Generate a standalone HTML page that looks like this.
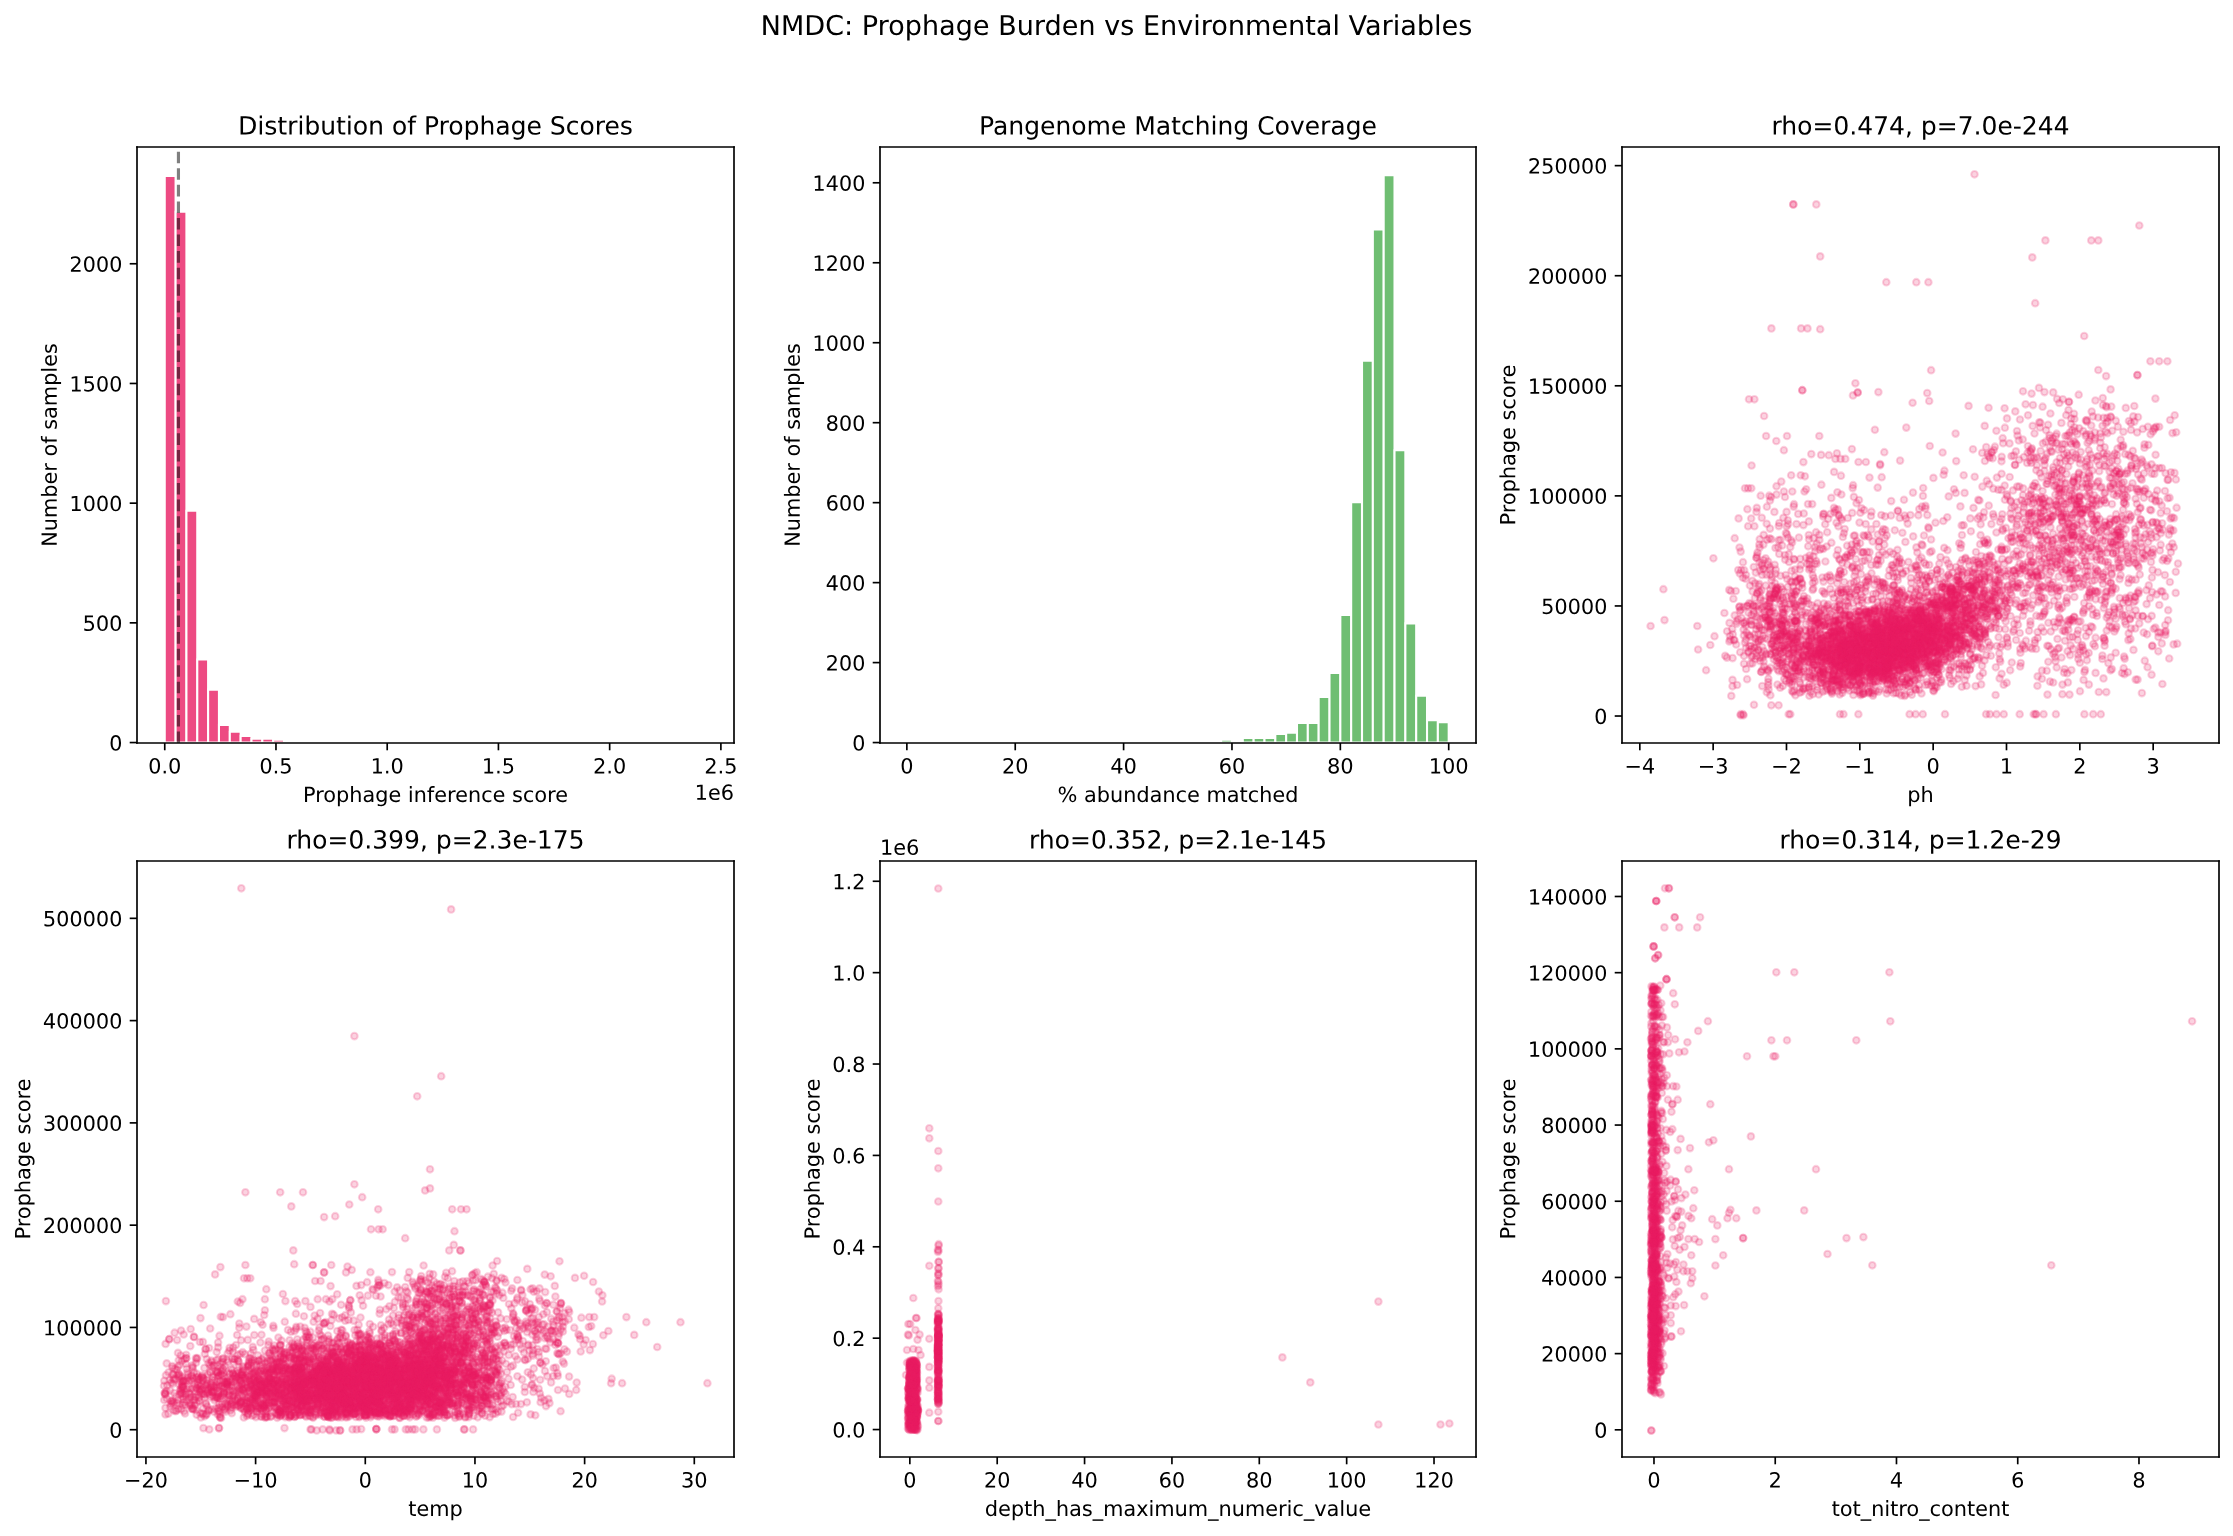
<!DOCTYPE html>
<html><head><meta charset="utf-8"><style>html,body{margin:0;padding:0;background:#fff;overflow:hidden}svg{display:block}</style></head><body>
<svg width="2233" height="1536" viewBox="0 0 1071.84 737.28" version="1.1">
<defs>
<marker id="mk" markerUnits="userSpaceOnUse" markerWidth="12" markerHeight="12" refX="6" refY="6" overflow="visible"><circle cx="6" cy="6" r="3.2939" style="fill:#e91e63;fill-opacity:0.2;stroke:#e91e63;stroke-opacity:0.2;stroke-width:2.0833"/></marker>
<style type="text/css">*{stroke-linejoin: round; stroke-linecap: butt} .sc{fill:none;stroke:none;marker-start:url(#mk);marker-mid:url(#mk);marker-end:url(#mk)}</style>
</defs>
<g id="figure_1">
<g id="patch_1">
<path d="M 0 737.28 L 1071.84 737.28 L 1071.84 0 L 0 0 z
" style="fill: #ffffff"/>
</g>
<g id="axes_1">
<g id="patch_2">
<path d="M 65.76 356.64 L 352.32 356.64 L 352.32 70.56 L 65.76 70.56 z
" style="fill: #ffffff"/>
</g>
<g id="patch_3">
<path d="M 79.076571 356.4288 L 84.281001 356.4288 L 84.281001 84.432096 L 79.076571 84.432096 z
" clip-path="url(#p96f0b81eba)" style="fill: #e91e63; opacity: 0.8; stroke: #ffffff; stroke-linejoin: miter"/>
</g>
<g id="patch_4">
<path d="M 84.281001 356.4288 L 89.48543 356.4288 L 89.48543 101.668896 L 84.281001 101.668896 z
" clip-path="url(#p96f0b81eba)" style="fill: #e91e63; opacity: 0.8; stroke: #ffffff; stroke-linejoin: miter"/>
</g>
<g id="patch_5">
<path d="M 89.48543 356.4288 L 94.689859 356.4288 L 94.689859 245.193984 L 89.48543 245.193984 z
" clip-path="url(#p96f0b81eba)" style="fill: #e91e63; opacity: 0.8; stroke: #ffffff; stroke-linejoin: miter"/>
</g>
<g id="patch_6">
<path d="M 94.689859 356.4288 L 99.894289 356.4288 L 99.894289 316.554336 L 94.689859 316.554336 z
" clip-path="url(#p96f0b81eba)" style="fill: #e91e63; opacity: 0.8; stroke: #ffffff; stroke-linejoin: miter"/>
</g>
<g id="patch_7">
<path d="M 99.894289 356.4288 L 105.098718 356.4288 L 105.098718 331.033248 L 99.894289 331.033248 z
" clip-path="url(#p96f0b81eba)" style="fill: #e91e63; opacity: 0.8; stroke: #ffffff; stroke-linejoin: miter"/>
</g>
<g id="patch_8">
<path d="M 105.098718 356.4288 L 110.303148 356.4288 L 110.303148 347.925312 L 105.098718 347.925312 z
" clip-path="url(#p96f0b81eba)" style="fill: #e91e63; opacity: 0.8; stroke: #ffffff; stroke-linejoin: miter"/>
</g>
<g id="patch_9">
<path d="M 110.303148 356.4288 L 115.507577 356.4288 L 115.507577 351.25776 L 110.303148 351.25776 z
" clip-path="url(#p96f0b81eba)" style="fill: #e91e63; opacity: 0.8; stroke: #ffffff; stroke-linejoin: miter"/>
</g>
<g id="patch_10">
<path d="M 115.507577 356.4288 L 120.712006 356.4288 L 120.712006 353.211264 L 115.507577 353.211264 z
" clip-path="url(#p96f0b81eba)" style="fill: #e91e63; opacity: 0.8; stroke: #ffffff; stroke-linejoin: miter"/>
</g>
<g id="patch_11">
<path d="M 120.712006 356.4288 L 125.916436 356.4288 L 125.916436 354.590208 L 120.712006 354.590208 z
" clip-path="url(#p96f0b81eba)" style="fill: #e91e63; opacity: 0.8; stroke: #ffffff; stroke-linejoin: miter"/>
</g>
<g id="patch_12">
<path d="M 125.916436 356.4288 L 131.120865 356.4288 L 131.120865 354.590208 L 125.916436 354.590208 z
" clip-path="url(#p96f0b81eba)" style="fill: #e91e63; opacity: 0.8; stroke: #ffffff; stroke-linejoin: miter"/>
</g>
<g id="patch_13">
<path d="M 131.120865 356.4288 L 136.325294 356.4288 L 136.325294 355.049856 L 131.120865 355.049856 z
" clip-path="url(#p96f0b81eba)" style="fill: #e91e63; opacity: 0.8; stroke: #ffffff; stroke-linejoin: miter"/>
</g>
<g id="patch_14">
<path d="M 136.325294 356.4288 L 141.529724 356.4288 L 141.529724 356.313888 L 136.325294 356.313888 z
" clip-path="url(#p96f0b81eba)" style="fill: #e91e63; opacity: 0.8; stroke: #ffffff; stroke-linejoin: miter"/>
</g>
<g id="patch_15">
<path d="M 141.529724 356.4288 L 146.734153 356.4288 L 146.734153 356.313888 L 141.529724 356.313888 z
" clip-path="url(#p96f0b81eba)" style="fill: #e91e63; opacity: 0.8; stroke: #ffffff; stroke-linejoin: miter"/>
</g>
<g id="patch_16">
<path d="M 146.734153 356.4288 L 151.938582 356.4288 L 151.938582 356.313888 L 146.734153 356.313888 z
" clip-path="url(#p96f0b81eba)" style="fill: #e91e63; opacity: 0.8; stroke: #ffffff; stroke-linejoin: miter"/>
</g>
<g id="patch_17">
<path d="M 151.938582 356.4288 L 157.143012 356.4288 L 157.143012 356.313888 L 151.938582 356.313888 z
" clip-path="url(#p96f0b81eba)" style="fill: #e91e63; opacity: 0.8; stroke: #ffffff; stroke-linejoin: miter"/>
</g>
<g id="patch_18">
<path d="M 157.143012 356.4288 L 162.347441 356.4288 L 162.347441 356.4288 L 157.143012 356.4288 z
" clip-path="url(#p96f0b81eba)" style="fill: #e91e63; opacity: 0.8; stroke: #ffffff; stroke-linejoin: miter"/>
</g>
<g id="patch_19">
<path d="M 162.347441 356.4288 L 167.55187 356.4288 L 167.55187 356.313888 L 162.347441 356.313888 z
" clip-path="url(#p96f0b81eba)" style="fill: #e91e63; opacity: 0.8; stroke: #ffffff; stroke-linejoin: miter"/>
</g>
<g id="patch_20">
<path d="M 167.55187 356.4288 L 172.7563 356.4288 L 172.7563 356.4288 L 167.55187 356.4288 z
" clip-path="url(#p96f0b81eba)" style="fill: #e91e63; opacity: 0.8; stroke: #ffffff; stroke-linejoin: miter"/>
</g>
<g id="patch_21">
<path d="M 172.7563 356.4288 L 177.960729 356.4288 L 177.960729 356.313888 L 172.7563 356.313888 z
" clip-path="url(#p96f0b81eba)" style="fill: #e91e63; opacity: 0.8; stroke: #ffffff; stroke-linejoin: miter"/>
</g>
<g id="patch_22">
<path d="M 177.960729 356.4288 L 183.165158 356.4288 L 183.165158 356.4288 L 177.960729 356.4288 z
" clip-path="url(#p96f0b81eba)" style="fill: #e91e63; opacity: 0.8; stroke: #ffffff; stroke-linejoin: miter"/>
</g>
<g id="patch_23">
<path d="M 183.165158 356.4288 L 188.369588 356.4288 L 188.369588 356.4288 L 183.165158 356.4288 z
" clip-path="url(#p96f0b81eba)" style="fill: #e91e63; opacity: 0.8; stroke: #ffffff; stroke-linejoin: miter"/>
</g>
<g id="patch_24">
<path d="M 188.369588 356.4288 L 193.574017 356.4288 L 193.574017 356.4288 L 188.369588 356.4288 z
" clip-path="url(#p96f0b81eba)" style="fill: #e91e63; opacity: 0.8; stroke: #ffffff; stroke-linejoin: miter"/>
</g>
<g id="patch_25">
<path d="M 193.574017 356.4288 L 198.778446 356.4288 L 198.778446 356.4288 L 193.574017 356.4288 z
" clip-path="url(#p96f0b81eba)" style="fill: #e91e63; opacity: 0.8; stroke: #ffffff; stroke-linejoin: miter"/>
</g>
<g id="patch_26">
<path d="M 198.778446 356.4288 L 203.982876 356.4288 L 203.982876 356.4288 L 198.778446 356.4288 z
" clip-path="url(#p96f0b81eba)" style="fill: #e91e63; opacity: 0.8; stroke: #ffffff; stroke-linejoin: miter"/>
</g>
<g id="patch_27">
<path d="M 203.982876 356.4288 L 209.187305 356.4288 L 209.187305 356.4288 L 203.982876 356.4288 z
" clip-path="url(#p96f0b81eba)" style="fill: #e91e63; opacity: 0.8; stroke: #ffffff; stroke-linejoin: miter"/>
</g>
<g id="patch_28">
<path d="M 209.187305 356.4288 L 214.391734 356.4288 L 214.391734 356.4288 L 209.187305 356.4288 z
" clip-path="url(#p96f0b81eba)" style="fill: #e91e63; opacity: 0.8; stroke: #ffffff; stroke-linejoin: miter"/>
</g>
<g id="patch_29">
<path d="M 214.391734 356.4288 L 219.596164 356.4288 L 219.596164 356.4288 L 214.391734 356.4288 z
" clip-path="url(#p96f0b81eba)" style="fill: #e91e63; opacity: 0.8; stroke: #ffffff; stroke-linejoin: miter"/>
</g>
<g id="patch_30">
<path d="M 219.596164 356.4288 L 224.800593 356.4288 L 224.800593 356.4288 L 219.596164 356.4288 z
" clip-path="url(#p96f0b81eba)" style="fill: #e91e63; opacity: 0.8; stroke: #ffffff; stroke-linejoin: miter"/>
</g>
<g id="patch_31">
<path d="M 224.800593 356.4288 L 230.005023 356.4288 L 230.005023 356.4288 L 224.800593 356.4288 z
" clip-path="url(#p96f0b81eba)" style="fill: #e91e63; opacity: 0.8; stroke: #ffffff; stroke-linejoin: miter"/>
</g>
<g id="patch_32">
<path d="M 230.005023 356.4288 L 235.209452 356.4288 L 235.209452 356.4288 L 230.005023 356.4288 z
" clip-path="url(#p96f0b81eba)" style="fill: #e91e63; opacity: 0.8; stroke: #ffffff; stroke-linejoin: miter"/>
</g>
<g id="patch_33">
<path d="M 235.209452 356.4288 L 240.413881 356.4288 L 240.413881 356.4288 L 235.209452 356.4288 z
" clip-path="url(#p96f0b81eba)" style="fill: #e91e63; opacity: 0.8; stroke: #ffffff; stroke-linejoin: miter"/>
</g>
<g id="patch_34">
<path d="M 240.413881 356.4288 L 245.618311 356.4288 L 245.618311 356.4288 L 240.413881 356.4288 z
" clip-path="url(#p96f0b81eba)" style="fill: #e91e63; opacity: 0.8; stroke: #ffffff; stroke-linejoin: miter"/>
</g>
<g id="patch_35">
<path d="M 245.618311 356.4288 L 250.82274 356.4288 L 250.82274 356.4288 L 245.618311 356.4288 z
" clip-path="url(#p96f0b81eba)" style="fill: #e91e63; opacity: 0.8; stroke: #ffffff; stroke-linejoin: miter"/>
</g>
<g id="patch_36">
<path d="M 250.82274 356.4288 L 256.027169 356.4288 L 256.027169 356.4288 L 250.82274 356.4288 z
" clip-path="url(#p96f0b81eba)" style="fill: #e91e63; opacity: 0.8; stroke: #ffffff; stroke-linejoin: miter"/>
</g>
<g id="patch_37">
<path d="M 256.027169 356.4288 L 261.231599 356.4288 L 261.231599 356.4288 L 256.027169 356.4288 z
" clip-path="url(#p96f0b81eba)" style="fill: #e91e63; opacity: 0.8; stroke: #ffffff; stroke-linejoin: miter"/>
</g>
<g id="patch_38">
<path d="M 261.231599 356.4288 L 266.436028 356.4288 L 266.436028 356.4288 L 261.231599 356.4288 z
" clip-path="url(#p96f0b81eba)" style="fill: #e91e63; opacity: 0.8; stroke: #ffffff; stroke-linejoin: miter"/>
</g>
<g id="patch_39">
<path d="M 266.436028 356.4288 L 271.640457 356.4288 L 271.640457 356.4288 L 266.436028 356.4288 z
" clip-path="url(#p96f0b81eba)" style="fill: #e91e63; opacity: 0.8; stroke: #ffffff; stroke-linejoin: miter"/>
</g>
<g id="patch_40">
<path d="M 271.640457 356.4288 L 276.844887 356.4288 L 276.844887 356.4288 L 271.640457 356.4288 z
" clip-path="url(#p96f0b81eba)" style="fill: #e91e63; opacity: 0.8; stroke: #ffffff; stroke-linejoin: miter"/>
</g>
<g id="patch_41">
<path d="M 276.844887 356.4288 L 282.049316 356.4288 L 282.049316 356.4288 L 276.844887 356.4288 z
" clip-path="url(#p96f0b81eba)" style="fill: #e91e63; opacity: 0.8; stroke: #ffffff; stroke-linejoin: miter"/>
</g>
<g id="patch_42">
<path d="M 282.049316 356.4288 L 287.253745 356.4288 L 287.253745 356.4288 L 282.049316 356.4288 z
" clip-path="url(#p96f0b81eba)" style="fill: #e91e63; opacity: 0.8; stroke: #ffffff; stroke-linejoin: miter"/>
</g>
<g id="patch_43">
<path d="M 287.253745 356.4288 L 292.458175 356.4288 L 292.458175 356.4288 L 287.253745 356.4288 z
" clip-path="url(#p96f0b81eba)" style="fill: #e91e63; opacity: 0.8; stroke: #ffffff; stroke-linejoin: miter"/>
</g>
<g id="patch_44">
<path d="M 292.458175 356.4288 L 297.662604 356.4288 L 297.662604 356.4288 L 292.458175 356.4288 z
" clip-path="url(#p96f0b81eba)" style="fill: #e91e63; opacity: 0.8; stroke: #ffffff; stroke-linejoin: miter"/>
</g>
<g id="patch_45">
<path d="M 297.662604 356.4288 L 302.867033 356.4288 L 302.867033 356.4288 L 297.662604 356.4288 z
" clip-path="url(#p96f0b81eba)" style="fill: #e91e63; opacity: 0.8; stroke: #ffffff; stroke-linejoin: miter"/>
</g>
<g id="patch_46">
<path d="M 302.867033 356.4288 L 308.071463 356.4288 L 308.071463 356.4288 L 302.867033 356.4288 z
" clip-path="url(#p96f0b81eba)" style="fill: #e91e63; opacity: 0.8; stroke: #ffffff; stroke-linejoin: miter"/>
</g>
<g id="patch_47">
<path d="M 308.071463 356.4288 L 313.275892 356.4288 L 313.275892 356.4288 L 308.071463 356.4288 z
" clip-path="url(#p96f0b81eba)" style="fill: #e91e63; opacity: 0.8; stroke: #ffffff; stroke-linejoin: miter"/>
</g>
<g id="patch_48">
<path d="M 313.275892 356.4288 L 318.480321 356.4288 L 318.480321 356.4288 L 313.275892 356.4288 z
" clip-path="url(#p96f0b81eba)" style="fill: #e91e63; opacity: 0.8; stroke: #ffffff; stroke-linejoin: miter"/>
</g>
<g id="patch_49">
<path d="M 318.480321 356.4288 L 323.684751 356.4288 L 323.684751 356.4288 L 318.480321 356.4288 z
" clip-path="url(#p96f0b81eba)" style="fill: #e91e63; opacity: 0.8; stroke: #ffffff; stroke-linejoin: miter"/>
</g>
<g id="patch_50">
<path d="M 323.684751 356.4288 L 328.88918 356.4288 L 328.88918 356.4288 L 323.684751 356.4288 z
" clip-path="url(#p96f0b81eba)" style="fill: #e91e63; opacity: 0.8; stroke: #ffffff; stroke-linejoin: miter"/>
</g>
<g id="patch_51">
<path d="M 328.88918 356.4288 L 334.09361 356.4288 L 334.09361 356.4288 L 328.88918 356.4288 z
" clip-path="url(#p96f0b81eba)" style="fill: #e91e63; opacity: 0.8; stroke: #ffffff; stroke-linejoin: miter"/>
</g>
<g id="patch_52">
<path d="M 334.09361 356.4288 L 339.298039 356.4288 L 339.298039 356.313888 L 334.09361 356.313888 z
" clip-path="url(#p96f0b81eba)" style="fill: #e91e63; opacity: 0.8; stroke: #ffffff; stroke-linejoin: miter"/>
</g>
<g id="matplotlib.axis_1">
<g id="xtick_1">
<g id="line2d_1">
<defs>
<path id="m8da89e27fe" d="M 0 0 L 0 3.5 " style="stroke: #000000; stroke-width: 0.8"/>
</defs>
<g>
<use href="#m8da89e27fe" x="79.076571" y="356.64" style="stroke: #000000; stroke-width: 0.8"/>
</g>
</g>
<g id="text_1">
<!-- 0.0 -->
<g transform="translate(71.125009 371.238437) scale(0.1 -0.1)">
<defs>
<path id="DejaVuSans-30" d="M 2034 4250 Q 1547 4250 1301 3770 Q 1056 3291 1056 2328 Q 1056 1369 1301 889 Q 1547 409 2034 409 Q 2525 409 2770 889 Q 3016 1369 3016 2328 Q 3016 3291 2770 3770 Q 2525 4250 2034 4250 z
M 2034 4750 Q 2819 4750 3233 4129 Q 3647 3509 3647 2328 Q 3647 1150 3233 529 Q 2819 -91 2034 -91 Q 1250 -91 836 529 Q 422 1150 422 2328 Q 422 3509 836 4129 Q 1250 4750 2034 4750 z
" transform="scale(0.015625)"/>
<path id="DejaVuSans-2e" d="M 684 794 L 1344 794 L 1344 0 L 684 0 L 684 794 z
" transform="scale(0.015625)"/>
</defs>
<use href="#DejaVuSans-30"/>
<use href="#DejaVuSans-2e" transform="translate(63.623047 0)"/>
<use href="#DejaVuSans-30" transform="translate(95.410156 0)"/>
</g>
</g>
</g>
<g id="xtick_2">
<g id="line2d_2">
<g>
<use href="#m8da89e27fe" x="132.466286" y="356.64" style="stroke: #000000; stroke-width: 0.8"/>
</g>
</g>
<g id="text_2">
<!-- 0.5 -->
<g transform="translate(124.514723 371.238437) scale(0.1 -0.1)">
<defs>
<path id="DejaVuSans-35" d="M 691 4666 L 3169 4666 L 3169 4134 L 1269 4134 L 1269 2991 Q 1406 3038 1543 3061 Q 1681 3084 1819 3084 Q 2600 3084 3056 2656 Q 3513 2228 3513 1497 Q 3513 744 3044 326 Q 2575 -91 1722 -91 Q 1428 -91 1123 -41 Q 819 9 494 109 L 494 744 Q 775 591 1075 516 Q 1375 441 1709 441 Q 2250 441 2565 725 Q 2881 1009 2881 1497 Q 2881 1984 2565 2268 Q 2250 2553 1709 2553 Q 1456 2553 1204 2497 Q 953 2441 691 2322 L 691 4666 z
" transform="scale(0.015625)"/>
</defs>
<use href="#DejaVuSans-30"/>
<use href="#DejaVuSans-2e" transform="translate(63.623047 0)"/>
<use href="#DejaVuSans-35" transform="translate(95.410156 0)"/>
</g>
</g>
</g>
<g id="xtick_3">
<g id="line2d_3">
<g>
<use href="#m8da89e27fe" x="185.856" y="356.64" style="stroke: #000000; stroke-width: 0.8"/>
</g>
</g>
<g id="text_3">
<!-- 1.0 -->
<g transform="translate(177.904437 371.238437) scale(0.1 -0.1)">
<defs>
<path id="DejaVuSans-31" d="M 794 531 L 1825 531 L 1825 4091 L 703 3866 L 703 4441 L 1819 4666 L 2450 4666 L 2450 531 L 3481 531 L 3481 0 L 794 0 L 794 531 z
" transform="scale(0.015625)"/>
</defs>
<use href="#DejaVuSans-31"/>
<use href="#DejaVuSans-2e" transform="translate(63.623047 0)"/>
<use href="#DejaVuSans-30" transform="translate(95.410156 0)"/>
</g>
</g>
</g>
<g id="xtick_4">
<g id="line2d_4">
<g>
<use href="#m8da89e27fe" x="239.245714" y="356.64" style="stroke: #000000; stroke-width: 0.8"/>
</g>
</g>
<g id="text_4">
<!-- 1.5 -->
<g transform="translate(231.294152 371.238437) scale(0.1 -0.1)">
<use href="#DejaVuSans-31"/>
<use href="#DejaVuSans-2e" transform="translate(63.623047 0)"/>
<use href="#DejaVuSans-35" transform="translate(95.410156 0)"/>
</g>
</g>
</g>
<g id="xtick_5">
<g id="line2d_5">
<g>
<use href="#m8da89e27fe" x="292.635429" y="356.64" style="stroke: #000000; stroke-width: 0.8"/>
</g>
</g>
<g id="text_5">
<!-- 2.0 -->
<g transform="translate(284.683866 371.238437) scale(0.1 -0.1)">
<defs>
<path id="DejaVuSans-32" d="M 1228 531 L 3431 531 L 3431 0 L 469 0 L 469 531 Q 828 903 1448 1529 Q 2069 2156 2228 2338 Q 2531 2678 2651 2914 Q 2772 3150 2772 3378 Q 2772 3750 2511 3984 Q 2250 4219 1831 4219 Q 1534 4219 1204 4116 Q 875 4013 500 3803 L 500 4441 Q 881 4594 1212 4672 Q 1544 4750 1819 4750 Q 2544 4750 2975 4387 Q 3406 4025 3406 3419 Q 3406 3131 3298 2873 Q 3191 2616 2906 2266 Q 2828 2175 2409 1742 Q 1991 1309 1228 531 z
" transform="scale(0.015625)"/>
</defs>
<use href="#DejaVuSans-32"/>
<use href="#DejaVuSans-2e" transform="translate(63.623047 0)"/>
<use href="#DejaVuSans-30" transform="translate(95.410156 0)"/>
</g>
</g>
</g>
<g id="xtick_6">
<g id="line2d_6">
<g>
<use href="#m8da89e27fe" x="346.025143" y="356.64" style="stroke: #000000; stroke-width: 0.8"/>
</g>
</g>
<g id="text_6">
<!-- 2.5 -->
<g transform="translate(338.07358 371.238437) scale(0.1 -0.1)">
<use href="#DejaVuSans-32"/>
<use href="#DejaVuSans-2e" transform="translate(63.623047 0)"/>
<use href="#DejaVuSans-35" transform="translate(95.410156 0)"/>
</g>
</g>
</g>
<g id="text_7">
<!-- Prophage inference score -->
<g transform="translate(145.432969 384.916562) scale(0.1 -0.1)">
<defs>
<path id="DejaVuSans-50" d="M 1259 4147 L 1259 2394 L 2053 2394 Q 2494 2394 2734 2622 Q 2975 2850 2975 3272 Q 2975 3691 2734 3919 Q 2494 4147 2053 4147 L 1259 4147 z
M 628 4666 L 2053 4666 Q 2838 4666 3239 4311 Q 3641 3956 3641 3272 Q 3641 2581 3239 2228 Q 2838 1875 2053 1875 L 1259 1875 L 1259 0 L 628 0 L 628 4666 z
" transform="scale(0.015625)"/>
<path id="DejaVuSans-72" d="M 2631 2963 Q 2534 3019 2420 3045 Q 2306 3072 2169 3072 Q 1681 3072 1420 2755 Q 1159 2438 1159 1844 L 1159 0 L 581 0 L 581 3500 L 1159 3500 L 1159 2956 Q 1341 3275 1631 3429 Q 1922 3584 2338 3584 Q 2397 3584 2469 3576 Q 2541 3569 2628 3553 L 2631 2963 z
" transform="scale(0.015625)"/>
<path id="DejaVuSans-6f" d="M 1959 3097 Q 1497 3097 1228 2736 Q 959 2375 959 1747 Q 959 1119 1226 758 Q 1494 397 1959 397 Q 2419 397 2687 759 Q 2956 1122 2956 1747 Q 2956 2369 2687 2733 Q 2419 3097 1959 3097 z
M 1959 3584 Q 2709 3584 3137 3096 Q 3566 2609 3566 1747 Q 3566 888 3137 398 Q 2709 -91 1959 -91 Q 1206 -91 779 398 Q 353 888 353 1747 Q 353 2609 779 3096 Q 1206 3584 1959 3584 z
" transform="scale(0.015625)"/>
<path id="DejaVuSans-70" d="M 1159 525 L 1159 -1331 L 581 -1331 L 581 3500 L 1159 3500 L 1159 2969 Q 1341 3281 1617 3432 Q 1894 3584 2278 3584 Q 2916 3584 3314 3078 Q 3713 2572 3713 1747 Q 3713 922 3314 415 Q 2916 -91 2278 -91 Q 1894 -91 1617 61 Q 1341 213 1159 525 z
M 3116 1747 Q 3116 2381 2855 2742 Q 2594 3103 2138 3103 Q 1681 3103 1420 2742 Q 1159 2381 1159 1747 Q 1159 1113 1420 752 Q 1681 391 2138 391 Q 2594 391 2855 752 Q 3116 1113 3116 1747 z
" transform="scale(0.015625)"/>
<path id="DejaVuSans-68" d="M 3513 2113 L 3513 0 L 2938 0 L 2938 2094 Q 2938 2591 2744 2837 Q 2550 3084 2163 3084 Q 1697 3084 1428 2787 Q 1159 2491 1159 1978 L 1159 0 L 581 0 L 581 4863 L 1159 4863 L 1159 2956 Q 1366 3272 1645 3428 Q 1925 3584 2291 3584 Q 2894 3584 3203 3211 Q 3513 2838 3513 2113 z
" transform="scale(0.015625)"/>
<path id="DejaVuSans-61" d="M 2194 1759 Q 1497 1759 1228 1600 Q 959 1441 959 1056 Q 959 750 1161 570 Q 1363 391 1709 391 Q 2188 391 2477 730 Q 2766 1069 2766 1631 L 2766 1759 L 2194 1759 z
M 3341 1997 L 3341 0 L 2766 0 L 2766 531 Q 2569 213 2275 61 Q 1981 -91 1556 -91 Q 1019 -91 701 211 Q 384 513 384 1019 Q 384 1609 779 1909 Q 1175 2209 1959 2209 L 2766 2209 L 2766 2266 Q 2766 2663 2505 2880 Q 2244 3097 1772 3097 Q 1472 3097 1187 3025 Q 903 2953 641 2809 L 641 3341 Q 956 3463 1253 3523 Q 1550 3584 1831 3584 Q 2591 3584 2966 3190 Q 3341 2797 3341 1997 z
" transform="scale(0.015625)"/>
<path id="DejaVuSans-67" d="M 2906 1791 Q 2906 2416 2648 2759 Q 2391 3103 1925 3103 Q 1463 3103 1205 2759 Q 947 2416 947 1791 Q 947 1169 1205 825 Q 1463 481 1925 481 Q 2391 481 2648 825 Q 2906 1169 2906 1791 z
M 3481 434 Q 3481 -459 3084 -895 Q 2688 -1331 1869 -1331 Q 1566 -1331 1297 -1286 Q 1028 -1241 775 -1147 L 775 -588 Q 1028 -725 1275 -790 Q 1522 -856 1778 -856 Q 2344 -856 2625 -561 Q 2906 -266 2906 331 L 2906 616 Q 2728 306 2450 153 Q 2172 0 1784 0 Q 1141 0 747 490 Q 353 981 353 1791 Q 353 2603 747 3093 Q 1141 3584 1784 3584 Q 2172 3584 2450 3431 Q 2728 3278 2906 2969 L 2906 3500 L 3481 3500 L 3481 434 z
" transform="scale(0.015625)"/>
<path id="DejaVuSans-65" d="M 3597 1894 L 3597 1613 L 953 1613 Q 991 1019 1311 708 Q 1631 397 2203 397 Q 2534 397 2845 478 Q 3156 559 3463 722 L 3463 178 Q 3153 47 2828 -22 Q 2503 -91 2169 -91 Q 1331 -91 842 396 Q 353 884 353 1716 Q 353 2575 817 3079 Q 1281 3584 2069 3584 Q 2775 3584 3186 3129 Q 3597 2675 3597 1894 z
M 3022 2063 Q 3016 2534 2758 2815 Q 2500 3097 2075 3097 Q 1594 3097 1305 2825 Q 1016 2553 972 2059 L 3022 2063 z
" transform="scale(0.015625)"/>
<path id="DejaVuSans-20" transform="scale(0.015625)"/>
<path id="DejaVuSans-69" d="M 603 3500 L 1178 3500 L 1178 0 L 603 0 L 603 3500 z
M 603 4863 L 1178 4863 L 1178 4134 L 603 4134 L 603 4863 z
" transform="scale(0.015625)"/>
<path id="DejaVuSans-6e" d="M 3513 2113 L 3513 0 L 2938 0 L 2938 2094 Q 2938 2591 2744 2837 Q 2550 3084 2163 3084 Q 1697 3084 1428 2787 Q 1159 2491 1159 1978 L 1159 0 L 581 0 L 581 3500 L 1159 3500 L 1159 2956 Q 1366 3272 1645 3428 Q 1925 3584 2291 3584 Q 2894 3584 3203 3211 Q 3513 2838 3513 2113 z
" transform="scale(0.015625)"/>
<path id="DejaVuSans-66" d="M 2375 4863 L 2375 4384 L 1825 4384 Q 1516 4384 1395 4259 Q 1275 4134 1275 3809 L 1275 3500 L 2222 3500 L 2222 3053 L 1275 3053 L 1275 0 L 697 0 L 697 3053 L 147 3053 L 147 3500 L 697 3500 L 697 3744 Q 697 4328 969 4595 Q 1241 4863 1831 4863 L 2375 4863 z
" transform="scale(0.015625)"/>
<path id="DejaVuSans-63" d="M 3122 3366 L 3122 2828 Q 2878 2963 2633 3030 Q 2388 3097 2138 3097 Q 1578 3097 1268 2742 Q 959 2388 959 1747 Q 959 1106 1268 751 Q 1578 397 2138 397 Q 2388 397 2633 464 Q 2878 531 3122 666 L 3122 134 Q 2881 22 2623 -34 Q 2366 -91 2075 -91 Q 1284 -91 818 406 Q 353 903 353 1747 Q 353 2603 823 3093 Q 1294 3584 2113 3584 Q 2378 3584 2631 3529 Q 2884 3475 3122 3366 z
" transform="scale(0.015625)"/>
<path id="DejaVuSans-73" d="M 2834 3397 L 2834 2853 Q 2591 2978 2328 3040 Q 2066 3103 1784 3103 Q 1356 3103 1142 2972 Q 928 2841 928 2578 Q 928 2378 1081 2264 Q 1234 2150 1697 2047 L 1894 2003 Q 2506 1872 2764 1633 Q 3022 1394 3022 966 Q 3022 478 2636 193 Q 2250 -91 1575 -91 Q 1294 -91 989 -36 Q 684 19 347 128 L 347 722 Q 666 556 975 473 Q 1284 391 1588 391 Q 1994 391 2212 530 Q 2431 669 2431 922 Q 2431 1156 2273 1281 Q 2116 1406 1581 1522 L 1381 1569 Q 847 1681 609 1914 Q 372 2147 372 2553 Q 372 3047 722 3315 Q 1072 3584 1716 3584 Q 2034 3584 2315 3537 Q 2597 3491 2834 3397 z
" transform="scale(0.015625)"/>
</defs>
<use href="#DejaVuSans-50"/>
<use href="#DejaVuSans-72" transform="translate(58.552734 0)"/>
<use href="#DejaVuSans-6f" transform="translate(97.416016 0)"/>
<use href="#DejaVuSans-70" transform="translate(158.597656 0)"/>
<use href="#DejaVuSans-68" transform="translate(222.074219 0)"/>
<use href="#DejaVuSans-61" transform="translate(285.453125 0)"/>
<use href="#DejaVuSans-67" transform="translate(346.732422 0)"/>
<use href="#DejaVuSans-65" transform="translate(410.208984 0)"/>
<use href="#DejaVuSans-20" transform="translate(471.732422 0)"/>
<use href="#DejaVuSans-69" transform="translate(503.519531 0)"/>
<use href="#DejaVuSans-6e" transform="translate(531.302734 0)"/>
<use href="#DejaVuSans-66" transform="translate(594.681641 0)"/>
<use href="#DejaVuSans-65" transform="translate(629.886719 0)"/>
<use href="#DejaVuSans-72" transform="translate(691.410156 0)"/>
<use href="#DejaVuSans-65" transform="translate(730.273438 0)"/>
<use href="#DejaVuSans-6e" transform="translate(791.796875 0)"/>
<use href="#DejaVuSans-63" transform="translate(855.175781 0)"/>
<use href="#DejaVuSans-65" transform="translate(910.15625 0)"/>
<use href="#DejaVuSans-20" transform="translate(971.679688 0)"/>
<use href="#DejaVuSans-73" transform="translate(1003.466797 0)"/>
<use href="#DejaVuSans-63" transform="translate(1055.566406 0)"/>
<use href="#DejaVuSans-6f" transform="translate(1110.546875 0)"/>
<use href="#DejaVuSans-72" transform="translate(1171.728516 0)"/>
<use href="#DejaVuSans-65" transform="translate(1210.591797 0)"/>
</g>
</g>
<g id="text_8">
<!-- 1e6 -->
<g transform="translate(333.441875 383.916562) scale(0.1 -0.1)">
<defs>
<path id="DejaVuSans-36" d="M 2113 2584 Q 1688 2584 1439 2293 Q 1191 2003 1191 1497 Q 1191 994 1439 701 Q 1688 409 2113 409 Q 2538 409 2786 701 Q 3034 994 3034 1497 Q 3034 2003 2786 2293 Q 2538 2584 2113 2584 z
M 3366 4563 L 3366 3988 Q 3128 4100 2886 4159 Q 2644 4219 2406 4219 Q 1781 4219 1451 3797 Q 1122 3375 1075 2522 Q 1259 2794 1537 2939 Q 1816 3084 2150 3084 Q 2853 3084 3261 2657 Q 3669 2231 3669 1497 Q 3669 778 3244 343 Q 2819 -91 2113 -91 Q 1303 -91 875 529 Q 447 1150 447 2328 Q 447 3434 972 4092 Q 1497 4750 2381 4750 Q 2619 4750 2861 4703 Q 3103 4656 3366 4563 z
" transform="scale(0.015625)"/>
</defs>
<use href="#DejaVuSans-31"/>
<use href="#DejaVuSans-65" transform="translate(63.623047 0)"/>
<use href="#DejaVuSans-36" transform="translate(125.146484 0)"/>
</g>
</g>
</g>
<g id="matplotlib.axis_2">
<g id="ytick_1">
<g id="line2d_7">
<defs>
<path id="mcd1c41be28" d="M 0 0 L -3.5 0 " style="stroke: #000000; stroke-width: 0.8"/>
</defs>
<g>
<use href="#mcd1c41be28" x="65.76" y="356.4288" style="stroke: #000000; stroke-width: 0.8"/>
</g>
</g>
<g id="text_9">
<!-- 0 -->
<g transform="translate(52.3975 360.228019) scale(0.1 -0.1)">
<use href="#DejaVuSans-30"/>
</g>
</g>
</g>
<g id="ytick_2">
<g id="line2d_8">
<g>
<use href="#mcd1c41be28" x="65.76" y="298.9728" style="stroke: #000000; stroke-width: 0.8"/>
</g>
</g>
<g id="text_10">
<!-- 500 -->
<g transform="translate(39.6725 302.772019) scale(0.1 -0.1)">
<use href="#DejaVuSans-35"/>
<use href="#DejaVuSans-30" transform="translate(63.623047 0)"/>
<use href="#DejaVuSans-30" transform="translate(127.246094 0)"/>
</g>
</g>
</g>
<g id="ytick_3">
<g id="line2d_9">
<g>
<use href="#mcd1c41be28" x="65.76" y="241.5168" style="stroke: #000000; stroke-width: 0.8"/>
</g>
</g>
<g id="text_11">
<!-- 1000 -->
<g transform="translate(33.31 245.316019) scale(0.1 -0.1)">
<use href="#DejaVuSans-31"/>
<use href="#DejaVuSans-30" transform="translate(63.623047 0)"/>
<use href="#DejaVuSans-30" transform="translate(127.246094 0)"/>
<use href="#DejaVuSans-30" transform="translate(190.869141 0)"/>
</g>
</g>
</g>
<g id="ytick_4">
<g id="line2d_10">
<g>
<use href="#mcd1c41be28" x="65.76" y="184.0608" style="stroke: #000000; stroke-width: 0.8"/>
</g>
</g>
<g id="text_12">
<!-- 1500 -->
<g transform="translate(33.31 187.860019) scale(0.1 -0.1)">
<use href="#DejaVuSans-31"/>
<use href="#DejaVuSans-35" transform="translate(63.623047 0)"/>
<use href="#DejaVuSans-30" transform="translate(127.246094 0)"/>
<use href="#DejaVuSans-30" transform="translate(190.869141 0)"/>
</g>
</g>
</g>
<g id="ytick_5">
<g id="line2d_11">
<g>
<use href="#mcd1c41be28" x="65.76" y="126.6048" style="stroke: #000000; stroke-width: 0.8"/>
</g>
</g>
<g id="text_13">
<!-- 2000 -->
<g transform="translate(33.31 130.404019) scale(0.1 -0.1)">
<use href="#DejaVuSans-32"/>
<use href="#DejaVuSans-30" transform="translate(63.623047 0)"/>
<use href="#DejaVuSans-30" transform="translate(127.246094 0)"/>
<use href="#DejaVuSans-30" transform="translate(190.869141 0)"/>
</g>
</g>
</g>
<g id="text_14">
<!-- Number of samples -->
<g transform="translate(27.230312 262.467187) rotate(-90) scale(0.1 -0.1)">
<defs>
<path id="DejaVuSans-4e" d="M 628 4666 L 1478 4666 L 3547 763 L 3547 4666 L 4159 4666 L 4159 0 L 3309 0 L 1241 3903 L 1241 0 L 628 0 L 628 4666 z
" transform="scale(0.015625)"/>
<path id="DejaVuSans-75" d="M 544 1381 L 544 3500 L 1119 3500 L 1119 1403 Q 1119 906 1312 657 Q 1506 409 1894 409 Q 2359 409 2629 706 Q 2900 1003 2900 1516 L 2900 3500 L 3475 3500 L 3475 0 L 2900 0 L 2900 538 Q 2691 219 2414 64 Q 2138 -91 1772 -91 Q 1169 -91 856 284 Q 544 659 544 1381 z
M 1991 3584 L 1991 3584 z
" transform="scale(0.015625)"/>
<path id="DejaVuSans-6d" d="M 3328 2828 Q 3544 3216 3844 3400 Q 4144 3584 4550 3584 Q 5097 3584 5394 3201 Q 5691 2819 5691 2113 L 5691 0 L 5113 0 L 5113 2094 Q 5113 2597 4934 2840 Q 4756 3084 4391 3084 Q 3944 3084 3684 2787 Q 3425 2491 3425 1978 L 3425 0 L 2847 0 L 2847 2094 Q 2847 2600 2669 2842 Q 2491 3084 2119 3084 Q 1678 3084 1418 2786 Q 1159 2488 1159 1978 L 1159 0 L 581 0 L 581 3500 L 1159 3500 L 1159 2956 Q 1356 3278 1631 3431 Q 1906 3584 2284 3584 Q 2666 3584 2933 3390 Q 3200 3197 3328 2828 z
" transform="scale(0.015625)"/>
<path id="DejaVuSans-62" d="M 3116 1747 Q 3116 2381 2855 2742 Q 2594 3103 2138 3103 Q 1681 3103 1420 2742 Q 1159 2381 1159 1747 Q 1159 1113 1420 752 Q 1681 391 2138 391 Q 2594 391 2855 752 Q 3116 1113 3116 1747 z
M 1159 2969 Q 1341 3281 1617 3432 Q 1894 3584 2278 3584 Q 2916 3584 3314 3078 Q 3713 2572 3713 1747 Q 3713 922 3314 415 Q 2916 -91 2278 -91 Q 1894 -91 1617 61 Q 1341 213 1159 525 L 1159 0 L 581 0 L 581 4863 L 1159 4863 L 1159 2969 z
" transform="scale(0.015625)"/>
<path id="DejaVuSans-6c" d="M 603 4863 L 1178 4863 L 1178 0 L 603 0 L 603 4863 z
" transform="scale(0.015625)"/>
</defs>
<use href="#DejaVuSans-4e"/>
<use href="#DejaVuSans-75" transform="translate(74.804688 0)"/>
<use href="#DejaVuSans-6d" transform="translate(138.183594 0)"/>
<use href="#DejaVuSans-62" transform="translate(235.595703 0)"/>
<use href="#DejaVuSans-65" transform="translate(299.072266 0)"/>
<use href="#DejaVuSans-72" transform="translate(360.595703 0)"/>
<use href="#DejaVuSans-20" transform="translate(401.708984 0)"/>
<use href="#DejaVuSans-6f" transform="translate(433.496094 0)"/>
<use href="#DejaVuSans-66" transform="translate(494.677734 0)"/>
<use href="#DejaVuSans-20" transform="translate(529.882812 0)"/>
<use href="#DejaVuSans-73" transform="translate(561.669922 0)"/>
<use href="#DejaVuSans-61" transform="translate(613.769531 0)"/>
<use href="#DejaVuSans-6d" transform="translate(675.048828 0)"/>
<use href="#DejaVuSans-70" transform="translate(772.460938 0)"/>
<use href="#DejaVuSans-6c" transform="translate(835.9375 0)"/>
<use href="#DejaVuSans-65" transform="translate(863.720703 0)"/>
<use href="#DejaVuSans-73" transform="translate(925.244141 0)"/>
</g>
</g>
</g>
<g id="line2d_12">
<path d="M 85.653116 356.64 L 85.653116 70.56 " clip-path="url(#p96f0b81eba)" style="fill: none; stroke-dasharray: 5.55,2.4; stroke-dashoffset: 0; stroke: #000000; stroke-opacity: 0.5; stroke-width: 1.5"/>
</g>
<g id="patch_53">
<path d="M 65.76 356.64 L 65.76 70.56 " style="fill: none; stroke: #000000; stroke-width: 0.8; stroke-linejoin: miter; stroke-linecap: square"/>
</g>
<g id="patch_54">
<path d="M 352.32 356.64 L 352.32 70.56 " style="fill: none; stroke: #000000; stroke-width: 0.8; stroke-linejoin: miter; stroke-linecap: square"/>
</g>
<g id="patch_55">
<path d="M 65.76 356.64 L 352.32 356.64 " style="fill: none; stroke: #000000; stroke-width: 0.8; stroke-linejoin: miter; stroke-linecap: square"/>
</g>
<g id="patch_56">
<path d="M 65.76 70.56 L 352.32 70.56 " style="fill: none; stroke: #000000; stroke-width: 0.8; stroke-linejoin: miter; stroke-linecap: square"/>
</g>
<g id="text_15">
<!-- Distribution of Prophage Scores -->
<g transform="translate(114.3 64.56) scale(0.12 -0.12)">
<defs>
<path id="DejaVuSans-44" d="M 1259 4147 L 1259 519 L 2022 519 Q 2988 519 3436 956 Q 3884 1394 3884 2338 Q 3884 3275 3436 3711 Q 2988 4147 2022 4147 L 1259 4147 z
M 628 4666 L 1925 4666 Q 3281 4666 3915 4102 Q 4550 3538 4550 2338 Q 4550 1131 3912 565 Q 3275 0 1925 0 L 628 0 L 628 4666 z
" transform="scale(0.015625)"/>
<path id="DejaVuSans-74" d="M 1172 4494 L 1172 3500 L 2356 3500 L 2356 3053 L 1172 3053 L 1172 1153 Q 1172 725 1289 603 Q 1406 481 1766 481 L 2356 481 L 2356 0 L 1766 0 Q 1100 0 847 248 Q 594 497 594 1153 L 594 3053 L 172 3053 L 172 3500 L 594 3500 L 594 4494 L 1172 4494 z
" transform="scale(0.015625)"/>
<path id="DejaVuSans-53" d="M 3425 4513 L 3425 3897 Q 3066 4069 2747 4153 Q 2428 4238 2131 4238 Q 1616 4238 1336 4038 Q 1056 3838 1056 3469 Q 1056 3159 1242 3001 Q 1428 2844 1947 2747 L 2328 2669 Q 3034 2534 3370 2195 Q 3706 1856 3706 1288 Q 3706 609 3251 259 Q 2797 -91 1919 -91 Q 1588 -91 1214 -16 Q 841 59 441 206 L 441 856 Q 825 641 1194 531 Q 1563 422 1919 422 Q 2459 422 2753 634 Q 3047 847 3047 1241 Q 3047 1584 2836 1778 Q 2625 1972 2144 2069 L 1759 2144 Q 1053 2284 737 2584 Q 422 2884 422 3419 Q 422 4038 858 4394 Q 1294 4750 2059 4750 Q 2388 4750 2728 4690 Q 3069 4631 3425 4513 z
" transform="scale(0.015625)"/>
</defs>
<use href="#DejaVuSans-44"/>
<use href="#DejaVuSans-69" transform="translate(77.001953 0)"/>
<use href="#DejaVuSans-73" transform="translate(104.785156 0)"/>
<use href="#DejaVuSans-74" transform="translate(156.884766 0)"/>
<use href="#DejaVuSans-72" transform="translate(196.09375 0)"/>
<use href="#DejaVuSans-69" transform="translate(237.207031 0)"/>
<use href="#DejaVuSans-62" transform="translate(264.990234 0)"/>
<use href="#DejaVuSans-75" transform="translate(328.466797 0)"/>
<use href="#DejaVuSans-74" transform="translate(391.845703 0)"/>
<use href="#DejaVuSans-69" transform="translate(431.054688 0)"/>
<use href="#DejaVuSans-6f" transform="translate(458.837891 0)"/>
<use href="#DejaVuSans-6e" transform="translate(520.019531 0)"/>
<use href="#DejaVuSans-20" transform="translate(583.398438 0)"/>
<use href="#DejaVuSans-6f" transform="translate(615.185547 0)"/>
<use href="#DejaVuSans-66" transform="translate(676.367188 0)"/>
<use href="#DejaVuSans-20" transform="translate(711.572266 0)"/>
<use href="#DejaVuSans-50" transform="translate(743.359375 0)"/>
<use href="#DejaVuSans-72" transform="translate(801.912109 0)"/>
<use href="#DejaVuSans-6f" transform="translate(840.775391 0)"/>
<use href="#DejaVuSans-70" transform="translate(901.957031 0)"/>
<use href="#DejaVuSans-68" transform="translate(965.433594 0)"/>
<use href="#DejaVuSans-61" transform="translate(1028.8125 0)"/>
<use href="#DejaVuSans-67" transform="translate(1090.091797 0)"/>
<use href="#DejaVuSans-65" transform="translate(1153.568359 0)"/>
<use href="#DejaVuSans-20" transform="translate(1215.091797 0)"/>
<use href="#DejaVuSans-53" transform="translate(1246.878906 0)"/>
<use href="#DejaVuSans-63" transform="translate(1310.355469 0)"/>
<use href="#DejaVuSans-6f" transform="translate(1365.335938 0)"/>
<use href="#DejaVuSans-72" transform="translate(1426.517578 0)"/>
<use href="#DejaVuSans-65" transform="translate(1465.380859 0)"/>
<use href="#DejaVuSans-73" transform="translate(1526.904297 0)"/>
</g>
</g>
</g>
<g id="axes_2">
<g id="patch_57">
<path d="M 422.4 356.64 L 708.48 356.64 L 708.48 70.56 L 422.4 70.56 z
" style="fill: #ffffff"/>
</g>
<g id="patch_58">
<path d="M 435.293714 356.432 L 440.495406 356.432 L 440.495406 356.240074 L 435.293714 356.240074 z
" clip-path="url(#p428608d2c8)" style="fill: #4caf50; opacity: 0.8; stroke: #ffffff; stroke-linejoin: miter"/>
</g>
<g id="patch_59">
<path d="M 440.495406 356.432 L 445.697097 356.432 L 445.697097 356.432 L 440.495406 356.432 z
" clip-path="url(#p428608d2c8)" style="fill: #4caf50; opacity: 0.8; stroke: #ffffff; stroke-linejoin: miter"/>
</g>
<g id="patch_60">
<path d="M 445.697097 356.432 L 450.898789 356.432 L 450.898789 356.432 L 445.697097 356.432 z
" clip-path="url(#p428608d2c8)" style="fill: #4caf50; opacity: 0.8; stroke: #ffffff; stroke-linejoin: miter"/>
</g>
<g id="patch_61">
<path d="M 450.898789 356.432 L 456.10048 356.432 L 456.10048 356.432 L 450.898789 356.432 z
" clip-path="url(#p428608d2c8)" style="fill: #4caf50; opacity: 0.8; stroke: #ffffff; stroke-linejoin: miter"/>
</g>
<g id="patch_62">
<path d="M 456.10048 356.432 L 461.302171 356.432 L 461.302171 356.432 L 456.10048 356.432 z
" clip-path="url(#p428608d2c8)" style="fill: #4caf50; opacity: 0.8; stroke: #ffffff; stroke-linejoin: miter"/>
</g>
<g id="patch_63">
<path d="M 461.302171 356.432 L 466.503863 356.432 L 466.503863 356.432 L 461.302171 356.432 z
" clip-path="url(#p428608d2c8)" style="fill: #4caf50; opacity: 0.8; stroke: #ffffff; stroke-linejoin: miter"/>
</g>
<g id="patch_64">
<path d="M 466.503863 356.432 L 471.705554 356.432 L 471.705554 356.432 L 466.503863 356.432 z
" clip-path="url(#p428608d2c8)" style="fill: #4caf50; opacity: 0.8; stroke: #ffffff; stroke-linejoin: miter"/>
</g>
<g id="patch_65">
<path d="M 471.705554 356.432 L 476.907246 356.432 L 476.907246 356.240074 L 471.705554 356.240074 z
" clip-path="url(#p428608d2c8)" style="fill: #4caf50; opacity: 0.8; stroke: #ffffff; stroke-linejoin: miter"/>
</g>
<g id="patch_66">
<path d="M 476.907246 356.432 L 482.108937 356.432 L 482.108937 356.432 L 476.907246 356.432 z
" clip-path="url(#p428608d2c8)" style="fill: #4caf50; opacity: 0.8; stroke: #ffffff; stroke-linejoin: miter"/>
</g>
<g id="patch_67">
<path d="M 482.108937 356.432 L 487.310629 356.432 L 487.310629 356.432 L 482.108937 356.432 z
" clip-path="url(#p428608d2c8)" style="fill: #4caf50; opacity: 0.8; stroke: #ffffff; stroke-linejoin: miter"/>
</g>
<g id="patch_68">
<path d="M 487.310629 356.432 L 492.51232 356.432 L 492.51232 356.432 L 487.310629 356.432 z
" clip-path="url(#p428608d2c8)" style="fill: #4caf50; opacity: 0.8; stroke: #ffffff; stroke-linejoin: miter"/>
</g>
<g id="patch_69">
<path d="M 492.51232 356.432 L 497.714011 356.432 L 497.714011 356.432 L 492.51232 356.432 z
" clip-path="url(#p428608d2c8)" style="fill: #4caf50; opacity: 0.8; stroke: #ffffff; stroke-linejoin: miter"/>
</g>
<g id="patch_70">
<path d="M 497.714011 356.432 L 502.915703 356.432 L 502.915703 356.432 L 497.714011 356.432 z
" clip-path="url(#p428608d2c8)" style="fill: #4caf50; opacity: 0.8; stroke: #ffffff; stroke-linejoin: miter"/>
</g>
<g id="patch_71">
<path d="M 502.915703 356.432 L 508.117394 356.432 L 508.117394 356.432 L 502.915703 356.432 z
" clip-path="url(#p428608d2c8)" style="fill: #4caf50; opacity: 0.8; stroke: #ffffff; stroke-linejoin: miter"/>
</g>
<g id="patch_72">
<path d="M 508.117394 356.432 L 513.319086 356.432 L 513.319086 356.432 L 508.117394 356.432 z
" clip-path="url(#p428608d2c8)" style="fill: #4caf50; opacity: 0.8; stroke: #ffffff; stroke-linejoin: miter"/>
</g>
<g id="patch_73">
<path d="M 513.319086 356.432 L 518.520777 356.432 L 518.520777 356.432 L 513.319086 356.432 z
" clip-path="url(#p428608d2c8)" style="fill: #4caf50; opacity: 0.8; stroke: #ffffff; stroke-linejoin: miter"/>
</g>
<g id="patch_74">
<path d="M 518.520777 356.432 L 523.722469 356.432 L 523.722469 356.432 L 518.520777 356.432 z
" clip-path="url(#p428608d2c8)" style="fill: #4caf50; opacity: 0.8; stroke: #ffffff; stroke-linejoin: miter"/>
</g>
<g id="patch_75">
<path d="M 523.722469 356.432 L 528.92416 356.432 L 528.92416 356.432 L 523.722469 356.432 z
" clip-path="url(#p428608d2c8)" style="fill: #4caf50; opacity: 0.8; stroke: #ffffff; stroke-linejoin: miter"/>
</g>
<g id="patch_76">
<path d="M 528.92416 356.432 L 534.125851 356.432 L 534.125851 356.432 L 528.92416 356.432 z
" clip-path="url(#p428608d2c8)" style="fill: #4caf50; opacity: 0.8; stroke: #ffffff; stroke-linejoin: miter"/>
</g>
<g id="patch_77">
<path d="M 534.125851 356.432 L 539.327543 356.432 L 539.327543 356.432 L 534.125851 356.432 z
" clip-path="url(#p428608d2c8)" style="fill: #4caf50; opacity: 0.8; stroke: #ffffff; stroke-linejoin: miter"/>
</g>
<g id="patch_78">
<path d="M 539.327543 356.432 L 544.529234 356.432 L 544.529234 356.432 L 539.327543 356.432 z
" clip-path="url(#p428608d2c8)" style="fill: #4caf50; opacity: 0.8; stroke: #ffffff; stroke-linejoin: miter"/>
</g>
<g id="patch_79">
<path d="M 544.529234 356.432 L 549.730926 356.432 L 549.730926 356.432 L 544.529234 356.432 z
" clip-path="url(#p428608d2c8)" style="fill: #4caf50; opacity: 0.8; stroke: #ffffff; stroke-linejoin: miter"/>
</g>
<g id="patch_80">
<path d="M 549.730926 356.432 L 554.932617 356.432 L 554.932617 356.432 L 549.730926 356.432 z
" clip-path="url(#p428608d2c8)" style="fill: #4caf50; opacity: 0.8; stroke: #ffffff; stroke-linejoin: miter"/>
</g>
<g id="patch_81">
<path d="M 554.932617 356.432 L 560.134309 356.432 L 560.134309 356.432 L 554.932617 356.432 z
" clip-path="url(#p428608d2c8)" style="fill: #4caf50; opacity: 0.8; stroke: #ffffff; stroke-linejoin: miter"/>
</g>
<g id="patch_82">
<path d="M 560.134309 356.432 L 565.336 356.432 L 565.336 356.432 L 560.134309 356.432 z
" clip-path="url(#p428608d2c8)" style="fill: #4caf50; opacity: 0.8; stroke: #ffffff; stroke-linejoin: miter"/>
</g>
<g id="patch_83">
<path d="M 565.336 356.432 L 570.537691 356.432 L 570.537691 356.432 L 565.336 356.432 z
" clip-path="url(#p428608d2c8)" style="fill: #4caf50; opacity: 0.8; stroke: #ffffff; stroke-linejoin: miter"/>
</g>
<g id="patch_84">
<path d="M 570.537691 356.432 L 575.739383 356.432 L 575.739383 356.240074 L 570.537691 356.240074 z
" clip-path="url(#p428608d2c8)" style="fill: #4caf50; opacity: 0.8; stroke: #ffffff; stroke-linejoin: miter"/>
</g>
<g id="patch_85">
<path d="M 575.739383 356.432 L 580.941074 356.432 L 580.941074 356.432 L 575.739383 356.432 z
" clip-path="url(#p428608d2c8)" style="fill: #4caf50; opacity: 0.8; stroke: #ffffff; stroke-linejoin: miter"/>
</g>
<g id="patch_86">
<path d="M 580.941074 356.432 L 586.142766 356.432 L 586.142766 356.432 L 580.941074 356.432 z
" clip-path="url(#p428608d2c8)" style="fill: #4caf50; opacity: 0.8; stroke: #ffffff; stroke-linejoin: miter"/>
</g>
<g id="patch_87">
<path d="M 586.142766 356.432 L 591.344457 356.432 L 591.344457 355.08852 L 586.142766 355.08852 z
" clip-path="url(#p428608d2c8)" style="fill: #4caf50; opacity: 0.8; stroke: #ffffff; stroke-linejoin: miter"/>
</g>
<g id="patch_88">
<path d="M 591.344457 356.432 L 596.546149 356.432 L 596.546149 356.432 L 591.344457 356.432 z
" clip-path="url(#p428608d2c8)" style="fill: #4caf50; opacity: 0.8; stroke: #ffffff; stroke-linejoin: miter"/>
</g>
<g id="patch_89">
<path d="M 596.546149 356.432 L 601.74784 356.432 L 601.74784 354.224854 L 596.546149 354.224854 z
" clip-path="url(#p428608d2c8)" style="fill: #4caf50; opacity: 0.8; stroke: #ffffff; stroke-linejoin: miter"/>
</g>
<g id="patch_90">
<path d="M 601.74784 356.432 L 606.949531 356.432 L 606.949531 354.224854 L 601.74784 354.224854 z
" clip-path="url(#p428608d2c8)" style="fill: #4caf50; opacity: 0.8; stroke: #ffffff; stroke-linejoin: miter"/>
</g>
<g id="patch_91">
<path d="M 606.949531 356.432 L 612.151223 356.432 L 612.151223 354.224854 L 606.949531 354.224854 z
" clip-path="url(#p428608d2c8)" style="fill: #4caf50; opacity: 0.8; stroke: #ffffff; stroke-linejoin: miter"/>
</g>
<g id="patch_92">
<path d="M 612.151223 356.432 L 617.352914 356.432 L 617.352914 352.305597 L 612.151223 352.305597 z
" clip-path="url(#p428608d2c8)" style="fill: #4caf50; opacity: 0.8; stroke: #ffffff; stroke-linejoin: miter"/>
</g>
<g id="patch_93">
<path d="M 617.352914 356.432 L 622.554606 356.432 L 622.554606 351.72982 L 617.352914 351.72982 z
" clip-path="url(#p428608d2c8)" style="fill: #4caf50; opacity: 0.8; stroke: #ffffff; stroke-linejoin: miter"/>
</g>
<g id="patch_94">
<path d="M 622.554606 356.432 L 627.756297 356.432 L 627.756297 347.02764 L 622.554606 347.02764 z
" clip-path="url(#p428608d2c8)" style="fill: #4caf50; opacity: 0.8; stroke: #ffffff; stroke-linejoin: miter"/>
</g>
<g id="patch_95">
<path d="M 627.756297 356.432 L 632.957989 356.432 L 632.957989 347.02764 L 627.756297 347.02764 z
" clip-path="url(#p428608d2c8)" style="fill: #4caf50; opacity: 0.8; stroke: #ffffff; stroke-linejoin: miter"/>
</g>
<g id="patch_96">
<path d="M 632.957989 356.432 L 638.15968 356.432 L 638.15968 334.552469 L 632.957989 334.552469 z
" clip-path="url(#p428608d2c8)" style="fill: #4caf50; opacity: 0.8; stroke: #ffffff; stroke-linejoin: miter"/>
</g>
<g id="patch_97">
<path d="M 638.15968 356.432 L 643.361371 356.432 L 643.361371 323.036926 L 638.15968 323.036926 z
" clip-path="url(#p428608d2c8)" style="fill: #4caf50; opacity: 0.8; stroke: #ffffff; stroke-linejoin: miter"/>
</g>
<g id="patch_98">
<path d="M 643.361371 356.432 L 648.563063 356.432 L 648.563063 295.207697 L 643.361371 295.207697 z
" clip-path="url(#p428608d2c8)" style="fill: #4caf50; opacity: 0.8; stroke: #ffffff; stroke-linejoin: miter"/>
</g>
<g id="patch_99">
<path d="M 648.563063 356.432 L 653.764754 356.432 L 653.764754 241.084646 L 648.563063 241.084646 z
" clip-path="url(#p428608d2c8)" style="fill: #4caf50; opacity: 0.8; stroke: #ffffff; stroke-linejoin: miter"/>
</g>
<g id="patch_100">
<path d="M 653.764754 356.432 L 658.966446 356.432 L 658.966446 173.142943 L 653.764754 173.142943 z
" clip-path="url(#p428608d2c8)" style="fill: #4caf50; opacity: 0.8; stroke: #ffffff; stroke-linejoin: miter"/>
</g>
<g id="patch_101">
<path d="M 658.966446 356.432 L 664.168137 356.432 L 664.168137 110.191309 L 658.966446 110.191309 z
" clip-path="url(#p428608d2c8)" style="fill: #4caf50; opacity: 0.8; stroke: #ffffff; stroke-linejoin: miter"/>
</g>
<g id="patch_102">
<path d="M 664.168137 356.432 L 669.369829 356.432 L 669.369829 84.089411 L 664.168137 84.089411 z
" clip-path="url(#p428608d2c8)" style="fill: #4caf50; opacity: 0.8; stroke: #ffffff; stroke-linejoin: miter"/>
</g>
<g id="patch_103">
<path d="M 669.369829 356.432 L 674.57152 356.432 L 674.57152 216.134303 L 669.369829 216.134303 z
" clip-path="url(#p428608d2c8)" style="fill: #4caf50; opacity: 0.8; stroke: #ffffff; stroke-linejoin: miter"/>
</g>
<g id="patch_104">
<path d="M 674.57152 356.432 L 679.773211 356.432 L 679.773211 299.238137 L 674.57152 299.238137 z
" clip-path="url(#p428608d2c8)" style="fill: #4caf50; opacity: 0.8; stroke: #ffffff; stroke-linejoin: miter"/>
</g>
<g id="patch_105">
<path d="M 679.773211 356.432 L 684.974903 356.432 L 684.974903 333.976691 L 679.773211 333.976691 z
" clip-path="url(#p428608d2c8)" style="fill: #4caf50; opacity: 0.8; stroke: #ffffff; stroke-linejoin: miter"/>
</g>
<g id="patch_106">
<path d="M 684.974903 356.432 L 690.176594 356.432 L 690.176594 345.68416 L 684.974903 345.68416 z
" clip-path="url(#p428608d2c8)" style="fill: #4caf50; opacity: 0.8; stroke: #ffffff; stroke-linejoin: miter"/>
</g>
<g id="patch_107">
<path d="M 690.176594 356.432 L 695.378286 356.432 L 695.378286 346.643789 L 690.176594 346.643789 z
" clip-path="url(#p428608d2c8)" style="fill: #4caf50; opacity: 0.8; stroke: #ffffff; stroke-linejoin: miter"/>
</g>
<g id="matplotlib.axis_3">
<g id="xtick_7">
<g id="line2d_13">
<g>
<use href="#m8da89e27fe" x="435.293714" y="356.64" style="stroke: #000000; stroke-width: 0.8"/>
</g>
</g>
<g id="text_16">
<!-- 0 -->
<g transform="translate(432.112464 371.238437) scale(0.1 -0.1)">
<use href="#DejaVuSans-30"/>
</g>
</g>
</g>
<g id="xtick_8">
<g id="line2d_14">
<g>
<use href="#m8da89e27fe" x="487.310629" y="356.64" style="stroke: #000000; stroke-width: 0.8"/>
</g>
</g>
<g id="text_17">
<!-- 20 -->
<g transform="translate(480.948129 371.238437) scale(0.1 -0.1)">
<use href="#DejaVuSans-32"/>
<use href="#DejaVuSans-30" transform="translate(63.623047 0)"/>
</g>
</g>
</g>
<g id="xtick_9">
<g id="line2d_15">
<g>
<use href="#m8da89e27fe" x="539.327543" y="356.64" style="stroke: #000000; stroke-width: 0.8"/>
</g>
</g>
<g id="text_18">
<!-- 40 -->
<g transform="translate(532.965043 371.238437) scale(0.1 -0.1)">
<defs>
<path id="DejaVuSans-34" d="M 2419 4116 L 825 1625 L 2419 1625 L 2419 4116 z
M 2253 4666 L 3047 4666 L 3047 1625 L 3713 1625 L 3713 1100 L 3047 1100 L 3047 0 L 2419 0 L 2419 1100 L 313 1100 L 313 1709 L 2253 4666 z
" transform="scale(0.015625)"/>
</defs>
<use href="#DejaVuSans-34"/>
<use href="#DejaVuSans-30" transform="translate(63.623047 0)"/>
</g>
</g>
</g>
<g id="xtick_10">
<g id="line2d_16">
<g>
<use href="#m8da89e27fe" x="591.344457" y="356.64" style="stroke: #000000; stroke-width: 0.8"/>
</g>
</g>
<g id="text_19">
<!-- 60 -->
<g transform="translate(584.981957 371.238437) scale(0.1 -0.1)">
<use href="#DejaVuSans-36"/>
<use href="#DejaVuSans-30" transform="translate(63.623047 0)"/>
</g>
</g>
</g>
<g id="xtick_11">
<g id="line2d_17">
<g>
<use href="#m8da89e27fe" x="643.361371" y="356.64" style="stroke: #000000; stroke-width: 0.8"/>
</g>
</g>
<g id="text_20">
<!-- 80 -->
<g transform="translate(636.998871 371.238437) scale(0.1 -0.1)">
<defs>
<path id="DejaVuSans-38" d="M 2034 2216 Q 1584 2216 1326 1975 Q 1069 1734 1069 1313 Q 1069 891 1326 650 Q 1584 409 2034 409 Q 2484 409 2743 651 Q 3003 894 3003 1313 Q 3003 1734 2745 1975 Q 2488 2216 2034 2216 z
M 1403 2484 Q 997 2584 770 2862 Q 544 3141 544 3541 Q 544 4100 942 4425 Q 1341 4750 2034 4750 Q 2731 4750 3128 4425 Q 3525 4100 3525 3541 Q 3525 3141 3298 2862 Q 3072 2584 2669 2484 Q 3125 2378 3379 2068 Q 3634 1759 3634 1313 Q 3634 634 3220 271 Q 2806 -91 2034 -91 Q 1263 -91 848 271 Q 434 634 434 1313 Q 434 1759 690 2068 Q 947 2378 1403 2484 z
M 1172 3481 Q 1172 3119 1398 2916 Q 1625 2713 2034 2713 Q 2441 2713 2670 2916 Q 2900 3119 2900 3481 Q 2900 3844 2670 4047 Q 2441 4250 2034 4250 Q 1625 4250 1398 4047 Q 1172 3844 1172 3481 z
" transform="scale(0.015625)"/>
</defs>
<use href="#DejaVuSans-38"/>
<use href="#DejaVuSans-30" transform="translate(63.623047 0)"/>
</g>
</g>
</g>
<g id="xtick_12">
<g id="line2d_18">
<g>
<use href="#m8da89e27fe" x="695.378286" y="356.64" style="stroke: #000000; stroke-width: 0.8"/>
</g>
</g>
<g id="text_21">
<!-- 100 -->
<g transform="translate(685.834536 371.238437) scale(0.1 -0.1)">
<use href="#DejaVuSans-31"/>
<use href="#DejaVuSans-30" transform="translate(63.623047 0)"/>
<use href="#DejaVuSans-30" transform="translate(127.246094 0)"/>
</g>
</g>
</g>
<g id="text_22">
<!-- % abundance matched -->
<g transform="translate(507.639219 384.916562) scale(0.1 -0.1)">
<defs>
<path id="DejaVuSans-25" d="M 4653 2053 Q 4381 2053 4226 1822 Q 4072 1591 4072 1178 Q 4072 772 4226 539 Q 4381 306 4653 306 Q 4919 306 5073 539 Q 5228 772 5228 1178 Q 5228 1588 5073 1820 Q 4919 2053 4653 2053 z
M 4653 2450 Q 5147 2450 5437 2106 Q 5728 1763 5728 1178 Q 5728 594 5436 251 Q 5144 -91 4653 -91 Q 4153 -91 3862 251 Q 3572 594 3572 1178 Q 3572 1766 3864 2108 Q 4156 2450 4653 2450 z
M 1428 4353 Q 1159 4353 1004 4120 Q 850 3888 850 3481 Q 850 3069 1003 2837 Q 1156 2606 1428 2606 Q 1700 2606 1854 2837 Q 2009 3069 2009 3481 Q 2009 3884 1853 4118 Q 1697 4353 1428 4353 z
M 4250 4750 L 4750 4750 L 1831 -91 L 1331 -91 L 4250 4750 z
M 1428 4750 Q 1922 4750 2215 4408 Q 2509 4066 2509 3481 Q 2509 2891 2217 2550 Q 1925 2209 1428 2209 Q 931 2209 642 2551 Q 353 2894 353 3481 Q 353 4063 643 4406 Q 934 4750 1428 4750 z
" transform="scale(0.015625)"/>
<path id="DejaVuSans-64" d="M 2906 2969 L 2906 4863 L 3481 4863 L 3481 0 L 2906 0 L 2906 525 Q 2725 213 2448 61 Q 2172 -91 1784 -91 Q 1150 -91 751 415 Q 353 922 353 1747 Q 353 2572 751 3078 Q 1150 3584 1784 3584 Q 2172 3584 2448 3432 Q 2725 3281 2906 2969 z
M 947 1747 Q 947 1113 1208 752 Q 1469 391 1925 391 Q 2381 391 2643 752 Q 2906 1113 2906 1747 Q 2906 2381 2643 2742 Q 2381 3103 1925 3103 Q 1469 3103 1208 2742 Q 947 2381 947 1747 z
" transform="scale(0.015625)"/>
</defs>
<use href="#DejaVuSans-25"/>
<use href="#DejaVuSans-20" transform="translate(95.019531 0)"/>
<use href="#DejaVuSans-61" transform="translate(126.806641 0)"/>
<use href="#DejaVuSans-62" transform="translate(188.085938 0)"/>
<use href="#DejaVuSans-75" transform="translate(251.5625 0)"/>
<use href="#DejaVuSans-6e" transform="translate(314.941406 0)"/>
<use href="#DejaVuSans-64" transform="translate(378.320312 0)"/>
<use href="#DejaVuSans-61" transform="translate(441.796875 0)"/>
<use href="#DejaVuSans-6e" transform="translate(503.076172 0)"/>
<use href="#DejaVuSans-63" transform="translate(566.455078 0)"/>
<use href="#DejaVuSans-65" transform="translate(621.435547 0)"/>
<use href="#DejaVuSans-20" transform="translate(682.958984 0)"/>
<use href="#DejaVuSans-6d" transform="translate(714.746094 0)"/>
<use href="#DejaVuSans-61" transform="translate(812.158203 0)"/>
<use href="#DejaVuSans-74" transform="translate(873.4375 0)"/>
<use href="#DejaVuSans-63" transform="translate(912.646484 0)"/>
<use href="#DejaVuSans-68" transform="translate(967.626953 0)"/>
<use href="#DejaVuSans-65" transform="translate(1031.005859 0)"/>
<use href="#DejaVuSans-64" transform="translate(1092.529297 0)"/>
</g>
</g>
</g>
<g id="matplotlib.axis_4">
<g id="ytick_6">
<g id="line2d_19">
<g>
<use href="#mcd1c41be28" x="422.4" y="356.432" style="stroke: #000000; stroke-width: 0.8"/>
</g>
</g>
<g id="text_23">
<!-- 0 -->
<g transform="translate(409.0375 360.231219) scale(0.1 -0.1)">
<use href="#DejaVuSans-30"/>
</g>
</g>
</g>
<g id="ytick_7">
<g id="line2d_20">
<g>
<use href="#mcd1c41be28" x="422.4" y="318.046857" style="stroke: #000000; stroke-width: 0.8"/>
</g>
</g>
<g id="text_24">
<!-- 200 -->
<g transform="translate(396.3125 321.846076) scale(0.1 -0.1)">
<use href="#DejaVuSans-32"/>
<use href="#DejaVuSans-30" transform="translate(63.623047 0)"/>
<use href="#DejaVuSans-30" transform="translate(127.246094 0)"/>
</g>
</g>
</g>
<g id="ytick_8">
<g id="line2d_21">
<g>
<use href="#mcd1c41be28" x="422.4" y="279.661714" style="stroke: #000000; stroke-width: 0.8"/>
</g>
</g>
<g id="text_25">
<!-- 400 -->
<g transform="translate(396.3125 283.460933) scale(0.1 -0.1)">
<use href="#DejaVuSans-34"/>
<use href="#DejaVuSans-30" transform="translate(63.623047 0)"/>
<use href="#DejaVuSans-30" transform="translate(127.246094 0)"/>
</g>
</g>
</g>
<g id="ytick_9">
<g id="line2d_22">
<g>
<use href="#mcd1c41be28" x="422.4" y="241.276571" style="stroke: #000000; stroke-width: 0.8"/>
</g>
</g>
<g id="text_26">
<!-- 600 -->
<g transform="translate(396.3125 245.07579) scale(0.1 -0.1)">
<use href="#DejaVuSans-36"/>
<use href="#DejaVuSans-30" transform="translate(63.623047 0)"/>
<use href="#DejaVuSans-30" transform="translate(127.246094 0)"/>
</g>
</g>
</g>
<g id="ytick_10">
<g id="line2d_23">
<g>
<use href="#mcd1c41be28" x="422.4" y="202.891429" style="stroke: #000000; stroke-width: 0.8"/>
</g>
</g>
<g id="text_27">
<!-- 800 -->
<g transform="translate(396.3125 206.690647) scale(0.1 -0.1)">
<use href="#DejaVuSans-38"/>
<use href="#DejaVuSans-30" transform="translate(63.623047 0)"/>
<use href="#DejaVuSans-30" transform="translate(127.246094 0)"/>
</g>
</g>
</g>
<g id="ytick_11">
<g id="line2d_24">
<g>
<use href="#mcd1c41be28" x="422.4" y="164.506286" style="stroke: #000000; stroke-width: 0.8"/>
</g>
</g>
<g id="text_28">
<!-- 1000 -->
<g transform="translate(389.95 168.305504) scale(0.1 -0.1)">
<use href="#DejaVuSans-31"/>
<use href="#DejaVuSans-30" transform="translate(63.623047 0)"/>
<use href="#DejaVuSans-30" transform="translate(127.246094 0)"/>
<use href="#DejaVuSans-30" transform="translate(190.869141 0)"/>
</g>
</g>
</g>
<g id="ytick_12">
<g id="line2d_25">
<g>
<use href="#mcd1c41be28" x="422.4" y="126.121143" style="stroke: #000000; stroke-width: 0.8"/>
</g>
</g>
<g id="text_29">
<!-- 1200 -->
<g transform="translate(389.95 129.920362) scale(0.1 -0.1)">
<use href="#DejaVuSans-31"/>
<use href="#DejaVuSans-32" transform="translate(63.623047 0)"/>
<use href="#DejaVuSans-30" transform="translate(127.246094 0)"/>
<use href="#DejaVuSans-30" transform="translate(190.869141 0)"/>
</g>
</g>
</g>
<g id="ytick_13">
<g id="line2d_26">
<g>
<use href="#mcd1c41be28" x="422.4" y="87.736" style="stroke: #000000; stroke-width: 0.8"/>
</g>
</g>
<g id="text_30">
<!-- 1400 -->
<g transform="translate(389.95 91.535219) scale(0.1 -0.1)">
<use href="#DejaVuSans-31"/>
<use href="#DejaVuSans-34" transform="translate(63.623047 0)"/>
<use href="#DejaVuSans-30" transform="translate(127.246094 0)"/>
<use href="#DejaVuSans-30" transform="translate(190.869141 0)"/>
</g>
</g>
</g>
<g id="text_31">
<!-- Number of samples -->
<g transform="translate(383.870313 262.467187) rotate(-90) scale(0.1 -0.1)">
<use href="#DejaVuSans-4e"/>
<use href="#DejaVuSans-75" transform="translate(74.804688 0)"/>
<use href="#DejaVuSans-6d" transform="translate(138.183594 0)"/>
<use href="#DejaVuSans-62" transform="translate(235.595703 0)"/>
<use href="#DejaVuSans-65" transform="translate(299.072266 0)"/>
<use href="#DejaVuSans-72" transform="translate(360.595703 0)"/>
<use href="#DejaVuSans-20" transform="translate(401.708984 0)"/>
<use href="#DejaVuSans-6f" transform="translate(433.496094 0)"/>
<use href="#DejaVuSans-66" transform="translate(494.677734 0)"/>
<use href="#DejaVuSans-20" transform="translate(529.882812 0)"/>
<use href="#DejaVuSans-73" transform="translate(561.669922 0)"/>
<use href="#DejaVuSans-61" transform="translate(613.769531 0)"/>
<use href="#DejaVuSans-6d" transform="translate(675.048828 0)"/>
<use href="#DejaVuSans-70" transform="translate(772.460938 0)"/>
<use href="#DejaVuSans-6c" transform="translate(835.9375 0)"/>
<use href="#DejaVuSans-65" transform="translate(863.720703 0)"/>
<use href="#DejaVuSans-73" transform="translate(925.244141 0)"/>
</g>
</g>
</g>
<g id="patch_108">
<path d="M 422.4 356.64 L 422.4 70.56 " style="fill: none; stroke: #000000; stroke-width: 0.8; stroke-linejoin: miter; stroke-linecap: square"/>
</g>
<g id="patch_109">
<path d="M 708.48 356.64 L 708.48 70.56 " style="fill: none; stroke: #000000; stroke-width: 0.8; stroke-linejoin: miter; stroke-linecap: square"/>
</g>
<g id="patch_110">
<path d="M 422.4 356.64 L 708.48 356.64 " style="fill: none; stroke: #000000; stroke-width: 0.8; stroke-linejoin: miter; stroke-linecap: square"/>
</g>
<g id="patch_111">
<path d="M 422.4 70.56 L 708.48 70.56 " style="fill: none; stroke: #000000; stroke-width: 0.8; stroke-linejoin: miter; stroke-linecap: square"/>
</g>
<g id="text_32">
<!-- Pangenome Matching Coverage -->
<g transform="translate(469.95375 64.56) scale(0.12 -0.12)">
<defs>
<path id="DejaVuSans-4d" d="M 628 4666 L 1569 4666 L 2759 1491 L 3956 4666 L 4897 4666 L 4897 0 L 4281 0 L 4281 4097 L 3078 897 L 2444 897 L 1241 4097 L 1241 0 L 628 0 L 628 4666 z
" transform="scale(0.015625)"/>
<path id="DejaVuSans-43" d="M 4122 4306 L 4122 3641 Q 3803 3938 3442 4084 Q 3081 4231 2675 4231 Q 1875 4231 1450 3742 Q 1025 3253 1025 2328 Q 1025 1406 1450 917 Q 1875 428 2675 428 Q 3081 428 3442 575 Q 3803 722 4122 1019 L 4122 359 Q 3791 134 3420 21 Q 3050 -91 2638 -91 Q 1578 -91 968 557 Q 359 1206 359 2328 Q 359 3453 968 4101 Q 1578 4750 2638 4750 Q 3056 4750 3426 4639 Q 3797 4528 4122 4306 z
" transform="scale(0.015625)"/>
<path id="DejaVuSans-76" d="M 191 3500 L 800 3500 L 1894 563 L 2988 3500 L 3597 3500 L 2284 0 L 1503 0 L 191 3500 z
" transform="scale(0.015625)"/>
</defs>
<use href="#DejaVuSans-50"/>
<use href="#DejaVuSans-61" transform="translate(55.802734 0)"/>
<use href="#DejaVuSans-6e" transform="translate(117.082031 0)"/>
<use href="#DejaVuSans-67" transform="translate(180.460938 0)"/>
<use href="#DejaVuSans-65" transform="translate(243.9375 0)"/>
<use href="#DejaVuSans-6e" transform="translate(305.460938 0)"/>
<use href="#DejaVuSans-6f" transform="translate(368.839844 0)"/>
<use href="#DejaVuSans-6d" transform="translate(430.021484 0)"/>
<use href="#DejaVuSans-65" transform="translate(527.433594 0)"/>
<use href="#DejaVuSans-20" transform="translate(588.957031 0)"/>
<use href="#DejaVuSans-4d" transform="translate(620.744141 0)"/>
<use href="#DejaVuSans-61" transform="translate(707.023438 0)"/>
<use href="#DejaVuSans-74" transform="translate(768.302734 0)"/>
<use href="#DejaVuSans-63" transform="translate(807.511719 0)"/>
<use href="#DejaVuSans-68" transform="translate(862.492188 0)"/>
<use href="#DejaVuSans-69" transform="translate(925.871094 0)"/>
<use href="#DejaVuSans-6e" transform="translate(953.654297 0)"/>
<use href="#DejaVuSans-67" transform="translate(1017.033203 0)"/>
<use href="#DejaVuSans-20" transform="translate(1080.509766 0)"/>
<use href="#DejaVuSans-43" transform="translate(1112.296875 0)"/>
<use href="#DejaVuSans-6f" transform="translate(1182.121094 0)"/>
<use href="#DejaVuSans-76" transform="translate(1243.302734 0)"/>
<use href="#DejaVuSans-65" transform="translate(1302.482422 0)"/>
<use href="#DejaVuSans-72" transform="translate(1364.005859 0)"/>
<use href="#DejaVuSans-61" transform="translate(1405.119141 0)"/>
<use href="#DejaVuSans-67" transform="translate(1466.398438 0)"/>
<use href="#DejaVuSans-65" transform="translate(1529.875 0)"/>
</g>
</g>
</g>
<g id="axes_3">
<g id="patch_112">
<path d="M 778.56 356.64 L 1065.12 356.64 L 1065.12 70.56 L 778.56 70.56 z
" style="fill: #ffffff"/>
</g>
<g id="scat02"><clipPath id="cl02"><rect x="1622.00" y="147.00" width="597.00" height="596.00"/></clipPath><g transform="scale(0.48)"><path clip-path="url(#cl02)" class="sc" d="M1889.1 655.9 1877.5 634.5 1869.9 633.8 1891.5 675.9 1868.3 641.4 1909.6 653.4 1893.4 630.9 1887.8 663.9 1832.5 650.9 1809.1 638.6 1811.6 658.9 1835.8 664.7 1895.6 645.2 1783.3 657.9 1887 652.6 1824.7 651.8 1847.9 641.3 1933.6 626.3 1887.6 667.6 1864.5 652.1 1893.6 650.4 1837.5 660.5 1946.1 609.6 1925.1 646 1862.1 694.1 1921 620.8 1892.1 660.8 1881.1 664.8 1886.2 663.6 1949.4 626.1 1897.5 639.4 1894.3 625.7 1864.7 650.4 1926.7 665.9 1833.4 644.1 1916.2 606.1 1869.5 651.5 1941.8 654.3 1875.3 645.2 1878.5 681.8 1871 647.2 1903.8 645 1880.7 629.5 1888.5 641.4 1938 654.3 1888 663.3 1874.7 673.2 1888.8 661.5 1834.8 666.3 1818.1 622.4 1876.2 634.5 1895.9 693 1854.1 643.8 1897.6 658.2 1881.6 647.2 1918.5 655.1 1845.6 656 1890.5 629 1899.9 631.2 1929.8 646.6 1892.8 637.7 1884 611.6 1841.5 665.5 1799.6 682.3 1815.7 677.7 1853.5 671.5 1894.5 618.8 1941.5 669.2 1886.2 645.1 1882.3 632 1935.1 631.2 1886.9 634.8 1862.7 629.5 1941.8 637.7 1929.6 643.2 1859.8 648.7 1865.5 654.3 1873.2 646.9 1831.1 644.3 1958.5 624.6 1844.7 664.4 1948.1 611.1 1880.2 639.1 1815 677.4 1888 651.6 1857.4 664.5 1866.3 651.2 1842.5 634.2 1945.1 630.2 1901.3 647.2 1870.5 643.2 1915.5 639.4 1882.6 651.6 1938.4 654.7 1905.1 636.1 1831 678.8 1929.6 640.1 1911.8 661.4 1923.9 662 1869.9 683.2 1836.6 676.1 1909.7 663.6 1967.9 665.4 1840.9 625.2 1923.3 624 1888.5 666.6 1820 620.6 1899.9 649 1878.7 652.6 1852.9 626.6 1882 632.1 1820 672 1886.4 658.4 1847.4 644.3 1847 639.9 1897.2 633.2 1904 654.1 1974.1 607.7 1926.3 641.7 1888.4 621.6 1869.7 668 1885.5 652.2 1876.8 674.8 1888.1 606.9 1859.9 616.4 1752.4 663.5 1945 641.1 1839.8 640.1 1936.5 644.8 1891 648.6 1890.6 665.6 1912.2 650.2 1845.2 667.7 1860.3 676.5 1835.6 656.6 1888.7 624 1961.3 666.1 1869.5 668.6 1904.9 595.8 1899.5 647 1892.5 628.2 1877.7 648.5 1938.9 647.8 1888.8 680.1 1865.7 646.4 1812.7 694.2 1929.5 660.9 1917.1 647.3 1898.1 643.5 1880.4 652.6 1952.5 649.8 1886.5 639 1862.3 686.2 1910.3 647.6 1874.5 630.7 1886.2 667.7 1872.5 648.4 1879.7 653.8 1822.1 657.1 1853.1 673.7 1856.6 667 1953 632.6 1863.7 658.2 1888.9 630.5 1908.4 686.3 1878.2 647.9 1845.1 664 1836.6 637.4 1942.7 622.8 1934.4 672 1899.9 659 1971 631.8 1864.1 627.7 1890.8 678.8 1929.3 624.4 1853.1 646.4 1901.3 643.8 1898 654.3 1876.5 651.4 1897.7 646.8 1910.1 683.1 1913.9 646.7 1818.2 670 1807.2 636.6 1924.9 657.6 1882.7 617.5 1873.4 639.4 1915.7 689.7 1898.1 633.1 1839.8 657.5 1881.6 628.6 1893.9 626.5 1935.7 662.7 1934.6 632.7 1910.6 643.6 1872.7 646.2 1834.4 631.1 1922.4 640.4 1898.1 668.1 1816.2 647.3 1896.4 656.4 1873.2 673 1897.8 624.6 1849.9 672.7 1908.5 609.2 1945.6 651.9 1945.4 632.6 1876.6 630 1995.6 627.9 1955.7 625.6 1895.9 615.9 1872.9 672.2 1836.4 680.3 1903.2 627 1867.9 644.7 1886.9 639.8 1854.3 650.1 1845.9 632.2 1887 667.7 1824.8 661.3 1861.7 635.6 1924.8 633.5 1951.9 623.6 1905.2 642.7 1857.3 667.1 1882.5 663 1887 629 1884.7 651.8 1929.3 625.1 1887.3 616.4 1916.4 623.9 1813.1 662.1 1935.4 611.9 1843.3 643.4 1841.6 665.8 1855.1 641.7 1913.5 630.9 1907.2 627.7 1838.1 622.8 1967.2 630 1899.2 647.6 1895.7 649.8 1969.1 615.5 1823.6 641.5 1832.9 674.5 1923.5 625.1 1830.6 653.2 1947.4 584.3 1911.1 625 1932.7 621.1 1877 622.5 1848 684.4 1923.5 636.1 1852.5 619.1 1872.5 652.3 1885.5 648.8 1841.9 656.9 1887.4 675.7 1967.4 633.6 1856.8 654.4 1863.5 639.9 1886.5 629.9 1914.5 643.5 1899.5 644.6 1858.5 636.7 1879 640.9 1898.8 648.2 1831.8 661.3 1832.6 647.7 1876.6 611.3 1892.8 652.3 1882.4 642.8 1873.3 633.5 1877.7 641.1 1892.9 625.6 1898.9 651.1 1883.1 642.4 1912.2 613.2 1908.3 651.4 1900.9 655.5 1861.5 649.7 1915.8 653.8 1897.7 618.7 1911.6 669.1 1931.4 647.2 1823.6 680 1882.8 601.3 1904.8 617.9 1834.5 647 1942.4 633.4 1900.4 682.4 1955.9 636.3 1878.9 627 1859.8 663.5 1905.6 649.3 1930.8 627.5 1886.6 664.8 1913.5 666.8 1905.7 641 1904.2 627.6 1820.1 673.5 1886.7 656.5 1817.7 655.3 1863.8 637.4 1794.3 660 1926.7 650.9 1863.8 654.1 1920.8 590.1 1883.8 661.6 1917.6 678.4 1936.7 647.8 1901.7 663.3 1866.3 653.2 1927.1 681.8 1882.3 650.2 1897.3 675 1887.7 679.1 1848.4 653.4 1880.7 666.9 1932.9 612.6 1850.6 663.4 1861.3 624.9 1932.6 652.1 1909.7 637 1932.2 637.7 1935.1 624 1853.1 660.3 1859.5 668.4 1899.9 629.9 1892.1 642.6 1927.5 630.8 1870.6 677.1 1983 672.9 1891.7 653.8 1953.4 636.3 1848 659.5 1908 630.4 1819.9 633.8 1916.9 630.2 1883.1 655.2 1915 638.9 1909.9 628.8 1873.8 632.5 1936.5 641.1 1857.9 648.5 1879.7 665.4 1822 641.3 1929.1 640.8 1918.9 685.2 1879.2 644.5 1939.9 650.8 1917.2 635.1 1969.8 669.5 1912.8 659.3 1803.9 677.4 1880.8 660 1917.7 638.3 1818 669.7 1857.9 649 1863.6 647.7 1792 690.9 1899.6 670 1972.2 635.9 1813.3 645.7 1838.3 649 1892.3 610 1903.4 617.8 1901.5 645.7 1875.8 650.9 1866.3 641.9 1818.3 661.8 1966.5 675.4 1944.5 654.2 1860.6 683.4 1886.6 649.1 1876.8 653.9 1870.7 651.6 1843.4 650.6 1984.8 631.9 1879 662.2 1918.7 622.9 1880.3 669.6 1900.3 650.4 1954.3 625.2 1892.5 639.2 1951.6 600.6 1860.9 644.5 1916.9 657 1947.6 608.8 1920.5 638.7 1861 665.5 1850.4 615.9 1873.5 623.3 1861.7 662.1 1902.1 678.9 1880.6 621.3 1857.2 637.5 1837.9 667.5 1861.9 615.8 1918.3 642.7 1904 649.5 1915.5 646.1 1940.9 649.3 1905.5 655.2 1827.8 657.5 1878.1 656 1831.9 692.1 1893.4 625.4 1817.2 657 1885.2 636.5 1892.9 636.7 1912.2 631.7 1887.4 669.5 1997 611.3 1869.5 636.9 1921.9 621.7 1868.7 653 1847.9 638.4 1869 612.2 1828.3 652.5 1895.2 645.3 1814.5 653.9 1922.5 655.1 1885.7 633.1 1915.5 634 1839.9 642.8 1949.8 643.7 1937.7 632.1 1928.4 631.3 1921.2 634.5 1885.4 657 1939.8 631.5 1815.9 657.3 1889.6 652 1944.3 646.6 1923.1 622.4 1925.5 684.9 1921.5 649.3 1895.5 684 1850.1 654.6 1908.3 661.3 1870.6 659.3 1877.3 654.4 1883.5 628.5 1888.1 667.4 1848.4 652.4 1916.9 624.1 1896.7 627.8 1936.7 687.2 1973.9 630.8 1920.1 646.9 1893.3 679.7 1833.6 680.5 1886.9 678.1 1896.9 635.4 1900.6 662.4 1890.5 659.3 1867.1 611.9 1926.8 657.1 1895.2 650.3 1932.5 633.4 1859.3 651.5 1938.9 614 1939.1 628.7 1842.8 682.9 1884.9 625.1 1873.9 671 1939.1 632.8 1906.1 661.1 1861.9 661.7 1887.7 639.7 1868.3 654.9 1890.3 638.7 1871.1 675 1898 665.8 1939.5 652.8 1984.4 617.1 1923 637.8 1966.9 669.8 1806.9 645.3 1916.9 660.7 1919.9 643.2 1908.1 659.5 1885.7 670.8 1794.1 679.1 1845.6 676.5 1879.4 634.2 1904.7 629.3 1850.7 625.9 1887.9 660 1932 639.7 1933 642.7 1885.1 662 1933.5 635.5 1878.8 648.6 1892.5 631.7 1932.2 634.6 1908.4 630.4 1904.1 655.1 1871.3 692.8 1904.6 682.2 1929.3 629.9 1872.9 661.4 1891.6 650.5 1877 616.5 1879.5 608 1904.6 633 1859 650.9 1900.5 619.8 1815.6 641.9 1803.2 646 1955.8 617.5 1916.4 618.2 1901.6 641.5 1886.5 661.6 1962.8 640.9 1894.2 629.9 1913.5 640.9 1923.9 643 1962.1 598.2 1876.5 669.5 1874.3 637 1877.8 624.8 1937.1 619.8 1852.3 648.5 1931.2 626.5 1860 672.5 1925.3 636.3 1842.1 627.7 1859.6 611.3 1920.5 632.1 1909.2 683.2 1938.3 618.7 1925.5 666.4 1857.7 636.7 1884.4 619.3 1950.8 591.9 1842.5 652.8 1879.5 654.9 1900.4 643.8 1936.7 599.6 1889 635.9 1894.6 653.4 1850.7 644.1 1922.3 651 1860.4 695.1 1986 604.3 1921.9 648.6 1880.3 640.9 1880.1 640.7 1920.3 636.7 1870.5 629.6 1886.9 632.8 1881.4 671.8 1904.4 657.2 1904 648.5 1883.7 644.9 1920.9 623.1 1945.3 640.8 1857.6 645.9 1860.6 658.1 1858.9 677.7 1856.2 611 1858.3 615.9 1887.3 671.1 1916.2 618.9 1857 690.6 1902.4 647.7 1933.4 690.5 1943.5 643.2 1903.9 659.5 1863.3 633.7 1891.2 631 1886.4 652.3 1987.3 616.1 1883.9 647.7 1907.4 667.4 1868.4 637.4 1820.1 643.8 1911.5 647 1846.4 650.1 1890.3 659.7 1864.1 649.4 1812.6 640.7 1956.9 595.1 1874.8 656.8 1873.3 636.9 1886.4 650.4 1885.6 613.7 1882.8 634.3 1866 658.5 1915.9 662.9 1868.2 671.8 1938.3 663.7 1947.4 636.9 1881.7 667.5 1831.6 664.2 1866.7 646.6 1815.9 645.3 1888.1 667.6 1930.6 641.1 1881 635.1 1905.9 642.2 1914.4 680 1887.6 620.8 1852.8 627.6 1838.7 684.5 1898.5 618.4 1916.5 670 1873.9 639.3 1874.8 658.1 1915.9 668.6 1939.9 664.4 1946.2 653 1824.7 658.7 1902.2 640.2 1927.3 636.2 1850.1 685.2 1917 649.4 1927.9 664.1 1903.3 599.1 1860.6 646 1847.7 661.1 1939.1 631.7 1870 629.1 1899 656.6 1859.4 670.7 1868.5 635.4 1896.5 663.8 1862.4 661.2 1859.2 682.4 1886.8 647.9 1919.3 662.3 1942.2 647.2 1863.8 643.8 1910.4 657.7 1947.7 648 1933.5 672 1895.9 619.6 1839.5 630.4 1955.8 621.6 1940.7 652.5 1961 657.1 1884.7 646.8 1892.6 652.8 1866.7 653.3 1956.6 604.7 1899.9 630.3 1896.9 665.1 1886.6 665.6 1822.2 683.5 1863.7 666.7 1896.7 597.8 1857.2 659.9 1954.3 644.2 1899.8 620.3 1949.1 675 1890.2 645.5 1821 679.3 2002.5 644.2 1942.1 651.4 1847.6 683.5 1837.1 654.9 1900.7 665.3 1906.5 654.6 1857 630.2 1891.6 635.6 1834.1 634.7 1868.4 617.2 1832.4 627.7 1896.7 656.7 1973.3 605.8 1860.5 672.9 1879.9 645.2 1960.8 630.8 1840.4 632.6 1903.1 653.5 1831.4 640.7 1911.5 657.4 1862 667 1913 610.7 1875.9 660.5 1864.9 612.1 1877.1 666.9 1955.4 595.3 1998.8 608.6 1929.2 667.2 1930.3 645.7 1840.2 670.9 1859 605.6 2007.8 643.1 1965.4 618.7 1950.6 670.5 1954.3 638.2 1838.5 655.4 1796.5 632.7 1892.9 629.8 1882.1 649.1 1970.1 661.3 1887.1 674.1 1856.3 649.1 1927.2 618.9 1877.3 626.1 1893.9 681.3 1857.4 660 1851.3 634 1837.1 687.7 1988.2 642.1 1858.9 669.1 1875 668.2 1901.2 653.4 1914.5 634.1 1872 619.1 1870.4 625.3 1882.9 632.2 1893.3 658.2 1829.4 644.4 1849.4 671.6 1960.7 654.2 1874.3 681.4 1825.4 690.6 1861.4 600.1 2000.3 661.6 1845.7 660.9 1880 653.6 1826.7 647.5 1908.7 650.9 1939.4 642.8 1987.7 618.7 1899.9 610.4 1836.4 685.3 1849.4 667.4 1886.4 629.9 1874.4 642.4 1868.5 668.4 1916.4 633.8 1850.9 662.2 1884.8 671 2000.5 647.1 1887.5 646.9 1853 638.5 1846.9 649.6 1871.1 667.8 1872.2 649 1837.8 691.3 1910.3 681.5 1922.5 673.4 1878.6 665.9 2002.6 606 1938.4 674.8 1906.7 662 1942.7 627.4 1906.5 629.5 1860 642.7 1882.9 654 1908.4 618.1 1974.1 658.4 1920.2 637.3 1885.2 661.7 1906.7 613 1809.5 684 1904.9 645 1948.1 615.8 1896 678.3 1880.5 643 1894 640.1 1955.7 620 1926.7 618.1 1917.9 642.8 1777.5 669.4 1842.9 649.1 1955.4 615.8 1843.2 687.1 1894 680.3 1903 629.7 1886.1 675.4 1929.6 642.9 1891.1 647.4 1864 693.4 1889.3 627.1 1868.4 668.3 1916.7 642.4 1860.1 655.5 1816.7 636.3 1923.5 634.3 1905.2 671.8 1917.1 645.5 1980.9 647.4 1873.7 667.5 1906.6 629.6 1892.2 646.1 1804.1 661.4 1876.8 643.3 1818 655.3 1887.3 652.4 1840 671.4 1836.5 654.7 1945.3 626.1 1866.9 675.6 1872.4 646.9 1898.5 669.5 1793.9 649.9 1845.5 635.7 1852.1 639.5 1902 629.8 1894.3 657.2 1857.6 658.1 1959.5 644.2 1861.6 653.5 1849.6 662.3 1926.1 627 1880 673.9 1867.6 657.5 1845.1 641.2 1871.8 642.6 1865.3 650.9 1916.5 648.9 1975.4 639.1 1949.8 644.8 1914.4 617.2 1883.7 649.6 1878.8 609.4 1926 635.9 1870.6 648.2 1879.4 659.7 1835.6 641 1901.2 650.7 1873.2 641.5 1854 655 1938.6 620.5 1953 655.4 1870 668.7 1827.4 626.7 1834.8 651.4 1875.3 642.3 1893.2 607.3 1909.8 618.4 1861.2 646.7 1840.4 631.5 1846.7 657.2 1913.8 656.8 1847.2 641.7 1850.3 665.6 1803.4 689.3 1868.6 638.2 1903.3 667.8 1903.4 668.2 1894.6 673.2 1941.3 638.9 1949.4 642.7 1892.6 631.2 1876.9 667.4 1833.9 672.4 1903.6 652.9 1796.3 664.2 1916.2 630.2 1892.8 602.6 1917.2 632 1925.6 607.3 1918.1 640.3 1922.9 625.9 1854.1 642.2 1877.4 631.9 1939 675.2 1859.4 621.2 1938.2 663.2 1923.5 666.7 1852.6 653.1 1830.9 632.3 1930.2 629.6 1984.7 634.7 1862.1 670.4 1964.7 646.3 1837.9 666.2 1946.8 630.2 1856.5 675.7 1894.9 627.3 1873.1 637.9 1901.4 650 1937.3 655.5 1823.3 669.5 1926.7 652.4 1932.3 631.6 1849.1 675.3 1844.3 615.3 1932.1 628.2 1876.1 624.7 1833.3 637 1873.9 659.9 1792.5 681.7 1839.4 637.7 1917.5 643.5 1852.9 661.2 1897.4 676.3 1869.9 673.2 1857.8 677.5 1857 648.5 1968.6 642.3 1893.6 693.3 1904.2 631.3 1919.9 621.4 1936.4 665.4 1864.9 641.9 1896.4 649 1847.9 668.4 1803.2 656.5 1872 647.6 1901.9 623.6 1913.7 642.1 1861.7 627.9 1839.3 665.8 1848.5 658.3 1933.6 662.5 1954.5 632.7 1843.4 678.1 1902 669.8 1889.5 673.4 1924.5 657.9 1910.1 654.1 1898.8 652.7 1930.6 632.7 1961.9 635.2 1930.4 641 1878.6 691.8 1876 627.1 1859 649 1979.5 638.2 1928.3 623.4 1903.8 660.6 1964.7 623.1 1914.3 651.5 1846.1 657.1 1877.9 606.2 1914.1 656.2 1870.6 626.9 1951.2 644.4 1931.7 670.3 1867.1 669.8 1878.9 650.5 1885.4 650.6 1935.8 644.2 1882.5 645.7 1903.3 629.9 1867.9 652.7 1865.2 651.8 1863.3 693.9 1944.8 649.1 1886.7 693.5 1902.6 645.9 1901.7 653.8 1948.2 639.3 1977.2 617.2 1918.2 625.2 1965.3 630.1 1886.6 668.6 1941.7 618.9 1874.5 625.1 1894.8 647 1874.3 639.1 1872.8 638.2 1911.2 675.9 1807.9 661.9 1871.4 662.8 1849 654.1 1845.3 671.3 1893.2 646.1 1904.5 642.4 1823.7 673.1 1901.1 644.9 1930.4 666.7 1843.1 642.7 1954 666.5 1858 632.2 1862.2 644.9 1822.5 662.3 1835.2 635.6 1927.5 629.8 1886 662.9 1923.2 637.4 1890.9 633.4 1962.4 649.9 1842.7 658.2 1919 654.2 1965.8 663.6 1866.3 652.2 1835.2 664.3 1893.1 608.1 1860.8 657.1 1836.2 642.2 1873.6 659.4 1882.1 633.7 1922.1 633.6 1868 626.5 1856 668.6 1821.1 660.5 1919.1 637.3 1899.1 626.3 1944 662 1898.9 613.7 1845.1 676.9 1961 643.2 1941.4 628.9 1881 651.4 1906.8 616.8 1928.5 669.1 1840.8 631.8 1903.7 634.6 1789.4 683.3 1895.5 639.5 1977.8 637.2 1857.4 657.5 1845.3 642.7 1905.2 636.3 1870.1 686.1 1925.1 659.5 1911.2 655.6 1950.2 638.9 1966.9 617.6 1878.3 624.8 1874.6 662.7 1950 626.3 1889.2 642.9 1858 632 1891.5 615.5 1893.6 649.6 1861.4 634.9 1832.6 690.5 1914.2 638.4 1840.4 679 1961.6 618.9 1876.5 672.9 1903.1 686.9 1865.1 664.9 1858.3 611.9 1883.7 648.2 1969.5 629.3 1888.5 661.8 1955.6 637.1 1932.7 652.6 1876.6 653.7 1890.2 631.8 1940 613.8 1938.2 660.2 1885.1 635.6 1879.5 661 1920.2 650.2 1930.7 631.7 1898.9 617.4 1921.1 647.4 1871.5 675.9 1918 589.5 1890.7 621.1 1933.8 691.1 1867.2 655.3 1878.5 658.7 1916.1 670.6 1847.5 688.2 1849.9 662.3 1937.7 655.5 1849.6 643.1 1869.6 652.4 1937.2 616.2 1908.6 658.6 1912.4 655.1 1952.8 648.4 1925 654.8 1964.3 599.4 1942.8 635.4 1877.2 633 1810.5 656.2 1860.1 664.8 1827.2 689 1900.4 643.1 1859.2 639.7 1841.5 647.6 1889.3 646.5 1829.6 655.2 1851.5 659.7 1967.3 648.6 1875.8 620.3 1829.6 627.2 1919.5 629.6 1891.6 637.3 1892.8 676.9 1860.2 648.3 1855.1 673.1 1845.9 635.3 1830.7 632.5 1847.2 676 1899.5 626.5 1877.4 647.5 1860 693.1 1808.9 671.5 1902.9 636.2 1895.3 666.2 1895.4 657.1 1918.1 604.9 1951.1 684 1930.2 662.7 1829.9 658 1854.9 644.4 1929.6 627.1 1883.5 613.4 1882.3 652.9 1859.4 641 1968.2 612.3 1844.9 641.8 1939.4 682.5 1903 633.4 1871 674.1 1850.7 685.3 1948.5 641 1916.1 660 1954.3 617.9 1938.6 633.9 1856.8 657.7 1880 632.1 1821.9 643.2 1950 677.9 1916.3 668.6 1867.3 652.3 1900.9 626.7 1847.4 659.2 1875.5 631.4 1905.2 642 1931.9 642.4 1876.4 654.7 1881.8 638.1 1872.1 667.7 1916.2 670.6 1817.9 654.7 1871.6 656.4 1870 643.2 1921.9 647.7 1840 684.8 1930.9 631.4 1923.9 629.4 1936.3 637.4 1855.3 648.6 1856.8 659.4 1896.4 649.4 1865.6 582.1 1892.9 612 1899.3 670.4 1900.5 640.3 1881.4 648.7 1865.9 642.6 1850.2 680.2 1888.3 668.9 1878.5 653.3 1881.8 660.4 1923.7 648.6 1860.7 639.6 1958.7 632.3 1876.8 681 1934.7 652.5 1905.5 657.9 1881.8 623.4 1832.9 667.8 1905.5 642.4 1839.8 630.3 1875.2 623.8 1926.8 666.1 2007.8 646.5 1864.1 637.2 1744 663.7 1881.6 670.3 1914.7 657.1 1898 661.4 1949.8 618.4 1869.8 626 1957 663.6 1920.6 620.9 1896.3 644.1 1892.4 645.7 1910.8 638.4 1924.9 648.5 1876.7 650 1870.5 669.2 1877.6 657.8 1872.5 623.7 1927.1 622.5 1917.5 653.3 1819.4 643.6 1867.4 637.6 1839.4 673.2 1878.9 659.3 1870.9 659.2 1857.5 655 1913.4 646.6 1869.8 632 1896 655.6 1878.1 636.8 1911.8 694.8 1876.3 658.8 1904.9 596.7 1894.2 635.2 1947.2 634.8 1856.3 651.4 1896 637.8 1886.8 623.7 1879.5 666.9 1971.7 649.4 1900.4 671.3 1931.8 675.2 1934.5 639.7 1899.9 651.6 1901.7 651.7 1856.1 614.4 1860.8 615.1 1891.9 649.6 1818.6 675.9 1925.4 645.5 1959 674.6 1838.3 679.3 1907.5 655 1928.2 629 1864.1 638.1 1857.3 653.6 1828 640.1 1913.3 644.4 1905.1 610 1856.1 644.8 1890.4 638.2 1928.2 642 1889.7 650.1 1918.7 635.5 1936.1 650.8 1895.5 649.7 1910.9 666.2 1928.7 650.4 1925.8 645.9 1941.6 640.3 1801.8 691.6 1893.5 626.2 1880.7 634.1 1977.2 644.4 1823.1 672.3 1872.3 690.6 1844.8 613.5 1891.8 642.7 1871.5 610.9 1906.9 679.8 1808.8 687.1 1907.3 643.1 1935.4 652.2 1864.1 668.3 1867.6 618.6 1974.3 628.2 1863.4 661.1 1823.5 634.8 1868 643.4 1892 671.6 1869.1 663.2 1914.3 624.3 1898.6 629.8 1933.7 651.1 1889.7 623.5 1893.9 634.1 1918.7 642.5 1854.9 674.2 1919.3 633 1937.8 635.6 1876 654.7 1857.4 646.8 1882.3 681.3 1952 633.9 1956.6 637.3 1905 664.6 1901.3 695.4 1899.2 624.7 1943.8 632.3 1876.2 593.4 1931 658.7 1922.6 663.4 1960 636.7 1928.4 628.5 1874.1 673.4 1905.4 620.9 1904.2 643.7 1854.6 664.6 1872 622.1 1842.3 693 1825.4 665.5 1914.6 658.1 1837.5 652.7 1894.9 664.7 1861.9 631.9 1931.1 664.4 1904.5 635.3 1906.1 649.2 1924.2 619.3 1893.9 646 1842.4 662.4 1890.5 641.7 1905.6 619.2 1886.7 658.9 1900.9 669.1 1838.6 629.2 1899 657.2 1978 646.5 1852.3 672.3 1853.5 627 1998.6 637.2 1919 655.8 1965.1 642.3 1940.1 620.8 1830.5 688.3 1950.9 649.2 1898.5 651.6 1860.1 685.3 1916.7 655.1 1904.8 667.8 1910.2 661 1839.9 668.6 1980.9 623.7 1883.6 668.5 1929.2 655.2 1821.1 671.8 1839.3 642.5 1912 640.2 1921.6 658.5 1851.4 643.9 1844.3 647.3 1843.1 645 1880.2 631.9 1829.4 633.6 1908.1 647.8 1932.1 663 1874.7 665.7 1939.2 637 1840.1 666 1810.5 648.4 1920.4 646 1868.4 672.3 1845.4 663.2 1868.1 637 1908.5 627.1 1968.9 624.5 1972.6 613.9 1914.4 621.9 1832.7 663 1917.5 620 1938.7 625.6 1894.5 656.5 1914 610.3 1957 649.2 1871.1 633 1817.8 635.7 1911.9 639.3 1841.5 648 1954.7 632 1864.5 680.9 1908.4 647.5 1863.5 623.9 1839.8 649.2 1879.8 658.6 1912.2 650.3 1898.3 628.6 1798.5 655.6 1848.9 644.2 1877.5 627.6 1842.4 656.2 1893.9 636.2 1909.9 642 1846.2 658.3 1968.1 622.9 1938 668.5 1951.9 622.8 1973.6 637.5 1878.3 647.3 1914.3 646.6 1881.6 676.6 1858.6 634.8 1922.3 658 1934.9 620.9 1934.4 651.5 1963 612.5 1898.2 642.9 1822.2 647.6 1936.3 632.5 1858.7 672.4 1930.5 662.1 1855.8 654.7 1932.3 629.5 1857.5 671.8 1954.6 615.9 1779.9 640.6 1846.5 654.7 1914.9 642.6 1859.6 658.2 1848.6 656.1 1923.3 627.6 1847.1 648.7 1819.9 647.7 1858 672.8 1871.1 637.6 1832.7 636.7 1886.2 646.3 1936.6 629.3 1933.5 647.3 1888.8 610.5 1834.8 674.1 1947.7 643.8 1921 636.4 1873.4 639.7 1929.9 649.6 1879.2 645.3 1912.4 652.3 1854.1 689.9 1899.8 648.3 1951 659.3 1885.3 661.2 1844.1 645.3 1794.1 690.6 1809.3 677.4 1854.1 636.8 1880.8 656.7 1914.7 680.4 1904.1 664.7 1863.9 668.4 1895.4 639.8 1885 649.5 1897 656.5 1867.6 639.2 1920.4 611.1 1863 685.1 1775.3 656.3 1917.9 612.5 1998.1 580 1949.3 670.1 1927.5 638.9 1904 629.7 1923 622 1877.5 671.6 1842.2 651 1895.9 622.4 1937.9 648.1 1825.3 660.2 1856.4 642.8 1892.2 635.5 1929.5 629 1930.2 641.9 1924.9 633.1 1867.8 631 1913.3 664.2 1978 659.8 1899.5 644 1905.3 646.6 1950.5 657.8 1853.9 642.6 1946.4 646 1879.3 675 1872.7 647.3 1869.6 614.8 1925.3 619.9 1865.1 639.5 1919.5 643.3 1889.6 616.8 1885.3 621.6 1901.9 655 1888.3 690.3 1911.2 657.8 1895 645.2 1929.6 664.6 1834.4 680.3 1910.6 665.1 1908.6 622.1 1839.7 694.5 1899.6 620.3 1903.6 640.3 1811.6 618.5 1821.7 667.1 1887 645.5 1901 659.7 1800.7 659.5 1854.2 631.8 1866 651.6 1877.8 623.3 1868.7 693.2 1844.7 624.6 1900.6 659.7 1908.5 624.6 1930.9 627.2 1841.3 646.4 1884.4 664.8 1915.2 645 1928.2 644.7 1926.6 615.8 1822.9 676.8 1830.6 654.3 1884.9 641.1 1870 680.7 1782.8 686 1985.4 633.6 1888.2 664.4 1965.8 613.2 1892.7 645.7 1912.5 649 1916.7 636.9 1891.1 636.5 1861.1 652.1 1883 628 1954.9 635.8 1830.9 681.8 1857.6 665.5 1888.3 655.1 1896.2 637.4 1890.7 689.7 1795 667.7 1907.3 626.1 1873.4 693.6 1911.5 647.6 1909 659 1938.5 649.9 1895.1 652.4 1945.8 656.1 1846.9 644.9 1902.9 635.3 1873.2 634 1878 660.3 1930.8 642.9 1976.1 633.2 2023.1 646.2 1909.9 636.5 1770.4 667.7 1896.5 686.5 1878.4 666.1 1782.3 671.4 1874.6 666 1892.8 626.9 1928.8 656.7 1914.1 665.5 1935.2 641.5 1832 632.7 1945.7 654.1 1893.3 640.7 1890.3 650.3 1874.9 638.7 1979.9 638.6 1863.6 628.8 1858.5 669.5 1920.9 640.1 1891.2 643.6 1842.5 683.7 1904.7 696 1857.2 652.9 1926.1 638.7 1830.7 641.5 1893.2 656 1885 670.4 1930.7 649.1 1890.1 644.8 1912.1 664 1891.5 658.4 1875.4 624.6 1847 672.4 1907.8 678 1891.4 666.6 1944.6 659.8 1863.4 650.8 1894.5 629.7 1908.9 666.7 1868.8 692.3 1876.8 648.1 1879 637.8 1906.6 647.3 1958.8 649.7 1911.6 641.7 1829.6 658.6 1853.3 675 1887.7 683 1919.9 661 1898.7 652.4 1916.4 663.3 1859.2 664.9 1999.1 629 1878.3 638.3 1828.2 684 1891.6 655.4 1966.5 685.8 1851.7 677.3 1915.2 653.3 1909.2 646 1955.8 650.4 1903.6 672 1926.8 652.5 1902.8 682.2 1910.5 644.5 1853.1 649.6 1845 659.9 1899.9 607.8 1889.9 662.7 1896.1 630 1942.4 627 1837.5 637.8 1888.5 669.5 1938.1 645.6 1839 645.9 1851.4 653.1 1814.6 665.2 1916.2 642.3 1908.4 628.2 1827.9 648.2 1937.6 661.8 1869.8 677 1875.4 682.1 1909.3 637.6 1922.4 628.9 1849.7 628.3 1899.9 647.1 1885.8 642.5 1949.4 631.1 1858.6 679.8 1948.7 646.2 1815.9 651 1914.7 645.8 1954.3 611.7 1917.5 632.7 1944.6 638.8 1932.3 629.7 1829.8 638.5 1863.5 634.3 1939.4 667.5 1900.5 627.6 1884 637.4 1950.1 645.5 1909.6 638.5 1804.5 649.6 1842.1 665.5 1893.1 633.5 1872.7 683.7 1848.7 639 1879.4 637.9 1871 663.6 1961.8 602.3 1888.2 650.9 1885.5 646.9 1874.7 672.3 1869.5 650.9 1889 652.1 1881.8 670.9 1888.6 653.5 1886.8 630.6 1854.1 635.4 1897.1 634.5 1844.4 662.5 1911.1 611.5 1960 638.2 1884.6 671.8 1891.9 637.6 1981.2 612.7 1884.9 667.4 1844.1 655.9 1905.2 694.4 1851.5 655.6 1916.7 646.8 1838.5 666.9 1893.5 658 1936.5 661.6 1906.1 653.1 1842.9 655.4 1898.3 640.5 1893.1 633 1953.4 681.1 1872.6 660.7 1879.2 676.6 1907.3 648.3 1879.6 654.1 1847 670.6 1859 665.8 1894.4 670.6 1888.3 670.3 1850.3 668.8 1879.6 655.5 1892 667.9 1804.2 671.2 1826.2 684.7 1806.1 644.8 1818.7 694.5 1834.9 661.7 1866.5 618.5 1874.8 665.5 1881.3 669.9 1873.8 652.8 1872.8 659.6 1968.8 643.2 1897.2 636.4 1857.3 684.4 1842.3 640.2 1884.9 642.3 1971.2 589.1 1904.2 661.4 1841.9 645.6 1907.2 678.9 1850.3 625.7 1929.8 672.8 1874.9 608.9 1950 635.4 1936.2 640.9 1873.2 643.9 1950.9 667.4 1799.2 647.3 1963.6 629.7 1831.9 660.1 1884.4 648.9 1868.9 647.4 1869.9 659.9 1854.9 650.3 1882.9 676.7 1904.7 645.1 1911.5 654 1934.7 652 1964.3 663.3 1887.3 642.1 1926.1 653.7 1885 621.6 1812 670.3 1921.4 660.1 1834.9 679.9 1866.6 661.6 1906.5 631.2 1864.2 613.6 1850.5 621.3 1907.4 648 1927.4 650.3 1862.3 661.5 1872.6 664.9 1902.2 628.2 1889.1 651.1 1876.1 669.9 1960.9 630.2 1874.3 608.4 1883.6 642.4 1798.2 671.6 1913.8 631.2 1873.4 633.7 1921 614.5 1875.8 690.7 1891.2 658.8 1882.8 628 1887.6 658.2 1846 664.2 1941.3 661.9 1822.5 642.4 1821.2 682.9 1914.6 659.3 1852.1 633.5 1892.2 651.4 1853.1 659.1 1916.1 649.7 1845.3 616.1 1878.1 655.1 1878.1 643.5 1860 669.2 1886.8 652.8 1848.2 644.9 1895.9 629 1836.1 652.8 1939.4 644.9 1950.3 636.7 1876 624.9 1864.8 682.5 1902.8 662 1918.6 644.6 1880.4 653.8 1917.2 654.1 1909.7 649.4 1856.7 650.5 1849.5 676.7 1800.7 661.2 1989.3 625.7 1841.3 658 1943.2 637.4 1914.8 647.5 1892 638.9 1868.4 661.1 1906.2 662.2 1894.9 620.8 1911.3 640 1877 622.9 1864.9 639.9 1887.5 621.7 1891.1 652.1 1842 645.9 1853 674.2 1782.8 661.8 1819.3 653.7 1924.6 631.4 1894.8 632.4 1970.5 653.7 1936.3 615.6 1842.8 679.3 1880.8 646.4 1903 622.9 1921.5 644.7 1909.1 633.3 1910.6 632.4 1929.1 665.2 1927.3 653.5 1915.6 592.1 1924.1 638.5 1893 643.7 1830.6 649.6 1916.7 673 1862.8 636.8 1950 622 1976.1 635.8 1851.9 675.9 1960.1 609.3 1954.5 633 1951.4 631.6 1822.8 671.5 1927.9 684.4 1961.4 651 1879 641.5 1876.6 635.8 1877.5 602 1896.5 648.1 1996.8 646.1 1868.8 664.6 1837.5 647.2 1810.6 692 1913.9 622.5 1886.5 669.1 1909.8 653.9 1853 643.8 1893 667.4 1854.2 634 1947 626.1 1955.8 602.7 1977.2 608.1 1904 641.4 1913.1 617.3 2050.9 571.6 2016.2 573.4 1975 594.7 1967.4 577.9 1915.2 619.4 1890 602.3 1976.1 580.3 1916.3 588.5 1956.8 591.6 1956.9 595.3 2023.4 569.3 1874.6 627.5 1951.2 604.4 1888.4 644.6 1949.9 600.6 1889.3 630.4 1948.5 630.4 1934.9 580.1 1956.1 580.3 1967.3 573.2 1946.1 597.9 1949.8 590.7 1919.5 609.7 1928.5 611.4 1940.5 557.1 1948.7 631.1 1962.9 610 1968.8 585.7 1899.3 634.3 1992 600.2 1967.5 604.2 1950 607.2 1951.6 607.8 1914.5 599.4 1973.1 587.1 1857.6 633 1862.8 668.7 1978.9 606.5 1925.5 585.6 1943 604.1 1921.5 613.7 1977.7 605.4 1911.3 568.6 1951.4 587.4 1968.5 629.9 2014.4 587.4 1993.9 622 1953.2 606.3 1984.1 590.2 1932.3 591.6 1951.8 588.3 1982.1 584.8 2007.7 608.8 1904.2 638.5 1936.3 634.5 1971.4 594.2 1977.5 581.7 1964.4 605.3 1946.3 611.1 1913.8 624.8 1905.8 628.6 1970.1 610.4 1930.9 670.6 1943.6 607.2 1923.6 639.9 1934.4 627.5 1916.5 619.1 1938.4 625 1941.5 587.2 1969.8 571.6 1916.3 628.7 1881.7 639.3 1937.6 587.5 1962.2 611.6 1930.8 604.9 1983.4 607.5 1951.2 586.4 1917.3 600.6 1979 605.4 1964.8 626.5 1942 597.4 1938.9 645.3 1875.7 631.9 1970.4 597.7 2041.9 598.1 1982.8 574.3 1972.6 588.3 1955.5 605.3 1935.7 620.4 2015.5 603.7 1962.2 559.8 1995.1 611 1946.9 594.4 1979 577.6 1984.3 570.5 1919.7 613 1899.6 619 1974.5 568.8 1989.3 579.6 1975.1 599.8 1937.4 596.6 1890.4 607.8 1925.6 644.4 1992.9 562.1 1984.7 597 1940.4 615.8 1984.4 581.1 1944.4 608.5 1917.8 617.2 1951.7 589.1 1923.2 618 1987.6 598.4 1922.8 627.2 1961.2 612 1998.4 570 1949.6 591.5 1922.1 652.8 1990 555.2 1970.8 585.7 1997.9 590.2 1948.4 606.9 1969.3 598.1 1946.7 601.8 1974.1 573.2 1954.9 599.6 1936.8 622.6 1906.7 609.7 1923.1 623 1937.5 608.4 1969.3 565.2 1971.9 581.6 1945.5 602.7 1985.2 607.5 2020.9 585 1937.2 597.4 1979.4 626.8 1967.7 586.4 1965.2 604 1956.2 586.6 1860.2 620.8 1994.3 594 1872.5 627.9 1886 663.8 1962.1 575.4 1984.8 576.9 1976 595.9 1910.9 629.2 1905 644.7 1957.3 580.5 1887.3 655.8 2009.2 559.6 2016.5 586.2 1946.7 602.8 1945 634.1 1960.6 563 2033.2 595.4 1914.3 607.5 1921.2 613.5 1969.7 602.2 1932.7 592.8 1986.6 590.1 2039.1 559.4 1984.5 593.8 1926.6 638.4 1959.6 582.5 1943.1 626.3 1909.2 644.2 1980.6 588.4 2005.7 621.5 1977.4 598.5 2024.1 610.7 1920.3 608.6 1946.9 596.2 1899 637.8 1958.1 603 2007.8 574.1 1952.9 608.2 1938.8 604.8 1983.7 592.8 2004.9 571.1 1962.6 570.6 1950.6 589.1 2006.2 601.1 1974.1 633.6 2009.3 599.7 1929.1 580.7 1953.9 595.1 1930.7 603.7 1892.7 651.8 1912.1 601.7 1976.5 562.1 1989.7 610.3 1943.2 583.7 1937.1 569.8 2007.4 586.7 1927.2 592.1 1976.7 626 1906.9 605.3 1888.5 636.6 1960.9 646.4 1950.4 594.5 1928.2 627.9 1893.4 636.6 1964.3 588.7 1920.8 634.3 2025.5 570.8 1975.1 631.5 1931.5 604.2 1908.7 613.4 1951.9 594.4 1927 578.2 1904 597.9 1979.3 583.9 1922.6 625.6 1976.4 579.8 1931.2 623 1968.9 580.5 1964.1 598.5 1997.4 570.9 1988.6 600.4 1916.6 635.7 1989.6 564 2030.5 554.7 1920 606.3 1984.4 604.9 1951.4 631.4 1970.5 626 2062.7 572.3 1856.5 623.4 1913.8 616.8 1958.7 575.4 1910.8 610.3 1947.5 550.2 1992.4 591 1954.6 608.3 1915.6 613.3 1995 612 1972.8 590.6 1923.3 639.5 1975.3 586.8 1870.9 610 1880.2 651.5 1962.3 584.1 1944.2 660 2002.3 558.9 1949.9 577.6 1887.7 626.7 2049.3 605.5 1956.7 593.5 1962.9 621.5 1897.8 580.2 2028.8 584.9 2018.1 587.3 2013 570.9 1974.6 628.9 1995.2 579.6 1990.2 576.8 1898.8 630.7 2010.2 602.9 1905.3 636.1 1981.9 583.8 1856.7 654.5 1990.1 601.7 1886.4 591.5 1995.1 606.7 1974.6 590.6 1970.6 585.5 1942.6 587.2 1965.2 589.8 1992.8 605.7 1922.7 651.6 1910.3 625.6 1998.1 616.1 1867.1 651 2003.6 617.8 1866.3 615.1 1951.1 593.6 2008.5 570.6 2004 598.8 1896.9 598.7 1936.3 609.9 1994.7 585.7 1991.3 556.6 1833.1 632.8 1973.3 588.5 1914.6 623.8 2032.3 575.6 1926 592.8 2033.6 576.6 1979.5 620.8 1998.1 568.6 1993.2 608.3 1974.6 617.7 1932.5 607.4 1934 625 1928.9 618.7 1911.2 613 1940.5 604 1960.3 596.4 1946.2 559.9 1999.2 574.7 1945.2 587.1 1995 569.9 1975.2 621.2 2020.8 607.2 1979.8 568.3 2006.6 611.6 1988.6 608.9 1958.2 589.9 1998.3 616.1 1913.7 634.8 1965.1 618.2 1966.3 622.7 1996.3 608.5 1900.4 637.1 1957.5 577.2 1983.7 563.8 1991.2 627.5 1935.6 628.2 1973.6 610.6 1902 632.1 1961.1 616.4 1956.2 625.7 1966.8 613.4 2010.3 589.2 1995.4 594.8 1976.7 584.5 1986.8 618.9 1952.9 620.3 1973.1 573.3 1970.1 626.1 1937 570.2 1964.3 586 2031.2 578 1956.1 588.9 1966.2 587.2 1920.8 612.1 1924.5 640.4 1910.5 615.1 1929.3 581.4 2021.7 537.2 2013.5 554.4 1959.9 649.3 1872.9 599.3 2007.9 589.9 1935 608.3 1918.6 616.7 2015 575.9 1961.9 626.2 2034.4 565.5 1968.2 586.7 1931.1 601.7 1931.6 573.3 1878.4 611.2 1961.6 626.5 1935.6 605.3 1982.3 609.9 1951.9 602.6 2029.8 572.3 1937.2 573.8 1973.4 591.4 2031.2 571.8 1988.2 612.2 2021 554.4 2017.7 583.4 1952.3 597 1941 599.9 1865.1 641.7 1958.9 581.4 1953.9 651.8 1971.3 589.5 2023.3 564.6 1950.4 592.5 1947.1 620.7 1979.1 579.8 1951.3 605.7 1940.4 606.5 1928.2 595.6 1958.1 580 1972.6 593.1 1920.4 600.6 1937.6 604.7 1960.7 596.5 1922.4 643 1991.5 593.6 1993.3 597.6 1946.2 607.2 2059.9 590.8 1996.7 581.3 1979.5 642.5 1972.8 619.7 2005 600.5 2017.4 588 1975.5 583 2058.6 576.6 1960.5 630.1 1937.3 608.1 1925.8 612.2 1941.1 618.3 1951.2 591.2 1944.7 603.3 1936.3 628.1 1982.1 597.2 1910 627.5 1906.6 621.6 1957.9 589.3 1924 597.7 2035.5 571.9 1948.1 624.8 1972.3 619.3 1908.7 594.3 2084.7 561.2 1944.9 609.1 1994.4 565.4 1967 598.2 1982.1 597.7 1935.6 590.6 1862.1 652.1 1899.4 611.5 2020.2 573.5 1979.6 590.5 1983 594.4 1936.4 636.5 1945.8 577.5 1943.4 617.4 1913.2 632 1985.5 637.2 1931.4 623.7 1891.8 613.6 1960.1 609.5 1953.9 601 1932.5 600.3 1967.8 610.2 1980.6 615.3 2001.7 550.5 1936 605.1 1931.3 631.7 1984.8 591 1960.7 627 1942.7 599.9 1990.8 601.1 2010.5 592.9 1984.8 581.9 1920 613.3 1854.3 642.5 1993.3 592.2 1947.6 627.4 1954.4 623.1 2040.1 591 1992 601.2 1965.7 604.9 1958.6 623.9 1894.3 616 1981.2 576.9 1952 589.1 1972.9 614.9 2011.7 595.3 1928.6 616 1977.8 624.6 1874 635.6 1886.2 638.9 1973.1 607.3 1989.9 599.6 1931.3 617.2 2001.9 585.5 1957.1 576.8 2000.4 577.9 1927.7 601.9 1923.2 607.3 2004.8 603.4 2010.5 616 1921.9 622.9 2013.3 631.8 1902 589.7 1973.9 589.7 1918.1 622 1925.9 564.7 1955.1 605.1 1980.3 614.1 1962.9 595.2 1930.5 576.1 1939.2 628.1 1980.8 636.8 1950.1 567.1 1987.5 613.8 1911.3 582.8 1961.7 615.1 1913.1 608.5 1926.2 587 1905.5 620.8 1941.6 592.8 1856.2 669.4 1919.7 610.6 1912.3 623.6 1898.1 622.1 1948.5 623.4 1913.8 601.8 1946.6 648.2 1899.3 625.7 1930.5 616.4 1980.5 597.2 1965.5 604.8 1933.1 604.6 1892.2 614.5 1926.1 606 1983.5 601.2 1973.4 619.3 1864.3 639.4 1954.4 600.3 1905.4 629 1999.1 609.6 1952 616.3 1990.5 628.7 2002.1 590.4 1958.9 604.4 1963.9 589.1 1984.7 578.5 1924.6 618.9 1933.3 603.8 1875.9 643.2 1954.9 599.5 1972.8 600.9 1928.4 651.8 1937.9 627.5 2025 567.4 1958.7 584 1995.2 582.6 1913.1 642.3 1990.1 572.7 2000.3 591.9 2058.7 605.1 1933.9 603.1 1921.6 615.2 1956.9 616.7 1958.4 570.6 1924.1 640.9 1999.1 584.9 1949.9 600.1 1955.9 567.1 1989.2 577.7 1960.6 548 1964 626.9 1869.7 660.1 1973.1 581.2 1894.5 645 1965 611.1 1944.6 588.8 1988.3 571.9 1989.4 556.7 1919.7 583 2005 550.1 1911.5 629.3 1963.8 644.6 2025.4 592.8 1981.4 556 1921.3 605.7 1948.2 575.7 1919.4 595.6 1995.6 598.1 1942.3 600.3 2013.9 629.9 1919.2 689.8 1856.3 596.2 1956.7 653.9 1863.2 692 1896.5 562.4 1904.8 631.3 2019.8 633 1863.4 651.1 1897.2 577.3 1887.8 620.6 1795.1 595 1815.7 607.4 1827.1 635.8 1960.6 581.7 1763.5 560 1961.8 686.8 1763.9 568.5 1888.8 677.4 1955.1 641.5 1930.2 646.8 1879 589.3 1844 572.1 1880.3 677.6 1784.2 678.9 2036.1 648.9 1792.2 599.6 1854 582.5 1785.3 623.4 1865.6 658 1958.8 669.4 1959.5 597.9 1954.3 627.6 1894.5 641.8 1821.1 625.8 1829.6 616.7 1914.2 595.5 1933.7 638.2 1936.4 669.4 1972.7 659 1932.3 626.6 1921.9 597.7 1860.6 663.8 1875.2 651.7 1799.8 688.6 1835.8 649.7 1877.4 671.2 1850.4 593.7 1736.5 621.5 1789.4 655.2 1987.5 544.6 1782.2 646.2 1971.9 646.1 1903.5 654.1 1925.2 584 1843.6 642.2 1818 623.3 1839.5 605.6 1931.3 618.2 1796.8 605 1898.6 693.4 1916.4 547.4 1907.6 599.5 1777 590.4 2013.9 570.3 1832.3 680.4 1929.2 564.9 1870.6 613 1864.3 664 1835.5 620.8 1989.1 559.5 1850.8 652.6 1784.8 608.3 1779.7 639.9 1831.8 665.4 1956 635.5 1850.2 644.2 1883.2 584.6 1959.8 642.7 1938.4 578.8 1925.3 575.2 1881.6 631.2 1895.2 624.2 1916.2 614.8 1896.1 605.8 1886.2 673.7 1841.5 660.4 1811.5 618.5 1860.7 683.8 1820.6 682.7 1767.7 627.1 1947.6 661.5 1802.1 584.1 1944.9 582.5 1922.4 612.4 1995.8 667.3 1774.1 646.3 1882.4 629.3 1979.6 563.9 1902.4 638.5 1782.2 634.5 1884.3 544.7 1769.7 594.1 1937.9 671.5 1923.2 643 1839.1 680.6 1931.9 666.2 1799.7 636.4 1784.2 669.5 1787.3 624.5 1815.6 614.1 1912.6 610.3 1894.6 592.5 1983.9 607 1862.1 680.5 1840.8 648.4 1822.1 655.8 1785.3 667 2016.1 640 1957.6 678.8 1845.3 658.2 1916.1 565.4 1922.7 625.4 1975.6 686.1 1828.3 608.3 1892 659.5 1845.9 628.2 1924 650.1 1966.2 642.5 1809.4 560.8 1939.3 619.2 1850.6 620.9 1756.7 616.8 1911.4 624 1889.5 662.6 1819 623.3 1882.6 552.1 1872.1 673.7 1833.5 621.5 1782.1 589.2 1788.4 647.8 1902.3 605.9 1880.5 628.6 1838.5 634.6 1880.6 590.5 1776.7 597.6 1886 689.4 1990.1 645.4 1949.7 637.5 1961.9 637.7 1906.9 620.7 1783.7 632.5 1830.7 672 2016.9 619.5 1924.1 562.7 1857.6 629.5 1910.3 642.1 1793.9 602.8 1827 652 1799.7 692.8 1905.4 541.9 2006.9 638.7 1833.2 636.3 1733.9 640 1981.2 684.4 1849.2 591.9 1948.4 629.9 1892.2 658 1791.8 664.9 1753.1 605.7 1823.3 662.1 1933.6 646.7 1917.7 651.3 1869.6 552.2 1871.4 622.2 1864.2 641 1856.6 590 1757.5 552.5 1970 669.4 1769 620.1 1827.6 638.7 1965.3 558.9 1817.2 629.8 1942.5 639.6 1799.3 667.5 1924 609.8 1840.4 570.2 1868.3 667.4 1952.8 655.5 1938.9 606.6 1837.4 681.5 1909.6 598 1913.4 665.9 1929.6 635.6 1833.7 647.8 2006.8 637.3 1821.8 645.3 1777.6 640.6 1850.6 671 1882 674.8 2053.9 622 1808.7 650.2 1867 636.9 1826.8 654.2 1879.3 541 1855.3 644.9 1965.8 606.9 1811.1 678.8 1826.1 635.3 1910.6 661.6 1874.3 584.6 1952.5 612.8 1942.2 586.8 1836.1 620.6 1815.2 551.1 1936.1 663.1 1892.6 614.1 1890.1 657.3 1792.3 617 1830 659.7 1893.9 576.9 1797.9 637 1824.4 682.5 1868.4 612.6 1781.9 620.5 1937.7 658.6 1770.4 695.3 1854.1 587 1883.1 604.9 1828.2 604.4 1866.1 609.8 1740.2 652.2 1832.5 680.1 1914.5 656 1887.1 684.1 1847.5 589.4 1899.7 517.9 1844.2 639.3 1840.6 682.4 1927.2 635.1 1841.7 675.7 1820.1 613.2 1930.6 655 2030.4 621.4 1726.9 657.6 1970.1 623.5 1821 610.4 1775.5 652.7 1928.2 655.3 1777 598.7 1761.6 563.7 1768.2 564.9 1858.3 647.7 1920.7 629.3 1820.3 629.7 1916.4 617.9 1876.3 617.5 1831.7 631.5 1785.9 673.4 1751.3 649.1 1766.8 692.3 1939.3 596.6 1837.3 583.5 1867.5 647 2069.4 573.7 1967.9 606 1893.3 666.2 1914 647.4 1856.8 629.7 1883.8 679.4 1758.7 609.8 1775.8 590.3 1810.4 675.2 2037.4 685.8 1780.6 633.1 1784.4 648.3 1970 654.2 1939.1 623.9 1864.4 653.6 1969.9 615.7 1877.7 640.5 1953.9 627.1 1787.6 674.5 1903.7 645.7 1774 629.7 1739.5 547.5 1853.7 612.1 1915.7 689.2 1826.7 661.3 1774.3 635.2 1847.6 621.4 1917.3 552.5 1880.9 596.6 1881 646.1 1843.4 614.7 1783.2 652.5 1820.2 648.2 1762.2 686.1 1793.3 677.5 1837.5 652.4 1860.9 657.9 1872.3 682.1 1923.7 658 2000.4 601.4 1972.1 632.9 1758.2 649.6 1834.2 632 1890 551.8 1911.1 589.2 1871.3 565 1886 637.2 1927.4 617.8 1780.4 624.2 1817.6 603.2 1868.4 579.1 1837.7 624.4 1834.4 619.7 1967.5 647.8 1769.1 612.4 1929.4 603.3 1878.3 628.8 1912.6 622.7 1861.1 594.8 1899.6 591.9 2005.3 629.2 1854.8 662.3 1865.5 633.6 1868 600.3 1801.1 601.3 1959 604.3 1840.8 611.6 1801 652.5 1881.2 617.6 1910.8 577.9 1935.9 639 1795.4 695.3 1937.3 677.6 1760.3 618.9 1831.9 655.6 1976 552 1873.6 624.8 1948.7 628.3 1774.4 622 1792.5 598.2 1875.2 610.3 1893.4 567.9 2050 681.6 1927 577.1 1972.2 608.5 1964.7 680.1 1873.2 679.8 1897.3 603.2 1781.9 625 1948.5 574.6 1748.4 652.5 1838.3 660 2014.6 570.7 1850.2 624.8 1889.4 673.2 1973.6 634.5 1846.3 628.5 1895.3 683.6 1806.2 651.8 2006.7 682.7 1897.5 593.9 1817.4 623.6 1895.8 619.8 1760.4 599.8 1911.7 664.2 1764.7 615.1 1743.6 606.9 2143.7 632.6 1845.5 605.9 1779.2 554 1868.8 618.7 1985.3 563.1 1905.4 684.9 1748.5 651.4 1985.2 629.8 1894 601.6 1894.2 676.3 1858 624.3 1901.9 663.7 1746.5 632.5 1819.5 650.3 1951.5 642.8 1971.1 589.5 1840.7 589.5 1876.6 633.9 1856.8 580.4 1866.2 612.1 1918.4 619 1961.3 639.5 1729.5 622.9 1762.4 669.7 1982.1 628.9 1906.1 570.9 1852.5 568.1 1879.1 642.8 1921.5 693.5 1934.3 615.1 1880.2 654.7 1791.9 684.4 1941.3 620.8 1936.7 668.6 2010.2 670.3 1888.4 658.9 1802.2 659.4 1754.2 647.5 1915.2 566.4 2019.8 583.1 1952.7 608.6 1896.5 603.4 2064 672.6 2011.8 662.5 1926.4 636.7 1854.7 655.5 1885.5 624.5 1767.6 618.1 1919.8 611.5 1900.2 625 1794.3 593.8 1816.7 619 1853.5 676.7 1790.3 547.1 1926.4 612.2 1986.4 655.2 1946.7 635.9 1947.7 606 1819.2 611.9 1995.6 695 1827.5 678.8 1861.9 675.3 1849.8 670.4 1865.7 619.5 1872.7 637.8 1829.7 575.2 2004.9 615.2 1734.7 538.2 1979.2 564.3 1849.9 556 1959.7 646.5 1899.6 687 2001.6 673.8 1830.3 577.1 1794.4 559.5 2014.1 623.7 1884.9 639.7 2030.7 608.4 1966.2 644.1 1863.3 552.7 1946 601 1839.7 640.9 1882.4 677.9 1823.4 638.4 1896.6 632.8 1927.7 621.2 1968.2 602.5 1764.1 630 1966.4 610.5 1826.7 617.5 1887.9 624.5 1899.2 560.9 1990.9 655.7 1808.8 688.2 1910 692.3 1878.8 547 1933.3 619.3 1797 622.9 1725.2 655.8 1858.5 620.6 1984.4 633.2 1824.2 592.5 1870.5 675.6 1830.3 588.9 1946.5 634.2 1781.4 639.9 1738.1 619.3 1920.6 678.1 1777 666.1 1935.7 626.6 2065.2 631.7 1807.1 649.2 1731.3 695.9 1951.5 615.2 1922.6 653.8 2024.5 606.3 1775.5 547.9 1852.3 567.1 1861.7 648.6 1841 592.8 1967.2 623.4 1893.1 670.9 1774.4 593.7 2068 625.1 1794.6 621.2 1830.8 581 1843.5 630.8 1874 653.8 1741.2 570 1936 613.4 1969 644.2 1766.2 653.7 1797 642.3 1869.7 660.4 1898.3 664.2 1897.5 651 1817 665.6 1960.2 634.5 1857.6 617 1885.8 680.2 1990.7 612.3 1803.4 599.1 1951 640.8 1898.1 651.5 1904.1 626.6 1795 606.3 1884.5 647.8 1846.7 614.6 1980.4 612.5 1892.2 618.6 1809 569.4 1833.8 598 1940.3 584.6 1843.4 658.5 1866.5 652 1939.3 563.7 1843.5 592.3 1978.7 626.9 1847.8 634.7 1906.4 620.7 1971.3 665.1 1951.9 633.6 1848.8 617.2 1847.2 564.6 1902.8 664.8 1874.3 611.4 1877.9 640.8 1809.6 646.4 1927.7 634.8 1857.1 589.9 1829.7 660.3 1985.7 604.9 1910.9 652.7 1951.7 641.5 1908.6 667.9 1786.3 633.4 1740.7 551.6 1812.3 569.1 1913.4 671.8 1851.7 625.9 1857.1 620.9 1885.1 645.7 1839.7 599.7 1835.3 663.9 1842.9 690.1 1856.4 686.7 1784.3 603.4 1910.9 651.2 1880.1 643.1 1939.4 648 1750.9 646 1839.4 647.2 1943.5 601.2 1891 666.7 1886.8 618.1 1794.6 604.4 1778.8 671.1 1882.4 582.5 1874.1 579.5 1962.7 572.1 1820.4 639.6 1845.5 596.9 1835.7 621.6 1832.7 639.7 1856.9 600.7 1876.1 564.6 1983 561.4 1868 644.8 1905.4 641.6 1969.2 586.1 1869 637 1836.9 607.4 1970.8 602.6 1838.2 620.1 1858.1 637.6 1858.5 646 1884.2 650.3 1976.7 597.3 1997.7 613.1 1923.8 637.4 1851.7 552.6 1994.6 600.8 1814.8 673.4 1999.7 659.2 1892.6 661.4 1775.3 637.8 1884.8 612.1 1892.7 572.7 1941.2 682.2 1776.9 636.7 1989.2 647.6 1796.7 591.5 1792.6 632.4 1815.7 619.5 1896.6 629.2 1861.7 623.6 1956.2 631.3 1858.4 668.5 1796.5 660.5 1950.2 657.1 1860.2 630.5 1745.7 625.6 1895 665.2 1884 615.3 1811.1 629 1883.5 678.7 1874.1 610.9 1865.5 611.6 1856 543.3 1755.1 583.4 1908 627.7 1884.3 676.8 1796 676 1901.9 602.5 1983.8 574.3 1789.7 622.5 1903.4 623.1 1975.1 635.6 1792.4 644.2 1786.8 638.7 1900.4 614.8 1891.8 617.6 1830.9 691.3 1916.3 618.5 1816.4 637.7 1915.2 664.3 1982.3 648.9 1959.1 663.5 1972.1 571.8 1845.5 610.4 1961.2 584 1849.3 690.5 1921 615.4 2012.2 578.1 1906.6 621.6 1910.8 619.7 1811.2 639 1775.6 651.5 1849.4 666.9 1839.9 604 1902.5 679.2 1919.2 574.4 1807.8 655.8 1811.7 605.3 1999.8 593.3 1809 539.2 1791.9 581.9 1999.6 678.4 1929.7 623.3 1932.5 645.4 1816.2 561 1805.5 630.2 1846.3 601.2 1944.7 588.4 1938.6 611.3 1880.7 586.2 1872 599.5 1743.6 629.6 1868.8 663 1893.6 590.3 1827.2 532.3 1789.7 681.5 1984.6 660.4 1894.9 653.4 1908.5 561.9 1807.9 677 1959.8 639.7 1849.5 615.1 1832.2 593.7 1729.9 636.1 1839 621.8 1999.3 653.6 1820.4 653.1 1761 671.8 1891.9 622.6 1914.7 687.7 1838 591.2 2029.1 630.8 1983.1 603.5 1900.4 604.8 1919.4 619.3 1822.7 691.6 1897.5 549.9 1854.9 593.9 1781.9 607.1 1836.8 631.5 1813.4 556.4 1832.5 665 1770.8 654.6 1906.3 612.4 1895.2 600.4 1842.4 589.6 1906.8 684.5 1821.7 677.6 1828.1 661 1914.3 628.6 1932.6 682.6 1901.8 562.8 1856.5 666 1811 652.5 1836.3 633.7 1928.7 601.8 2086 636.1 1897.7 600.5 1876.7 619.3 1762.9 568.9 1893.5 626.5 1848.9 627.3 1917.5 580.5 1916.4 617.7 1834 624.3 1945.9 652.3 1938.7 602.5 1850.7 583.5 1830.5 614.1 1837.1 658.5 1903.9 660.4 1881.6 672.9 1880.5 668.6 1909.7 659.4 1867 580.5 1901.1 647.7 1859.5 611.7 2087.4 585.2 1867.3 627.9 1787.2 579.1 1819.3 616.2 1835.6 662.5 1783.6 646.2 1982.1 665.7 1786.6 511.9 1935.4 649.9 1828.1 681.2 1841.7 634.3 1794.1 642.8 1839.7 609.9 1953 638.6 1759.8 657.7 1934.7 596.7 1842.5 632.2 1853.3 635 1920.7 610.3 2028.1 601.5 2050.8 631.5 1858 587.1 1957.7 636.9 1808.5 646.2 1974.8 657.4 2037.6 676.4 1905 628.7 1913.3 678.7 1936.4 672.2 1888.7 660.7 1963.1 623.4 1915.7 612.4 1889.6 620.1 1744.1 622.7 1765.2 638.1 1863.8 675.3 1863 645 1849.6 614.8 1767.2 669.6 1884.8 606.7 1887.6 613.4 1817.7 640 1963.1 619.2 1765.1 605.4 2006.8 597.6 1961.1 620.4 1927.5 625.8 1753.7 613.5 2030.4 624.7 1914.4 616.6 1862.1 642.9 1870.9 622.8 1822.4 577.5 1751.4 656.6 1732.5 686.3 1936.5 618.3 1785.6 631.2 1873.8 675.2 1816.5 615 1868.2 619 1825.4 561.5 1749.3 603.1 1855.4 670.1 1863.5 609.1 2045.7 587.5 1841.2 619.6 1981.7 606.4 1930.9 613.9 1780.6 639.6 1884.9 583.9 1807.4 598.5 1944.6 648.6 1890.2 649.8 1836.6 649.3 1827 576.9 1819.7 638.6 1879.2 672.5 1745.8 621.4 1902 591.7 1891.1 613.9 1787.8 675.1 1768.3 670.3 1841.5 592.7 1806.2 600.8 1809 641 1732.5 679.9 1935.2 685.8 1798.9 537.6 1825.8 623.6 1895.3 609.6 1866.3 636.3 1788.5 640.9 1953.5 599.1 1873 695.7 1851.6 672.2 1894.6 639.6 1926.6 621.2 1857.1 668.9 1892.5 650.4 1783.3 631.2 1963.9 666.5 1898.8 609.9 1827.1 648.1 1979.4 632.3 1970.9 618.6 1963.1 590.7 1887.1 587.9 1922.6 653.5 1802 600.9 1840 571.1 1803.8 596.1 1931.7 685.9 1839.9 619.1 1889.2 609.8 1852.3 664.1 1890.4 627.2 1830.3 689.4 1827.2 635.5 1795.8 606.9 1880.2 614.8 1913.1 633.3 1769.5 538.4 1947.7 607.3 1983.9 631.2 1815.9 652.9 1852.8 631.1 1803.5 656.1 1955.1 609.6 2006.7 607.8 1891.7 565.2 1979.7 676.4 1745.9 639.6 1904.5 633.7 1895.3 593.8 1861 585 1846.8 645.4 1814.4 619.4 1840.7 631.1 1941.9 639.9 1902.5 572.9 1845.7 663.1 1808.4 613.1 1800.2 683.7 1838.9 601.3 1919 674.3 1909.8 669.6 1888.6 625.2 1839.7 610.1 1828 645.1 1864.2 633.8 1918 628.2 1770.1 598.7 1788.8 554.2 1880.4 582.4 1776.5 587.3 1938 617.9 1947.4 626.7 1839.9 652.8 1917.2 634.8 1794.8 612 1783.9 619.9 1879.4 689.5 1978.2 657.3 1943.9 639.4 2080 691.2 2070.6 645.4 1903.2 672.2 1886.4 642.6 1798.2 667.7 1882.4 662.5 1855.7 559.1 1909.7 676.7 1776.2 591.3 1849.6 620.2 1947.9 605.4 1736.2 644.5 2020.8 663.1 1958.6 592.4 1889.5 570 2020.4 652.8 1908 635.5 1848.7 654.6 2022.5 644.6 1736.7 623.6 1773.6 597.8 1896.3 623.1 1792 628.8 1810.5 651 1853.4 645.4 1851.5 659.7 1861.3 629.2 1829 635.4 1820.3 633.6 1835.7 610.1 1901.4 609.1 1839.1 574.4 1801.9 582.8 2006.2 576.1 1790.6 637.2 1978.1 561.7 1754.8 634.4 1896.2 572.8 1735.8 591 1926.9 627.6 1926.7 625.1 1868.3 653.9 1861.8 638.7 1802.3 605.3 1905.8 619.7 1814.5 655.5 1911.5 628.9 1813.6 665.1 2057.8 596.3 1754.9 598 1800.4 578.6 1781.7 663 1934.8 688.3 1926.3 610 1951.6 604.6 1844.2 582.1 1962.2 669.4 1835.4 616.6 1872.8 637 1933.4 631.6 1900.1 569 1847.4 557.2 2003.7 684.7 1923.6 673.3 2020.2 666.4 1750.5 620.6 1776.5 628.5 1898.9 591.7 1848.4 639.9 1857.9 621.6 1928.9 639 1758.3 617.7 1889.4 589.7 1920 596.5 1844.5 624.2 2036.3 615.7 1826.5 657.2 1834 636.3 1867.8 576.9 1971 619 1854.5 576 1747.3 605.8 1755 648.1 1934.4 603.1 1748.5 612.7 1789.6 635.1 1882.6 611.4 1874.6 670.1 1996.8 607.6 1923.2 618.9 1789.7 679.7 1898.4 634 1895.6 621.9 1936.4 638.9 1941.3 679.8 1853.9 651.8 1844.6 654.1 1842.1 649 1903.6 615 1939.1 625 1838 628.4 1812.6 676.2 1915.8 667.6 1767.6 639.2 1811.2 631.8 1964.4 638.6 1855.7 673.1 1729.3 641.4 1837.7 593.4 1877.5 581.8 1814.8 581.6 1850.9 634.3 1760.4 597.9 1751.2 518.5 1955.9 648.6 1895.3 642.4 1791.3 671.3 1885.9 554.6 1849.9 671 1853.1 603.3 1835.6 643.6 1784 592.1 1952.8 613 1838.9 578 1884.8 659.6 1834.5 620.9 1777.5 684.6 1822.7 622.3 1995.6 619.4 1752.6 591.4 1886.1 619.6 1931.7 680.9 1812.4 686.2 1934.1 646.7 1974.6 617.7 2043.7 631.7 1793.1 652.6 1891.9 662.3 1853.1 681.3 1765.3 616.7 1785 555.1 1796.5 581.3 1770 528.6 1785 645.8 1781.4 631.5 1767.5 625.8 1801 606.3 1786.1 645.2 1770.4 628.7 1780 603.9 1827.1 606 1811.8 656.8 1732.2 629.1 1797.3 648.2 1756.2 629.4 1749.9 585.5 1770.3 627 1809.6 632.7 1798 580 1750.8 604.1 1812.7 575.2 1741.6 618 1800.7 565.3 1770 574.5 1806.3 644.1 1781.2 618.9 1770.3 625.2 1761.5 590.5 1751.6 620.9 1758.3 650.2 1730.4 639.8 1786.7 661.8 1769.9 569.4 1755.5 659 1768.8 606.4 1762.8 618.2 1770.4 567.4 1762.5 654.7 1806.2 616.2 1764.2 666.6 1771.5 580.3 1772.5 644 1808.6 603.8 1786.8 609.1 1799.6 629.1 1780.8 586.9 1768.4 609.3 1698.1 649.5 1775 613.2 1767.5 621.2 1780.4 575.8 1777.9 624.2 1775.8 569.7 1772.2 576.6 1782.7 665.1 1793.8 608.7 1763.6 601 1782.7 597.6 1763.7 534.9 1757 593.6 1763.6 661.6 1746.1 575 1788 586.8 1771.6 626.2 1775.5 593.8 1794.8 671.2 1753.7 611 1795.2 613.2 1753.7 605.6 1792.9 586.3 1780.6 633.2 1761.2 639.4 1789.4 654.1 1795.1 569.5 1794.3 640 1796 591.3 1794.5 632.9 1750.4 663.5 1758.5 585.7 1783.6 599.7 1782.9 611.9 1781.2 648 1774.5 649.8 1793.3 591.8 1793.4 641.3 1778.1 658.3 1810.5 646.1 1743.9 635.4 1772.4 611.2 1782.6 609.3 1810.1 629.8 1775.7 647 1792.4 660.6 1788.8 619.3 1778.2 547.2 1744 655.8 1768.3 682 1813.7 578 1758.5 633.9 1770.4 612.4 1769.4 620 1791.6 593.3 1786.1 596.6 1786.5 631.3 1758.8 625.3 1759.7 591.9 1800.3 558.8 1787.3 644.6 1762.7 657.5 1794.8 576.6 1786.6 636.5 1759.6 640.1 1791.4 596.1 1732.8 634.2 1759.5 562.2 1767.2 539.7 1768.2 671.6 1714.5 636.2 1755.7 606.6 1755.9 642.2 1775.1 594 1747.4 606.1 1800 579.3 1784.3 632.1 1732.6 658.1 1812.6 612.1 1772.1 586.3 1746 647.7 1770 606.9 1771.7 643.8 1795.6 620.6 1771.2 624.1 1819.8 549.7 1750.5 636.9 1778.6 662.7 1803.6 688.4 1758.2 641.7 1770.3 653.9 1779.4 651 1759.5 626.4 1764.4 611.8 1765.7 585.5 1799.5 630.9 1799 586.7 1733.4 598.7 1772.2 647.9 1798.3 662.7 1808.7 645.8 1777.9 594.7 1790.3 603.7 1758.2 641 1780.3 650.2 1760.1 661.1 1783.3 615.1 1759.2 583.9 1746.1 669 1744.9 642.6 1770.2 601.1 1765.3 617.6 1795.1 640.2 1775.5 573.8 1737.1 685 1753.8 567 1799.8 569.4 1791.6 652.9 1780.9 654 1745.5 578.8 1771.4 620.7 1773.7 636.8 1759.6 547.6 1784.3 613 1793.1 692.3 1777.2 640.8 1756.2 652 1782.8 629.3 1795.3 581.9 1787.7 636.5 1809.8 558.7 1766.7 605.7 1778 596.2 1762.7 607.1 1757.2 593 1779.2 622.1 1785.8 621.6 1749.3 646.1 1780.8 600.7 1769.6 631.7 1777.1 616.3 1792 657.3 1768.6 620 1751.5 614.9 1785.7 650.4 1779 617.7 1760 628.1 1751.9 625 1775.8 589.5 1782.5 613.3 1788.4 604 1785.8 674.3 1779.3 647.7 1761.6 608.5 1734.7 615.4 1751 624.5 1730.9 591 1777.2 634 1739.7 606.4 1830.6 647.6 1778.8 526.1 1755.5 638.4 1780.4 636.1 1796 623.9 1793.7 559.1 1829.2 610.3 1761.4 672 1788.3 653.8 1762 630.1 1790.6 581.5 1770.6 612.1 1769 596.4 1748.1 635.2 1780.5 660 1773.8 597.4 1744 623.3 1768.6 689.4 1824.6 674.4 1755.8 572.6 1770.2 589.7 1805.8 624.3 1766.5 619.9 1802.3 588 1785.7 575 1770.7 597.7 1782 625.6 1801 643.8 1762.2 575 1757.7 605.7 1770.3 594.3 1798.5 652.2 1769.3 603.3 1770.1 618.7 1774.7 564.8 2052.3 540.4 2137.6 592.8 2159.4 468.2 2125.3 454.2 2072.6 514.9 2114.3 542.1 2148.4 494 2126.1 546.1 2079.9 463.5 2111.1 542.2 2123.1 523.8 2065.7 546 2105.2 561.5 2132.5 483.3 2138.1 474.5 2017.7 567.5 2127.5 489.5 2165.6 473.3 2027 530.5 2024.3 549.5 1962 535.1 2049 476 2091.4 514.3 2055.2 567.9 2096 545.6 2152.8 522.1 2125.8 504.2 2113.2 553.2 2049.9 447.3 2009.7 477 2110.3 518.9 2063.5 550.6 2119.8 598.1 2047.2 554.3 2118.6 476.6 2086.7 478.4 2067.5 547.7 1986.8 480.7 2035.7 530.7 2039.5 545.2 2032.9 499.2 2113 542.3 2088.2 523.9 2134.7 597 2059.6 488.4 2023 615.6 2030.9 457.5 2094.5 580.2 2012.3 519.5 2001.4 489.9 2168.9 534.6 2065.6 529.6 2095.3 520.6 2014.9 464.8 2145.4 488.8 2151 561.9 2068.4 629.8 2028.8 513.8 2033 485.8 2060.1 476.5 2062.1 607.6 1984.9 461 2027.9 501.8 2135.2 563.2 2106.1 536.5 2017 524.6 2091.2 513.7 2034 458.3 2064.8 489.4 2053.6 470.1 2153.1 549.2 2083.1 513.1 2081.1 512.7 2070.9 424.1 2065.1 561.7 1973.5 507.9 2111.2 591.3 2075.3 549.5 2175.7 592.9 2055.3 494.7 2135.6 537.4 2050.3 514 2097.2 515.6 2066.1 513.7 1998.5 615.6 2146.6 604.1 2072.6 532.4 2111.4 568.3 1980.1 544.2 2025.4 522.2 2043.8 613.9 2109.3 524.5 2156.1 522.3 2040.4 516.4 2060 528.4 2125.8 519.9 2076.4 578.2 2095.7 574.9 2087.3 458.7 2018.8 440.4 2142.1 547.4 2054.1 474.9 2099.7 519.1 2097.4 482.5 2019.5 607 2028 524.8 2152.9 431.5 2118.2 529.5 2072.1 539.9 2015.3 411.4 2128.5 583 2095.7 549.5 2118.8 607.2 2106.8 591 2064.2 504.2 2084.6 546.6 2109.3 626.3 2125.8 529.4 2099.6 551.4 2062 470 2087.3 510.2 2033.1 532.3 2069.3 495.6 1983.4 517.4 2175.8 571.8 2139 525 2137.6 491.5 2055.3 552.8 2002.6 529.1 2096.5 612.9 2042.1 547.8 2044.7 498.1 1933.4 477.9 2142.8 552.8 2088.7 652.9 2109.6 462.5 2069.2 523.2 2167.6 479.9 2103.2 576.5 2036.2 530.7 1970.9 531.3 1960.4 506.4 2173.8 547.3 2083 534 2136.9 503.8 2056.7 472.6 2070.7 490.4 2133.9 559.3 2073.9 498.3 1923 495.9 2096.8 560.2 1912.6 402.8 2088.9 473.2 2068.5 501.9 2112.2 430.8 2049.3 574.7 2091.5 483.7 2104.9 540.9 2032 561.8 2117 519.5 2131.5 466.1 2121.9 516.4 2029.3 495.7 2143.8 497.8 2061.4 492.6 2037.2 575.7 2107.9 565.1 2061.5 500.8 2016.5 600.3 2061.9 489.5 2045.7 536.1 2050.5 527.3 2089.4 595.1 2012.9 541.6 2042.6 504.3 2168.4 558.5 2059.3 551.6 2079.3 583.4 2054 551.5 2069.2 527 2072.1 494.5 2086.2 576.8 2047.5 506.6 2100.5 487.7 2127.7 562.7 1955.8 492.9 2021.9 569 2131.4 465 2043.2 522.3 2060.5 563.4 2133.7 556.8 2139.8 574.5 2076.7 504.2 2040.5 568.6 2128.9 578.7 2062.8 506.5 2095 590.8 2100 538.1 2035.9 549.3 2109.8 477.9 2175.9 479.5 2131.1 516.2 2089.4 486.3 2050.1 562.6 2070.2 509.2 2128.9 563.2 2089.7 538.6 2174 518.1 2101.9 548.6 2004.9 427.7 2087.7 571.2 2091.7 499.4 2045.3 568.4 2064.7 444.3 2117.7 539 2101.4 580 2152.5 555.4 2071.3 418.4 2096.8 519.1 2152.2 592.1 2106.5 596.8 2076.7 524.5 2035 510.8 2092.2 580.9 2041 567.7 2066.8 527.8 2135.2 628.5 2147.5 524.8 2034.7 523.8 2078.6 539.2 2032.3 604.8 2041.6 561.5 2092.3 470.6 2084.3 527.7 2070.5 568 2055 657.1 2141.8 479.7 1945.6 591 2094.2 530.8 2027.7 452.7 1979.5 658.2 2167.6 498.2 2118.5 562.7 2033.8 503.1 2023.8 528.6 2151.9 577.5 2103.1 583.9 1983.2 630.4 2077.6 458.6 2059.5 492.8 2085.4 542.4 1953.1 591.2 2174.5 472.9 2160.8 591.2 2135.6 610.4 2004.4 563.7 2025 648.5 2027.1 462.9 2141.6 558.3 2081.7 533.3 2113.8 615.5 2041.2 497.2 2048.6 522.4 2080.8 459.5 2096.7 460.6 2063.1 513.2 2066.8 603 2169.9 582 2167 511.3 2157.4 523.4 2092.6 540.2 2006.7 494.4 2071.4 545 2073.1 481.8 2016.5 526.6 2015.1 464.9 2074.4 535.3 2034.5 433.5 2095.8 568.5 2057.6 506.5 1952.3 572.9 2019.8 563.4 2047.6 518.6 2069.7 432.6 2086.1 483.8 2067 597.6 1977.6 518.6 2107.1 532.3 2101.8 487 1989.8 457.8 2057.5 564.6 2084.4 609.4 2085.5 536.1 2091 436 2111.7 468.3 2059.1 647.9 2012 532.2 2096.1 532.7 2080.2 497 2023.6 603.2 2110.2 486.2 2030.6 513 2023.3 538.4 2045.6 603.9 2096.2 591.5 2088.9 632 2102.7 540.6 2023.9 504.1 2101.5 500.2 2038.1 577.4 2050.9 547.2 2074.9 488.6 2156.4 530.8 2139.8 508.4 2001.5 461.3 2051.5 516.4 2083 552.7 2011.6 537.9 2013 490.4 2060 619.2 2158 572.2 2160.7 513.1 2073.1 481.3 2112.1 460.8 2052.3 549.8 2052.2 544 2157.2 490.5 2028.6 537.7 2136.6 488.9 2039.9 503.1 2040.4 535.8 2040.8 512.8 2099.5 504.3 2143.5 490.8 2037.6 632 2162.8 529.7 2125.7 543.7 2051.9 561.1 2096.7 592.7 1978.6 568 2089.2 490.3 2056.4 504.9 2007.3 496.2 2123 447.1 2059.3 403 2048.3 546.4 2077.2 528.3 2018.5 555.6 2030.3 573.3 2091.7 506 2161.7 505.5 2136.3 531.5 2080 578.1 2104.1 525.6 2073.5 537 2084.7 509.1 2023 391.3 2073.9 513.4 2146.8 549.4 2142.8 616.3 2074.1 482.3 2125 495.1 2066.1 600.9 2110.5 583.1 2005.9 527.9 2141.6 459.5 2091 547.1 1953.3 609.1 2040.9 518.9 2172.5 433.1 2105.7 502.9 2082.5 483.5 2155.2 467.9 2100.1 554.3 2075.1 511.9 2065.6 579.4 2105 521.9 2020.2 534.4 2109.5 524.5 2159.2 426.8 2017.5 435.5 2127.9 556 2068.3 523.7 2089.5 504.2 2143.7 558.8 2073.6 441 2155.6 501.4 2023.3 593.3 2107.7 421.5 1988.8 505.6 2011.1 518.3 2078 568 2129.4 520.2 1999.1 582.3 2070.7 550 2119.4 484.4 2173.3 530.4 2092.8 503.9 2119.6 579.1 2049.8 556.9 2056.6 462.4 2062.4 558.2 2111 582.7 2043.4 510.7 2084.6 558.8 2074.1 477.1 1995.2 588 2139.5 491.9 2162.2 523.3 2105.7 592.4 2054.2 486.2 1985 542.6 2105.6 571.7 2114.1 532.2 2144.1 473.3 2102.3 553.6 2074.2 616.9 2105 597.1 2130.4 517.5 2081.9 520.6 2023.7 519 2067.8 537.8 2057.5 556.7 2076.3 444.3 2052.9 479.9 2010.5 513.6 2131.4 468.5 1970.3 518.4 2096 505.4 2128.4 602.2 2072.2 588.7 2021.2 537.9 2010.9 536.8 2047.2 539.5 2019.2 539.1 2087.4 497.3 2036.8 465.2 2059.3 548.1 2073.8 535.3 2151.2 510.3 2097.5 570.4 2109.7 547.4 2085.7 627.9 2077.1 507.1 2114 612.6 2159.5 529 2127.3 553.4 2085.5 561.4 2115.6 534.7 2176.6 507.7 2158.4 636.9 2071.3 444 2078.3 654.7 1994.9 446.7 2127.7 559.6 1980.7 524.3 2100.2 448.3 2134.4 458.2 2143.9 537.9 2042.9 443.4 2062.6 522.4 2074.2 496.3 2069.8 572.8 2031.1 516.4 2106.7 526.1 2129.1 608.3 2061.8 538.5 1919.2 509.1 2118.3 468.7 2154.6 428.9 2155.7 500.2 2024.8 501.8 2066.5 474.1 2004.9 499.7 2133.4 548.2 2155.2 495.2 2061.4 509.5 2088.9 551 2178 563.6 2090 597.6 2037.7 458.3 2117.7 535.6 2087.5 575.5 2062.4 521 2101.8 560.7 2135.1 532.9 2095.4 400.5 2148.3 444.9 2078.3 658.9 2062.7 444.1 2169.6 497.7 2071.7 518 2121.2 567.1 2073.8 584.5 2030.9 561.8 2046.2 563 2043.7 503.6 2161.9 468 2015.8 556.4 2065.7 504 2072.6 637 2023.4 512.3 2089.6 477.4 2078.4 551.6 2030.2 584.5 2017.4 518.8 2098.8 692 1983.9 540.9 2140.2 537.4 2001.5 546.7 2031.2 530.7 1997.6 564.2 1947.3 517.3 2151 553 2060.9 514 2056.7 667.5 2077.2 525.4 2039.7 501.4 2113.6 494.4 2035.7 497.4 2060.6 535.1 2053.4 516.1 2038.8 590.4 2085 509.7 2096 523.7 1993.8 516.7 2170.9 552.3 2144.8 491.1 1998.3 489.7 2154.3 474 2036.3 583.5 2066.2 515.7 2100.9 530.5 2063.3 539.2 2040.7 523.8 2116.1 470.8 2068.3 466.5 2121 558 2131.8 579.7 2136.3 563.3 2037.2 574.6 2029.8 647.3 2095.9 556.8 2012.2 581.8 2144.5 444.4 2049.3 501.6 2044.3 597.9 2137.7 512.3 2155.4 398.6 2056.1 589.2 2038.1 587.9 2051.8 585.1 2112 504.1 2037.9 517.1 2143.7 525.5 1993.1 514.1 2109.6 471.5 2079.2 503.9 1998.3 549.5 2017.1 486.6 2147.7 467.6 2113 587.3 2134.5 550.2 2066.8 452.7 2087.7 548.9 2051.6 474.3 2127.4 470.7 2103.9 500.6 1986.8 609.6 2113.1 553.7 2001.5 518.8 2094.8 486.5 2170.1 420 2117.9 426.7 1992.7 458.3 2110.3 487.6 2041.6 477.3 1996.9 477.6 2023.9 507.5 2057.1 398.9 2042 586.8 2051.3 519.5 2037.3 487.3 2072.6 452.4 2067.2 435.7 2094.5 440.2 2111.8 574.7 1986.3 556.9 2053 582.1 2045.9 506.7 2059 586.7 1968.3 561 2079.9 495.6 2061.6 569.5 2120 609.1 2039.2 422.4 2044 510.7 2050.3 584.3 1976.2 574.7 2038.8 522.8 2120.5 539.7 2070.5 535.5 2116 553.2 2031.1 490 2119.5 532 2121 446.2 2062.1 554 2071.3 499.6 2089.1 606.1 1958.1 603 2089.4 475.9 2110.3 522.5 2140.6 478.5 2127.3 473.3 2091.6 556.6 2069.6 553.7 2041.3 575.6 2046.4 483.8 2067.7 517.7 2028 561.9 2067.3 551.9 1992 452.1 2059.5 468.8 2066.8 549.6 2135.4 596.9 2117.4 483.7 2104.4 493.3 2104 465.7 2148.2 542 2058.5 449.8 2089.7 493.2 2088.1 483.5 2044.4 552.9 2155.6 454.8 2063.6 540.9 2065.9 497.8 2094.2 495.3 2069 401.8 2123.1 509.7 2021.3 607.2 2059.2 488.8 2027.9 576.2 2076 504.6 2001.6 473.8 2093.4 519.6 1963.7 475.3 2086.9 660.3 2033 405.1 2116.6 495.8 2001.8 550 2061.7 470.6 2002.3 514.3 2079.2 428.3 2128.6 454.8 2151.5 538 2064.2 538.2 2041.8 517.3 2165 491 2119.4 474.1 2073.4 570.9 2008.4 538.2 1956.2 461.1 2051.5 566.7 2113.9 473.2 2067.2 530.4 1988.4 542.8 2148.8 585.4 2042 499.5 2023 495 2060.7 556.2 2079 472.5 2119.5 566.6 2040.9 507.9 2068.9 435.3 2081.9 555.8 2058.8 513.2 2108.2 562.3 2027.3 530.9 2110.5 416.5 2150 509.8 2122.6 518.6 2061.2 517.1 2090.5 566.2 2060.2 462.8 2036.3 470.3 2116.6 471.3 2158.5 527.9 2070 589.1 2054.7 505.9 2117.9 559.7 2020.2 649.1 2106.3 456.1 2065.5 569.6 2087.3 566 2038.9 600.3 2037.1 571.6 2111.6 478 2037.1 513 2098.1 591.6 2080.4 621.4 2124.5 489.5 2042.7 527.4 2048.3 518.5 2119.8 536.9 2130.9 487.7 2030 450.9 1979.5 500.5 2081.4 513.5 2078.1 630.3 2017.9 510.1 2051.1 476.9 2152.5 522.6 2147 465.7 2030.4 523.9 2071.3 553.6 2006.9 548.9 2118.5 493.4 1954 489.3 2056.9 564.4 2044.6 464.9 2112.6 544.1 2119.1 527.2 2136.9 551.5 1980.6 535.2 2121.4 526.9 2159.3 501.3 2117.3 461.1 2079 496.5 2023.9 457.1 2091.3 547.3 2044.1 460.7 2030.8 564.6 2012.9 584.3 1987.2 539.6 2115.7 588.6 2055.5 485.4 2000.9 572.5 2072.1 501.3 2056.1 538.4 2081 586.6 1960.9 569.2 2050 521.2 2062 520.9 2120.9 536.9 2000 521.9 2074 544.7 2081.7 521.3 2135.9 468.9 2022.6 566.3 2138.7 590.7 2159.9 550.5 2083.2 545.3 2079.5 497.5 2168 620.3 2080.2 513.9 2052.8 438.3 2042.6 499 2078.8 473.9 1975.3 559.9 2174.7 415.3 2072.5 570.5 2015.9 451.4 2081.9 514 2045.1 611.6 2162.6 560.3 2076.6 509.4 2129.1 514.3 2162.4 591.5 2047.5 566.3 2167.1 561 2029.1 513.2 2062.6 533.6 2083.2 509.1 2128.8 598 2050.8 451.1 2102.5 528.3 2105.4 492.6 2098.5 481 2142.6 616 2031.6 393.6 2056 501.5 2093.9 530.1 2110.5 670.3 2052.8 509.9 2107.4 433.2 2126.9 497.1 2004.7 485.6 2111.5 573.5 2152.6 552.6 2044.4 558.9 2079.9 651.7 1971.1 614 2126.8 551.5 2079.5 501.2 2031.6 449.5 2122 549.6 1979.6 516.4 2091.9 591.2 2030.1 545.2 2072.3 532.7 2042.6 550 2090 434 2152.4 645.7 2037.4 591.3 2032 504 2169.4 547 2141.8 523.3 2165.2 625 2123.8 502.7 2066.3 483.2 2120 559.5 2048.4 580.2 2055.1 627.1 2132.3 615.3 2047.9 480.9 1986.7 566.4 2025.4 602.7 2095.3 572.7 2016.9 502.2 2097.6 571.4 2016.8 551 2042.1 575.4 2075.1 517.8 2111.6 593.3 2074.4 596.9 2032.9 548 2026.3 544.3 2037.6 535.1 2121.8 483.2 1991.4 524.1 2116.2 545.2 2037.8 576.4 2071.6 572.8 2039.1 555.9 2151.9 498.7 2071.4 565.1 2116 551.3 2080.6 451.9 2086.9 465.9 2091.7 411.6 2165.7 631 2111.3 488.7 2070.3 578.4 2122.9 496.4 2152.5 569.9 2116.1 514.2 2086.7 495.7 2097 498.3 2150.7 534.4 2098.2 549.3 2104.2 458.8 2156.5 537.3 2056.6 482.3 2049.4 500.6 2087.2 487.8 2092.5 539.6 2048.8 646 2079.9 549.3 2092.3 523.7 2123 602.9 2082.1 487.5 2115.8 420.7 2094.5 521.8 2103.5 453.6 2061.9 478.4 2056.1 561.4 2074.5 500.1 2149.5 531.4 1974.7 476.8 2107 552.8 2096.4 543.5 2035.3 524.9 2019.3 486.6 2034.1 486.2 2064.8 517.4 2039.6 584.2 2058.1 607.5 2137 466.2 2130.5 456.4 2160.7 544.7 2028 415.3 2059.9 458 2140.7 463.3 2068.6 552 2081.4 540 2067.2 563.5 2029.9 555.5 2015.1 535.4 2018.5 515.8 2111.9 589.4 1982.4 486.6 2027.1 588 2032.9 561.9 2051.8 451.8 2085.7 467.3 2119.3 568.1 2151.8 473.6 2164.9 575.1 1982.3 639.1 2170.9 472.3 2097.3 456.6 2072.1 535 2113 483.1 2077.9 477.6 2100.2 559.5 2083.3 584.4 2120.4 544.5 2142.4 461.6 2077.4 434.3 2078.3 501.2 2124.2 502.7 2044.5 520.5 2072.2 551.8 2031.8 448.3 1992.8 584.5 2010.8 501.5 2019.3 570.7 2048.7 588.5 2041.1 540.7 2120.6 575.2 2014.5 506.6 2075.1 431.4 2118.2 545.6 2107.2 453.9 2089.5 548 2135.6 498.8 2116.4 626.6 2056 504.5 2062 448.9 2059.9 609.3 2029.2 515.8 2144.8 554.8 2092.2 508.6 2073.5 526.4 2117.2 529.9 2131 429.9 2124.4 498.7 2080.5 504.1 2114.8 519.9 2113.9 484.6 2090.3 589.1 2140.6 507.7 2087.8 507 2073.5 526.9 2145.8 556 2159.3 605 2011.3 541.9 2055.9 443.2 2021.5 500.3 2170.9 530.6 2070.1 524.7 2039.5 535 2075.2 442.6 2114.4 521.3 2116.3 476.5 2085.2 571.2 1993.4 488.7 2058.7 511.9 2052.7 540.2 2135.4 543.9 2135.7 579.7 2048.2 540.2 2060.2 559.9 2061.5 516.9 2172 517.3 1996.4 532.5 2096.4 500.7 2084.2 578.4 2052.6 516.9 2042.4 543.3 2073.8 479.5 2072.2 619.6 1988.8 456.2 2098.7 456.1 2010.5 500.5 2138.7 567.4 2111.3 541.8 2150.6 434.3 2095.6 599.3 2023.4 542.9 2146.4 590.2 2073.4 621.2 2107.9 581.1 2023.2 488.4 2040 616.4 1955.6 433.6 2123.6 534.2 1922 506.6 2064.4 588.1 1978.2 499.9 2137.9 565.4 2031.6 512.3 2001.8 595.9 2057.9 591.3 2123.8 482.1 2073.2 559.7 2104.7 604.1 2140.8 543.5 2118 491.2 2049.3 557.6 2099.2 471.2 2077 486.8 2051.6 592.5 2030.9 494.2 2111.6 531.1 2090.4 454.5 2080 508.7 2038.4 499.1 2065.9 569.8 2160.7 533.3 2002.7 530.6 2150.1 598.2 2034.8 640.3 2042.6 491 2054.1 600.8 2103.3 573.7 1963.7 525.2 2076 563.1 2057.1 588.1 2045.5 457.8 1994.8 591.7 2122.5 488.8 2141 519.6 2075.9 454.6 2053.1 533.7 2093.2 500 2135.3 600.7 2039.4 548.5 2001.4 549.1 2031.2 520.6 2091.7 516.2 2138.1 489.4 2057.8 544.8 2080.8 541.3 2071.5 488 2118 532.5 2130.6 595.5 2064 491.5 2058.7 496.1 1977.3 611.1 2104.6 645.7 2053.2 558.5 2097.5 525.3 2135 529 2078.9 537 1964.6 492.9 2044 611.5 2114.1 568.2 2116.4 519.3 2170.6 518.5 2008.2 560.5 2145.6 534.2 2102.5 577.1 2164.3 558.3 2172.3 543.6 2133.4 543.5 2089.7 465.1 2140.2 519.4 2030.8 497.6 2071.1 534.3 2035.3 483 2105.4 525.6 2122.8 616.4 2072.8 578.5 2099.4 531.9 2168.3 479.6 2051.4 440.7 2077 578.4 2069.9 570.3 2043.3 586.3 2077.4 505.3 2170 528.6 2113.6 535.2 2120.5 535.2 2019.8 543.3 2108.6 548.5 2071.3 619.7 2044.9 535.3 1816.4 617.9 1824.2 669 1827.6 617.5 1842.6 644.9 1823.8 650.5 1845.3 646.8 1800.6 646.8 1832.8 674.6 1792.8 646.1 1803.1 654.9 1812.8 582.8 1856.8 634.8 1796.7 616.6 1797.4 621.2 1824.5 652.2 1826.4 656.8 1804.3 662.1 1825.6 658.6 1846.8 641.1 1865.1 666.3 1816.7 687 1877.6 616.1 1762.8 635.8 1842.5 669.3 1848.3 648.9 1857.3 664.5 1816.1 653.2 1860.1 635.5 1810.6 631.3 1871.8 663.7 1853.8 641.3 1828.3 675.4 1820.9 674.8 1828.5 648.9 1845.4 667.8 1880.5 642 1878.6 633.1 1804.1 601.5 1853.9 681.2 1794.2 642.5 1821.8 616.2 1831.4 655.9 1814.7 627.6 1833.3 662.3 1788 647.4 1845.8 589.4 1838.8 686.4 1791.8 677.6 1820.8 662.6 1824.8 625.1 1790.3 643.8 1871.2 656.1 1834.6 606.4 1811.4 621 1777 657.4 1853.9 633.1 1810.5 658.9 1855.3 627 1863.9 669.8 1829.7 625.8 1846.2 664.5 1881.1 636.8 1876.1 642.1 1845 647.3 1832 681.3 1809.5 667.5 1821.7 648.9 1808.6 654 1771 644.1 1859.3 667.8 1781.9 625.5 1817.5 690.1 1817.1 649.5 1822.4 656.3 1802.9 655.3 1843.7 672.3 1803.7 669.3 1886.4 666.9 1849.9 597 1869.2 691.3 1865.8 660.8 1808.8 641.1 1862.4 655.4 1765.9 654.7 1840.1 629.6 1841.1 655.2 1776.5 661.1 1893.6 687.9 1796.3 621.1 1831.6 656 1790.1 633.8 1870.2 655.2 1860.7 649.2 1860.3 638.3 1814.4 629.2 1772.8 641.2 1789.5 639.6 1834 653.6 1841.4 641.2 1828 675 1825.1 650.4 1756.8 625.7 1862.3 630.8 1797.6 670.9 1793.1 671.4 1826.6 636 1768.4 678.7 1775.3 622.7 1853 622.5 1844.6 648.8 1821.3 626.4 1809.7 655.6 1800.1 663.4 1836.5 661.4 1836.3 661.9 1840.7 667.6 1840.6 656.6 1802 611.8 1830.9 670.5 1801.6 614.7 1813 657.4 1854.9 642.5 1794.2 648.2 1849.6 648.3 1859.5 638.5 1855.3 685.3 1799.6 630.5 1844.5 648.9 1868.4 647.1 1781.1 628.6 1869.6 612.7 1786.9 667.5 1833.8 676 1797.7 633.4 1819 622.5 1822.4 645.8 1855.2 647.6 1817.4 660.4 1862.4 672.3 1837.6 641.2 1815.2 620.9 1831.4 649 1878.6 654.3 1851.7 678.2 1773.5 635.4 1822.3 652.2 1795.5 668.3 1856.4 660.5 1849.7 625.5 1863.3 636.1 1773 652.2 1842 634.5 1779.8 624.3 1824.8 593.9 1860.1 671.5 1824 672.7 1824.4 624.6 1848.3 661.8 1801.6 618.6 1799.9 675.1 1809.7 662.8 1839 644.6 1854.3 630.7 1827.7 623.8 1764 651 1795.1 620.9 1846.7 645.9 1840.9 687.5 1834.7 659.5 1793.7 667.9 1854.9 626.5 1849 656.6 1823 651.4 1901.9 635.4 1819.4 651.8 1824 609.5 1848.8 669.8 1881.3 637.2 1791.7 664 1798.7 649.5 1817.3 653.8 1816.1 665 1852.8 635.8 1800.5 645.5 1815.4 631.4 1871.3 671 1797 661.9 1829.9 666.6 1831.9 693.6 1815.4 679.4 1826.3 686.4 1824.2 626.3 1797.4 635.7 1847.8 658 1833.2 673.1 1878.8 627.7 1811.2 637.3 1841.9 654.9 1813.6 648.3 1878 670 1805.5 612.3 1796.6 653.8 1806.2 631.3 1851.4 643.6 1818.3 654.6 1873.3 656.6 1850.5 651.7 1876.3 622.9 1796.2 638.7 1890.6 683.9 1796.9 639.8 1846.4 651.4 1856.5 639.1 1780.2 663.5 1867.4 616.2 1773.6 640 1773.9 659.4 1795.2 666.3 1819.7 652.9 1849.8 645.5 1799.6 670.1 1785.9 680.9 1811.7 638.4 1841.8 659.2 1845.2 617.7 1803.6 657.5 1841.2 648 1868.8 646.1 1858.2 673.9 1840.5 645.8 1852.2 659.9 1848.6 631 1844.1 685.1 1821.6 653.1 1823 669.5 1768.4 685.2 1845.5 645.2 1838.4 674.9 1841.3 664.9 1866.2 653.9 1852.5 682.6 1847.1 636.6 1853.4 694.9 1820.9 660.2 1843.2 669.7 1818.2 649.9 1888.8 665.5 1812 667.6 1832.3 684 1782.4 652.5 1859.8 622.6 1808.3 660.8 1831.6 643.8 1839.7 620 1805.5 688.2 1811.3 659.9 1829 669.2 1840.3 659.2 1865.2 657.5 1780 636 1873 673.5 1823.7 615.8 1809.4 695.8 1866.2 677 1782.7 620.9 1813 620.9 1833.9 626.6 1844.6 645.5 1813.9 664.6 1843.8 653.2 1819.7 649.3 1773.3 607.7 1810.4 653.3 1882.7 659 1801.2 639.8 1793 649.4 1827.7 649.5 1838.4 672.9 1850.7 625.2 1855.4 628.3 1841.7 652.4 1880.2 648.1 1827.6 644.4 1855.9 657.1 1822.6 668.4 1892.8 685.7 1874.9 638.8 1827.8 653.9 1780.2 687.7 1788.1 659.1 1794.1 653.2 1855.1 661.8 1805.3 636.4 1858.1 649.1 1834.1 670.8 1756.5 656.1 1868 689.1 1851 634.7 1859.3 691.1 1811.9 635 1826.4 641.7 1770.6 599.4 1792.2 636.9 1843.6 639.1 1836 680.1 1919 669.5 1801.9 672 1830.6 657.9 1859.1 667.3 1792 625.9 1838.6 665.7 1892.8 663.5 1819.9 640 1809.7 622.4 1792.2 638.5 1833.4 633.8 1831 644.3 1823.8 641 1839 650.8 1752.5 656.1 1833.6 637.2 1835.5 635.4 1834.1 631.5 1850.5 657.9 1787.8 635.2 1851.1 659.1 1834.5 625.9 1810.4 653.8 1839.1 650 1806 645.4 1815.8 625.2 1798.1 632.8 2105.5 431.7 2119.9 474 2065.4 436.1 2044.5 392.1 2075.1 457.5 2120.7 439.7 2154.4 427.8 2074.4 427.3 2056.6 433.7 2046.1 430.3 2087.6 442.9 2030.9 452.3 2040.6 451.1 2078.7 394.7 2031.3 462.9 2048.1 424.8 2057 443 2100.3 433.4 2147.9 426.8 2055.8 436 2082.9 475.2 2176.2 432.3 2068.5 455.5 2070.6 460.9 2030.2 460.7 1982.2 452.9 2104.4 499.7 2036.6 457 2103.6 417.9 2086.7 420.2 2025.6 404.3 2066.2 415.2 1986.2 447.1 2001.7 456.8 2085.9 420.4 2007 418.4 2017 431 2059.4 499.5 1984.7 425.9 2099.3 464.8 2133.3 416.4 2065.4 460.7 2106 406 2039 387.9 2042.6 406.7 2086.9 421.6 2101 437.3 2060.3 482.7 2125.8 407.9 2135.2 458.4 2132.8 450.9 1996.4 430.8 1968.6 405.9 2044.4 470.8 2076.6 445.2 2107.1 417.9 2123.2 445.3 2032.7 425.9 2064.1 454.6 2137.1 432.4 2064.9 483.7 2083.2 431.1 2104.7 447.3 2040 473 2040.1 427.5 2019.2 459.7 2011.5 456.1 2092.2 458.1 2009.5 443.4 2086.8 461.5 2091.3 425.6 2125.1 473.8 2134.4 421.6 2098.1 417.5 2067.2 458.4 2011.5 508.1 2128.9 421 2049.6 438 2068.5 410.1 2068.9 401.9 2047.4 483.9 2072 430.3 2144.4 447.7 2102.5 425.8 2123.4 431.8 2113.6 455.7 2151.5 464.4 2074 413.8 2061.4 422.9 2142.8 428.9 1973 449.3 2111 417.2 2106.6 407.2 2085.7 435.9 2088.7 450.3 2044.8 459.8 2052.5 442.8 2138 417.1 2078.1 479.5 2130.9 423 2047.1 453.5 2045.6 441.7 2013.8 455.6 2003.1 443.2 2106 423.3 2004.6 408.3 1989.2 484.3 1988.6 407.8 2089.4 441.1 2120.7 472.6 2094.8 438.2 2049.5 435.3 2117.1 455.1 2102.8 398.1 2040.4 422.7 2050.4 413.5 2105.3 466.3 2156.3 426.8 2070.2 442.2 2074.4 419 2110.6 389.4 2053.2 392.4 2103 405.1 2022.8 439.5 2027.9 446.1 2057.3 488.9 2020 419.5 2100.4 442.8 2094.9 432.6 2117.5 448.6 2134.3 406 2086.3 434.3 2092.9 416.4 2111.3 406.6 2114.8 453.6 1993.8 449.9 1987.6 454.1 2002.7 438.2 2062.8 399.3 1991.3 452.5 2053.2 467.2 1931.1 539.5 1844.7 529.1 1883.3 529.1 1862.6 597.4 1923.2 488 1928.8 528.4 1867.1 551.9 1865.7 524.1 1883.7 587.7 1815 547.1 1897.2 590.1 1868.8 558.3 1877.7 534.5 1868.9 536.8 1828.8 455.2 1743 562.2 1892.8 565.2 1854.9 535.6 1882.1 531.7 1848.4 606.4 1766.7 523.8 1834.1 471.9 1778.3 589 1878.7 541.8 1925.4 508.4 1961.2 544.6 1812.6 589.9 1879 555 1841 475.7 1904.6 515.6 1853.1 485.2 1759.3 544.5 1888.7 575.9 1918.4 515.3 1837.5 577.4 1786.9 534.4 1847.1 545.7 1899 563.1 1821.1 454.9 1893.8 585.6 1877.1 560.3 1873.2 594 1816.7 543.6 1788 537.6 1798.2 513.9 1906.3 427.6 1921.6 544.4 1806 557.8 1831.4 542.7 1929.9 552.3 1867.5 535.1 1835.6 509.7 1838.6 514.8 1913.2 536.4 1889.2 596.3 1905.9 518.5 1944.4 470.7 1929.8 446 1792.1 542.4 1803.4 462.1 1757 555.2 1744.2 570.2 1913.1 598.3 1860.1 543.3 1821.6 653.4 1916.4 570.1 1865.1 588.1 1811.3 454.1 1910.4 515.1 1871 516 1821.6 608.6 1864.8 560.6 1752.4 580.8 1807.1 563.7 1785.1 559.6 1877.7 487.6 1864.1 510.1 1919.1 559.7 1848.5 665.3 1894.8 530.3 1897.2 556.5 1925.5 505.9 1961.7 525.4 1823.2 516.5 1827.8 621 1856.5 503.2 1836.7 555.2 1902.4 532.8 1857.2 661.6 1837.9 550.1 1775 583.2 1818.3 618.5 1917.5 577.5 1816 532.2 1823.2 549 1825.2 524.3 1851.8 544.6 1823.5 581.6 1907.7 523.6 1973 560.6 1918.6 619.9 1761.8 565.6 1900.3 593.2 1892.9 585.6 1756.8 507.9 1880.1 465.1 1813.5 538.3 1868.3 581.4 1860.4 512.8 1789.1 561.9 1880.7 560.6 1854.4 550.1 1763.4 544.6 1891.2 501.1 1871.5 573.2 1984.7 543.2 1831.3 497.9 1781.3 481.6 1739.8 573.5 1845.6 557.8 1751.6 465.5 1740.8 609.8 1913 492.6 1852.1 552.5 1787.8 520.3 1902.8 574.1 1899.8 558.8 1853.5 565.9 1837.4 613.1 1860.1 567.5 1841.8 519.8 1843.9 533.3 1799.4 578.5 1965.6 557.8 1840.9 518 1760.1 570.6 1881.3 515 1852.2 512.9 1931.6 551.2 1873.7 614.2 1863.5 535.3 1849 596.2 1808.9 521.4 1950.5 587.5 1877.1 579.2 1853.8 535.8 1840 559.9 1821.4 484.7 1839.2 558.8 1841.1 574.2 1866.4 585.8 1856.6 541 1883.2 582.7 1823.2 514.1 1928.3 527.2 1871.3 529.4 1862.3 602.7 1948.7 496.4 1764.1 416 1884.2 609.1 1864.6 536.3 1897.9 511 1888 600.8 1922.1 575.6 1819.4 534.9 1795.3 620.8 1922.5 545.4 1845 557.1 1810.2 568 1878.3 564.6 1851.9 449.1 1837.4 492.3 1749.7 635.5 1819.4 539.9 1830.6 513.8 1943.6 474.7 1876.4 524 1922.9 580.3 1852.7 488.1 1894.2 585.3 1886.7 535.4 1885 516.4 1862.3 561.3 1834 507.8 1834.4 512.2 1777 587.9 1838.4 526.3 1816.8 563.6 1828.2 518.7 1863.2 552.1 1794 504.2 1924 535.5 1918.3 569.9 1842.9 536.9 1943.3 521 1824 513.9 1837.8 509.4 1853.9 496.9 1877.7 559.6 1859.5 522.6 1922.7 625.3 1839.1 515.9 1884.8 537.9 1855.3 571.6 1766.5 574.8 1785 497 1823.8 603.6 1809.3 564.4 1791.6 570.7 1865.5 591.6 1857.2 546.3 1893.3 553.9 1857.3 568.2 1897.9 510.7 1842.2 563 1861.6 508.3 1889 612 1871.4 511.7 1872.7 541.4 1806.2 489.3 1738.6 518.4 1821.6 548.3 1847.3 554.8 1959.2 543.3 1927.3 515.1 1803.4 525.1 1739.9 611.1 1861.1 574.2 1948.4 563.6 1942.6 452.5 1921.5 557.7 1813.3 588.5 1847.8 518 1940.7 571.5 1808.8 535.1 1809.6 555.5 1841.4 494.5 1758.5 590.8 1770 500.5 1984 512.2 1766.9 506.7 1891 515.5 1836.9 453.3 1808.2 546.3 1847.7 603.2 1874.9 429.8 1747.4 509.2 1826.7 546.5 1881.7 477.2 1783.9 450.2 1786.6 526.3 1771 497 1904 499.8 1861.5 552.4 1821.8 638.1 1762.3 647 1785.9 533.1 1861.5 588.2 1885.3 529.9 1822.5 591 1935.5 522.7 1917 566.7 1859 500.1 1768.2 561.5 1869.5 477.6 1941.8 610.8 1780.4 539.9 1836.5 522.7 1814.8 563.8 1944.2 547.9 1850.7 549.9 2081.1 566 2078.5 621.8 2133.6 602.2 2094.9 646.2 2070.1 637.3 2058 622.9 2122.3 614.6 2069.7 619.6 2115.7 628.7 2057.8 648.7 2008.5 585.4 2106.3 692.1 2073.1 648.9 2034.9 642.8 2102.4 655.6 2062.4 694.2 2053.2 682.5 2048.3 661.8 2089.2 592.6 2130.1 619.3 2048.4 622.8 2055.5 661.2 2102.3 659 2131 628.6 2124.4 674.1 2173.6 644.4 2083.3 613.2 2077.7 639.9 2105.2 601.4 2077.3 634 2069.3 622.3 2109.4 612 2114.6 609.1 2103.7 608.1 2144.8 660.7 2151.7 615.9 2038.4 602.2 2085 669.9 2124.7 658.8 2042 670.5 2125.8 624.2 1985.9 617.1 2088.9 684.6 2103.8 637.9 2162.4 684 2110.7 657.4 2148.1 619.2 2111.9 627.6 2053.3 653.9 2141.9 693.1 2127.9 672.3 2087.1 596.9 2067.6 651.3 2069.5 694.6 2147.1 634.3 2169.2 658.5 2165.4 634.9 2128.7 633.4 2095.6 672.9 2177.2 643.7 2107.9 614.9 2086.1 654.3 2041.5 627.7 2047.3 645.8 2133.5 649.9 2083.2 611.3 2025.9 640.7 2160.5 632.5 2092.4 627.4 2046.8 670.7 2125.7 597.9 2042 678.7 2057.5 638.9 2051 649.4 2061.5 622.9 2047.5 694.6 2124.1 656.6 2095.6 637.7 2079.9 662.8 2042.6 616.3 2125.7 599.9 2165.1 632.4 2103.5 678.4 2093.4 644 2070.1 655.1 2125.3 615 2123.7 668.2 2115.7 618.7 2135.7 679.6 2074.3 587.7 2065 640.8 2151.6 674.7 2125 621.8 2128.3 640.1 2051.2 588.8 2138.7 593.4 2096.9 616 2067.8 620.7 2111.9 669.1 2062.7 630.7 2067.3 673.3 2137.7 615.8 2082.1 645.1 2018 624.7 2101.4 599.9 2104.6 641.6 2071.4 670.1 2054.8 652.5 2084.4 671.9 2061.5 657.5 2122 673 2165.1 596.4 2092.2 609.1 2137.6 679.6 2082.4 647.2 2152.1 646.1 2089.7 592.8 2064.6 669 2032.1 648.6 2104.8 639.9 2129.8 618.6 2155.4 627.6 2139.3 623.4 2106.7 630.6 2168.2 610.2 2067.9 682.4 2130.4 639.1 2084.1 603.1 2083.5 650.5 2147.6 667.2 2158.3 651.3 2064.5 630.2 2161.8 643.4 2156.6 594.4 2074.1 617.1 2106.7 617.5 2037.7 638 1995.9 623.1 2113.9 606.9 2093.1 614.7 2080.3 647.2 2115.7 652.8 2062.5 684.6 2109.6 621.4 2153.8 628.8 2090.9 626.4 2059.2 617.6 2083.6 679.9 2103.7 638.2 2114.4 631.4 2040.9 597.2 2158.3 632.5 2108.4 663.3 1790.3 714.2 1740.7 714.2 1843.5 714.2 2019.7 714.2 1945 714.2 1840 714.2 1858.4 714.2 1922.8 714.2 2033.7 714.2 2093.2 714.2 1989.9 714.2 1788.7 714.2 2055.9 714.2 2035.4 714.2 1996.5 714.2 2036.3 714.2 1743.1 714.2 1986.1 714.2 1915.6 714.2 2100.8 714.2 2084.4 714.2 1909.6 714.2 2043.6 714.2 2003.8 714.2 1793.3 204.4 1793.3 204.4 1816.3 204.4 1820.2 256.4 1886.3 282.2 1916.3 282.2 1771.4 328.4 1801.1 328.4 1807.5 328.4 1820.2 329.2 1802.3 390.2 1802.3 390.2 1855.4 383.3 1853 395.4 1857.7 392.5 1857.7 392.5 1878.4 392.1 1749 399.3 1754.4 399.3 1766.1 436 1776.3 441 1787 436 1819.3 436 1974.5 174.3 2139.3 225.5 2045.4 240.4 2091.3 240.4 2098.3 240.4 2032.3 257.4 1928.4 282.2 2035.2 303.2 2084.2 336 2150.4 361.3 2159.2 361.3 2167.4 361.3 2137.4 375.1 2137.4 375.1 1931.1 370.2 2098.3 370 2106.1 376.1 1927.2 393.1 1929.2 401 1713.4 558.3 1663.4 589.2 1664.5 620.1 1650.6 626 1697.3 626 1710.3 645 1706.1 670.2 1724.4 613 1729.2 589.9 1738.2 570.1 1742.9 577.7 1739.3 607.1 1727.1 631.3 1734.5 640.3 1747.1 679.2 1754 704.8 1740.8 715.3 1743.5 715.3 1771.3 705.3 1778.6 705.3 1884.3 452.2 1858.5 462 1865.9 462 1835.4 458.9 1840.6 458.9 1845.3 458.9 1880.1 464.1 1900.1 460.6 1745 488.3 1748.1 488.3 1751.3 488.3 1791.2 475.3 1800.7 475.3 1804.9 476.3 1776.5 486.2 1760.7 495.7 1769.2 495.7 1776.5 494.6 1783.9 491.5 1792.3 491.5 1804.5 491.5 1748.1 526.2 1754.4 526.2 1756.5 511.9 1761.8 517.8 1759.7 539.2 1771.3 539.2 1778.6 540.2 1782.2 545.5 1791.2 540.2 1774.4 511.9 1783.4 517.8 1779.2 523 1788.1 524.1 1796.5 524.1 1793.7 506.6 1803.8 513.5 1808 504.1 1812.2 504.1 1756.5 557.7 1756.5 557.7 1765.6 558.3"/></g></g>
<g id="matplotlib.axis_5">
<g id="xtick_13">
<g id="line2d_27">
<g>
<use href="#m8da89e27fe" x="787.108" y="356.64" style="stroke: #000000; stroke-width: 0.8"/>
</g>
</g>
<g id="text_33">
<!-- −4 -->
<g transform="translate(779.736906 371.238437) scale(0.1 -0.1)">
<defs>
<path id="DejaVuSans-2212" d="M 678 2272 L 4684 2272 L 4684 1741 L 678 1741 L 678 2272 z
" transform="scale(0.015625)"/>
</defs>
<use href="#DejaVuSans-2212"/>
<use href="#DejaVuSans-34" transform="translate(83.789062 0)"/>
</g>
</g>
</g>
<g id="xtick_14">
<g id="line2d_28">
<g>
<use href="#m8da89e27fe" x="822.309714" y="356.64" style="stroke: #000000; stroke-width: 0.8"/>
</g>
</g>
<g id="text_34">
<!-- −3 -->
<g transform="translate(814.938621 371.238437) scale(0.1 -0.1)">
<defs>
<path id="DejaVuSans-33" d="M 2597 2516 Q 3050 2419 3304 2112 Q 3559 1806 3559 1356 Q 3559 666 3084 287 Q 2609 -91 1734 -91 Q 1441 -91 1130 -33 Q 819 25 488 141 L 488 750 Q 750 597 1062 519 Q 1375 441 1716 441 Q 2309 441 2620 675 Q 2931 909 2931 1356 Q 2931 1769 2642 2001 Q 2353 2234 1838 2234 L 1294 2234 L 1294 2753 L 1863 2753 Q 2328 2753 2575 2939 Q 2822 3125 2822 3475 Q 2822 3834 2567 4026 Q 2313 4219 1838 4219 Q 1578 4219 1281 4162 Q 984 4106 628 3988 L 628 4550 Q 988 4650 1302 4700 Q 1616 4750 1894 4750 Q 2613 4750 3031 4423 Q 3450 4097 3450 3541 Q 3450 3153 3228 2886 Q 3006 2619 2597 2516 z
" transform="scale(0.015625)"/>
</defs>
<use href="#DejaVuSans-2212"/>
<use href="#DejaVuSans-33" transform="translate(83.789062 0)"/>
</g>
</g>
</g>
<g id="xtick_15">
<g id="line2d_29">
<g>
<use href="#m8da89e27fe" x="857.511429" y="356.64" style="stroke: #000000; stroke-width: 0.8"/>
</g>
</g>
<g id="text_35">
<!-- −2 -->
<g transform="translate(850.140335 371.238437) scale(0.1 -0.1)">
<use href="#DejaVuSans-2212"/>
<use href="#DejaVuSans-32" transform="translate(83.789062 0)"/>
</g>
</g>
</g>
<g id="xtick_16">
<g id="line2d_30">
<g>
<use href="#m8da89e27fe" x="892.713143" y="356.64" style="stroke: #000000; stroke-width: 0.8"/>
</g>
</g>
<g id="text_36">
<!-- −1 -->
<g transform="translate(885.342049 371.238437) scale(0.1 -0.1)">
<use href="#DejaVuSans-2212"/>
<use href="#DejaVuSans-31" transform="translate(83.789062 0)"/>
</g>
</g>
</g>
<g id="xtick_17">
<g id="line2d_31">
<g>
<use href="#m8da89e27fe" x="927.914857" y="356.64" style="stroke: #000000; stroke-width: 0.8"/>
</g>
</g>
<g id="text_37">
<!-- 0 -->
<g transform="translate(924.733607 371.238437) scale(0.1 -0.1)">
<use href="#DejaVuSans-30"/>
</g>
</g>
</g>
<g id="xtick_18">
<g id="line2d_32">
<g>
<use href="#m8da89e27fe" x="963.116571" y="356.64" style="stroke: #000000; stroke-width: 0.8"/>
</g>
</g>
<g id="text_38">
<!-- 1 -->
<g transform="translate(959.935321 371.238437) scale(0.1 -0.1)">
<use href="#DejaVuSans-31"/>
</g>
</g>
</g>
<g id="xtick_19">
<g id="line2d_33">
<g>
<use href="#m8da89e27fe" x="998.318286" y="356.64" style="stroke: #000000; stroke-width: 0.8"/>
</g>
</g>
<g id="text_39">
<!-- 2 -->
<g transform="translate(995.137036 371.238437) scale(0.1 -0.1)">
<use href="#DejaVuSans-32"/>
</g>
</g>
</g>
<g id="xtick_20">
<g id="line2d_34">
<g>
<use href="#m8da89e27fe" x="1033.52" y="356.64" style="stroke: #000000; stroke-width: 0.8"/>
</g>
</g>
<g id="text_40">
<!-- 3 -->
<g transform="translate(1030.33875 371.238437) scale(0.1 -0.1)">
<use href="#DejaVuSans-33"/>
</g>
</g>
</g>
<g id="text_41">
<!-- ph -->
<g transform="translate(915.497031 384.916562) scale(0.1 -0.1)">
<use href="#DejaVuSans-70"/>
<use href="#DejaVuSans-68" transform="translate(63.476562 0)"/>
</g>
</g>
</g>
<g id="matplotlib.axis_6">
<g id="ytick_14">
<g id="line2d_35">
<g>
<use href="#mcd1c41be28" x="778.56" y="343.689143" style="stroke: #000000; stroke-width: 0.8"/>
</g>
</g>
<g id="text_42">
<!-- 0 -->
<g transform="translate(765.1975 347.488362) scale(0.1 -0.1)">
<use href="#DejaVuSans-30"/>
</g>
</g>
</g>
<g id="ytick_15">
<g id="line2d_36">
<g>
<use href="#mcd1c41be28" x="778.56" y="290.853486" style="stroke: #000000; stroke-width: 0.8"/>
</g>
</g>
<g id="text_43">
<!-- 50000 -->
<g transform="translate(739.7475 294.652704) scale(0.1 -0.1)">
<use href="#DejaVuSans-35"/>
<use href="#DejaVuSans-30" transform="translate(63.623047 0)"/>
<use href="#DejaVuSans-30" transform="translate(127.246094 0)"/>
<use href="#DejaVuSans-30" transform="translate(190.869141 0)"/>
<use href="#DejaVuSans-30" transform="translate(254.492188 0)"/>
</g>
</g>
</g>
<g id="ytick_16">
<g id="line2d_37">
<g>
<use href="#mcd1c41be28" x="778.56" y="238.017829" style="stroke: #000000; stroke-width: 0.8"/>
</g>
</g>
<g id="text_44">
<!-- 100000 -->
<g transform="translate(733.385 241.817047) scale(0.1 -0.1)">
<use href="#DejaVuSans-31"/>
<use href="#DejaVuSans-30" transform="translate(63.623047 0)"/>
<use href="#DejaVuSans-30" transform="translate(127.246094 0)"/>
<use href="#DejaVuSans-30" transform="translate(190.869141 0)"/>
<use href="#DejaVuSans-30" transform="translate(254.492188 0)"/>
<use href="#DejaVuSans-30" transform="translate(318.115234 0)"/>
</g>
</g>
</g>
<g id="ytick_17">
<g id="line2d_38">
<g>
<use href="#mcd1c41be28" x="778.56" y="185.182171" style="stroke: #000000; stroke-width: 0.8"/>
</g>
</g>
<g id="text_45">
<!-- 150000 -->
<g transform="translate(733.385 188.98139) scale(0.1 -0.1)">
<use href="#DejaVuSans-31"/>
<use href="#DejaVuSans-35" transform="translate(63.623047 0)"/>
<use href="#DejaVuSans-30" transform="translate(127.246094 0)"/>
<use href="#DejaVuSans-30" transform="translate(190.869141 0)"/>
<use href="#DejaVuSans-30" transform="translate(254.492188 0)"/>
<use href="#DejaVuSans-30" transform="translate(318.115234 0)"/>
</g>
</g>
</g>
<g id="ytick_18">
<g id="line2d_39">
<g>
<use href="#mcd1c41be28" x="778.56" y="132.346514" style="stroke: #000000; stroke-width: 0.8"/>
</g>
</g>
<g id="text_46">
<!-- 200000 -->
<g transform="translate(733.385 136.145733) scale(0.1 -0.1)">
<use href="#DejaVuSans-32"/>
<use href="#DejaVuSans-30" transform="translate(63.623047 0)"/>
<use href="#DejaVuSans-30" transform="translate(127.246094 0)"/>
<use href="#DejaVuSans-30" transform="translate(190.869141 0)"/>
<use href="#DejaVuSans-30" transform="translate(254.492188 0)"/>
<use href="#DejaVuSans-30" transform="translate(318.115234 0)"/>
</g>
</g>
</g>
<g id="ytick_19">
<g id="line2d_40">
<g>
<use href="#mcd1c41be28" x="778.56" y="79.510857" style="stroke: #000000; stroke-width: 0.8"/>
</g>
</g>
<g id="text_47">
<!-- 250000 -->
<g transform="translate(733.385 83.310076) scale(0.1 -0.1)">
<use href="#DejaVuSans-32"/>
<use href="#DejaVuSans-35" transform="translate(63.623047 0)"/>
<use href="#DejaVuSans-30" transform="translate(127.246094 0)"/>
<use href="#DejaVuSans-30" transform="translate(190.869141 0)"/>
<use href="#DejaVuSans-30" transform="translate(254.492188 0)"/>
<use href="#DejaVuSans-30" transform="translate(318.115234 0)"/>
</g>
</g>
</g>
<g id="text_48">
<!-- Prophage score -->
<g transform="translate(727.305313 252.209375) rotate(-90) scale(0.1 -0.1)">
<use href="#DejaVuSans-50"/>
<use href="#DejaVuSans-72" transform="translate(58.552734 0)"/>
<use href="#DejaVuSans-6f" transform="translate(97.416016 0)"/>
<use href="#DejaVuSans-70" transform="translate(158.597656 0)"/>
<use href="#DejaVuSans-68" transform="translate(222.074219 0)"/>
<use href="#DejaVuSans-61" transform="translate(285.453125 0)"/>
<use href="#DejaVuSans-67" transform="translate(346.732422 0)"/>
<use href="#DejaVuSans-65" transform="translate(410.208984 0)"/>
<use href="#DejaVuSans-20" transform="translate(471.732422 0)"/>
<use href="#DejaVuSans-73" transform="translate(503.519531 0)"/>
<use href="#DejaVuSans-63" transform="translate(555.619141 0)"/>
<use href="#DejaVuSans-6f" transform="translate(610.599609 0)"/>
<use href="#DejaVuSans-72" transform="translate(671.78125 0)"/>
<use href="#DejaVuSans-65" transform="translate(710.644531 0)"/>
</g>
</g>
</g>
<g id="patch_113">
<path d="M 778.56 356.64 L 778.56 70.56 " style="fill: none; stroke: #000000; stroke-width: 0.8; stroke-linejoin: miter; stroke-linecap: square"/>
</g>
<g id="patch_114">
<path d="M 1065.12 356.64 L 1065.12 70.56 " style="fill: none; stroke: #000000; stroke-width: 0.8; stroke-linejoin: miter; stroke-linecap: square"/>
</g>
<g id="patch_115">
<path d="M 778.56 356.64 L 1065.12 356.64 " style="fill: none; stroke: #000000; stroke-width: 0.8; stroke-linejoin: miter; stroke-linecap: square"/>
</g>
<g id="patch_116">
<path d="M 778.56 70.56 L 1065.12 70.56 " style="fill: none; stroke: #000000; stroke-width: 0.8; stroke-linejoin: miter; stroke-linecap: square"/>
</g>
<g id="text_49">
<!-- rho=0.474, p=7.0e-244 -->
<g transform="translate(850.298437 64.56) scale(0.12 -0.12)">
<defs>
<path id="DejaVuSans-3d" d="M 678 2906 L 4684 2906 L 4684 2381 L 678 2381 L 678 2906 z
M 678 1631 L 4684 1631 L 4684 1100 L 678 1100 L 678 1631 z
" transform="scale(0.015625)"/>
<path id="DejaVuSans-37" d="M 525 4666 L 3525 4666 L 3525 4397 L 1831 0 L 1172 0 L 2766 4134 L 525 4134 L 525 4666 z
" transform="scale(0.015625)"/>
<path id="DejaVuSans-2c" d="M 750 794 L 1409 794 L 1409 256 L 897 -744 L 494 -744 L 750 256 L 750 794 z
" transform="scale(0.015625)"/>
<path id="DejaVuSans-2d" d="M 313 2009 L 1997 2009 L 1997 1497 L 313 1497 L 313 2009 z
" transform="scale(0.015625)"/>
</defs>
<use href="#DejaVuSans-72"/>
<use href="#DejaVuSans-68" transform="translate(39.363281 0)"/>
<use href="#DejaVuSans-6f" transform="translate(102.742188 0)"/>
<use href="#DejaVuSans-3d" transform="translate(163.923828 0)"/>
<use href="#DejaVuSans-30" transform="translate(247.712891 0)"/>
<use href="#DejaVuSans-2e" transform="translate(311.335938 0)"/>
<use href="#DejaVuSans-34" transform="translate(343.123047 0)"/>
<use href="#DejaVuSans-37" transform="translate(406.746094 0)"/>
<use href="#DejaVuSans-34" transform="translate(470.369141 0)"/>
<use href="#DejaVuSans-2c" transform="translate(533.992188 0)"/>
<use href="#DejaVuSans-20" transform="translate(565.779297 0)"/>
<use href="#DejaVuSans-70" transform="translate(597.566406 0)"/>
<use href="#DejaVuSans-3d" transform="translate(661.042969 0)"/>
<use href="#DejaVuSans-37" transform="translate(744.832031 0)"/>
<use href="#DejaVuSans-2e" transform="translate(808.455078 0)"/>
<use href="#DejaVuSans-30" transform="translate(840.242188 0)"/>
<use href="#DejaVuSans-65" transform="translate(903.865234 0)"/>
<use href="#DejaVuSans-2d" transform="translate(965.388672 0)"/>
<use href="#DejaVuSans-32" transform="translate(1001.472656 0)"/>
<use href="#DejaVuSans-34" transform="translate(1065.095703 0)"/>
<use href="#DejaVuSans-34" transform="translate(1128.71875 0)"/>
</g>
</g>
</g>
<g id="axes_4">
<g id="patch_117">
<path d="M 65.76 699.36 L 352.32 699.36 L 352.32 413.28 L 65.76 413.28 z
" style="fill: #ffffff"/>
</g>
<g id="scat10"><clipPath id="cl10"><rect x="137.00" y="861.00" width="597.00" height="596.00"/></clipPath><g transform="scale(0.48)"><path clip-path="url(#cl10)" class="sc" d="M234.6 1375.9 411.4 1367.5 259.7 1392.2 379.3 1367.2 383.6 1406.5 429.1 1394.6 294.6 1377.1 232.1 1358.9 378.3 1397.5 366.9 1384 250.8 1353.5 299.1 1370 428.3 1359.5 327.7 1370.9 332.5 1371.5 244.9 1412.1 408.3 1399.4 373.7 1395.1 345.7 1336.4 374.7 1384.5 288 1329.9 435.5 1359.3 354.7 1367.1 468.2 1347.9 430.3 1322.9 422.3 1371.8 231.3 1385.1 362.3 1344.8 388.1 1382.9 395.6 1349.9 321.3 1360.3 373.9 1370.9 306.1 1416.8 334.5 1410 416.8 1366.3 255.7 1388.5 407.4 1411.9 390.1 1394.1 328.5 1366.2 560.6 1411.2 286.5 1391 394.5 1340.5 349.5 1397.4 345.7 1376.1 339.1 1389.3 419 1358.7 356.5 1369.7 320.5 1371.5 456.1 1343.7 392.6 1366.8 403.5 1377.7 343.1 1390.2 396.3 1379.8 366.3 1359.2 364.8 1401.3 373.2 1379.8 280.1 1411.3 297.1 1400.5 345.7 1403.5 430.8 1376.4 183.7 1334.5 308.5 1361.7 408 1380.8 449.6 1379.5 419.8 1393.1 250.7 1407.6 474.6 1375.8 414.5 1396.7 351.9 1375.1 428.5 1368.7 335.5 1404.8 332.9 1352 434.3 1347.1 343.4 1379.1 472.4 1385.1 295.3 1383.7 449 1340.7 288.8 1409.2 375.9 1359.8 356 1386.1 298.9 1370.6 456.4 1392.1 436.2 1383.6 334.6 1391.8 313.2 1393.3 350 1377.3 352.2 1361.4 451.2 1348 381.9 1353.8 423.2 1379.1 379.7 1395.8 390.2 1388.9 390.7 1392.8 340.8 1377.3 354 1367.2 336 1416.3 336.9 1399.4 368.8 1380.1 361.6 1383.7 439.3 1411.5 370.7 1338.9 397.6 1341.6 331.1 1407.8 333.8 1368 240.8 1401.7 393.7 1372.8 390.5 1345.7 312.6 1389.1 421.6 1383.7 294.7 1372.7 435.5 1370.1 383.8 1394.8 335.6 1385 260.9 1370.5 370.6 1399.6 446.6 1372.9 396.8 1381.3 321.3 1365.7 364.8 1384.5 366.7 1400.2 234.4 1375.8 379.4 1412.9 365 1360.5 462.3 1400.1 352.6 1378.2 353 1388 265.5 1387.4 331.5 1395.8 387.7 1359 448.7 1402.3 313.9 1358.9 326.8 1392.4 443.3 1362.5 321.3 1396.5 364.7 1382.8 360.5 1376.3 472.1 1407.4 347.9 1414 480.4 1395.3 386 1372.3 375 1389.3 445.6 1361.5 270.4 1372 389.6 1336.1 355.5 1364.7 300.4 1387.2 436.8 1351.5 381 1379.9 406.1 1384.1 329.6 1405.1 392.9 1359.4 247.8 1366.9 379 1402.2 332.9 1374.6 258.9 1372.8 373.6 1369.7 360.6 1360.3 312.8 1390.2 274 1384 437.3 1370 336.9 1363.7 288.8 1369.6 290.2 1378 333 1356.3 367.4 1407 412.5 1376.5 363.7 1358.1 350.3 1398.6 409.9 1414.9 364.8 1412 363 1357.6 383.2 1370.7 362 1395.1 410.3 1398.2 421.6 1345.8 433.1 1362.9 369.6 1373 295.5 1403.7 303.7 1369.5 450.8 1329.1 264 1405.3 339.6 1401.4 363.5 1371.2 405.7 1366 331.4 1388.2 299 1348.5 265.8 1404.9 478.9 1410.8 326.3 1370.4 305.3 1382.7 426.2 1381 363.1 1305.8 382.7 1354.2 349.5 1391.4 371.8 1400.6 456.3 1328.6 394.1 1365.9 349.5 1383.4 428.3 1375.5 365.3 1351.3 453.5 1394.2 337.7 1351.3 364.7 1404.5 343.9 1373.6 308.1 1394.7 321.3 1397.5 386.3 1393.8 308.6 1411.4 355.2 1354.7 365 1388.1 370.9 1406.6 361.9 1413.2 366.4 1414.7 353.8 1397.2 405.6 1369.6 333.7 1314.7 401.6 1380.5 354.6 1413.7 389.2 1389.9 254.4 1388 350.6 1407.9 338.4 1354.8 315.9 1415.3 358.1 1335.5 395.7 1358.6 355.2 1363.1 541.2 1397.7 225.6 1404.2 395.6 1359.7 331.5 1382.6 472.4 1371.6 322.7 1407.5 330 1359.2 360.1 1404.2 377.3 1375.3 455.1 1417.9 271.7 1356.4 312.7 1379.1 378.5 1382.5 372.8 1395.2 290.9 1331.7 386.2 1414.4 380.2 1374.4 402.3 1376.6 290.1 1375.2 414.7 1392.3 409.9 1372.5 349 1372.7 443 1387 298.6 1374.6 448 1393.4 481.3 1400 384.8 1410.1 332.7 1410.4 364.2 1378.8 393.3 1373.6 301.9 1363.3 400.8 1392 374.6 1402.2 316.3 1375.1 467.5 1362.1 446.6 1378.5 401.4 1390.7 354.7 1387.7 427.4 1368.3 313.1 1405.6 346.3 1380.9 358.9 1374.9 262.2 1382.7 342.4 1352.7 336.5 1390.7 473.6 1372.1 450.2 1374.2 397.9 1379 414.9 1388.4 346.8 1348.2 429.3 1349.2 384.6 1387.1 377.9 1391 349.9 1393.3 360.7 1377.2 398.4 1400.3 391.5 1407.9 376.7 1359.2 439 1388.1 416.9 1376.9 422 1358.9 381.3 1353.4 491.4 1379.4 246.9 1416 304.8 1394.7 450.2 1381.5 395.2 1380.7 326.4 1386.8 406.6 1387 422.4 1339 440.1 1357.9 359.8 1377.9 400.4 1381.6 347.4 1402.3 494.6 1371.6 333.4 1372.2 300.3 1357.2 344.4 1402.8 342.2 1366.4 365.8 1367.1 373.9 1345.9 338.8 1364.2 319.8 1334.4 340.9 1371.6 331.8 1355.2 392.9 1365.3 238.2 1361.2 418.5 1413.7 304.2 1381.4 403.6 1407 343.4 1392.1 345.1 1342.7 424.6 1383.6 395.2 1380.3 318.8 1373.6 390.2 1355.2 236.4 1406.8 344.7 1399.5 381.4 1380.8 423.5 1387.4 457.9 1392.9 285.9 1381.4 371 1371.9 366.7 1384.6 275.4 1398.5 364.2 1411.2 470.6 1370.3 328.6 1412.8 434.7 1392.9 414.1 1378.2 370 1385.5 246.1 1402.9 417.2 1363.9 339.4 1392.6 413.8 1385.9 344.6 1395.5 378.7 1362.2 352.6 1376.9 410.4 1354.8 324.1 1376.4 361.1 1410.3 416.9 1415.8 472.8 1399 314.8 1377.3 411.9 1366.1 377.3 1392.5 425.7 1405.8 320 1413.3 338.5 1392.1 409.8 1402.1 402 1372.9 363.7 1407.6 344.5 1358 222 1385.9 318.4 1385.6 308.5 1375.1 349.3 1407.7 319.4 1357.4 377.5 1404.8 317.3 1397.3 371.6 1397.1 261.3 1387.5 355.7 1390.2 330.6 1382.5 242 1384.8 450.8 1389.8 374.7 1393.3 453.7 1369.2 283.7 1359 330.7 1387.4 418.9 1367.8 310.4 1406.2 433.6 1366.9 415.1 1380.7 341.2 1382 319.3 1344.7 286.1 1367 387.4 1394.2 420.6 1366.1 367.9 1350.6 311.2 1409.2 409.9 1373.6 328.1 1335.6 447.2 1408.3 389.3 1360 264.4 1375.7 367.7 1349.8 410.9 1407.9 311 1378.7 285.6 1408.9 316.1 1357.7 252 1360.3 265.8 1410 407.1 1355.3 315.9 1382.8 375.7 1359.3 449.8 1399.8 490 1318.1 274.3 1401.9 382.4 1377.8 299.8 1396.7 338.2 1417.3 435.6 1406.7 258.4 1392.4 444.3 1412.2 482.7 1395.1 400.6 1381.3 381 1377.5 398.4 1380.7 278 1369.9 394.3 1389.9 457.4 1408.1 447.7 1383.7 434.2 1367.8 329.1 1406.4 384.2 1365.8 416 1416.6 425.7 1407.2 321.2 1339.8 349 1306.6 336 1357.8 376.3 1367.5 369.3 1363.1 307 1342.6 454.4 1403.3 367 1374.9 387.6 1375.8 427.5 1377.4 331.1 1398 320.6 1398 297.8 1371.5 380 1367.7 428.4 1382.4 381.7 1337.2 402.9 1386.7 249.4 1390.6 389.1 1367.4 303 1350.5 370.4 1385.3 367.4 1388.3 273.1 1391.9 424.8 1363 495.1 1370.9 377.4 1375.5 345.2 1315.2 420.5 1331.6 443.6 1357.7 310.1 1379.1 293.1 1379.9 210.7 1382.6 404.5 1406 321.9 1386.4 481.3 1393.4 496.2 1355.4 325.8 1385.3 306.9 1400.1 301.2 1392.7 278 1363.9 384 1398.9 310.7 1348.1 402.3 1360.3 392.8 1415.9 407.8 1347.9 443.6 1411.5 333.1 1374.3 455.1 1392.3 394.9 1411 453.3 1388.6 377.1 1377.8 443.3 1356.2 423.7 1370.8 258.7 1408.8 396.2 1392 351.5 1384.6 332.1 1417.5 453.2 1384.1 371.4 1392.2 425.5 1390.9 343.4 1379.8 388 1382 347.7 1415.2 396.6 1407.6 317.9 1405.7 373.1 1379.5 330.4 1370.2 343.2 1388.5 400.8 1391.6 366.4 1366.5 323 1394.3 466.5 1350 445.1 1412.4 440.3 1402.2 471.3 1366.4 344.5 1400.5 375.4 1351.4 421.7 1410.7 359.4 1395.1 430 1335.1 338.7 1364.9 363.5 1356 295.6 1391.2 482.4 1356.1 469.2 1409.1 432.9 1417.7 347 1413.1 281.5 1366.8 392.4 1404.6 289.6 1340.2 397.3 1393.1 414.5 1384.2 293.8 1413.3 419.4 1390.2 503.9 1391.8 463.8 1382.8 197.4 1358.1 207 1380.4 443.6 1344.9 416.3 1379.4 427.5 1395.1 312.6 1400.1 370.6 1407.8 490 1381.4 471.8 1383.9 409.8 1390.8 332.6 1389.4 346.2 1399.9 309.4 1363 425.7 1399.3 407.5 1400 436.3 1397.8 428.9 1367.7 404.5 1368.6 298.9 1381 412.6 1386.9 481.1 1402.8 399.4 1389.2 292.7 1387.8 326.2 1383.5 330.2 1390.1 269.6 1393.7 374.6 1390.9 532.3 1384.5 403 1386 476.1 1394.6 297.1 1397 273.9 1365.3 338 1359.7 373.7 1377.7 328.9 1395.5 329.2 1417.5 411.9 1375.9 400.1 1369.9 335.4 1411.1 276.7 1397.5 489.5 1332.5 518.5 1339.6 237.1 1335 302.3 1371.7 257.1 1381.2 421.9 1367.1 379.7 1401 477.8 1383.8 416.1 1398.5 375.6 1377.6 394.4 1402.8 291.9 1376.8 393 1393.2 436.4 1355.2 468.9 1368.7 321.5 1412.3 352 1344.5 410 1396.8 404.9 1351.4 421.1 1370.6 427.1 1355.3 313 1337.5 324.1 1411.8 386.1 1371.8 455.6 1390.8 418.8 1393.9 365.4 1389 398.3 1413.4 408.5 1407.3 303.4 1339.5 390.9 1389.4 398.3 1360.9 380 1359.5 376.5 1383.7 360.5 1393.1 340.6 1384.9 396.1 1405.5 499.6 1369.8 413.6 1392.9 468.3 1325.5 331.6 1342.9 455.7 1392.3 412 1395.6 388.5 1395.6 345.8 1335.5 391.3 1384 336.6 1370.6 451.4 1367.3 306.4 1401.7 461 1353.7 310.4 1359.7 394.5 1399.1 457.5 1384.1 355.8 1370.6 440.1 1370.7 320.1 1379.7 369.1 1395.1 488.2 1357.8 379.5 1360.6 353.6 1355.1 353.3 1391.9 381 1352.4 247.8 1339.9 445.3 1380.8 309.2 1395.4 329.2 1389.8 255.3 1375.3 366.1 1387.9 282.5 1379.1 424.7 1382.9 422.9 1401.4 385.4 1376.1 375.1 1362.3 411.2 1393.1 422.4 1399.1 382.2 1406.1 455.1 1378.3 292.8 1351.8 431.6 1396.6 403.4 1344 335.9 1347 300.2 1371.2 292.5 1369.9 324.3 1386.9 415.2 1365.4 267.9 1374.6 394.8 1358.4 430 1360.1 330.7 1374 487.8 1404.3 392 1360.3 301.7 1367.9 468.6 1417.1 379.2 1367.8 262 1373.9 402.2 1398.8 394.3 1367.8 401.6 1381.2 424.2 1391.3 417.7 1393.3 341.3 1414 306.6 1401.6 343.2 1376.1 387 1372.3 307.7 1362.4 301.3 1385.8 389.7 1383.1 275.1 1388.4 428.3 1357.2 315.2 1407.5 360 1411.6 349.8 1350.1 367.9 1383.8 388.4 1364.4 301.6 1390.8 393.1 1406.5 370.2 1369.3 376.9 1349 218.1 1347.4 466.3 1405.6 483.1 1397.2 281 1361 389.5 1364.8 312.5 1358.7 323.9 1338.6 396.1 1367.6 366.2 1410.6 437.3 1390.2 359.5 1416.3 410.6 1380.7 339.8 1385.2 427.3 1401.9 334.4 1381.5 380.4 1375.2 365.1 1361.4 321.4 1392.1 384.8 1377.8 501.8 1381.1 412.9 1391.9 341.9 1401.8 437 1385.5 317.2 1380.3 405.3 1385.3 321.5 1373.6 356.8 1378.8 384.5 1376.3 412.6 1401 306.6 1370.7 305.1 1393.4 422.9 1380.1 445.5 1371.6 351.9 1383.8 304.3 1399 375.9 1413.8 291 1357.6 473.7 1415.8 436.1 1382.6 435.1 1385.8 306 1382.2 355.3 1360.6 336.8 1368.8 402.6 1408.9 438.2 1411.8 307.2 1399.2 420 1395.4 314.6 1315.6 380.6 1365.5 425 1350.1 403.9 1375 291.4 1374.6 361.9 1405.4 419 1415.1 416.4 1374.4 344.6 1389.2 350.1 1345.7 247.2 1403.6 340.2 1410.3 379.7 1397 374.9 1411.9 401.7 1374 364.5 1379.8 375.6 1390.7 345 1371.4 370.2 1342.7 395.1 1394.2 184.3 1359 369.4 1331.2 396.9 1408.9 399 1407.9 364.3 1405.7 412.6 1382.2 375.7 1345.2 289.3 1409.4 432.8 1365.5 278.4 1337.5 439.8 1393.4 485.1 1415.7 492.4 1405.1 336.5 1376.9 437.1 1350.8 404.4 1375.1 447.6 1371.7 326 1408.1 176.4 1410.7 387.7 1370.6 410 1373.4 407.7 1387.2 415.6 1362 388.5 1380.6 315.4 1372.4 384 1355.8 367.2 1378.7 251.8 1385.1 443.4 1374.4 356.9 1391.1 333.4 1342.9 371.5 1374.1 376.3 1366.9 418.4 1342 406.1 1372.9 334.5 1411.9 412.8 1364.4 368.6 1400.2 362.5 1394.9 327.7 1416 457.2 1369 284.2 1373.5 421.9 1389.9 366.4 1389.3 280.7 1383.8 363.5 1369.7 417.4 1369.1 331.2 1401.8 407.9 1386.7 383.7 1394.3 390.1 1361.3 393.1 1378.6 440.6 1400.1 324.7 1382.6 335.3 1409.7 290.9 1415.2 329.1 1392.2 343.7 1394.2 439.9 1400.1 296.7 1378.8 339.1 1375.3 323.3 1383.7 409.8 1361.1 454.6 1415.4 418.5 1400.1 517.4 1359.5 296 1392.6 359.6 1362.4 312.8 1379.8 386.3 1396.9 405.8 1386.7 371.9 1399.7 331.7 1352.9 420.5 1334.8 403.7 1415.8 294.6 1331.1 318.4 1392.4 311.5 1409.9 408.7 1361.1 416.2 1350.2 342.5 1390.4 450 1404 460.4 1349.9 564 1363.6 401 1414.1 295.6 1357.7 343 1371.2 376.6 1377 299.2 1390.3 284.6 1368 389 1363.1 368.6 1400.7 459.7 1414.1 423.4 1396.9 293.4 1364.1 316.7 1371.6 361.3 1361.7 343 1411.9 342.8 1337.8 352.2 1381.2 332.1 1403.1 384.3 1382.6 318.5 1389.9 251.6 1407.9 242 1389.3 323.3 1369.7 352.5 1413 413 1364.2 402.7 1388.2 492 1348.9 361.5 1361.5 366.7 1335.4 312.3 1381.7 332.3 1363 360.8 1370.7 312.2 1378.4 369.7 1392.2 263.3 1374.4 439.2 1349.4 375.8 1372.4 433.5 1413.8 384 1372.1 272.6 1371.4 317.3 1385.1 386.5 1387.3 360.2 1391.5 323.2 1387.1 331.4 1407 476.7 1400.3 380.4 1385.7 403.3 1373.3 429.6 1404.3 286.9 1367.5 496.6 1375.1 321.3 1345.5 432 1413.5 382.9 1346.3 365.3 1366.5 397.1 1395.5 300.1 1396.2 301.2 1367.3 439.4 1359 361.6 1415.3 398.9 1346.6 365.8 1380.3 375.5 1387.1 433.6 1389.9 294 1386.2 398 1390 435.9 1407 403.8 1382.4 275.6 1413.2 400.3 1370.1 373.2 1401 290.8 1390.5 408.4 1365.5 385.9 1366.4 280 1344.9 432.6 1382 368.5 1381.7 303.3 1401 413.3 1359.9 322.8 1367.4 434.7 1392.1 332.3 1403.3 335.4 1389.8 370.1 1366.6 430.6 1388 239.4 1382.4 463 1333.9 428.1 1392.2 302.1 1386.3 307.3 1350.6 397.2 1393.4 268 1374 376 1349.5 438.2 1369.2 397.7 1402 318.7 1394.8 381.2 1396.2 348.5 1409.6 437.3 1354.7 340.9 1396.9 433.3 1370.2 375.1 1394 368 1410.4 315.9 1398.7 327.6 1396.8 319.8 1380 429 1364.1 378.7 1401.8 367.7 1380.3 374.8 1365.8 418.8 1403.8 476.5 1393.3 438.5 1375 402.6 1365.2 388.6 1379.3 430.6 1339 364.5 1379.7 413.3 1369.9 349.4 1416.3 337.6 1377.6 441.2 1337.4 398 1394.8 389.6 1344.9 291.1 1367.3 324.1 1402.4 372.8 1401.1 335.5 1372.8 399.6 1407.2 335.8 1416.8 302.4 1378.6 412.4 1385.1 340.7 1401.9 429.8 1377.4 419.2 1376.7 328.1 1416.8 341.4 1375.3 419 1363.9 319.3 1380.7 379.7 1408.5 363.4 1371.5 299.3 1379.2 347.2 1412.5 280.2 1345.1 265.1 1381 279.2 1390.2 372.2 1411.5 394.7 1371.5 428.7 1379.2 241.8 1384 301.6 1398.8 463.5 1393.4 406 1357.5 327 1372.6 488.4 1376.5 389.6 1343.3 343.7 1389.2 365.1 1379.4 398.7 1397.7 302.2 1354.9 405.8 1405.2 293 1402.1 290.8 1382.2 447.9 1347.7 372.5 1381 305.9 1404 317.4 1370.3 307.6 1396.3 358.1 1366.4 460.4 1371.3 419 1342.8 310.3 1367.3 421.5 1367.3 417.3 1390.9 381.4 1385.2 317.5 1345.4 454.3 1357.8 377.8 1376.5 361.7 1377.5 305.7 1356.8 383.1 1368.3 472.5 1387 453.3 1373.8 417.5 1370.9 314.2 1379.3 290.8 1369.4 412 1381 378.2 1403.3 361.3 1367.8 288.8 1383.2 401.8 1389.7 439 1374.9 385.9 1364.8 255 1398.5 341.4 1399.9 332.4 1347.9 315 1377.5 328 1377.8 401.5 1384.1 396.7 1380.9 328 1361.1 237.9 1398.4 433.9 1360.8 311.8 1364 388.5 1386.6 354.4 1383.1 269.2 1381.2 356.9 1395.8 325.7 1371.7 313.4 1385.7 312.9 1416.8 376.4 1389.1 429.7 1415.5 329.6 1390.4 339.6 1412.1 355.4 1335.3 385.7 1364.6 371 1387.6 432.6 1341.1 392.5 1412.1 291.9 1402.4 417.4 1371.9 255.3 1388.3 355.3 1401.5 390 1389.3 295.5 1367.4 375.5 1382.8 363 1403.1 372.2 1401.8 374.6 1393.7 338.2 1349 419.8 1405.3 407.9 1365.5 434.8 1387 379.4 1368.8 340.2 1369.7 391.2 1368.4 367.7 1371.7 293.1 1386 376.9 1386.5 193.7 1409.3 368.8 1362 482.8 1385.3 413.2 1387.8 231.8 1413.2 301.6 1410.5 361.6 1364.3 223.8 1373.5 309.4 1385.4 304 1401.7 337.6 1374 487 1403.3 330.8 1393.3 273.3 1366.8 358.6 1367 309.5 1399.8 333.3 1365.4 333.3 1369 415.6 1391.5 280.1 1416.2 432.7 1377.8 310.3 1385 334.8 1396.7 366.4 1414.5 272.8 1369.9 385.3 1372.8 343.9 1357.2 481.3 1380.2 409.6 1366.1 341.3 1382.7 465.4 1416.7 456.1 1379.4 327.8 1415.3 326.5 1397 332.6 1359.8 372.2 1363.4 350.6 1405 357.3 1408 342.3 1392.6 309.2 1415.4 248.9 1391.1 401.4 1323.2 272.3 1348.6 363.6 1378.2 348.6 1398.8 502.1 1360.5 389.4 1385.4 432.3 1334.4 273.4 1359.1 304.7 1390 340.3 1337 324.4 1346.3 323.3 1379.7 321.8 1412.9 500.3 1395.9 277.2 1417.8 490.9 1379.8 390.2 1410 379.7 1413.7 400.6 1369.8 339.2 1378.3 327.8 1415 386.8 1379.6 415.4 1386 378 1370.4 390.4 1370.1 362.2 1357.6 446.6 1391.3 346.4 1349.5 491.9 1387 237.3 1370.6 366.1 1387.7 303.8 1411.2 402 1385.1 329.1 1342.3 340.7 1379.2 298.1 1391 414.3 1372.9 343.8 1383.6 465.1 1417.5 270.2 1372.4 517.4 1376.3 470.6 1395.9 441.8 1375.7 372.9 1396.9 367 1382.9 451.7 1380.4 445.6 1370.1 349.6 1401.3 398.1 1407 370.4 1383.6 340.4 1347.3 343.8 1408.6 364.2 1389 441.3 1362.7 388.7 1371.2 434.4 1350 347.7 1372.4 348.6 1371.3 477.9 1379.2 359.7 1350.6 290.8 1366.6 297.3 1396.2 334.1 1373.7 360 1363 294.4 1368.5 380.2 1381.8 389.8 1399.9 457.8 1362.9 424.1 1390.2 385.3 1348.9 321.1 1384.5 346.4 1390.1 350.4 1354.1 348.3 1386.7 469.6 1413.3 337.3 1363.5 367.1 1371.3 511.7 1404.2 365.7 1372.1 306.7 1382.4 219.4 1375.6 267.1 1405.6 349.4 1402.7 326.1 1394.1 322.5 1381.7 363.2 1371 363.8 1385.4 349.6 1344.8 384.7 1351.1 364.3 1408.2 295.3 1381.7 380.9 1383.7 342.3 1385.2 408.8 1361.4 359.8 1401.4 334.9 1357 413.8 1400.9 425 1384.5 441.6 1403.4 341 1387.6 318.8 1360.7 375 1392.3 402.1 1387.3 488 1362.3 445.8 1375.6 424 1363.7 277.6 1415.3 381 1406.1 370.5 1382.1 290.8 1374.5 369.5 1346.6 313.9 1385.6 396.9 1374.9 452.1 1373.5 407.1 1415.9 325.9 1412.3 363.6 1366 354 1410.6 429.3 1385.3 499.4 1383.2 334.2 1386.7 366.2 1375.9 356.3 1355 408.1 1354.5 436.7 1402.3 350.2 1377.2 334.9 1386.3 474.8 1393.9 350 1378.1 497.8 1401.9 442.9 1400.8 404.6 1402.2 305.7 1331.2 357.2 1352 382.6 1358.7 375.6 1412 343.7 1369.2 419.3 1368.9 368.7 1383 298.7 1408.3 310 1407.3 395.3 1361.4 352.9 1406.3 315.5 1414.1 276.9 1380.3 431.3 1341.7 388.8 1360.5 295.6 1369 340.7 1374.5 337.7 1365.9 220.2 1417.4 495.6 1396.6 355.9 1362.9 388.5 1392.5 319.6 1381.7 415.8 1392.8 369.2 1388.8 329.6 1384.5 376.5 1368.5 365.2 1407.1 433 1334.6 288.1 1409.2 397 1396.1 290.4 1387.5 406.1 1395.9 329.6 1372.4 390.2 1390.1 448 1332.8 337.2 1414.8 304.9 1388.3 456 1362.1 297.3 1339.3 433.8 1374.4 368.9 1387.4 444.3 1378.9 430.1 1403.7 371.3 1410.4 389.6 1383.5 549.1 1338.8 303.9 1361.7 346.9 1389.7 341.3 1360.1 372.5 1375.4 342.7 1407.3 389.8 1412 308.7 1399.9 372.2 1370.9 278.6 1383.6 302.8 1402.4 398 1396.7 535.3 1415.3 252 1399.4 383.4 1390.4 341.6 1407 204.8 1353.9 407.1 1389.8 424.8 1376.3 339.2 1403.7 380.4 1344.4 426.4 1359.6 422.9 1389.7 404.8 1409.4 310.8 1400.7 367.2 1379.2 371 1373.3 373.1 1391 332.9 1411.1 376.3 1359.2 397.6 1397.5 286 1392.1 348.3 1391.3 360.5 1394.4 381.5 1331.5 375.2 1398.2 413.2 1414.5 390.6 1416.3 421.4 1374.1 329.5 1415.4 412.2 1343.9 308.3 1412.7 380.1 1344.4 396.7 1408.7 409.2 1384.1 358.9 1372.7 340.1 1391.7 360.7 1350.1 365.1 1378.6 355.7 1345.7 366.3 1369.8 373.3 1348.6 372.6 1356.4 321.1 1369.8 337.9 1372.2 337.1 1370.6 328.8 1371.5 424.8 1371 289.2 1412.1 369.6 1393.5 439.2 1340 334.4 1389.6 453.1 1383.2 375.1 1384.3 368 1388.8 336.5 1368.3 347.9 1400 439.7 1388.3 354.3 1414.3 403.5 1402.7 363.2 1375.3 399.5 1381.5 439.9 1364.3 390.1 1385.7 310.5 1376.8 308.5 1376.9 309 1400.5 343.4 1393.9 350.6 1366.2 455.1 1411.8 267.6 1381.8 349.5 1347.6 380.5 1397.2 373.6 1396.2 475.3 1374.6 199.1 1380 451 1393.4 423.5 1347.4 419.7 1381.1 383 1357.6 403.3 1389.3 315.4 1377.5 282.9 1397.5 353.6 1373.4 404.1 1362.9 374.7 1396.2 437.3 1384 379.7 1391.2 410.2 1341.2 454 1393.3 372.4 1359.9 336.6 1347.2 397.8 1386.4 369 1349.6 396.8 1400.9 417.2 1364.4 245.4 1387.9 498.9 1394.3 505.6 1393.8 358.9 1367.3 456 1354.2 335.5 1375.9 389.5 1386.9 283.9 1357.9 473.9 1387.9 372.1 1377.5 388.9 1368 438.3 1406.2 371.5 1407.7 362.4 1375.8 430.9 1383.6 361.2 1396.6 462.1 1355.7 353.9 1409 354.6 1375.3 363.6 1378.8 353.7 1395.6 364.8 1415.1 326.3 1375.1 396.2 1363.3 460 1381.9 404.4 1410.6 408.9 1368.8 294.1 1346.5 319.3 1368.3 325.7 1397 292.2 1347.6 317.8 1383.2 369.5 1411.9 423.8 1375.5 427.1 1387.6 242.6 1352.2 292.1 1356.5 378.5 1388.8 389.3 1382.8 411.6 1395.9 344 1402.2 341.9 1383.5 362.8 1371.6 333.4 1387.2 364.4 1356.4 468.9 1413.4 365.7 1363.2 311.2 1344.4 352 1344.7 377.5 1391.8 339.2 1372.6 367.1 1398.8 318.2 1370.7 342.3 1380.5 383.2 1398.1 261 1391.4 372.8 1353 285.9 1387.5 437.3 1394.3 364.9 1377.4 340.4 1375.4 406.8 1409.9 401.1 1368.5 402.6 1408.8 261.8 1392 337.3 1387.2 294.3 1359.7 362.1 1371.6 339.8 1363.8 394 1409.4 312.3 1390.4 342.5 1390.3 433.3 1390.3 361.2 1359.8 256.6 1397.8 358.1 1354.6 468.9 1396.5 489.9 1365.9 341 1349.3 372.2 1345 349.6 1410.9 399.1 1406.7 375.6 1402 361.1 1354.8 396 1382.7 321.6 1358.4 438.5 1345.8 319.4 1392.6 403.3 1389.7 279.8 1409.5 361.3 1349.9 430.8 1381.9 260.8 1322.2 358.4 1369.3 383.5 1387.6 322.2 1394 380.8 1359.4 413.5 1388.8 357 1392.2 320.7 1365.6 361.4 1362.1 456.2 1389.9 344.6 1379.7 381.1 1386.6 368.1 1391.9 458.2 1333.7 284.3 1354.5 386.9 1387.4 371.6 1351.7 485.4 1383.5 378.9 1392.7 404.9 1381.7 459.6 1385.5 336 1370.5 303.2 1356.3 354.1 1368.2 386.3 1373.1 316.3 1376 224 1393.5 355.8 1417 343.7 1381.4 385.9 1413.4 350.2 1398.7 314.6 1370.5 352.1 1364.1 412.1 1404.4 438.8 1363.5 335.5 1383.7 407.3 1355.3 353.5 1408.6 374.8 1382.1 303.2 1376.8 409.3 1408.2 270.9 1393.7 347.2 1362.6 475.5 1399.8 305.2 1360.4 378.3 1349.7 355.8 1395.6 290.6 1388 392.6 1368.6 389 1399.3 391.9 1368.2 416.7 1376.1 379.1 1385.2 366.7 1337 427.4 1394.9 374.3 1398 342.4 1380.3 396.2 1333.5 323.6 1369.8 349.1 1371.2 321.5 1389.3 412.1 1394.2 425.9 1395.5 340 1364.8 332.1 1375.6 408.9 1395.8 379.2 1368.1 342.4 1379.1 379.6 1313.6 381.3 1395.2 324.7 1416.8 411.6 1400 274.4 1402.2 375.7 1388.3 233.2 1347.6 348.9 1352.4 443 1357.5 410 1392.2 531.5 1385 453.6 1373.6 300.4 1392.1 441.7 1371.3 428 1397.6 368.2 1388.8 375.5 1369.9 376.2 1393.9 324.7 1323.1 405.2 1368.2 400.3 1364.1 390.3 1378.7 348.9 1382.9 388.6 1343 440.4 1407.8 386.6 1345.8 417 1384.2 463.9 1373.3 356.5 1407.1 242.4 1374.9 357.4 1329.9 312.4 1389.6 423.5 1352.7 414 1393.2 374.2 1357.4 385.7 1365.1 301.2 1357.9 420.3 1344.3 435.1 1380.2 388.9 1402.2 508.7 1401.7 358.5 1393.2 376.6 1385.2 374.6 1361 387.1 1352.6 435 1375.6 300.1 1399.9 408.6 1387 279.9 1353.9 383.9 1391.4 403.3 1364.2 434.1 1369.9 371.4 1365.5 297.9 1366.6 314.4 1375.1 459.6 1391.5 336.1 1394.3 335.6 1411.2 415.8 1376.3 366.6 1386.5 309.8 1357.8 361.5 1363.6 368 1404.7 356.6 1398.6 472.8 1374.7 454 1365.5 302.5 1389.2 360.4 1350.5 445.7 1405 312.9 1380.3 365.3 1355.9 389.1 1353.2 333 1367.2 356.8 1368.1 495.9 1395.8 419.1 1405.9 495 1332.5 415.7 1389.2 374.8 1412.5 406.7 1344.4 384.7 1381.1 435.5 1336 407.6 1388.4 408.7 1394.2 247.3 1401.3 368 1366.5 425.5 1384 467.3 1410.3 304.7 1403.4 369.9 1384.4 361.3 1409 322.8 1395.3 279.5 1392.7 295.6 1355 367.3 1358.5 434.9 1359.1 464.2 1404.3 375.7 1399.9 399.7 1371.2 392.8 1377 366.1 1371.2 338.7 1405 367.7 1403.2 352.1 1383 342.4 1415.4 467 1383 423.2 1351.2 295.6 1402.5 365.5 1353.3 318.4 1364.7 420.8 1360.8 298.9 1370.3 273.5 1328 329.6 1390.4 368.5 1372.2 294.6 1405.5 340.5 1369.9 352.2 1400.1 243.7 1370 369.9 1368.9 324.8 1372.3 313.5 1372.7 376.1 1394.5 307.3 1380.7 323.6 1407.5 475.6 1390.4 396.8 1379.3 401.3 1380.8 296.2 1415.6 506.7 1400.9 372 1397.3 473 1374.8 416.7 1390.2 242.3 1377.5 406.7 1394.6 365.7 1356.1 388 1390.4 375.7 1412.6 313.6 1357.3 402.7 1383.2 452.5 1406.1 423.8 1368 372.8 1407.3 340.8 1387.3 448.1 1386.1 389.6 1416.5 402.5 1352 382.9 1387.9 444.5 1390.9 336 1407.8 395.2 1411.5 327.6 1383.1 379 1367.5 399.3 1378.2 353.8 1370.5 370.2 1347.9 429.5 1397 409.8 1417.3 392 1379.9 455.3 1377.9 384.7 1335.1 342.3 1386.4 413.9 1399.4 432.4 1373.3 340.5 1391.7 326.2 1376.9 377.1 1338.5 278.1 1396.1 329.8 1404.2 343.5 1361.1 409.5 1379.7 394.3 1369.7 323.8 1377.9 324.6 1381.2 311 1393.9 418 1396.7 295.3 1415 266.6 1390.5 377.2 1403.7 330.7 1373.4 440.3 1412.6 310.1 1378.7 324 1323.2 438.8 1369.6 374.5 1391.4 293.7 1407 331 1350.5 390.9 1389.3 338.4 1384 472 1402 371.4 1376.7 481 1374.9 253.9 1414.6 341 1333.3 286.9 1352.7 239 1367.1 365.4 1371.3 360.5 1389.9 430 1416.7 253.3 1349.9 340.9 1411.3 337.1 1371.8 341.9 1387.1 390.6 1407.4 374.5 1406.8 472.7 1404.5 348.7 1382.2 388 1379.1 304.1 1363.1 337.9 1338.4 546 1406.1 337.5 1367.7 445 1351.7 309.9 1410.5 366.7 1404.2 377.9 1385.6 332.8 1397.2 385.9 1391.2 345.8 1414.5 375.8 1400.1 301.4 1345.9 415.7 1369.9 321 1394.4 451.7 1379 353.9 1396.3 404.6 1387.2 263 1404.1 330.1 1391 368.4 1390.5 522.2 1379.6 433.3 1385.9 350.7 1404.1 392.3 1381.4 313.5 1396 576.7 1382.6 410.1 1371.8 580.7 1351.5 337 1340.6 413.7 1389.6 397.9 1385.6 442.7 1321.2 317.5 1388.5 425.6 1319.8 468 1394.1 468.5 1357.8 326 1360.7 334.5 1367.1 266.9 1417.1 404.7 1365.9 247.9 1413.7 234.1 1359 295 1367.8 399.1 1406.3 390.2 1357.4 449.8 1414.2 306.7 1366.9 323.9 1370.4 410 1390.4 346.5 1413.3 365.9 1371.8 332.7 1353.7 356.6 1364.2 363.6 1394.2 398.1 1374.2 484.7 1357.2 412.8 1385.7 387.2 1368.6 322.9 1400.4 265.8 1388.2 281.5 1340.6 374.1 1371.2 486.6 1342.4 378.6 1387.4 379.9 1373.5 272.1 1402.6 414.7 1394.2 386.2 1413.8 428.9 1401.7 331.9 1409.4 317.3 1394.3 309.6 1381 417.5 1377.5 427.2 1373.5 470.4 1381.2 526.9 1402.3 367.6 1357.9 294.7 1347.2 388 1415.3 347.2 1364.2 356.5 1379.8 361.1 1365.1 297.7 1343.2 365.5 1347.3 412.7 1379.3 265 1406.7 376.1 1391.1 368.8 1357.4 406.1 1413.6 247.5 1387.2 362.3 1377.6 394 1379.9 344.9 1413.5 310.8 1374.8 343.5 1365.2 273.3 1325.8 326.3 1353.7 443.7 1395.4 303.5 1379.4 376.9 1390.8 400.5 1389.8 368.1 1363.4 373.7 1389.3 287.1 1386.2 292.1 1343.6 363.5 1396.8 424.6 1370.6 279.2 1362.5 352.1 1381.4 396.2 1379.7 431.7 1368.6 396.2 1399.7 391.4 1397.1 301.9 1405.5 337 1379.8 306.6 1393.1 341.3 1367.7 409.5 1365.8 390.1 1388.7 400.5 1385.5 294.9 1387.9 481.3 1405.7 428.1 1322.3 336.6 1358.1 405.4 1397.6 402.1 1398.8 391.1 1382 333.7 1401.9 369.6 1410.5 342.5 1378.1 321.7 1400.7 319.5 1327.4 320.3 1367.9 368.8 1376.1 446.1 1392.6 433.1 1407.2 341 1395.7 363.9 1403.8 334.8 1401.1 339.8 1403.2 444.5 1414.9 345.7 1417.3 266.4 1389.3 284.4 1385.6 298.7 1384.2 327.6 1416.1 501.8 1406.3 433.4 1396.8 366 1380.1 300.8 1366.4 419.6 1375.6 394.8 1363.9 403.1 1412.4 362.7 1375 458.3 1403.8 422.6 1410.4 380.4 1375 395.8 1343.7 378.1 1413.3 351.9 1361.1 408.1 1382 410.1 1370.5 406.1 1388.9 388 1409.1 326.5 1382.1 439.6 1415.6 416 1359.3 385 1376.4 353.6 1349 246.9 1409.7 421.2 1351 351 1387.3 337.3 1398 348.7 1352.4 346.9 1396.6 316.7 1403.8 435.1 1400.4 405.7 1383.5 404.6 1368.2 231 1368.8 458.8 1410.5 307.4 1380.2 328 1357 351.2 1404.3 374.2 1379.3 301 1385.7 419.6 1389.5 420.5 1329.4 317.6 1368.8 289.4 1347.1 422.6 1354.4 435.7 1406.5 349 1351.6 334.4 1367.7 330.5 1366.3 372.8 1377.9 366.3 1384.2 370.7 1383 360.1 1407.9 411.4 1387.6 361.2 1398.7 432.4 1374.5 395.5 1341.6 329.9 1396.4 275.3 1348.8 384.9 1337.7 463.2 1366.8 358 1394 416.5 1393.1 307 1410.2 335.5 1408.7 450.2 1350.5 491 1380.5 435 1407.8 481.8 1413.6 468.5 1405.4 323.5 1380.8 412 1408.1 379.6 1368.1 295.6 1387.4 551.1 1382.4 341.5 1399.9 414.8 1388.5 250.7 1369 333.1 1400.4 333.2 1379.8 304.5 1372.1 503.5 1405.3 396.7 1365.2 297.8 1410 370.5 1399.8 389.1 1388.5 222.4 1407.2 476.9 1387.3 361 1390.8 356.2 1341.6 349.9 1385.3 435.2 1362 352.7 1386.1 410 1401.4 424.2 1388.2 308.7 1398.7 196.2 1387.9 214.7 1387.6 353.3 1406 303.2 1362 242 1374.9 381.8 1379.6 313 1380.2 405.1 1392.9 253.1 1373.5 317.6 1318.7 407.2 1393.2 308.5 1398.1 385.7 1373.8 389.5 1380.2 329.5 1410.2 386.2 1375.3 396.7 1362.8 399.5 1381.6 361.8 1407.6 426.6 1377.6 442.5 1385 368.5 1403.8 327 1348 362.2 1406.7 353.3 1406.7 444.4 1377.2 371.9 1382.3 410.9 1397.5 395.6 1392.6 327.7 1387.6 452.6 1402.8 379.1 1383.7 316.6 1368.5 434.1 1386.6 377.8 1416.5 347.7 1374.5 458.2 1401.1 277.8 1385.8 325.9 1374 358.8 1346.9 360.7 1374.7 430.4 1353.5 359.2 1417.1 373.5 1394.3 360 1394.6 415.2 1382.2 379.5 1392.3 259.6 1408.1 482.2 1406 387.7 1377.6 462.6 1369.9 464.8 1369.9 335.6 1383.2 411.6 1381.3 433.7 1394 468.2 1353.7 381.3 1402.6 466.2 1337.1 360.7 1339.7 400.6 1373.6 394.3 1411 426.6 1382.1 346.2 1400.6 346 1407.1 327.6 1401.5 287.2 1391.8 525.4 1360.1 340.8 1409.2 310.3 1331.7 277.1 1392 441.3 1389.5 379.8 1413.1 464.5 1379.8 451.8 1404.2 368.5 1386.9 440.3 1357.9 280.9 1415.2 492.6 1394 437.6 1348.3 296.4 1374.1 354.1 1391 346.8 1385.4 363.7 1401.8 439.3 1408.1 458.8 1382.5 347.7 1342 274.4 1406.2 403.4 1387.8 355.6 1357.2 242.4 1372.6 358.7 1324.8 453.2 1370.3 400 1417.9 464.1 1379.1 432 1408.4 377.3 1394.3 320.7 1392.8 333.9 1381.2 379.9 1409.2 359.3 1380 348.3 1397.8 282.8 1387.6 301.1 1372.8 383.8 1401.1 384.2 1375.7 378.5 1410 385.8 1377.2 344.9 1398 353.7 1408.8 288.6 1404.8 324.3 1384.6 501.5 1411.6 342.5 1377.2 427.8 1409.2 372.1 1404.6 348.5 1320 439.8 1374.6 409.9 1382.3 356.5 1365 419.9 1406.8 450.1 1403.5 400 1374 376.6 1397 223.3 1358.4 362.9 1406.3 327.8 1388.1 342.4 1366.8 352.1 1389.2 422.7 1350.5 365.5 1362.2 344.7 1369.1 410.6 1409.5 313.1 1375.8 389.4 1360.7 463.7 1387.2 376.8 1357.9 447 1353.5 328.8 1371.6 364.5 1351.2 325.3 1400.3 369.9 1388.9 431.5 1396.8 433.4 1386.5 269.5 1352.7 377.2 1412.1 277.9 1359.3 391.5 1374.7 379.3 1400.6 378 1388.1 385.3 1381 391.3 1409.5 316.5 1392.7 426.3 1381.4 485.7 1378.1 331.1 1379.2 425.5 1303.7 376 1415.4 376 1394.2 359.3 1345.9 430.5 1379.5 401.9 1386.9 491.2 1397.7 399.6 1384.1 324.2 1396.1 438.9 1386.5 243.1 1367.6 490.4 1372.9 384.6 1340.5 338.8 1365.6 421.5 1401.5 406.6 1410.9 358.9 1408.6 500.9 1373.9 396.2 1383.5 381.3 1393.7 369.1 1386.7 416.2 1354.5 329 1374.4 290.6 1394.7 345.9 1365.7 291.4 1365 399.8 1355.8 428.3 1401.4 390.7 1345.7 327.1 1411.4 350.4 1367.9 329.6 1395.4 262.6 1410.8 386.8 1361.3 409.6 1320.9 298.6 1393.5 462.7 1357.4 287.4 1384.4 378.2 1367.7 316.3 1346.9 347.4 1417.2 413.7 1384.9 294.2 1383.6 544.4 1400.4 435.1 1347.6 347.1 1372.3 476.3 1378.8 368 1374 200.4 1413.2 257.6 1371.8 276.7 1371.2 343.7 1373.3 458.7 1356.7 352.7 1398.6 346.6 1373 488.5 1404.3 320.9 1391.8 317.1 1396.5 285.2 1404.9 394.1 1393.7 371.1 1390.9 318.9 1387 407.2 1396 314.9 1399.2 298.8 1367.8 319.5 1370.7 363.4 1401.7 435.1 1396.2 326.3 1403.4 430.2 1367 299 1381.6 487.6 1378 360.2 1402.3 299.6 1359.1 363.5 1405.6 351.9 1369.6 294.6 1416.9 327.3 1412.8 473.5 1364 405.6 1402.9 446.1 1377.7 445 1387.7 309.7 1409.4 446.8 1384.8 362.8 1403.8 472.2 1355.3 317.3 1399 374.1 1393.7 445.9 1346.6 339.7 1351.8 307.1 1373.8 333.6 1394.8 351.1 1366.2 323.8 1381.2 296.2 1326.9 440.6 1388.2 334 1381.1 414.3 1364.3 371.9 1372.1 444.2 1326.3 298.1 1365.9 296.2 1328.7 363.9 1401.4 388.5 1355 358.3 1362.4 423.3 1377.7 256.5 1364.1 424.9 1380.8 363.7 1400.3 322.5 1348.5 368.3 1369.5 368.7 1367.1 324 1350.5 295 1412.7 410.6 1369.2 308.2 1397.8 348.3 1378 272.5 1395.4 484.3 1388.9 499.4 1385.1 380.3 1404 326.7 1385.9 405.2 1369.1 398.6 1411.6 300.2 1382.3 394.7 1367.9 432 1415.1 336.9 1391.4 333 1382.5 399.5 1381.8 381.7 1374.8 443.3 1408.1 334 1399.1 530.9 1374.5 359.6 1405.3 411.5 1406.2 384.2 1409.4 440.1 1403.3 356.1 1382.2 375.1 1380.9 322.7 1355.4 366.7 1363.9 350.7 1355.3 290.4 1375.9 367.7 1411.4 402.7 1393.4 354.6 1401.6 404.5 1352.3 413.1 1381.2 276.5 1367.4 415.2 1408.7 365.5 1415.5 420.5 1348.7 306.6 1394.4 318.4 1370.9 390.5 1379 330.5 1352 496.3 1352.3 346.3 1412.3 366.1 1362.9 303.1 1413.8 419.1 1338.5 288.2 1401.2 470.2 1372.6 429.8 1347 270.4 1355.3 402 1390.6 415.5 1342.8 473 1375.8 533.3 1391.9 261.8 1384.7 385 1416.1 322.8 1366.9 380.4 1387.4 314.6 1398.3 442.7 1376.9 340.9 1373.5 404 1382.4 398 1412.6 352.6 1378.7 363.8 1386.9 352.3 1407.2 395.6 1357.1 428.5 1395.2 444.2 1398.2 367 1360.7 431 1415.6 316.9 1383.6 399.1 1382 394.3 1375.9 331.2 1414.9 266.4 1400.8 322.1 1385.9 329.3 1388.8 332.4 1391.7 283.2 1358.9 361.6 1400.3 346.6 1404.1 258.8 1360.6 308.4 1356.4 273.2 1374.2 365.3 1391.7 464 1357.8 304.3 1366.1 456.3 1352.3 306.8 1345.9 386.5 1405.5 310.1 1412.7 379 1364.3 403.7 1416 447.8 1397.7 450.8 1385.1 363.2 1365.3 295.7 1372.3 255.7 1362.2 299.9 1380.6 286.2 1382.2 369.7 1404.5 354.9 1351.3 417.8 1395.2 343.8 1405.4 491 1394.5 345.4 1390.5 297 1360.4 433.5 1380.7 296 1408.4 441.9 1345.6 410.9 1409.8 484.6 1397.3 417.6 1388.2 415.5 1370.6 295.3 1371 331.1 1417.8 317.9 1375.4 368 1399.3 409.3 1357.7 301.7 1350.6 441.6 1379.5 382.5 1385.6 280.8 1345.4 347.6 1397.8 376.9 1347.1 341.4 1393.4 432.4 1376.9 411.5 1392.5 384.2 1375.3 394.5 1412.4 370.6 1377.2 540.6 1402.2 411.1 1349.9 437.5 1346.4 443.7 1393.5 341.6 1368.6 381.3 1375.8 266.5 1411.3 278.2 1381.1 277.6 1409.5 398.9 1314.8 284.7 1368.3 306.4 1390.4 404.5 1410.6 326 1397.8 356.2 1397.6 366.5 1384.6 350.1 1397.6 377.2 1361.5 243.6 1409.5 416.8 1383.2 441.8 1383.9 363.1 1374.9 358.3 1370.1 435.6 1407.1 409.8 1350.6 389.2 1390.1 353.5 1396.5 361.9 1395.2 370.6 1378.8 475 1384.6 408.9 1408.4 314.2 1381.2 319 1381.6 300.7 1406.8 371.8 1355.9 400.1 1361.6 284.9 1395.8 374.7 1368.1 414.9 1396.7 382.3 1410.3 389.9 1415.9 392.8 1393.9 201.5 1377.5 487.3 1372 364 1375.2 263.1 1400.2 358.2 1364.3 338.9 1398.1 348.1 1404.7 389 1356.1 302.8 1406.1 423.1 1386.1 460.7 1384.3 354.5 1384.8 405.3 1330.6 380.3 1389.4 321.2 1365.3 446.2 1374.5 353.9 1408.1 327.1 1370.4 284.7 1370.9 314 1374.4 304.7 1327.8 442.3 1403.7 411 1398.6 407.4 1368.5 545 1371.1 347.1 1386.8 310.4 1379.2 399.9 1393.3 297.5 1403.7 324.1 1347.8 425.5 1393.4 357.2 1366.6 417.2 1378.9 329.1 1398.9 388.1 1356.3 446.3 1345.1 322.2 1394.1 365.3 1404.5 405.7 1328.2 450.8 1373.3 370.9 1367 305.9 1400.8 399.6 1391.5 393.9 1399.7 376.5 1392.7 441.2 1410.8 438.4 1388.4 379.8 1357.8 360.1 1372.2 321.8 1385.7 376.2 1368.6 269.6 1379.4 371.8 1393.1 318.1 1354.1 260.5 1385.1 335.5 1399.5 285.2 1417.1 359.2 1380.1 379.3 1402.1 418.6 1340.9 336.3 1395.8 405.2 1390.5 317.3 1395.3 359.5 1385.2 443.8 1382.7 430.7 1355.2 306.5 1337.3 434 1381 338 1383.2 300.2 1398.7 317.1 1406.8 386.2 1383.7 403.8 1379.3 368.8 1414.1 471.1 1398.5 454.6 1347.6 379.2 1385 342.9 1398.2 486.1 1397.9 451.1 1387.5 335.8 1413.2 424.4 1375.1 469 1366.3 299.7 1384.6 294.3 1382.4 369.1 1372.3 376.8 1356.1 237.9 1405.4 427.6 1406.4 348.4 1396.9 352.8 1414.2 302.7 1392.9 345.2 1402.9 377 1343.9 353.7 1362.9 399.8 1406.4 301.7 1396.2 312.8 1374.2 382.2 1414.9 400.5 1401.5 344.1 1382.7 409.5 1390 382.3 1395.6 457.2 1395.5 327.7 1358.6 382 1362.9 258.6 1379.2 505.3 1386.8 382.4 1385 383.3 1355.1 389.6 1405.4 389.4 1393.6 376 1403.7 307 1339.9 345.1 1386.1 410.2 1369 384.1 1385.6 416.7 1375.6 410.9 1404.1 357.6 1383 346.7 1369.7 336.4 1361 416.1 1396 366.2 1388.9 425.3 1378.6 414.1 1347.7 344.4 1368.2 392.2 1373.3 326.8 1369.1 288.6 1355.1 315.2 1394.7 388 1403.6 470.8 1407.4 265.7 1371.3 461.3 1389.7 394.5 1391 291.3 1395.6 363.4 1362.6 361.2 1355.7 364.5 1364.6 229.7 1374.2 393.9 1363.2 365.6 1382.3 344.2 1376 352.1 1378.8 362.8 1397.3 341.9 1365.8 399.4 1369.5 495.5 1379.4 486.6 1391.2 388.6 1406.3 395.6 1382.2 350.6 1363.8 314.8 1405.1 425 1377.9 435.5 1328.6 252.8 1400.2 299.9 1394.3 345.2 1393.8 350 1384.7 269.6 1383.4 316.5 1408.8 328.6 1394.7 402 1380.6 319 1387.3 359.5 1402.1 312.7 1356.4 407.7 1389.5 436.2 1415.5 257.8 1389.5 375.3 1385.3 355.5 1380.4 404.6 1401.1 358.8 1403.7 445.9 1370.9 439.8 1365.1 441 1362.3 315.7 1351 346.8 1381.9 356.2 1374.1 350 1371.1 341.6 1385.9 331 1386.2 300.4 1351.1 408.5 1363.7 369.1 1358.8 275.4 1350.3 311.2 1412.6 321.1 1387.6 339.8 1384.6 291.4 1407.5 374.5 1371.3 409.8 1345.9 320.3 1390.2 455 1370.2 469.2 1409.9 310.8 1394.3 429.7 1359.5 450.8 1345.9 444.7 1409.4 461.6 1402.5 380.3 1345.3 468.2 1398.1 414.1 1369.2 233.1 1394.3 312.3 1382.1 397.6 1352.2 391.2 1364.9 330.8 1400.7 278 1369.3 350.1 1406.7 359.3 1398.4 299.3 1347.2 394.5 1372.4 326.9 1414.3 401.3 1348.8 373.4 1383 385.3 1380.6 355.3 1381.1 246.2 1374.8 336.3 1407.8 421.8 1373.6 356.4 1384.5 480.1 1407.8 324.3 1416.8 308.9 1409.3 370.2 1354.9 338.2 1378.2 427.5 1413.6 260.7 1371.1 427.8 1394.6 394.7 1398.1 409.2 1413.4 341.1 1329.8 392.8 1367.5 266 1383.8 319.7 1381 242.5 1394.9 360.4 1386.9 320.3 1363.3 419.8 1397.4 348 1353.9 393.4 1370.6 413.1 1365.8 373.8 1390.7 331 1394.9 282.7 1413.1 338.6 1372.3 352.5 1373.8 321.8 1386.7 326.6 1375.2 372.8 1377.4 316.1 1400.8 477.7 1368.2 414.2 1365.6 347.3 1356.8 329.1 1364.5 357.1 1374.5 490.3 1361.9 399.5 1401.7 260.4 1342.5 414.3 1355 345.3 1320.7 300.8 1376.7 328.1 1416.8 364.6 1377.5 352.2 1377.5 276.3 1381.3 299.1 1391.1 524 1352.6 462.2 1356.9 346 1407.3 395.5 1411.2 444.6 1376.7 334.8 1398.1 240.7 1407.4 395.3 1376.5 318.6 1364.9 367.7 1377.2 369.5 1396.7 410.4 1383.3 354.6 1365.4 363.9 1380.4 330.3 1376.3 439.8 1402.2 383.2 1411.7 373.9 1410.8 366 1417.6 398.6 1376.5 297.3 1386.9 375.3 1358.3 354.4 1369.8 383 1353.8 423.8 1383.2 456.7 1375 415.8 1391 341.9 1395.5 505.9 1363.8 329.4 1381.2 340.5 1366.4 395.6 1360.3 306.5 1378 399.2 1417.6 365.5 1405.5 447.8 1394.9 416.8 1379.2 273 1402.3 300.7 1397.2 318.9 1356.3 360.2 1354.1 371.9 1379.4 415.1 1378.3 415.3 1393.3 347.9 1352.3 370.3 1397.2 467.9 1366.9 431.2 1323.9 306.7 1332.6 366.5 1384.3 323.9 1368.6 539.9 1393.5 398.5 1362.9 320.8 1388.6 348.3 1379.8 350 1343 389.2 1389.1 400 1400.5 474.7 1374.6 379.5 1416.1 345.5 1411.2 338.6 1373.4 303.6 1380.8 373.1 1396.3 435.8 1358.9 343.3 1379.7 256.8 1365.4 330.7 1376.2 354.6 1330 393.1 1371.9 394.3 1397.7 265.4 1382.3 370.6 1417.3 360.1 1396.2 346.2 1362.2 336.5 1393.3 450.4 1327.4 289.4 1416.9 340.8 1365.9 338.5 1362.3 302.4 1385.4 217.5 1396.1 307.1 1395.2 462.8 1396.7 328.3 1379 374.3 1398.1 300 1384.9 440.3 1376.6 336.9 1374.3 434.7 1395.6 389.7 1366 260.8 1408.5 339.8 1403.6 396.6 1369.3 300.2 1405.4 239.3 1327.7 458.8 1363.5 376.3 1408.6 490 1359 354.6 1404.8 364.6 1364.1 421.7 1342.4 423.9 1381.9 364.9 1366.5 350.1 1408 379.8 1409.7 399.6 1373.8 348.5 1384.1 337.9 1416.2 323.1 1361.7 363 1352.1 439.4 1339.2 404.7 1365.8 416.1 1376.2 338 1360.9 399.2 1409.1 300 1391.8 391.7 1380.2 352.9 1411.2 443.3 1400.5 406.9 1401.1 330.3 1381.4 367.2 1360.9 486.4 1377.7 336.9 1363.8 405.7 1381.2 434.2 1356.9 374.4 1368.7 380.5 1377.8 255 1402.6 368.3 1387 360.1 1360.5 367 1401.6 464.3 1388.2 333.4 1411 353 1377.5 364.7 1397.7 293.4 1385.8 362.2 1372.8 465 1345.8 363.4 1387.9 241.2 1375.2 313.6 1349.7 329.8 1392.8 275.3 1391.1 383.5 1386.2 403.8 1377.6 396.3 1377.8 338 1362 342 1400.8 338.3 1401 356.3 1383.9 444.1 1356.6 363.1 1405.5 401.7 1393.4 450.8 1374.1 301.2 1397.8 404.9 1392.6 395.4 1365.5 379.5 1382.5 392.7 1389.1 479.2 1408.9 495.6 1409.3 397.1 1403.2 449.5 1367 284.8 1352.4 416.7 1377.9 355.2 1388.5 418.6 1376.7 324.7 1374.3 416.4 1381.4 406.9 1409.5 356.3 1366.6 300 1373.2 310.8 1390.1 294.8 1389.3 346.4 1403.5 306.5 1387.3 411.6 1347.8 390.1 1372 315.7 1349.5 372.6 1370.6 346.9 1401.7 191.6 1405.1 501 1382.7 344.9 1381.7 320.1 1313 385.4 1382.3 358.3 1378.9 240 1391.3 325.3 1390.8 339.2 1362.8 260.7 1416.5 362.7 1392.2 457.9 1395.8 381.7 1329.9 434.5 1404.7 301.8 1348.2 389.8 1379.9 451.9 1352.9 363.1 1398.9 393.5 1354.8 283.2 1372.9 492.1 1364.9 340.2 1404.1 393.7 1416 327 1368.2 415.2 1378.4 366.2 1359.9 321.6 1365.4 330.2 1367.2 348.2 1375.6 395.5 1331.3 382.9 1350.1 431 1371.5 459.1 1417 338.3 1361 429.8 1363.4 362.3 1407 360 1400.7 480.5 1392.1 408.6 1370.5 210.8 1387.8 369 1396.8 370.3 1369.9 332.9 1385.9 315.7 1352 382.9 1383.5 401 1371.5 359.7 1362.6 344.8 1403.8 468 1377.6 394 1367 282.7 1371 354 1377 321.2 1388.3 434 1371.6 391.6 1397.6 426.2 1399.5 426 1386 294.1 1359.2 342.4 1361.8 324.1 1379.8 366.7 1374.8 311.4 1371.7 301.1 1410.6 419.4 1353.7 396.3 1352.1 391.2 1385 372.4 1343.6 380 1389 445.5 1387.6 366.6 1368.5 400.6 1403.7 413.1 1405.8 360.3 1352.3 442.1 1369.2 489.7 1417.1 419 1362.3 410 1407.2 498.5 1375.2 354.9 1413.1 437.7 1406.1 341.7 1370.6 386.3 1396.5 424.1 1368.7 279.6 1411 365.9 1382.3 427 1352.1 370.1 1377.4 397.9 1384.5 410.3 1355.6 346.3 1365.2 433.8 1415.1 376.4 1401.8 359.1 1370.8 451.2 1383.4 303.9 1399.4 353.2 1395.1 237.6 1399.9 322.3 1392.7 397.7 1405.3 373.2 1393.3 355.5 1350.7 336.7 1374.4 353.1 1389.5 385.8 1410.7 487.5 1361.9 381.2 1396.1 358.2 1401.8 241.5 1401.6 360.3 1342.1 501.7 1393 355.2 1402.4 393.6 1366.1 462.7 1343.9 360.5 1388 403.2 1372.5 382.6 1407.8 376.4 1366.9 419.8 1390.5 316.6 1369.8 483.8 1382.5 405.5 1375.3 365 1385.5 344.5 1404.5 436.3 1405.8 350.6 1371.8 256.6 1411.9 355.7 1358.1 306.6 1405.3 357.2 1404.3 384.8 1408.6 389 1319.5 453.6 1356.3 462.6 1389.9 328.3 1374.4 325.4 1395.2 404.1 1355.3 265.4 1416.7 396.2 1355.3 433.3 1414.5 401.9 1398.7 342.2 1317.3 416.3 1367.6 491.6 1376.7 407.2 1368.4 287.7 1374 498.4 1386.9 256.5 1411 443.7 1367 379.8 1386.2 327.2 1388.4 278.9 1394.8 432.5 1365.9 412.7 1404.5 372.8 1368 419.8 1398.6 244.2 1387.7 327.3 1377 397.1 1369.8 338.4 1390.9 315.4 1372.4 430.1 1377.5 383 1347.2 274.5 1402.2 311.6 1404.1 343.4 1393.3 443.2 1366.8 325.1 1413.2 373.1 1382.3 425.4 1362.3 369.9 1355.7 292.6 1401.4 444.2 1390.2 284.5 1382.7 391.2 1385 441.1 1366 390.4 1377.3 366.4 1377.4 400.8 1356.7 353.4 1393.8 422.9 1411.2 382.5 1412.8 447.4 1382.7 354.3 1382.7 343.5 1382.8 392.5 1392.1 347.8 1397.2 443.3 1407.1 410.8 1377.7 374.3 1367.6 313.4 1406.1 376.2 1371.1 315.1 1361.4 297.5 1376.7 431.3 1379.5 486.2 1379.7 330.1 1385.4 469.3 1368.1 370.8 1409.4 341.6 1397.6 361.1 1380.7 363.3 1379.5 415.7 1348.2 295 1374.1 279.8 1362.6 298.5 1382.1 269.6 1377.9 330.7 1409 274.3 1345.5 275.5 1357.7 314.2 1398.2 319.2 1378.9 358.9 1396.7 283.7 1364.1 364.8 1415.5 326.2 1365.9 408.9 1385.4 322.8 1401.2 478.4 1373 501.1 1401 381 1325.2 383.8 1380.4 282.5 1401.2 336.2 1363.7 497.9 1411.7 308.7 1360.3 390 1376.7 470.8 1376.5 408.1 1384.6 325.7 1378.6 344.6 1388.9 361.5 1405.1 353.5 1391.8 466.6 1396.6 534.3 1388 389.3 1399.6 439.3 1403.6 369.1 1380.8 347.6 1385.4 281.2 1356.5 386 1409.5 357 1393 322.1 1339.5 355.5 1373.3 333.8 1352.4 404.8 1403.5 402 1410.5 321.6 1399 366.4 1373.7 371.2 1362.7 350.7 1384.6 427.3 1403.7 471.1 1400.8 342.1 1353.7 425.5 1379.5 430.8 1400.6 329.4 1383.7 305.8 1386.2 360.5 1404.1 481.1 1391.6 354.3 1388 365.5 1374.6 384.8 1358.9 321.6 1391 426.2 1397.4 354.5 1411.6 400.5 1385.1 300.2 1415.2 428.7 1417.6 338.8 1360 451.3 1385.3 227.4 1400.6 434.8 1338.9 390.5 1384.9 406.7 1356.8 286.8 1406.4 254.6 1382.8 396.1 1402.6 441.3 1381.5 362.3 1368 412.3 1383 300.3 1326.5 365.9 1367.1 392.4 1358.8 414.4 1379.7 334 1392.4 342.3 1384.1 326.5 1396.1 270.7 1382.6 403.3 1405.5 402.3 1415.7 339.6 1337.3 241.2 1340.3 368.2 1344.5 282.6 1401.1 263.5 1386.2 420.6 1412.5 383 1351.7 463 1374.6 420.7 1402.5 348.7 1409.5 316.4 1398.6 405 1381.2 322.2 1363.6 286.4 1379.4 358.3 1365.5 436 1387.8 404.4 1352 432.9 1396.2 438.8 1402.7 389.4 1395.1 400 1376.1 382.1 1385.3 512.7 1397 408 1397.6 379.2 1378.5 421.2 1351.7 360.9 1377.8 491.6 1382.8 341.7 1409.2 309.3 1337.3 375 1374.5 328.1 1369.2 337.7 1379.6 238.6 1405.4 354.3 1377.7 355.6 1406.2 245 1406.3 432.1 1317.3 407.5 1383.6 365.4 1386.1 396.9 1377.1 329.9 1409.4 373 1406.3 532.6 1353.7 319.1 1369.1 399.3 1412.3 486.1 1338.3 351.2 1369.6 397.6 1361.2 469.7 1373.9 326.1 1360.7 293.3 1384.7 336.3 1393.3 342.9 1396.7 384.3 1411.8 415.4 1372.8 445.9 1372 317.5 1406.7 296.1 1369.2 280 1349.6 388.6 1363.2 391.7 1369.3 369.3 1379.1 438 1339.7 360.3 1387 394.4 1401.8 346.7 1399.8 299.5 1411.9 392.7 1382.1 437 1367.9 268.8 1397 375.4 1376.9 329.1 1396 422.6 1363.1 286.3 1401.3 305.2 1415.4 454.8 1371.3 508.5 1378.8 364.9 1382.6 396.8 1405 391.1 1368.4 351 1348.1 309.3 1389.2 370.3 1371.5 383.7 1367.2 367.8 1386.4 429.3 1409.4 309.9 1375.7 243 1383.1 276.7 1386 382.4 1399.3 332.5 1401.6 327.9 1362.2 321.4 1366.2 469.5 1406 406.9 1336.5 363.7 1399.9 263.8 1407.9 304.4 1384.2 384 1381.9 367.9 1395.9 450.9 1388.1 249.5 1358.1 340.6 1399.9 440.2 1375.7 329.4 1387.1 381.7 1401.4 415.5 1379.8 221.3 1374.8 191.7 1380.8 530.6 1414.4 307.1 1394.7 401.9 1368.4 335.6 1401.6 385.1 1371.3 362.4 1401 357.8 1367.4 393.4 1382 377.8 1356.9 367 1376.2 378.8 1391 431.5 1368.8 383.8 1370.9 356.7 1394.5 441.9 1359.6 416.8 1394.4 364.1 1414.1 367.6 1394.3 424.3 1386.7 371.7 1415.5 389.5 1342.9 285.1 1398.2 311 1351 440.4 1346.4 273 1389.6 443.3 1405 302.2 1403.8 310.1 1392.7 186.2 1354.8 392.7 1381.5 394.7 1291.6 454.4 1406.2 496.8 1371.9 427 1400 358.7 1397.8 376.8 1402 360.2 1387.5 325.6 1375.5 384 1393.1 394.6 1407.2 326.6 1367.1 270.6 1416.8 488.6 1394.7 410.1 1367.1 391 1351.5 389.8 1385.8 375.4 1398.1 432.2 1365 359.4 1345.9 388.1 1403.6 394.2 1397.1 327.1 1366 450.7 1402.2 351.3 1400.8 327.1 1362.3 394.1 1384.1 398.4 1390.5 497.5 1367.2 364.6 1374.7 255.9 1417.1 293 1347.8 363.9 1384 354.6 1359.3 413.6 1355 294 1392.8 380.9 1349.1 374.4 1410.3 430.9 1403.2 338.9 1383.8 320.4 1415.1 329.3 1360.5 276.8 1408.3 420.8 1373.5 387.3 1350.6 398 1398.2 328.3 1391.3 376.5 1400.9 417.5 1413.2 368.5 1401.3 381.9 1375.8 335.6 1384.7 270.5 1361.1 459.2 1372.3 450 1395.9 431.7 1409.4 411.6 1411.4 358.6 1380.3 340.5 1409.5 405.8 1411.5 356.9 1381 376 1388.2 388.4 1324.2 339.7 1393.9 386.6 1389.3 328.6 1406.4 434.3 1411.7 511 1366.8 338.9 1397.6 410.6 1402.2 337.6 1379.1 473.7 1404.8 419.5 1409 488.1 1385.1 398.1 1350.2 358.2 1396.2 417.5 1371 296.5 1368.1 251.3 1362.4 369.5 1399.5 466.5 1392.1 331.1 1393 354.9 1413.4 441.9 1347.7 450.5 1382.9 190.2 1404.5 400.2 1384 425.7 1394.4 411.5 1381.5 365.9 1396.8 356.2 1358.5 299.9 1393.9 324.5 1365.8 333.5 1403.4 246.4 1326.6 385.3 1381.3 463.4 1378.9 284.1 1392.8 391.7 1394.4 351 1395.5 369.4 1344.2 298.8 1363.6 352.1 1356.1 456.3 1383 311.9 1367.5 373.5 1369.9 305.3 1355.2 202.5 1375.4 371.2 1364.7 502.7 1388.6 265.9 1390.7 296.8 1403.5 369 1412.9 310.4 1393.5 466.6 1378.1 306.5 1375.6 381.3 1375.2 394.9 1411.7 317.4 1346.7 313.3 1345.3 320.7 1377.6 263.9 1384.5 362.3 1344.7 338.7 1343.1 399.2 1375.2 390.5 1415.3 401.7 1381.4 379.4 1370.2 326 1378.6 374.3 1389.7 404.4 1353.5 329.9 1378.8 377 1395.9 384.4 1382.6 305.4 1353.7 289.4 1400.5 452.6 1360.8 277 1372 372.3 1367.7 345.2 1396.4 380.4 1369.8 282.2 1377 422.5 1340.5 449.5 1384.7 448.3 1365 311.9 1348.8 372.7 1383.7 346.7 1382.7 385.5 1361.9 414.1 1343.2 331.2 1388.8 343.6 1384.5 266 1373.2 355.7 1347 392.3 1351 309.2 1349.5 369.4 1361.8 393 1399.9 337.1 1393 462 1340.8 409.5 1325.9 410.5 1377.4 365 1400.6 323.6 1373.2 367.9 1340.1 342.5 1387 361.6 1384.2 360 1334.7 307.8 1334.9 379.1 1404 369.8 1333.3 338.4 1400.3 389.3 1399.5 410.1 1356.2 376 1389 301.9 1368 424.6 1382.6 366.1 1344.3 365.2 1406 339 1395 445 1375.1 272.3 1380 358 1379.8 423.4 1364.8 343.5 1378.7 352.4 1391.2 373.1 1326.8 429.5 1371.5 404.6 1384.4 399.3 1413.8 352.2 1371.9 386.6 1380.2 469.8 1377.3 323.9 1401.4 329.2 1398.7 459.3 1416 341.8 1396.6 437 1386.5 468.6 1384.4 391.1 1355.1 314.6 1397.8 324.7 1385 303.9 1367.3 295.2 1391.3 324 1387.4 402.9 1375.6 457.6 1405.1 399.9 1345.6 397.6 1360.6 288.4 1382.7 436.5 1398.5 411.8 1403 414.9 1359.2 303 1386.4 430.7 1383.4 323.7 1371.5 339.9 1368.8 379.4 1344.9 379.4 1397 419 1359.9 290.8 1350.5 379.1 1410.9 427.9 1364.5 369.6 1366.5 367.9 1367.9 518.1 1412.7 356.6 1380.9 451.2 1367.6 352.2 1373 329.3 1354.3 300.1 1369.2 284.4 1354.2 317.1 1396.1 382.9 1375.5 390 1385.1 360.9 1362.7 415.6 1383.3 355 1375.3 376.4 1381.8 293.7 1369.6 295.9 1313.7 260.8 1381.3 412.6 1379.7 360.6 1359.3 323.5 1366.6 296.6 1380.2 405.2 1405.7 470.6 1398.3 565 1388.6 301.9 1349.6 384.3 1405 425.6 1385.6 449.8 1386.3 346.3 1381.1 375.4 1399.9 296.1 1359.5 440.7 1376.2 441.2 1400.8 388.9 1414.3 361.3 1401.1 420 1410.7 313.2 1384.6 462.3 1402.8 335.8 1385.1 459.2 1398.6 318.5 1396.6 396 1372.9 348.3 1407.9 414.5 1359 316.1 1378.1 372.2 1383.7 320.6 1393.2 248.4 1364.8 372 1385.1 363.6 1393.8 381.1 1377.4 466.8 1382.7 528.4 1344.7 424 1354.6 267.1 1361.3 194 1372.4 364 1360.3 341.4 1395.8 331.3 1407.5 368.2 1352.5 413 1390.7 343.3 1398.8 533.8 1368.4 326.4 1396.2 225.6 1411.6 445.2 1357.9 290.3 1415.8 295.7 1385.9 399.3 1406.5 373.6 1365.8 421.9 1396.8 438 1360.1 465.9 1398.2 351.8 1400.4 365.5 1340.3 330.9 1393.7 388 1390.8 324 1359.8 343.9 1389.6 363.6 1393.3 328.6 1370.7 332.8 1377.9 333 1383.4 341.5 1417.4 326.2 1361.9 360.2 1355.4 416.1 1359.3 365.9 1378.2 297.5 1404.6 390.1 1381 386.3 1356 350.8 1392.6 411.9 1339.7 397.1 1358.9 240 1404.3 435.8 1359.4 418.3 1386.1 444.6 1388.8 299.3 1367.3 349.8 1369.7 391.6 1399.5 482.3 1413.2 369.3 1374.7 261.6 1388.3 510.7 1385 404.3 1395.7 434.7 1367.5 321.4 1401.3 430.2 1369.1 395.9 1410.1 394 1375.2 410.9 1382 293.8 1374.6 373.9 1361.8 434.9 1354.9 472.1 1375.7 323.2 1378.5 402.2 1411.2 303.7 1401.5 343.2 1352.3 299.7 1414.9 286.9 1369.6 238.7 1388.6 380.1 1343.9 342.1 1376.7 404 1376.9 336 1389.8 435.8 1352.2 372.2 1379 365.5 1407.4 331.6 1347.7 355.3 1352.8 302.4 1384.5 268 1380 398.8 1390.3 438.2 1374.7 411.1 1367.7 194.9 1399.7 322.7 1407.8 321.7 1388.7 285.6 1411.8 323.1 1348.8 169.3 1339.1 413 1352.8 286.1 1384.7 357.6 1387.3 295.9 1367.2 351.8 1397.8 460.4 1385.1 418.4 1394.5 553.7 1368 455 1383.7 384.1 1401.6 447 1367.8 360.2 1361 378.5 1383 317.5 1378.4 391.5 1414.9 386.7 1387.9 301.2 1368.9 369.1 1337.6 336.3 1385.2 468.1 1341.2 283.5 1404 381.3 1406.9 405.2 1342.4 405.5 1360.5 354.9 1384.5 381.9 1404 370.8 1412.5 387.7 1370.6 396.3 1373.6 418.8 1375 347.3 1408.7 255.5 1395.9 337.4 1401.8 407.2 1360.9 344.3 1403.3 518.2 1337 358.7 1380.9 304 1316.3 415.3 1400.3 448.1 1398.6 305.6 1336.7 393.7 1397.6 476.6 1371.8 357.3 1407.9 342 1365.9 341.9 1400.7 320.4 1375.6 386.3 1362.7 333.5 1389.1 382.9 1364.9 333.1 1406.8 338.8 1383.4 359.4 1367.7 411.4 1377 352.1 1387.5 386.3 1373.2 299.7 1360.6 330 1400.5 346.9 1395.5 222.6 1359 373.1 1355.9 411.7 1378.3 348.1 1358.7 354.7 1346.9 422.5 1391 347 1356.6 392.6 1362.5 428.8 1400.1 322 1378.2 474.7 1398.8 426.1 1370.5 413.1 1351.6 405.9 1406.9 352.2 1394.3 343.1 1376.6 381.1 1394.2 375.5 1394.9 304 1347.6 393.3 1324.6 264.9 1350.5 411.6 1399.4 553.4 1376 345.3 1380.3 281.4 1407.7 310.1 1363.9 377.3 1370.8 396.3 1401.3 413.4 1382.8 313.2 1382.9 298.5 1346.1 269.3 1407.7 280 1411.3 361.3 1374.6 278.4 1394.2 336.4 1357.3 237.6 1359.4 306.1 1383.6 418.2 1393.1 328 1384.4 345.4 1399.7 395.4 1383.1 404 1390.6 326.3 1406.9 336.4 1368.3 411.2 1372 420.6 1371.4 335.2 1408.2 389.7 1361.9 408.2 1345.2 447.2 1415.2 468.6 1352.8 395.4 1380.4 449.9 1350.1 363.7 1395.3 341.4 1386.2 425.1 1404.8 366 1355.6 276.7 1362.5 337.1 1366.2 540.2 1379.8 360.8 1400 290 1370.5 405.1 1367.3 430 1369.2 435.7 1388.1 377.9 1402.5 344.6 1358.4 429.6 1412.3 386.6 1379.3 301.4 1369.8 348.7 1391.3 420.5 1386.2 393.6 1353.8 377 1413 328.9 1339.3 413.5 1373.1 405.7 1334.6 373.9 1366.9 437.3 1360.9 486.7 1408.7 325.4 1377.8 428.5 1394.1 331.6 1379.3 320.4 1394.3 365.5 1415.7 413 1376.2 452.8 1329.6 283.2 1370.5 417.6 1391.9 369 1342.2 333.7 1410.8 389.2 1370.6 367.7 1369 254 1379.4 330.8 1354.8 357.3 1377 378.7 1385.1 379.7 1379 324.2 1382 368.1 1407.5 371.4 1367.9 417.4 1383.7 416.9 1353.9 312.9 1396.7 269.1 1373 381.2 1372.3 316.4 1383 345 1371.6 398.9 1368.3 353.6 1414 420.1 1384.8 356.3 1390.5 381.9 1353.3 321.7 1410.8 409.8 1383.7 340.2 1387.4 416.8 1395.7 449.4 1396.2 330.7 1398.3 415 1382.6 315.6 1366.4 403.8 1363.8 476.4 1403.1 261.8 1359.1 374.2 1354.8 360.9 1406.5 408.1 1358.8 415.1 1408.9 327 1400.1 332.7 1353 441.1 1412.3 313.6 1321.7 430.5 1370.1 391.6 1353 399.3 1410.7 377.9 1404.1 388.2 1408 336.8 1371 251.4 1373.9 350.8 1357 429.9 1378 548.4 1398.9 319.8 1384.4 413 1410.5 459.3 1373.7 429.1 1383.6 426.3 1381.8 366.7 1392.8 330.6 1384.7 392.6 1341 338 1373.3 430 1388.2 368.4 1367.1 395.7 1377.5 427.8 1378.2 366.7 1399.2 397.1 1347.5 381.4 1383.5 257.9 1355.4 426.3 1393 341.2 1407.3 265.1 1417.8 345.3 1372.5 387.1 1378.6 431.1 1404.1 349 1380.4 367.8 1409.7 367.8 1364.9 271.4 1390.5 398.7 1390.8 446.6 1402.4 479.8 1400 315.3 1412 306.1 1381.6 292.1 1407 455.2 1352 315.6 1367.6 254.5 1381.3 351.4 1350.5 229.6 1347.8 381.3 1346.5 365.5 1388.7 407.3 1381.3 329.6 1383.6 441.8 1355 403.4 1320.6 268.4 1344.7 353.6 1382.8 492.9 1414 354.6 1395.3 324.8 1370.3 321.2 1391.2 335.9 1372.8 474.8 1376 404.4 1393.7 340.9 1374.1 436.8 1371.7 408.8 1374.1 264 1367.3 332.1 1394.4 326.9 1386.9 426.1 1350.6 471.9 1384.2 309.3 1389.6 308.5 1374.6 313.1 1372.2 217.8 1414.5 370.6 1403.9 390.5 1381.5 448.1 1415.2 345.2 1403.3 345.7 1371.9 393.3 1385.6 359.7 1334.8 315.4 1386 408.4 1399.4 333.2 1395 291.4 1394.2 478.4 1378.1 304.9 1408.9 359 1383.7 399.2 1375.7 409.5 1366.5 320.9 1390.5 392.9 1388.9 406.5 1382.3 327.6 1394.9 272.1 1383.6 424.2 1397.1 435.2 1377.9 352.3 1372.3 337.1 1388.8 425.9 1383 461.3 1395.2 245.2 1399.8 339.3 1386.3 324.1 1371.3 491.5 1409.2 346.9 1366.3 345.7 1369.4 405.7 1411.9 275.8 1395.3 364.8 1378.1 416.3 1366.5 318.4 1382.4 325.7 1372.2 418.1 1353.7 444.5 1417.6 350.4 1400.8 307.1 1378.8 344 1365.6 428.7 1394.4 429.4 1348.5 365.1 1375.5 280.5 1411.8 377.9 1395 463.6 1373.4 468.4 1342.4 457.2 1405.8 303.3 1355.9 527.8 1372.3 446.5 1396.5 382.3 1383.3 299.8 1358.8 325.3 1409 258.5 1360.8 399.2 1383.8 343.9 1362.3 267.6 1367.4 302.1 1373.3 313.8 1348.6 452.1 1335.1 418.1 1374.7 334.7 1355.3 312.1 1374 243.8 1409 378 1383.7 365.2 1410.8 367 1402.6 328 1358.6 327.6 1406.3 463.3 1393.1 496.6 1359.4 323.2 1372.6 447.1 1361.5 367.6 1355.7 379.4 1363.4 549.5 1403.1 336.4 1404.4 364.2 1369 398.6 1348.2 457.8 1414.3 300 1380.7 252.7 1397.4 386.2 1389.6 335.2 1382.6 326.1 1378.4 326.4 1368.2 325.7 1322 318.6 1405 454.6 1369.9 370.3 1415 269.3 1393.2 263.7 1393.4 353.6 1381 205.6 1349 380.4 1389.8 321.9 1392.2 366.5 1386.3 436.8 1362.5 379.9 1406.3 333.5 1414.1 314.6 1343.2 299.9 1385.8 428.9 1374.3 484.1 1282 406.3 1291.2 489.9 1403.9 484.8 1359.4 440.3 1362.5 455.1 1371.8 414.7 1286.4 472.6 1306.3 410.7 1407.2 444.4 1405.3 448.1 1315.7 446.7 1377.6 491.5 1377 469.4 1397.8 479.6 1300.2 492.6 1265.5 465.4 1373 485.1 1388.1 502.4 1292.7 432.2 1359.1 413.1 1344.4 482.9 1285.2 401.1 1332.7 478.8 1322.1 423.6 1354.5 491.9 1312.6 430.6 1305.8 457.5 1307 408.6 1394.3 449.2 1350.1 404 1349.8 469.9 1319.8 495.6 1359 418.9 1382.4 423.6 1265.5 469.1 1312.1 439.6 1319.1 420.4 1279.9 458.4 1403.2 437.2 1387.1 484.5 1389.4 422.7 1316.5 434.8 1287.9 482.6 1393.2 407.9 1351 432.7 1389 472.5 1384.9 452.8 1334.7 438.1 1289.2 476.7 1381.2 481.6 1349.2 436.9 1352 461.8 1319.7 477.2 1320.1 457.1 1393 508.7 1355.1 493.1 1359.4 472.7 1290.8 449.7 1357.7 454.4 1296.7 490.3 1349.2 421.7 1357.1 487.7 1396.7 479 1293 447.2 1308.8 439.6 1364.8 493.5 1409.6 470.4 1324.9 438.2 1292.4 432.9 1397.9 432.5 1294.1 453 1346.8 469.7 1357.4 406.5 1385.8 452.2 1384.6 444.3 1382.3 449.5 1369.8 410.1 1354.8 431.8 1296.2 485 1355.7 415.9 1385.9 433.7 1291.7 401.5 1350.1 421.8 1358.5 441.1 1343.5 459.2 1355.6 485.4 1375.1 499.4 1387.8 436.8 1299.4 467.1 1379.7 427.4 1340.3 428 1297.7 428.3 1339.8 473.7 1346.6 448.2 1376.7 418.5 1292.7 456.7 1371.7 488.9 1397.8 403.4 1390.9 477.6 1307.4 437.1 1341.4 482.5 1361.2 494.3 1390.8 428.8 1391.3 442.9 1307.7 437.4 1350.9 420.8 1312.8 482.9 1352.8 457.1 1361.3 443.5 1346.7 449.6 1396.7 439.3 1363.7 397.1 1287.4 448.4 1328.9 432.6 1304.8 439.9 1368.1 483 1352.8 421.1 1314.7 451.8 1322 423.4 1343.4 438.2 1415.9 463.2 1314.8 463.2 1351.6 431.2 1372.4 433.6 1327.2 426.8 1344.2 450 1288.5 438.4 1408.7 464.7 1371.4 477 1410.2 390.8 1376.9 461.6 1295.9 460 1314.2 446.1 1304 474.1 1290.9 433.4 1339.1 424.4 1376.6 416.4 1320.4 424.2 1385.5 423.3 1386.9 426.8 1303.9 414.8 1327.9 433.8 1355.6 493.2 1358.3 490.4 1310.3 448.8 1289.3 487.3 1344.7 414.2 1358.1 435.2 1337.4 447.1 1405.2 465.4 1287.2 496.5 1280.3 416.2 1302.3 491.1 1385.4 432.7 1323.8 483.6 1319.6 484.6 1306 426.5 1292 441.4 1369.1 438.1 1304.9 445.1 1387.6 433.6 1373.8 433.1 1390.4 485.4 1396.2 472 1391.5 468.8 1414.8 428.8 1346 498.1 1312.4 431.8 1285.3 470.7 1327.6 457.1 1341.2 447.1 1372 436 1393.8 447.7 1278.2 473.1 1349.1 439.2 1299 422.1 1316.9 438.5 1299.6 464 1337.8 460.6 1335.3 483.5 1396.7 487.8 1276.7 482.5 1307.6 486.1 1316.8 484.8 1375.2 466.2 1341.4 500.6 1394.8 493.9 1366.1 428 1304.8 422.4 1393.9 452.1 1271.2 418.9 1333.1 475.5 1322.9 452.5 1365.7 496.1 1373.9 472.7 1315.6 479.9 1292 429.1 1319.5 405.9 1388.5 398.5 1297.5 473.2 1335.4 447.6 1329 403.1 1307.2 479.6 1332 420.9 1379.1 466.3 1338.5 436.1 1375.5 443.1 1302.6 493.7 1328.3 492 1334.7 484 1312.4 417.3 1298.4 456.3 1335.4 469 1394.1 462.6 1291.8 424.9 1323.3 491.2 1392.1 421.2 1380.8 478.5 1385 449.8 1387 450.1 1286.5 471.8 1382.4 442.6 1289.9 463.9 1333.3 463.8 1340.8 464.2 1384.8 462.9 1380.6 484.3 1397.2 438.9 1334.8 445.1 1335.9 426 1290.9 439.5 1284.6 419.2 1409.5 419.2 1350.7 488.8 1304.7 462.1 1386.8 453.6 1330.2 398.9 1357.2 497.8 1368.3 393.1 1334.2 438.3 1316.8 415.7 1356.9 406.2 1382.2 425 1362.2 432.2 1379.9 496.1 1288.2 443.7 1331.7 428.9 1333.4 487.3 1339.6 429 1341.6 472.8 1390.4 482.4 1380.2 453 1347.2 422.3 1399 484 1362.5 431.1 1297.9 440.7 1320.4 475.7 1280.2 402.3 1408 477.7 1417.3 425.4 1384.6 415.3 1288.4 437.4 1312.6 490.9 1334.4 432.5 1366.9 455.4 1351.2 445.4 1323.3 451.8 1397 482.9 1305.6 400.9 1297.4 499.3 1295.2 483.2 1338.9 430.7 1310.6 416.8 1352.8 469.2 1368.5 408.1 1299.4 416.2 1304.8 412.7 1281.9 502.3 1347.4 470.9 1333.6 422.9 1360.4 420.2 1281.3 422.3 1342.2 407.9 1338.7 481.5 1365.8 475.7 1301.6 416.1 1385.8 460 1282.4 491.9 1278.2 424.7 1334.7 420.6 1368.1 475.2 1324.6 449.3 1373.8 485.2 1397.3 464 1347.8 480.7 1357.9 436.6 1401.7 453.4 1380.2 429.3 1413.5 443.4 1339.4 421.6 1282.1 430.3 1312.2 446.3 1318.5 467.4 1295.7 479.2 1367.1 486.8 1379.2 419.4 1326.5 463.6 1345.3 474.2 1333.3 469.4 1308.7 462.6 1409.6 440 1374.8 449 1376.1 473.3 1319.3 442 1349.1 461.8 1303.1 408.2 1363.5 491.6 1332.7 435.8 1386.3 457.4 1412.6 442.5 1381.5 429.1 1381.1 480.7 1288.7 433.9 1281.4 477.6 1354 473.7 1300.4 489.6 1322.3 415.2 1346.1 410.1 1368.7 460.5 1348.9 422 1339.5 452.2 1296.8 440.6 1302.1 448.9 1401.4 478.9 1321 413.4 1318.4 429.2 1342.9 452.6 1403.2 407.3 1319.7 423.4 1372.2 462.5 1360.6 473.1 1280.5 422.4 1312.7 498.9 1332.7 432 1398.9 490.5 1380.1 510.8 1344.8 479 1366.2 417.3 1285.9 473 1348.8 466.4 1350 489.9 1304.9 469.7 1380 484.3 1370.8 463.6 1352.9 456.6 1317.9 425.2 1294.2 435.8 1352.2 477.9 1378.1 486.4 1286.7 419.1 1381.8 434.3 1298.3 431.4 1358.4 454.4 1353.9 489.8 1303.1 423.9 1386.9 438.2 1333.6 427.7 1282.5 472.5 1362.7 447.4 1395.1 498.4 1360.8 416 1300.9 440 1310.4 436.5 1396.7 412.6 1316.7 399.7 1290.4 419.4 1335.8 468.8 1346.4 438.9 1385 439.7 1380.4 459.5 1295.6 466.4 1393.3 407.6 1292.5 481.5 1311.9 445.5 1379.2 482.4 1359.7 432.3 1302.8 495.6 1413.6 430.7 1332.2 429.8 1329.2 423.4 1329.8 473 1407.3 486.7 1322.7 474.6 1299.5 504.2 1343 455.9 1310.6 409.5 1338.6 412.2 1315 412.3 1307.9 415.7 1399.2 460.9 1363.3 428.5 1348.9 443.8 1285.2 455.1 1300.9 414.9 1382 452.3 1307.3 471.4 1310.5 469.4 1410.7 465.7 1398.8 483.8 1377.8 420.9 1279.1 465.8 1376 483.3 1304.8 410.6 1383.7 470.2 1296.2 426.8 1350.7 445.5 1333.3 411.2 1393.1 440.5 1390.7 455.6 1325.2 442.8 1409.8 432.7 1321.5 493.5 1291.5 447.9 1345.4 453.3 1367.6 420.8 1289.4 405.8 1312.1 451.4 1307.2 466.3 1377.8 480.4 1386.6 451.7 1318.1 409.1 1330 469.7 1372.4 453.9 1347.5 458.3 1289.5 482.4 1293.9 425.8 1342.1 441.7 1328.4 478.4 1310.9 485.2 1284.1 486.2 1401 435.7 1386.9 445.1 1372.6 478.2 1327.4 405.3 1287 477.5 1343.1 424.1 1301.7 435.7 1318.7 462.2 1317.4 433 1329 495 1287.5 398.7 1318.1 475.1 1346.7 449.7 1354.5 421.3 1405.3 487.4 1386.3 438.8 1401.9 420.9 1289.7 409.8 1383.9 428.4 1334.7 449 1297.8 417.8 1337.5 451.7 1404.3 420.7 1291.6 427.6 1384.7 461.9 1302.4 425.6 1280.6 471.2 1399.4 455.6 1306 439.4 1296.6 431.7 1356.5 467.1 1371.5 488.8 1311.3 406.5 1353.6 459.4 1292.2 427.1 1314.1 443 1392.5 457.8 1338 419.8 1336.3 466.5 1394.7 457.4 1388.9 454 1344.3 427.5 1292 439.7 1364 461.9 1383.8 418.7 1396.6 393.6 1369.3 480.7 1278.9 457.2 1336.7 418.3 1371.1 469.7 1350.4 434.2 1366.2 413.4 1333.7 409.2 1272.1 457.1 1383.7 419.6 1293.3 429.3 1294 420.7 1302 493.8 1273.9 435.6 1373.4 439.5 1361.9 450 1305.6 429.2 1278.2 444.4 1295.1 445 1276.7 476.4 1317.8 425.4 1314.4 448.4 1377 439.5 1355.3 432.9 1397.7 415.2 1401.9 493.4 1357.2 485.7 1285.4 486.4 1390.9 455.9 1320.4 420.8 1333.8 444.3 1349 422.6 1360.9 459.4 1300.9 415.5 1327 472.4 1319.1 487 1316.3 478.7 1361.9 424.2 1370.6 455.6 1308.3 437.6 1341.7 407.1 1352.4 462.6 1294.9 489.6 1350.4 445.9 1389.8 400.9 1382.4 447.6 1343.4 449.6 1338.2 460.9 1362.5 460.8 1362.6 408.4 1315.3 485 1365.3 483.5 1331.7 465.8 1346.4 458.8 1349 480.2 1298 414.3 1315 488.5 1378.2 483.3 1401.1 413.4 1393.8 487.7 1321.6 387 1354.5 461.5 1391.1 407 1376.6 465.5 1291.7 397.2 1374.9 449.7 1374.1 410.8 1363.8 424.6 1382.4 469.2 1329.7 440.2 1288.9 446.7 1303 419.6 1344.1 455 1338.6 476 1340.3 407.7 1277.9 476.4 1374.3 464.8 1353.7 454.7 1295.7 470.5 1348.9 435.3 1320.3 407 1297.9 422.3 1298.7 475.3 1361.5 479.2 1402.1 418.3 1317.3 442.1 1359.4 507 1371.9 428.8 1361.4 416.9 1304.4 497.6 1336.7 427.9 1352.1 452.6 1332.3 456.4 1385.2 467.7 1309.3 430.5 1378.1 463.7 1328.6 496.7 1398.7 493.7 1370 460.8 1364.6 490.2 1341.2 462.9 1413.8 463.5 1386.6 468.7 1326.3 494.7 1352.5 433.4 1344.3 431.6 1290.7 442.3 1302.6 413.9 1387.7 459.6 1296.7 475.7 1356.8 501.6 1277.9 411.9 1345.7 476.8 1291.9 426.6 1417.4 413.5 1389.6 487.3 1400.6 485.6 1352.7 415.9 1335.4 441.7 1295.3 424.7 1345.5 423.8 1406.1 422.4 1337.8 473.1 1371 426.8 1348.2 470.2 1333.8 468.3 1295 482.5 1280.2 441.4 1366.8 491.3 1291.7 436.9 1283.7 440.5 1349.8 480.1 1308.8 474 1344 468.8 1282.7 450.7 1309.1 433.6 1375 489.8 1297.3 464.1 1286.2 414.7 1349.2 441.3 1347.9 439.5 1288.7 458.5 1337.2 420.2 1397 469.7 1399.7 438 1381.9 451.5 1311.7 452.5 1297.1 496.8 1326.2 489 1378.2 420.6 1395.8 407.1 1361.8 424.2 1302.7 482.4 1409.3 484 1335.7 435.2 1313.8 456.6 1360 453.2 1378.5 416.4 1323.2 459.3 1301.2 426.1 1376.2 426.8 1368.4 451.4 1352.4 448.8 1323 431.8 1338.7 460.3 1355.2 491.1 1328.7 426.8 1307.7 448.8 1334.5 434.1 1371.6 439.9 1401.3 440 1339.5 427.7 1388.5 450.1 1378.4 427 1345.4 463 1295.2 455.1 1362.3 415.8 1361.4 424.8 1329.9 432.8 1372.4 427.3 1333.9 452.1 1326.9 465.5 1324.7 438.2 1346 450.2 1351.5 486 1319.8 457.7 1351.5 441.9 1350.9 463 1365.5 428.4 1373.1 446.2 1304.3 400.2 1366 443 1362.8 411.6 1380.3 434.7 1298.8 422.9 1377.1 486.6 1350.8 431.9 1388.9 476.7 1272.2 447.4 1361.9 441.8 1403.4 431 1372 439.2 1350.6 456.5 1371.3 425.3 1382.1 458.6 1396.5 411.6 1325.3 457.5 1341.4 394.9 1301.7 394.5 1340.3 453.8 1244.9 446.2 1371 429.1 1326.2 472.7 1274.6 453.2 1370.8 445.7 1366.6 480.9 1336.6 461.5 1351.6 448.8 1373.3 494.5 1326.6 475 1308.2 464.7 1381.9 429.4 1287.8 449.4 1320.9 475.4 1396.2 467.5 1365.5 422.5 1331.3 456.5 1316.5 471.7 1313.2 452.2 1338.6 454.3 1281.1 450.9 1323.7 412.4 1331.6 416.7 1364.3 389 1364.1 483 1335.9 441.3 1336.7 454.8 1349.1 422.4 1359.6 445.2 1317.9 451.7 1357.3 432.9 1383.1 420 1304.3 496.8 1281.1 386.4 1357.4 436.6 1342.1 402.9 1303.4 405.9 1325 426.3 1366.6 441.7 1366.8 443 1288.5 453.6 1286.1 459.2 1372.2 423.7 1386.7 461.7 1341.8 446.1 1336.7 476.7 1345.3 473.8 1372.7 429.8 1356 442.9 1397.5 432.4 1340.4 444.8 1301.9 433.9 1348.2 398.7 1373.3 417.1 1396.4 464.7 1344.8 450.4 1294.6 401.9 1387.4 455.7 1328.9 436.7 1382.2 465.2 1330.8 423.5 1364.2 445.3 1353.2 443.3 1335 487.4 1367.5 433.5 1368 458.1 1286.7 439.3 1357.7 465.9 1340.9 462 1306.5 472.6 1396.5 429.5 1342.1 502.9 1328.4 436.4 1377.1 392 1272.1 402.3 1325.5 453.7 1294 421.8 1337.7 480.6 1325 475.3 1329.4 453.3 1367.7 417 1358.4 464.9 1393.8 449.4 1384.9 469.2 1334.9 463.4 1343.5 484.4 1306.9 477.6 1337.6 461.5 1362.3 401.7 1320.6 429.2 1395.7 425.7 1365.9 476.7 1359.7 404.2 1315.3 450.4 1342.2 425.9 1360.8 444.4 1356.4 482.1 1329.4 449.2 1300.7 433.3 1355.3 506.3 1345.8 456.6 1325 434.4 1341.2 446.1 1335.3 472.3 1343.3 426.8 1401.4 408.7 1373.1 456.6 1342.6 435 1324.4 410.2 1369.4 490.4 1304.8 422 1341.3 446.1 1369.2 427.6 1292.6 445.8 1328.3 443.8 1309.6 445.3 1380.3 444.3 1374.6 410.2 1374.4 430.6 1350.8 405.8 1369.4 437.7 1369.6 449.8 1314.7 471.8 1382.9 447.8 1333.4 460 1353.4 424.1 1306.7 463.8 1321.8 421.7 1347.6 445.5 1315.6 428.4 1345.5 369.8 1324 411.3 1365.4 437.1 1359.2 457.4 1314.7 470.5 1340.4 447.6 1292.9 436.7 1359 431.8 1376.1 420.7 1319.1 415.4 1307.7 379.9 1309.8 484.5 1358.1 432.9 1385.6 429.3 1321.1 423.4 1372.3 455.9 1334.7 436.6 1328.8 456.1 1363.8 460.9 1363.2 455.4 1324.8 417.6 1317.8 426.9 1405 453.2 1375.7 431.2 1371.4 445.8 1377.3 408.6 1388.5 454 1322.4 455.1 1316.3 465.8 1376.7 433.7 1331.5 447.6 1341.4 473.7 1323.2 432.7 1335.5 473.8 1384.8 479.9 1301.1 497.1 1261 448.4 1346.1 446.9 1415.2 475 1380.1 427.4 1413.6 420.4 1366.2 483.8 1367.9 455.3 1368.1 421.7 1368.5 446.3 1376.4 440.7 1375.2 420.9 1375.5 475.6 1314 426.5 1307.7 440.8 1283.9 440.8 1323.2 452.3 1341.9 498.7 1364.3 451.4 1359.9 470.3 1355.2 432.3 1377.4 462.9 1281.3 426 1354.3 484.1 1377.6 449.7 1353.8 464.6 1345 470.9 1317.7 462.1 1313.8 431.6 1346.1 474.7 1273.2 472.9 1318.4 446.4 1397.6 429.7 1273.9 485.5 1340.9 440.4 1363.7 418.7 1314.4 408.9 1344 426.2 1341.1 456.8 1320.6 433.9 1353.2 402.2 1394.4 489.4 1342.3 462.7 1362.8 408.5 1325.9 448.5 1328.6 484.3 1354.4 452.1 1304.8 409.8 1326.9 475.9 1304.4 439 1357 427.5 1318.7 431.7 1309.4 380.6 1296.5 471.4 1297.3 467.1 1281 435.2 1303.6 417.9 1360.6 425.9 1345.1 376 1295.7 473.5 1362.4 430.5 1340.2 447.7 1343.7 442.6 1345.8 450.6 1388.2 433.2 1274.4 457.3 1396.6 492.3 1349.8 405.1 1357.4 453.5 1316.9 456.3 1346.5 420.5 1339.3 500.6 1345.4 436.1 1384.7 247.6 1397.8 216.7 1387.4 226.7 1359.7 263.2 1406 184 1411.3 240.4 1379.8 192.3 1408.9 250.2 1397.6 225 1409.1 178.7 1360.3 173.5 1402.5 231.9 1385.7 226.8 1391.7 240.6 1380.9 241 1403.1 207.1 1390.3 182.2 1384.5 175.5 1411.1 217.3 1371.1 202.4 1413.6 279.2 1412.3 297.8 1370.9 223 1369.9 220 1380.9 165.5 1407.9 218.1 1408 233 1373.8 181.3 1409.1 259.8 1384.8 304.5 1402.1 285.7 1401.7 271.7 1383.1 210 1365.1 221.6 1371 225.8 1383.8 167.3 1385.3 187.3 1372.6 280.1 1375.3 262.6 1414.4 251 1384.1 176.7 1369.9 185.7 1394.3 249.1 1370.4 249.4 1375.7 318.4 1413.2 299.4 1397.8 172.4 1366.1 217.5 1365.7 239.8 1402.8 173.8 1410.3 216 1397 238.5 1377.8 208 1374.5 233.1 1378.1 268.5 1408.8 181.6 1390 206.5 1414.1 232.7 1395.6 310 1393.9 221.4 1391.8 229.5 1373.4 274 1375.1 266.4 1393.4 180.7 1355.5 248.3 1376.6 227.1 1383 249.2 1380.2 227.2 1384.3 197.9 1376.6 263.2 1360.5 242.2 1375.1 193 1408.3 189.9 1405.9 247.7 1409 195.3 1397.1 182.7 1393.8 194.6 1405.3 335.5 1407.6 166.4 1391.2 204.4 1367.9 164.2 1400 284.4 1399.3 250.8 1358.4 192.8 1367.1 179.5 1394.4 170.2 1406.5 165.1 1392.9 188 1374.4 269.8 1369.8 227.7 1353.4 236.8 1377.2 190.9 1397.3 204.8 1397.2 202.2 1393.9 192.4 1365.4 223.3 1394.4 224.5 1381.5 229.4 1400.7 268.3 1377.4 235.1 1359.3 282.6 1384.7 178 1400 235.2 1399.7 166.7 1398.6 213.4 1365.8 182.7 1405 181.9 1360.9 232 1403.2 182.9 1386.8 217.1 1373 213.8 1411.8 237.7 1390.8 172.8 1374.1 194.8 1384.2 266.7 1416.8 258.6 1399.6 186.2 1381.1 275.5 1399.4 249 1411.3 201.4 1389.9 196.1 1362.7 181.6 1386.7 217.5 1397.7 198.9 1397.4 178.2 1408.9 199.8 1392.2 219.1 1403.9 260.9 1402.9 258.9 1384.2 263.7 1357.6 257.2 1392.3 227.1 1381.1 204.7 1416.3 254.4 1395.3 218.5 1359.1 242.5 1396.9 231.8 1387.2 199.4 1401.5 196.3 1377.5 211.1 1390.2 179.6 1364.8 254.2 1360.3 265.8 1390.9 205.2 1385.4 191.2 1375.5 193.2 1378.2 238.7 1361.3 173.3 1378.6 280.5 1398.8 219.3 1411.1 179.1 1373.7 238.8 1385.3 219.5 1407.2 203.6 1387.2 220 1417.1 219.9 1414.6 203 1380.3 185.9 1396.2 198.1 1378.7 218.7 1387.4 258.5 1379.2 276.4 1407.6 261 1403.7 283.7 1394.7 185.9 1364 251.2 1408 229.5 1390.3 238.1 1398 168.3 1413.7 208.1 1388.4 187.2 1389 191.8 1376.2 183.2 1398.6 282.7 1394.3 212.5 1379.8 215.7 1371.7 211.2 1384.2 200.1 1378.7 170.8 1400.7 248.4 1408.5 242.7 1389.7 249.1 1365.3 183.8 1380.4 250.3 1393.4 190.4 1379.5 179.6 1404.4 208.5 1410.5 208.3 1390.6 240.7 1373.5 199 1389.3 235.9 1391.8 208.6 1363.1 196.9 1388.6 227.8 1361.8 227.5 1406.8 234.5 1396.1 220.5 1386.1 214.6 1379.7 236 1401.2 284.3 1377 231.1 1406.4 246.9 1381.6 229.6 1396.1 248.2 1377.4 289.7 1401.2 240.8 1401.8 178 1366.8 170.2 1390.6 227.3 1381.8 251.4 1409.5 188.8 1387.6 185 1413.5 246.6 1400.8 246.9 1407.6 215.5 1408.5 221.1 1417.9 240.5 1387.3 188.8 1380.9 256.6 1381.8 211.7 1362.1 174 1380.1 281.7 1393.1 180.5 1388.9 318.8 1389.3 257.1 1377.6 197.5 1381.8 189.6 1402.8 171.2 1382.8 199.3 1400.7 209.9 1371.9 181.3 1392.7 170.9 1404.1 301.5 1414.7 183.6 1402.4 321.2 1403.6 224 1392.6 228.6 1394.6 214.5 1387 181.7 1377.7 214.8 1398 266.9 1382.9 217 1397.5 165.5 1414.5 233 1373.6 191 1389.3 178.8 1374.7 172.6 1367.7 262.5 1393.7 210.5 1397.1 255.1 1396 270.4 1405.4 227.4 1387.3 308 1401.3 212.8 1396 233.2 1404.9 220.6 1363.2 232.1 1369.9 241.2 1408.4 229 1394.4 188.2 1377.4 251.4 1383.2 244 1401.9 214.1 1365.2 233.9 1391.4 293.2 1397.7 213.6 1386 195.1 1391.7 227.4 1385.1 203.3 1377.9 174.2 1393 193.2 1396.6 197 1373.9 190.2 1394.2 269.5 1393 164.5 1393.1 232.1 1401.3 234.6 1382 230.5 1410.5 225.2 1381.9 263.8 1406.8 200.8 1417.5 255 1395.4 229.4 1350.8 229.9 1386.6 169.7 1380.1 252.9 1394.8 203.3 1414.1 211.2 1386.8 203.2 1408.2 212.6 1376.9 249.3 1387.8 261.1 1380.3 240.6 1380.9 211.5 1409.4 213.8 1392.3 249.9 1381.1 200.5 1386.1 189.5 1397.6 221 1366.8 251.6 1386.9 223.2 1375.8 242.9 1366.3 252.2 1415.7 210.2 1372.8 270.4 1386.2 172.7 1383.6 207.1 1393 221.1 1396.5 177.4 1375.1 202 1376.8 217.3 1372.2 191.9 1408.9 224.3 1410 261.6 1405.2 211.5 1392 285.7 1359.1 274.3 1378.8 164 1385.8 182.7 1381.2 243.8 1417.4 218.7 1385.4 218.1 1342.6 227.7 1404.9 257.1 1393.5 195.9 1358 184.8 1380.7 197 1402.8 177.2 1403.1 231 1404.1 216.6 1385.3 282.8 1413.5 235.7 1393.1 204.1 1394.3 251 1385.7 265.7 1383.9 235 1404.9 206 1404.3 236.3 1380.4 181.1 1393.7 175.9 1396.6 266.2 1395.2 269.7 1386.8 183.2 1386.6 201.5 1394 207 1385.2 285.1 1392.6 193.3 1400.4 284.4 1365.2 200.5 1386.6 209 1410.2 225.8 1402.9 249.6 1384 206.6 1384.2 192.5 1388.2 219.9 1398.7 257.4 1396.1 200.8 1389.2 212.2 1392 225.6 1407.6 185.5 1404.7 254.5 1377.3 255.8 1395.6 217.9 1394.4 236 1374.1 217.3 1372.4 186.4 1400.1 235.7 1377.9 183.4 1381.7 206.4 1414.6 294.6 1386.5 182.4 1381.6 213.7 1390.6 165.3 1394.5 186.7 1368.7 245.9 1378.7 211.9 1391.6 229.3 1380.9 207.2 1383.1 273.9 1363.6 222.9 1361.9 228.4 1398.7 165.9 1375.2 209.3 1394.4 223.1 1388.5 204.6 1394.4 205.9 1403.2 197.7 1384.9 292.2 1388.5 286.4 1404.9 265.7 1374.4 198.6 1384.9 208.5 1392.5 207.2 1406.6 290.5 1400.5 172.3 1403.2 197.8 1394.9 219 1393.8 166.7 1363.4 235.2 1379.5 231.8 1381.9 196.3 1410.2 221.6 1395.8 182.6 1387.9 173.2 1400.5 179 1377.3 171.7 1401.4 192.4 1368.3 254.6 1404.4 218.3 1397.6 218.6 1376.1 245.5 1396.7 214.6 1400.3 217.6 1378.2 244.1 1378.1 180.1 1391.1 263.1 1392.4 227.4 1377 168.6 1372.3 224.8 1383.6 183.1 1396.9 253.1 1405.1 267.2 1391.2 270.7 1380.3 262.3 1404.1 242.5 1371.4 279 1382 217.3 1381.6 278.7 1390.5 244.2 1393.2 253 1389.2 284 1352.3 255.1 1370.7 231.8 1408.1 258.2 1391.6 267.2 1363.3 299.7 1390.5 250.7 1381 295.8 1366.8 298 1385.3 310.4 1416.4 253.5 1402.6 289.6 1369.7 309.8 1368.4 286.7 1384.7 224.3 1388 286.7 1394.8 258.1 1380.4 299 1400.5 297 1408.3 260.2 1380.7 278.1 1395.7 296.2 1405.7 290.4 1390.4 258.1 1389.8 257.3 1370.8 269.7 1395.5 317.8 1370.2 347.1 1389.7 306.3 1406.7 301.5 1379.1 297.5 1384.7 270.9 1412.5 277.8 1385.9 271.8 1401.4 273.6 1387.2 284.9 1391 285.1 1392.3 284.6 1369.4 307.6 1381.7 278.5 1370.3 270.3 1378.4 283.3 1375.6 280.5 1352.4 306.9 1412.3 260.3 1365.7 309.7 1385.2 218.1 1411 246.7 1403.3 331.3 1393.4 274.6 1375.1 245.7 1391.8 271.7 1368.6 295.3 1387.7 267 1398.7 243.7 1390.4 265.5 1381.2 265.4 1403.2 314.8 1366.1 297.9 1395.9 281.8 1408.8 327 1356.8 285.8 1398.4 278.1 1365.7 277.3 1361.7 283.2 1401.5 324.5 1378 292.3 1391.9 279.4 1409.9 266.3 1396.5 318.3 1399.1 246.8 1384.6 300.5 1388.7 269.5 1379.9 263.3 1405.9 269.2 1400.2 297.3 1410.1 329.6 1381.4 253.7 1389.1 323.4 1399.6 288 1388.9 337.8 1376.7 281.7 1408.2 281.4 1390.1 288.6 1379.9 270.9 1416.3 289.8 1357.2 288.4 1373.2 304.6 1395.5 284.3 1368.3 275.6 1397.5 298.1 1354.2 271.2 1381.2 295.7 1372.6 280.3 1357.5 255.2 1391 291.9 1390.9 276.7 1362.5 267.4 1383.9 274.7 1380.2 299.9 1378.9 278.6 1393.1 301.5 1406.7 249.7 1406.9 292.2 1398.6 300.4 1375 338 1343.6 266 1381.8 301.3 1398.1 254.8 1400.7 291.7 1353.1 267.3 1397.8 307.6 1374.9 291.4 1387.7 255.6 1398.7 277.1 1388 248 1366 290.1 1381.5 318.4 1404.3 298.8 1392.1 295.9 1387.5 289.3 1417.4 268.3 1369.7 278.3 1403.8 294 1394.6 324 1372.2 305.1 1387.4 276.5 1402.3 263.3 1391.7 264.2 1370.8 313.5 1382.8 322.9 1372.4 273.7 1383.3 294.5 1358.2 270.2 1359.8 252.4 1390.1 285.3 1415.6 327.3 1395.6 282.1 1411.7 286.3 1405.1 273.3 1350.1 293.1 1371.5 293.5 1395.2 297.1 1395.4 295.3 1383.1 308.8 1391.8 256.6 1387.4 318.2 1398.4 304.8 1398.5 249 1360.8 277.8 1414.2 320.6 1407.8 308.8 1395.9 272.3 1397 284.2 1401.6 304.6 1378.5 257.1 1396.1 261.5 1393.6 300.7 1373.4 290.7 1395.4 248.9 1362.6 274.6 1406.9 293.6 1394.9 264.8 1389.1 301.4 1406.9 281.4 1381.8 311.3 1392.2 260.3 1392.3 276.9 1379.8 257.8 1391.6 281.4 1394.4 254.5 1379.9 265.3 1413.9 265 1363.6 250 1403.9 296.3 1349.6 262.7 1385.2 253.7 1397.5 265.5 1397.6 348.5 1401.5 290.3 1414.4 326.5 1388.2 281 1383.5 308 1400.3 303.8 1393.1 278.9 1387.6 289.1 1358.1 272.5 1369.6 323.6 1404.4 299.4 1374 255.9 1406.3 313.1 1383 307.2 1406.3 291.3 1377.6 275.7 1371 233 1351.8 292.8 1402.2 270.8 1388 330.6 1395.5 313.1 1417.8 258.4 1407.8 249.7 1401.3 261.4 1408.3 258.9 1378.3 309.8 1383.1 278.6 1410.9 304.7 1383.3 302.2 1405.4 283.7 1399.9 297.8 1398 304.7 1383.1 284.4 1409.7 282.3 1385.6 254.3 1372.5 268.2 1402.9 269.6 1402.9 272.3 1383.5 318.4 1404.6 281 1415.1 261.2 1395.2 256.6 1409.1 301.2 1385.6 277.7 1414.2 289.5 1377.3 248.1 1414.5 324.7 1411.1 305 1394.5 281.8 1376.3 303.7 1389.3 302 1392.3 289.4 1407.9 320.9 1386.7 290.4 1415.6 344.5 1366.8 285.4 1360.7 295.5 1387.9 293 1409.7 257.7 1380.8 293.6 1382.3 274.4 1368.1 238.6 1389.5 351.1 1409.6 282.4 1362.7 296.4 1381.1 276.5 1367.3 257.4 1406.1 273.2 1387.5 298 1413 285.2 1384.6 297.1 1359 274.6 1392.7 276.8 1378.3 298.3 1392.4 274 1380.4 281.8 1379 317.1 1402.8 259.6 1383.7 257.3 1400.7 299.5 1388.5 287.8 1398.9 290.6 1415.4 285.5 1409.1 334 1369.4 266.5 1367 273.5 1389.9 296.2 1361.1 285.2 1384.8 313.7 1372.8 294.8 1416.7 299.2 1397.8 255.3 1373.1 289.7 1398.7 279 1400.5 261.8 1416.7 277.3 1369 273.3 1350.8 428.3 1358.4 349 1308.3 386.2 1309.3 389.4 1306.3 392.8 1352.1 392.8 1335.6 442.3 1344.9 413.5 1283.9 306.3 1360.7 331.5 1320.2 459.7 1301.5 237.8 1301.5 441.9 1348.3 428.6 1381.3 472.1 1275.3 254.2 1318.9 252.8 1346.9 239.3 1323.5 308.8 1337.5 525.9 1324.7 203.6 1305 323.8 1323.6 487.5 1311.1 330.6 1286.1 266.3 1289.2 368.2 1337.7 393.8 1308.1 405.3 1304.3 453.5 1289.1 262.6 1324.8 334.6 1356.5 337.3 1331 404.8 1353.6 473.9 1289.1 240.1 1302.9 424.1 1343.8 338.3 1371 373.5 1357.8 377.3 1287.4 345.4 1345.8 458.6 1326.9 534.9 1331.1 434 1339.1 367.9 1295.6 396.9 1322.4 358.8 1333.4 369.7 1352.7 453.3 1314.1 496.4 1325.3 282.9 1294 359.9 1340.9 350.8 1355.3 546.9 1303.2 402.9 1304.9 484.4 1281.5 453.5 1316.2 401.4 1333.2 348.6 1304.8 522.9 1341.1 420.4 1364.3 343.9 1349.5 380.2 1285.8 342.4 1330.2 329.5 1301.5 440 1329.5 356.5 1285.9 433.7 1354.7 400.2 1342.2 379.6 1356 466.3 1334 461.3 1324.5 499.9 1354.7 383.6 1357.9 413.4 1322.3 409.5 1314.3 435.4 1324.7 398.1 1377.5 220.8 1316.8 486.5 1306.8 302.3 1360 513 1316.8 412.2 1317.1 328.3 1341 439.3 1327.6 318.8 1330.6 350.9 1312.4 407 1327.2 294 1345.3 360.5 1317.5 310.5 1306.9 284.8 1321.7 332 1313.9 468.6 1306.9 449.7 1302.9 384.4 1283.1 393.1 1338.9 165.9 1301.1 411.6 1328.2 339 1318.4 421.9 1331.5 268.7 1341.6 330.3 1326 392.9 1315.6 468.1 1340.5 415.9 1366.8 353.6 1320.6 450 1322 321.4 1335.8 431.4 1291 427.3 1308.1 384 1327.9 483.3 1331.4 461.8 1317.7 407.5 1308.8 477.9 1324.9 346.5 1349.4 441.4 1336.3 411 1332.6 409.3 1324 360.9 1333.9 359.2 1360.7 391 1323 264.2 1315 378.3 1279.9 341.1 1304.8 377.5 1343.4 261.5 1334.8 460.7 1350.2 378.8 1285 427.3 1326.7 430 1341.6 372.5 1289 514 1336.3 562.4 1317.1 510 1330.1 569.2 1312.1 574.3 1327.7 506.8 1319.3 504.4 1331 514.5 1303.3 532.4 1308.4 521.4 1348.6 553.6 1325.4 527.3 1323.3 422.3 1310.6 513.4 1344.3 564.7 1313.2 497 1290.4 537.8 1339.5 503.7 1351.4 557 1320.2 513.1 1313.4 527.3 1268.9 466.8 1318.2 533.1 1350.2 448.3 1359.6 463.3 1335.3 530.6 1289.2 532.9 1317.7 516.3 1328.2 483.1 1295.3 466.3 1337.9 539.2 1298.6 487.6 1323.5 493.9 1332.7 545.2 1292.1 526.3 1309.9 550.7 1276.3 559.4 1318.2 525.9 1310.6 457.6 1329.6 555.4 1344.9 521 1289.9 474.7 1343.4 519.6 1330.1 509 1304 536.7 1291.3 552.6 1332.2 547.5 1337.8 564.9 1321.6 546.7 1336.1 537.4 1324.2 481.5 1350 578.4 1334.4 558.7 1316.6 479 1373.1 525.1 1301.4 539.8 1300.8 550.3 1342.5 518 1338.1 482.6 1345 522.2 1302.5 531.5 1318.6 532.5 1345.3 537.7 1322.2 519.7 1323.4 554.8 1285.9 543.2 1332.6 466.4 1311.2 524.7 1359.7 531.4 1310 536.6 1337.2 538.7 1388.7 533.8 1291.8 560.6 1304.2 585.7 1340 520.3 1326.1 532.6 1355.6 551 1330.5 492.9 1330.3 552.5 1330.5 517.4 1297.6 588.8 1327 527.8 1326.3 511.3 1308.2 602.1 1301.5 511.2 1290.8 517 1334.2 513 1365.6 556.7 1311.3 496.1 1372.5 514.3 1321.3 566.9 1351.6 527.1 1332.1 528 1328.1 511 1348.7 532.3 1334.6 517.1 1299.6 559.2 1333.4 506.4 1329.7 469.4 1323.7 558.4 1336.6 515.4 1322 514.5 1320.5 521.3 1290.5 496.1 1325.5 527.9 1345.5 538 1329.1 487.3 1343.6 475.5 1312.4 529.8 1304 558.5 1353.9 492.5 1300.4 534.3 1324.8 592.9 1344.1 598.9 1291.5 489.8 1304.2 484.3 1295.1 579.8 1335.8 556.1 1342.3 526.3 1310.8 555.9 1367.5 472.6 1358.4 544.9 1305.4 487.1 1325.6 515.8 1339.9 522.4 1295 528.8 1313.2 560.6 1353.3 538.8 1352 526.1 1321.6 593.1 1282 557.8 1376 568.5 1309.7 560.9 1329.4 543.3 1314.3 515.4 1356.2 503.3 1297.9 496.6 1293.5 542.5 1364.5 584.1 1275.8 504.9 1342.8 544 1324.2 564.4 1349.3 517.4 1280 520.1 1344.5 545.3 1348.5 544.7 1274.6 488.1 1366.3 557.3 1353.2 562.7 1322.1 560.1 1307.9 548.1 1326.5 484.3 1282 489.5 1338.5 532.8 1322.5 523.4 1328.5 581.4 1317.7 495.6 1321.5 496.1 1346.5 536.2 1332.9 555.4 1296.6 500.6 1318.4 491.8 1328.7 490.2 1297.8 493.8 1352.4 559.1 1354.3 544.9 1338.2 516.9 1320.3 529.2 1350.6 464.2 1352.3 558.5 1326.1 583.7 1344.4 534.5 1331 553.4 1304.7 575 1277.9 505.2 1327.5 505.5 1282.5 559.5 1261.3 553.2 1321.5 536.1 1340 483.4 1309 446.2 1272.8 533.1 1378 535.1 1309.7 553.1 1339 562.8 1361.5 551.1 1331.1 475.3 1314.3 513.5 1314.8 541.3 1329.8 505.4 1345.3 531.1 1308.5 538.9 1316.9 545.8 1361.3 477.6 1331 517.9 1336.2 569.1 1376.6 527.4 1308.4 589.9 1350.1 539 1356.6 494.8 1347.9 544.5 1331 267.6 1388.3 261.9 1368.2 254.3 1335.1 253.4 1371.7 240.5 1354 255.5 1386.1 174.8 1368.8 181.1 1330.5 223.3 1368.5 233.8 1362.2 244.9 1377.8 177.1 1340.1 227.5 1381.5 281.6 1351.4 199.9 1391.1 271.8 1368.6 224.8 1366.4 196.7 1414.7 209.1 1348.1 223.3 1382.3 219.5 1335.7 271.3 1360.5 269.1 1353.3 242.9 1389.2 261.1 1385.9 221.2 1374.4 237.7 1354.7 278.5 1370.6 165.6 1343.9 276.3 1371.6 203.4 1378.7 211.3 1360.5 252.3 1378.9 317.9 1392.5 244.8 1354.2 250.8 1367.7 312.7 1382.1 205.8 1349.2 276.4 1389.7 236 1345 211.6 1366.2 202.9 1341.9 179.1 1384.5 172.9 1374.9 174.6 1332.7 180.2 1375.8 295.9 1352.1 262.9 1389.1 175.2 1378.9 184.2 1389.3 216.7 1352 180.5 1381.8 190.3 1346.1 216.5 1360 188.9 1393 279.4 1383.3 227.2 1383.7 222 1404.1 223.8 1392.2 199.9 1342 238.4 1373.1 329.4 1429.4 415.2 1429.4 436.9 1429.4 311.5 1429.4 394.6 1429.4 322.7 1429.4 209.3 1429.4 356.6 1429.4 464 1429.4 392 1429.4 405.8 1429.4 464.5 1429.4 310.5 1429.4 473.1 1429.4 412.6 1429.4 423.4 1429.4 352.5 1429.4 408.5 1429.4 241.3 888.3 451.1 909.4 354.4 1036.1 441.2 1076.2 417.2 1096.3 430 1169.3 245.4 1192.3 280.2 1192.3 303 1192.3 354.4 1184.3 362.2 1197.2 349.3 1204.5 378.2 1209.3 425.1 1190.4 430 1188.4 291.3 1206.4 324.1 1217.1 335.2 1216.2 371 1229.3 378.6 1229.3 382.7 1229.3 405.2 1238.2 293.3 1250.4 294.2 1264.2 220.4 1267.1 215.1 1274.4 245.4 1265 244 1278.3 247.3 1278.3 250.3 1278.3 312.8 1265 312.8 1265 331.3 1265 324.1 1272.4 324.1 1272.4 347.5 1266.6 346 1272.4 351.8 1269.9 370.4 1272.2 315.1 1281 320.6 1281 421.2 1276.1 388.4 1285.1 361.2 1285.1 367.1 1282.2 378.6 1282.2 378.6 1285.5 373.3 1290 242.5 1299.2 264.9 1299.2 264.9 1310.3 285.4 1301.1 295.2 1301.1 305.4 1301.1 297.2 1304 337.2 1294.3 317.7 1299.2 325.9 1299.2 332.3 1299.2 350.3 1300.2 350.3 1300.2 359.7 1295.3 361.6 1300.2 200.5 1318.1 223 1317.1 230.4 1314.2 169.2 1339.2 190.7 1329.1 210.2 1328.5 194 1336.9 194 1336.9 178 1352.9 186.2 1358.2 186.2 1358.2 196.6 1359.1 206.7 1359.1 164.3 1380.8 165.3 1393.9 203.4 1428.1 219 1428.1 219 1428.1 284.5 1428.1 316.7 1430.4 329.8 1430.4 336.2 1430.4 340.1 1430.4 340.1 1430.4 361.2 1429.1 376.3 1429.1 376.3 1429.1 376.3 1429.1 452.2 1209.3 461 1209.3 466.6 1209.3 454.5 1231.2 449.2 1250.4 460.4 1250.4 460.4 1250.4 602.4 1295.3 561 1303.1 561 1303.1 626.4 1317.1 589.3 1317.1 594.2 1317.1 591.2 1326.1 646.3 1322.2 680.5 1322.2 608.4 1331 603.3 1335.3 580.1 1339.2 634.2 1334.9 657.2 1347 611.7 1378.7 611.1 1383.2 622.1 1383.2 707.4 1383.2 547.3 1376.3 557.4 1373.4 558 1390 569.2 1393.9 576.2 1390 513.1 1417 516 1404.1 520.9 1404.1 540.4 1362.7 540.4 1362.7 558 1343.1 558 1343.1 558 1343.1 504.3 1279.1 512.1 1288.4 532.6 1288.4 539.5 1288.4 546.3 1303.1 546.9 1312.3 557 1311.5 568.8 1319.3 562.9 1326.5 551.2 1318.7 555.1 1331.4 562.9 1331.4 542.4 1324.6 535.6 1323.6 527.8 1358.8 546.3 1349 537.5 1349 524.8 1387.1 524.8 1392"/></g></g>
<g id="matplotlib.axis_7">
<g id="xtick_21">
<g id="line2d_41">
<g>
<use href="#m8da89e27fe" x="70.050286" y="699.36" style="stroke: #000000; stroke-width: 0.8"/>
</g>
</g>
<g id="text_50">
<!-- −20 -->
<g transform="translate(59.497942 713.958437) scale(0.1 -0.1)">
<use href="#DejaVuSans-2212"/>
<use href="#DejaVuSans-32" transform="translate(83.789062 0)"/>
<use href="#DejaVuSans-30" transform="translate(147.412109 0)"/>
</g>
</g>
</g>
<g id="xtick_22">
<g id="line2d_42">
<g>
<use href="#m8da89e27fe" x="122.692571" y="699.36" style="stroke: #000000; stroke-width: 0.8"/>
</g>
</g>
<g id="text_51">
<!-- −10 -->
<g transform="translate(112.140228 713.958437) scale(0.1 -0.1)">
<use href="#DejaVuSans-2212"/>
<use href="#DejaVuSans-31" transform="translate(83.789062 0)"/>
<use href="#DejaVuSans-30" transform="translate(147.412109 0)"/>
</g>
</g>
</g>
<g id="xtick_23">
<g id="line2d_43">
<g>
<use href="#m8da89e27fe" x="175.334857" y="699.36" style="stroke: #000000; stroke-width: 0.8"/>
</g>
</g>
<g id="text_52">
<!-- 0 -->
<g transform="translate(172.153607 713.958437) scale(0.1 -0.1)">
<use href="#DejaVuSans-30"/>
</g>
</g>
</g>
<g id="xtick_24">
<g id="line2d_44">
<g>
<use href="#m8da89e27fe" x="227.977143" y="699.36" style="stroke: #000000; stroke-width: 0.8"/>
</g>
</g>
<g id="text_53">
<!-- 10 -->
<g transform="translate(221.614643 713.958437) scale(0.1 -0.1)">
<use href="#DejaVuSans-31"/>
<use href="#DejaVuSans-30" transform="translate(63.623047 0)"/>
</g>
</g>
</g>
<g id="xtick_25">
<g id="line2d_45">
<g>
<use href="#m8da89e27fe" x="280.619429" y="699.36" style="stroke: #000000; stroke-width: 0.8"/>
</g>
</g>
<g id="text_54">
<!-- 20 -->
<g transform="translate(274.256929 713.958437) scale(0.1 -0.1)">
<use href="#DejaVuSans-32"/>
<use href="#DejaVuSans-30" transform="translate(63.623047 0)"/>
</g>
</g>
</g>
<g id="xtick_26">
<g id="line2d_46">
<g>
<use href="#m8da89e27fe" x="333.261714" y="699.36" style="stroke: #000000; stroke-width: 0.8"/>
</g>
</g>
<g id="text_55">
<!-- 30 -->
<g transform="translate(326.899214 713.958437) scale(0.1 -0.1)">
<use href="#DejaVuSans-33"/>
<use href="#DejaVuSans-30" transform="translate(63.623047 0)"/>
</g>
</g>
</g>
<g id="text_56">
<!-- temp -->
<g transform="translate(195.95875 727.636562) scale(0.1 -0.1)">
<use href="#DejaVuSans-74"/>
<use href="#DejaVuSans-65" transform="translate(39.208984 0)"/>
<use href="#DejaVuSans-6d" transform="translate(100.732422 0)"/>
<use href="#DejaVuSans-70" transform="translate(198.144531 0)"/>
</g>
</g>
</g>
<g id="matplotlib.axis_8">
<g id="ytick_20">
<g id="line2d_47">
<g>
<use href="#mcd1c41be28" x="65.76" y="686.262857" style="stroke: #000000; stroke-width: 0.8"/>
</g>
</g>
<g id="text_57">
<!-- 0 -->
<g transform="translate(52.3975 690.062076) scale(0.1 -0.1)">
<use href="#DejaVuSans-30"/>
</g>
</g>
</g>
<g id="ytick_21">
<g id="line2d_48">
<g>
<use href="#mcd1c41be28" x="65.76" y="637.170514" style="stroke: #000000; stroke-width: 0.8"/>
</g>
</g>
<g id="text_58">
<!-- 100000 -->
<g transform="translate(20.585 640.969733) scale(0.1 -0.1)">
<use href="#DejaVuSans-31"/>
<use href="#DejaVuSans-30" transform="translate(63.623047 0)"/>
<use href="#DejaVuSans-30" transform="translate(127.246094 0)"/>
<use href="#DejaVuSans-30" transform="translate(190.869141 0)"/>
<use href="#DejaVuSans-30" transform="translate(254.492188 0)"/>
<use href="#DejaVuSans-30" transform="translate(318.115234 0)"/>
</g>
</g>
</g>
<g id="ytick_22">
<g id="line2d_49">
<g>
<use href="#mcd1c41be28" x="65.76" y="588.078171" style="stroke: #000000; stroke-width: 0.8"/>
</g>
</g>
<g id="text_59">
<!-- 200000 -->
<g transform="translate(20.585 591.87739) scale(0.1 -0.1)">
<use href="#DejaVuSans-32"/>
<use href="#DejaVuSans-30" transform="translate(63.623047 0)"/>
<use href="#DejaVuSans-30" transform="translate(127.246094 0)"/>
<use href="#DejaVuSans-30" transform="translate(190.869141 0)"/>
<use href="#DejaVuSans-30" transform="translate(254.492188 0)"/>
<use href="#DejaVuSans-30" transform="translate(318.115234 0)"/>
</g>
</g>
</g>
<g id="ytick_23">
<g id="line2d_50">
<g>
<use href="#mcd1c41be28" x="65.76" y="538.985829" style="stroke: #000000; stroke-width: 0.8"/>
</g>
</g>
<g id="text_60">
<!-- 300000 -->
<g transform="translate(20.585 542.785047) scale(0.1 -0.1)">
<use href="#DejaVuSans-33"/>
<use href="#DejaVuSans-30" transform="translate(63.623047 0)"/>
<use href="#DejaVuSans-30" transform="translate(127.246094 0)"/>
<use href="#DejaVuSans-30" transform="translate(190.869141 0)"/>
<use href="#DejaVuSans-30" transform="translate(254.492188 0)"/>
<use href="#DejaVuSans-30" transform="translate(318.115234 0)"/>
</g>
</g>
</g>
<g id="ytick_24">
<g id="line2d_51">
<g>
<use href="#mcd1c41be28" x="65.76" y="489.893486" style="stroke: #000000; stroke-width: 0.8"/>
</g>
</g>
<g id="text_61">
<!-- 400000 -->
<g transform="translate(20.585 493.692704) scale(0.1 -0.1)">
<use href="#DejaVuSans-34"/>
<use href="#DejaVuSans-30" transform="translate(63.623047 0)"/>
<use href="#DejaVuSans-30" transform="translate(127.246094 0)"/>
<use href="#DejaVuSans-30" transform="translate(190.869141 0)"/>
<use href="#DejaVuSans-30" transform="translate(254.492188 0)"/>
<use href="#DejaVuSans-30" transform="translate(318.115234 0)"/>
</g>
</g>
</g>
<g id="ytick_25">
<g id="line2d_52">
<g>
<use href="#mcd1c41be28" x="65.76" y="440.801143" style="stroke: #000000; stroke-width: 0.8"/>
</g>
</g>
<g id="text_62">
<!-- 500000 -->
<g transform="translate(20.585 444.600362) scale(0.1 -0.1)">
<use href="#DejaVuSans-35"/>
<use href="#DejaVuSans-30" transform="translate(63.623047 0)"/>
<use href="#DejaVuSans-30" transform="translate(127.246094 0)"/>
<use href="#DejaVuSans-30" transform="translate(190.869141 0)"/>
<use href="#DejaVuSans-30" transform="translate(254.492188 0)"/>
<use href="#DejaVuSans-30" transform="translate(318.115234 0)"/>
</g>
</g>
</g>
<g id="text_63">
<!-- Prophage score -->
<g transform="translate(14.505312 594.929375) rotate(-90) scale(0.1 -0.1)">
<use href="#DejaVuSans-50"/>
<use href="#DejaVuSans-72" transform="translate(58.552734 0)"/>
<use href="#DejaVuSans-6f" transform="translate(97.416016 0)"/>
<use href="#DejaVuSans-70" transform="translate(158.597656 0)"/>
<use href="#DejaVuSans-68" transform="translate(222.074219 0)"/>
<use href="#DejaVuSans-61" transform="translate(285.453125 0)"/>
<use href="#DejaVuSans-67" transform="translate(346.732422 0)"/>
<use href="#DejaVuSans-65" transform="translate(410.208984 0)"/>
<use href="#DejaVuSans-20" transform="translate(471.732422 0)"/>
<use href="#DejaVuSans-73" transform="translate(503.519531 0)"/>
<use href="#DejaVuSans-63" transform="translate(555.619141 0)"/>
<use href="#DejaVuSans-6f" transform="translate(610.599609 0)"/>
<use href="#DejaVuSans-72" transform="translate(671.78125 0)"/>
<use href="#DejaVuSans-65" transform="translate(710.644531 0)"/>
</g>
</g>
</g>
<g id="patch_118">
<path d="M 65.76 699.36 L 65.76 413.28 " style="fill: none; stroke: #000000; stroke-width: 0.8; stroke-linejoin: miter; stroke-linecap: square"/>
</g>
<g id="patch_119">
<path d="M 352.32 699.36 L 352.32 413.28 " style="fill: none; stroke: #000000; stroke-width: 0.8; stroke-linejoin: miter; stroke-linecap: square"/>
</g>
<g id="patch_120">
<path d="M 65.76 699.36 L 352.32 699.36 " style="fill: none; stroke: #000000; stroke-width: 0.8; stroke-linejoin: miter; stroke-linecap: square"/>
</g>
<g id="patch_121">
<path d="M 65.76 413.28 L 352.32 413.28 " style="fill: none; stroke: #000000; stroke-width: 0.8; stroke-linejoin: miter; stroke-linecap: square"/>
</g>
<g id="text_64">
<!-- rho=0.399, p=2.3e-175 -->
<g transform="translate(137.498437 407.28) scale(0.12 -0.12)">
<defs>
<path id="DejaVuSans-39" d="M 703 97 L 703 672 Q 941 559 1184 500 Q 1428 441 1663 441 Q 2288 441 2617 861 Q 2947 1281 2994 2138 Q 2813 1869 2534 1725 Q 2256 1581 1919 1581 Q 1219 1581 811 2004 Q 403 2428 403 3163 Q 403 3881 828 4315 Q 1253 4750 1959 4750 Q 2769 4750 3195 4129 Q 3622 3509 3622 2328 Q 3622 1225 3098 567 Q 2575 -91 1691 -91 Q 1453 -91 1209 -44 Q 966 3 703 97 z
M 1959 2075 Q 2384 2075 2632 2365 Q 2881 2656 2881 3163 Q 2881 3666 2632 3958 Q 2384 4250 1959 4250 Q 1534 4250 1286 3958 Q 1038 3666 1038 3163 Q 1038 2656 1286 2365 Q 1534 2075 1959 2075 z
" transform="scale(0.015625)"/>
</defs>
<use href="#DejaVuSans-72"/>
<use href="#DejaVuSans-68" transform="translate(39.363281 0)"/>
<use href="#DejaVuSans-6f" transform="translate(102.742188 0)"/>
<use href="#DejaVuSans-3d" transform="translate(163.923828 0)"/>
<use href="#DejaVuSans-30" transform="translate(247.712891 0)"/>
<use href="#DejaVuSans-2e" transform="translate(311.335938 0)"/>
<use href="#DejaVuSans-33" transform="translate(343.123047 0)"/>
<use href="#DejaVuSans-39" transform="translate(406.746094 0)"/>
<use href="#DejaVuSans-39" transform="translate(470.369141 0)"/>
<use href="#DejaVuSans-2c" transform="translate(533.992188 0)"/>
<use href="#DejaVuSans-20" transform="translate(565.779297 0)"/>
<use href="#DejaVuSans-70" transform="translate(597.566406 0)"/>
<use href="#DejaVuSans-3d" transform="translate(661.042969 0)"/>
<use href="#DejaVuSans-32" transform="translate(744.832031 0)"/>
<use href="#DejaVuSans-2e" transform="translate(808.455078 0)"/>
<use href="#DejaVuSans-33" transform="translate(840.242188 0)"/>
<use href="#DejaVuSans-65" transform="translate(903.865234 0)"/>
<use href="#DejaVuSans-2d" transform="translate(965.388672 0)"/>
<use href="#DejaVuSans-31" transform="translate(1001.472656 0)"/>
<use href="#DejaVuSans-37" transform="translate(1065.095703 0)"/>
<use href="#DejaVuSans-35" transform="translate(1128.71875 0)"/>
</g>
</g>
</g>
<g id="axes_5">
<g id="patch_122">
<path d="M 422.4 699.36 L 708.48 699.36 L 708.48 413.28 L 422.4 413.28 z
" style="fill: #ffffff"/>
</g>
<g id="scat11"><clipPath id="cl11"><rect x="880.00" y="861.00" width="596.00" height="596.00"/></clipPath><g transform="scale(0.48)"><path clip-path="url(#cl11)" class="sc" d="M912.6 1363.7 909.6 1401.3 913.1 1391.6 908.9 1413.4 910.6 1389.9 913.8 1380 911.9 1425.4 912.4 1384.2 917.1 1386.6 908.4 1392.9 912 1420.6 914.6 1385.7 916.4 1399.1 916.2 1384.5 911 1365.2 910.9 1387.7 911.3 1365.4 910.8 1404.7 912.1 1367.3 915 1422.5 912.2 1362.6 909.4 1368.5 914.6 1370.6 910.5 1401.3 915.7 1369.6 910.3 1366.4 915.5 1383.5 913.5 1421.2 909.8 1406.1 917.6 1410.7 909.2 1384.9 912.2 1378.1 916 1363.3 914.7 1398.3 909 1412.2 911.8 1419.4 909.5 1389.9 911.8 1400.8 914 1419.7 911.7 1401.2 916.1 1413.6 915.4 1414.6 913.1 1374.4 911.8 1382.9 914.2 1397.1 916.2 1408.4 909.7 1390.8 912.7 1408.9 916.1 1400.5 913.6 1385 909.7 1361.1 912.8 1360.3 917.4 1427.3 912.6 1369 911 1373.5 913 1415.4 908.1 1410.2 914.3 1406.3 915.4 1411.9 915.1 1370.3 912.4 1402.5 911.5 1386.5 909.5 1422.3 912 1396.4 911.9 1416 914.8 1423.2 915.3 1406.9 913.8 1376.8 908.7 1418.3 916.4 1404.6 918 1410.3 911.9 1367 912.2 1421 915.1 1429 909.9 1390.5 916.1 1410.9 916 1372.7 916.3 1401.4 916.7 1399 909.6 1395 914.7 1366.5 911.4 1424.7 918 1409.8 914.2 1419.9 909.7 1384 908.4 1396.8 914 1386.9 915.4 1405.2 912.7 1399.3 910.9 1426.9 913.6 1379.7 910.9 1367.6 912.1 1386.3 912.8 1400.3 911.1 1390.4 913.6 1360.6 917.9 1425.9 909.4 1362.5 915.6 1409.1 915 1370.1 912.9 1387 910.4 1400 910.9 1394.1 916.2 1382.2 913.1 1377.5 908.9 1388.7 911.2 1392.6 908.9 1390.4 914.7 1424.7 913.5 1386.7 916.1 1366.6 911.4 1402 916.9 1368.6 910.8 1414 908.1 1415.9 913.6 1367 911.7 1372.1 916 1367.8 910.8 1372.2 914.4 1388.9 913.1 1397.9 916.6 1375.4 917.1 1388.7 914.5 1361.3 915.1 1362.3 916 1429.7 917 1372.9 910.1 1378.6 917.5 1412.5 914.1 1426.6 909.8 1395.1 908.5 1388.1 913.7 1362.8 912.4 1376.4 913.8 1393.7 913.6 1371.8 916.1 1378.5 910.5 1383.5 914.7 1409 909.9 1385.3 915.8 1382.6 911.6 1400.8 912.6 1389.5 915.5 1405.7 914.2 1395.9 917 1417.7 912.8 1412.3 911.3 1381.7 915.1 1384.4 911.8 1397.8 915.9 1418.5 914.2 1397 911.1 1407.6 908.6 1418.4 910.9 1401.9 911.3 1403 911.5 1365 915.5 1403.6 910.8 1416 915.6 1381.1 910.8 1400 912.7 1368.2 916.2 1410.4 916.3 1371 911.5 1363.2 910.9 1398.8 914.7 1394.5 915.1 1381.1 910.1 1424.9 909.3 1387.9 913.8 1383.1 916.4 1364.4 914.4 1367.6 918 1410.9 917.6 1392.5 909.6 1424 913.9 1401.7 913.9 1407.1 909.8 1396.2 913.6 1416.6 912.5 1384.9 915.6 1365.7 915.5 1397.9 910.7 1365.2 910.4 1427.3 909.5 1408.9 915.9 1421.3 910.4 1424.2 916.5 1373.2 917 1379.3 916 1360.9 917.6 1389.4 910.9 1367 908.6 1425.9 911.9 1425.6 915 1372.9 908.5 1407.7 917.2 1424.4 913.7 1416.3 916.5 1381.3 910.1 1412.7 915.4 1378 911.7 1402.4 912.4 1402.7 914 1426.9 914.4 1405.8 910.5 1377.4 914.1 1369.7 908.6 1400.3 914.8 1421.2 910.5 1374.6 915.2 1395.7 910.1 1375.5 915.6 1368.4 912 1383.9 913.7 1418.8 910.8 1418.9 916.6 1381.1 913.6 1399 916.4 1393.2 909.4 1368 912.3 1391.8 917.4 1408.1 910.8 1428.4 910.1 1397.9 914.8 1424.5 912.7 1429.6 915.5 1426.5 909.2 1398.5 910.2 1374 915.2 1366.3 916.3 1380 912.8 1383 908.7 1399.1 910.4 1366.8 917 1430.3 911.2 1422.9 910.6 1412.3 912.4 1410.5 910.7 1389.8 916.3 1416 915 1371.5 914.6 1396.9 911.9 1417.1 914.7 1393 908.9 1397.6 913.5 1423.5 916.7 1365.6 908 1418.2 912.6 1371.3 916.2 1391.2 909.4 1415.5 916.8 1422.4 912.7 1375.3 908.1 1388.7 916.3 1421.9 916.3 1368.5 916.6 1388.9 916.6 1417.4 915.8 1385.3 913.3 1372.2 909.6 1365 912.2 1376.2 912.6 1372.4 915.2 1384.5 914.7 1417.2 909.7 1384.6 912.6 1424.5 913.3 1376.4 914.1 1368.8 915.6 1381.1 912.5 1383 915.9 1381.8 915 1398.4 914.6 1429.7 914.8 1371.1 912 1398.6 910.8 1407.1 916.9 1416.5 913.4 1387.1 909.1 1376.6 917.5 1399.3 910.3 1362.7 915.9 1403.3 911.1 1377.4 910.1 1423.9 909.3 1367 912 1402.6 914.2 1407.1 916.2 1379.3 910.6 1391.3 909.6 1363.8 909.8 1375.7 916.5 1387.8 908.7 1387.4 912.9 1387.8 914.2 1402.9 916 1410 913.4 1419.1 909.5 1422.7 911.7 1424.4 909.2 1427.5 917.3 1414.6 916.9 1406.4 909.4 1412 908.1 1413.1 915.1 1407.4 916.1 1378.2 911.8 1421.4 915.3 1426.3 911.7 1367.4 912 1429.6 911.6 1414 914.7 1397.2 914.2 1429.5 909.6 1392.7 917 1400.2 916.7 1364.1 917.7 1409.8 916.2 1370.1 917.6 1388.3 913.6 1373.3 911.6 1367.8 909.3 1409.9 911.9 1389.8 914.6 1385 908.5 1409.6 915.1 1418.8 915 1419 911.2 1366.4 914.3 1412.5 915.4 1390.2 908.3 1406.1 909.1 1404.3 908.8 1429.1 912.5 1416 915.2 1412.1 915 1382.2 911.9 1379 917.4 1429.3 914.2 1378.9 916.1 1384.3 909.3 1377.5 916.4 1403.4 908 1428.6 908.4 1424.4 917.4 1408.9 909.8 1383.6 910.8 1392.2 910.3 1378 910.1 1388.3 909.5 1422.2 915.6 1411 913.6 1392.5 909.1 1398.2 908 1411 909.4 1430 915 1392.9 910.7 1413 915 1400.9 915.5 1412 909.2 1382.9 908.5 1393.1 909.3 1401 914.4 1367.5 911.7 1409.6 915 1422.8 910.9 1395.6 916.1 1375.4 908 1388.2 908.8 1398.4 910.2 1419.5 914.2 1369.6 914.4 1371.7 913.2 1412.3 912.8 1384.5 912.5 1409.4 914.5 1372.9 911.7 1373.8 915.2 1418.7 911 1406.8 909.2 1395.9 916.2 1375.9 915.5 1379.6 910.7 1360.8 908.1 1421.6 909.2 1380.2 908.4 1424 917.1 1422.3 910.8 1372 911.2 1375.4 911.5 1369.6 914.1 1418.5 915 1406.6 909.5 1383.8 913.7 1360.7 910.9 1364.7 911.8 1405.4 913.8 1428.9 910 1363.2 916.4 1384.2 912.4 1384.6 912.8 1384.3 914.4 1409.6 913.9 1399.1 912.9 1368 915.7 1361.2 913.4 1399 911.7 1368.6 911.5 1418.9 913.5 1397.7 914.1 1419.4 912.4 1405.1 916.8 1371.5 916.7 1399.4 910.3 1364.6 912.7 1416.9 914.5 1361.2 910.1 1399.8 909.3 1423.7 914.4 1371 912.7 1415.6 916.5 1382 915.2 1377 914.6 1419.3 914.9 1391.6 916.2 1364.1 908.2 1410.7 914.1 1422.4 911.9 1404.1 917.6 1413.3 914.4 1408.9 909.5 1389.4 910.5 1363.3 916.9 1377 915.8 1369.2 914.1 1422.9 911.9 1360.9 911.2 1412 912.4 1410.2 911.8 1401.2 909.6 1377.5 914.6 1424.9 915.4 1416.8 909.9 1369.8 909.3 1377 910.5 1403.3 910.8 1415.4 916.3 1362.6 913.4 1380 911 1414 911.7 1407.9 914.1 1416.9 915.8 1372.8 910.7 1419.1 916.1 1406.2 915.5 1428.2 910.2 1374.1 916.9 1416.7 912.8 1422.2 914.9 1413.7 912.1 1392.3 912.6 1427.5 916 1409.3 912.2 1399.5 911.2 1392.5 916 1377 915.4 1375.4 911.7 1408.2 915.5 1373.6 915.3 1421.6 913.6 1424.1 914.4 1420.9 916.7 1414.6 912.3 1378.4 915.4 1388.4 913.6 1408.9 915.7 1402 911.7 1424.9 909.7 1373 916.9 1366 912.3 1365.9 915.7 1398.6 913 1363 910.4 1362.5 909.1 1381.2 915.3 1381.1 917.8 1405.7 916.1 1420.8 914.9 1394.9 911.5 1415.7 913.6 1398.6 913.6 1374.8 914.5 1370.3 913.9 1401.2 910.6 1400.9 909.5 1383.9 913.1 1419.4 910.8 1369.2 910.8 1418.8 910 1378.7 910.4 1416.3 914.2 1376.5 916 1395 912.3 1401.8 911.1 1428.6 909.6 1370.4 911.2 1429.8 912.9 1395.6 912.1 1427 916.5 1414.6 912.1 1362 912.8 1384.6 915.7 1429.7 909.4 1378.1 915.8 1407.3 915.5 1392.6 910.4 1366.6 911.9 1374.6 915.3 1425.5 913.3 1298 916.5 1318 910.2 1324 908 1334.6 915.4 1330 919.6 1334.6 917.5 1339.8 907 1350 913.3 1349 918.5 1350 920.6 1355 907 1362.7 906 1375 908.3 1324 908.8 1335.4 916 1318 938.3 1401.8 938.3 1339.6 938.4 1367 938.3 1321.5 938 1382.1 938.2 1388.6 938.1 1353.7 938.1 1365.4 938.6 1398.5 938.6 1369.7 938.5 1333.9 938.3 1335.8 938.1 1335.7 938.4 1357.9 938.1 1363 938.2 1318.7 937.9 1365.5 938.3 1380.1 938.2 1327.8 938.6 1338.9 937.9 1351.5 938 1399.4 938.2 1399.6 938.4 1385.2 938.5 1383.1 938.4 1328.2 938.4 1336.2 937.9 1330.1 938.5 1344.6 938.5 1333.9 938.5 1341.3 937.9 1328.5 938 1319.2 938.1 1382.1 938 1343.7 938.6 1393.2 938.2 1335.6 938.5 1334.5 938.6 1320.9 938.7 1343.4 938.5 1385.4 937.9 1321.5 938.1 1321.9 938.3 1373.3 937.9 1372.7 938 1328.4 938.1 1358.3 938.4 1354.5 938.2 1348.6 938.3 1372.1 938.1 1330.5 938.5 1385.8 937.9 1351.6 937.9 1323.5 938.6 1383.6 938.6 1383.5 938.2 1318.4 938.4 1370.8 938.1 1353.8 938.6 1402.9 938.3 1369.9 938.4 1401.9 938 1361.4 938.4 1348.6 938.1 1352.7 938.5 1322.2 937.9 1370.7 938.4 1341.2 938.5 1340.7 938.4 1339 938.5 1339.1 938.6 1320.1 938 1369.3 938.4 1355 938.5 1387 938.5 1324.4 938.1 1362.8 938.7 1360.4 938.7 1401.1 938.1 1384.8 938.1 1392.9 938.6 1359.7 938.6 1335.8 938.4 1360 938.1 1352.1 938.2 1367.4 938 1399.1 938.1 1357.9 938.7 1377.6 938.5 1321.3 938.5 1350.7 938.6 1351.2 938 1341.6 938.5 1344.3 938 1390.1 938.3 1349.4 938.1 1348.3 938.3 1352.4 937.9 1395.1 938.3 1361.9 938.1 1379.1 938 1352.7 938.4 1334.9 938.2 1333.9 938.4 1394.3 938 1347.5 938.5 1336.4 938 1347 938.1 1385.5 938.7 1319.4 938.6 1351.7 937.9 1356.3 937.9 1349.2 938.6 1354.5 938.2 1336.7 938.4 1334.7 938.3 1333.5 938.6 1358.4 938.1 1320.9 938.3 1353.3 938.2 1369.9 938.4 1390.2 938.2 1377.5 938.3 1341.6 938 1399.7 938.5 1371.8 938.6 1327.9 938.3 1380.4 938.1 1374 938.4 1398.4 938.1 1344.5 938.3 1336.4 938.4 1381.1 938.2 1347.2 938.1 1340.3 938.2 1360.8 937.9 1356.9 938.1 1371.7 938.4 1339.9 938.2 1345.2 938.1 1345.6 938.2 1355.7 937.9 1366 938.2 1403.6 938.4 1357.7 938 1323 938.5 1363.3 938.5 1345.8 938 1361.2 938.4 1336.8 937.9 1357.5 938.4 1376 938.6 1396 938.1 1392.2 938.1 1358.1 937.9 1319.7 938.3 1331.4 938.3 1329.7 937.9 1345.6 938.2 1344.8 938 1379.9 938.4 1391.6 938.4 1395.2 938 1387.8 938 1347.8 937.9 1350.4 938.7 1330.3 938 1336.6 938.1 1392.7 937.9 1350.2 937.9 1354.9 938.1 1331.7 938.4 1362.5 937.9 1349.9 938.6 1380.5 938.4 1348.9 938.3 1365 938 1350.6 938.4 1387.6 938.6 1380 938 1346.3 937.9 1397 938.2 1396.7 938.2 1380.5 938.6 1338.4 937.9 1391.1 938.2 1345.1 938.3 1386.7 938.3 1404 938.7 1356.5 938.4 1274.9 937.9 1280.9 938.5 1268.3 937.9 1249.8 938.6 1289.3 938.1 1313.8 938.7 1315 938.7 1261.9 938.6 1317.5 938.3 1308.3 938.6 1250.5 938 1252 938.4 1282.1 938.4 1268.4 938.7 1261.8 938 1286.3 938.6 1245.5 938.4 1273.1 938.1 1314.8 938.5 1314.2 938.5 1301.1 938.3 1274.9 938.7 1244.2 938.6 1284.6 938.3 888.5 938.3 1151 938.3 1168.3 938.3 1201.5 938.3 1411.7 938.3 1421 938.3 1421 929.3 1128.3 929.3 1138.3 929.3 1265.8 929.3 1338.8 929.3 1366.9 929.3 1380.4 929.3 1387.7 929.3 1412.7 1282.4 1357.4 1310.3 1382.4 1378.4 1301.6 1378.4 1424.5 1440.5 1424.5 1449.4 1423.5"/></g></g>
<g id="matplotlib.axis_9">
<g id="xtick_27">
<g id="line2d_53">
<g>
<use href="#m8da89e27fe" x="436.721143" y="699.36" style="stroke: #000000; stroke-width: 0.8"/>
</g>
</g>
<g id="text_65">
<!-- 0 -->
<g transform="translate(433.539893 713.958437) scale(0.1 -0.1)">
<use href="#DejaVuSans-30"/>
</g>
</g>
</g>
<g id="xtick_28">
<g id="line2d_54">
<g>
<use href="#m8da89e27fe" x="478.656" y="699.36" style="stroke: #000000; stroke-width: 0.8"/>
</g>
</g>
<g id="text_66">
<!-- 20 -->
<g transform="translate(472.2935 713.958437) scale(0.1 -0.1)">
<use href="#DejaVuSans-32"/>
<use href="#DejaVuSans-30" transform="translate(63.623047 0)"/>
</g>
</g>
</g>
<g id="xtick_29">
<g id="line2d_55">
<g>
<use href="#m8da89e27fe" x="520.590857" y="699.36" style="stroke: #000000; stroke-width: 0.8"/>
</g>
</g>
<g id="text_67">
<!-- 40 -->
<g transform="translate(514.228357 713.958437) scale(0.1 -0.1)">
<use href="#DejaVuSans-34"/>
<use href="#DejaVuSans-30" transform="translate(63.623047 0)"/>
</g>
</g>
</g>
<g id="xtick_30">
<g id="line2d_56">
<g>
<use href="#m8da89e27fe" x="562.525714" y="699.36" style="stroke: #000000; stroke-width: 0.8"/>
</g>
</g>
<g id="text_68">
<!-- 60 -->
<g transform="translate(556.163214 713.958437) scale(0.1 -0.1)">
<use href="#DejaVuSans-36"/>
<use href="#DejaVuSans-30" transform="translate(63.623047 0)"/>
</g>
</g>
</g>
<g id="xtick_31">
<g id="line2d_57">
<g>
<use href="#m8da89e27fe" x="604.460571" y="699.36" style="stroke: #000000; stroke-width: 0.8"/>
</g>
</g>
<g id="text_69">
<!-- 80 -->
<g transform="translate(598.098071 713.958437) scale(0.1 -0.1)">
<use href="#DejaVuSans-38"/>
<use href="#DejaVuSans-30" transform="translate(63.623047 0)"/>
</g>
</g>
</g>
<g id="xtick_32">
<g id="line2d_58">
<g>
<use href="#m8da89e27fe" x="646.395429" y="699.36" style="stroke: #000000; stroke-width: 0.8"/>
</g>
</g>
<g id="text_70">
<!-- 100 -->
<g transform="translate(636.851679 713.958437) scale(0.1 -0.1)">
<use href="#DejaVuSans-31"/>
<use href="#DejaVuSans-30" transform="translate(63.623047 0)"/>
<use href="#DejaVuSans-30" transform="translate(127.246094 0)"/>
</g>
</g>
</g>
<g id="xtick_33">
<g id="line2d_59">
<g>
<use href="#m8da89e27fe" x="688.330286" y="699.36" style="stroke: #000000; stroke-width: 0.8"/>
</g>
</g>
<g id="text_71">
<!-- 120 -->
<g transform="translate(678.786536 713.958437) scale(0.1 -0.1)">
<use href="#DejaVuSans-31"/>
<use href="#DejaVuSans-32" transform="translate(63.623047 0)"/>
<use href="#DejaVuSans-30" transform="translate(127.246094 0)"/>
</g>
</g>
</g>
<g id="text_72">
<!-- depth_has_maximum_numeric_value -->
<g transform="translate(472.720469 727.636562) scale(0.1 -0.1)">
<defs>
<path id="DejaVuSans-5f" d="M 3263 -1063 L 3263 -1509 L -63 -1509 L -63 -1063 L 3263 -1063 z
" transform="scale(0.015625)"/>
<path id="DejaVuSans-78" d="M 3513 3500 L 2247 1797 L 3578 0 L 2900 0 L 1881 1375 L 863 0 L 184 0 L 1544 1831 L 300 3500 L 978 3500 L 1906 2253 L 2834 3500 L 3513 3500 z
" transform="scale(0.015625)"/>
</defs>
<use href="#DejaVuSans-64"/>
<use href="#DejaVuSans-65" transform="translate(63.476562 0)"/>
<use href="#DejaVuSans-70" transform="translate(125 0)"/>
<use href="#DejaVuSans-74" transform="translate(188.476562 0)"/>
<use href="#DejaVuSans-68" transform="translate(227.685547 0)"/>
<use href="#DejaVuSans-5f" transform="translate(291.064453 0)"/>
<use href="#DejaVuSans-68" transform="translate(341.064453 0)"/>
<use href="#DejaVuSans-61" transform="translate(404.443359 0)"/>
<use href="#DejaVuSans-73" transform="translate(465.722656 0)"/>
<use href="#DejaVuSans-5f" transform="translate(517.822266 0)"/>
<use href="#DejaVuSans-6d" transform="translate(567.822266 0)"/>
<use href="#DejaVuSans-61" transform="translate(665.234375 0)"/>
<use href="#DejaVuSans-78" transform="translate(726.513672 0)"/>
<use href="#DejaVuSans-69" transform="translate(785.693359 0)"/>
<use href="#DejaVuSans-6d" transform="translate(813.476562 0)"/>
<use href="#DejaVuSans-75" transform="translate(910.888672 0)"/>
<use href="#DejaVuSans-6d" transform="translate(974.267578 0)"/>
<use href="#DejaVuSans-5f" transform="translate(1071.679688 0)"/>
<use href="#DejaVuSans-6e" transform="translate(1121.679688 0)"/>
<use href="#DejaVuSans-75" transform="translate(1185.058594 0)"/>
<use href="#DejaVuSans-6d" transform="translate(1248.4375 0)"/>
<use href="#DejaVuSans-65" transform="translate(1345.849609 0)"/>
<use href="#DejaVuSans-72" transform="translate(1407.373047 0)"/>
<use href="#DejaVuSans-69" transform="translate(1448.486328 0)"/>
<use href="#DejaVuSans-63" transform="translate(1476.269531 0)"/>
<use href="#DejaVuSans-5f" transform="translate(1531.25 0)"/>
<use href="#DejaVuSans-76" transform="translate(1581.25 0)"/>
<use href="#DejaVuSans-61" transform="translate(1640.429688 0)"/>
<use href="#DejaVuSans-6c" transform="translate(1701.708984 0)"/>
<use href="#DejaVuSans-75" transform="translate(1729.492188 0)"/>
<use href="#DejaVuSans-65" transform="translate(1792.871094 0)"/>
</g>
</g>
</g>
<g id="matplotlib.axis_10">
<g id="ytick_26">
<g id="line2d_60">
<g>
<use href="#mcd1c41be28" x="422.4" y="686.189143" style="stroke: #000000; stroke-width: 0.8"/>
</g>
</g>
<g id="text_73">
<!-- 0.0 -->
<g transform="translate(399.496875 689.988362) scale(0.1 -0.1)">
<use href="#DejaVuSans-30"/>
<use href="#DejaVuSans-2e" transform="translate(63.623047 0)"/>
<use href="#DejaVuSans-30" transform="translate(95.410156 0)"/>
</g>
</g>
</g>
<g id="ytick_27">
<g id="line2d_61">
<g>
<use href="#mcd1c41be28" x="422.4" y="642.325714" style="stroke: #000000; stroke-width: 0.8"/>
</g>
</g>
<g id="text_74">
<!-- 0.2 -->
<g transform="translate(399.496875 646.124933) scale(0.1 -0.1)">
<use href="#DejaVuSans-30"/>
<use href="#DejaVuSans-2e" transform="translate(63.623047 0)"/>
<use href="#DejaVuSans-32" transform="translate(95.410156 0)"/>
</g>
</g>
</g>
<g id="ytick_28">
<g id="line2d_62">
<g>
<use href="#mcd1c41be28" x="422.4" y="598.462286" style="stroke: #000000; stroke-width: 0.8"/>
</g>
</g>
<g id="text_75">
<!-- 0.4 -->
<g transform="translate(399.496875 602.261504) scale(0.1 -0.1)">
<use href="#DejaVuSans-30"/>
<use href="#DejaVuSans-2e" transform="translate(63.623047 0)"/>
<use href="#DejaVuSans-34" transform="translate(95.410156 0)"/>
</g>
</g>
</g>
<g id="ytick_29">
<g id="line2d_63">
<g>
<use href="#mcd1c41be28" x="422.4" y="554.598857" style="stroke: #000000; stroke-width: 0.8"/>
</g>
</g>
<g id="text_76">
<!-- 0.6 -->
<g transform="translate(399.496875 558.398076) scale(0.1 -0.1)">
<use href="#DejaVuSans-30"/>
<use href="#DejaVuSans-2e" transform="translate(63.623047 0)"/>
<use href="#DejaVuSans-36" transform="translate(95.410156 0)"/>
</g>
</g>
</g>
<g id="ytick_30">
<g id="line2d_64">
<g>
<use href="#mcd1c41be28" x="422.4" y="510.735429" style="stroke: #000000; stroke-width: 0.8"/>
</g>
</g>
<g id="text_77">
<!-- 0.8 -->
<g transform="translate(399.496875 514.534647) scale(0.1 -0.1)">
<use href="#DejaVuSans-30"/>
<use href="#DejaVuSans-2e" transform="translate(63.623047 0)"/>
<use href="#DejaVuSans-38" transform="translate(95.410156 0)"/>
</g>
</g>
</g>
<g id="ytick_31">
<g id="line2d_65">
<g>
<use href="#mcd1c41be28" x="422.4" y="466.872" style="stroke: #000000; stroke-width: 0.8"/>
</g>
</g>
<g id="text_78">
<!-- 1.0 -->
<g transform="translate(399.496875 470.671219) scale(0.1 -0.1)">
<use href="#DejaVuSans-31"/>
<use href="#DejaVuSans-2e" transform="translate(63.623047 0)"/>
<use href="#DejaVuSans-30" transform="translate(95.410156 0)"/>
</g>
</g>
</g>
<g id="ytick_32">
<g id="line2d_66">
<g>
<use href="#mcd1c41be28" x="422.4" y="423.008571" style="stroke: #000000; stroke-width: 0.8"/>
</g>
</g>
<g id="text_79">
<!-- 1.2 -->
<g transform="translate(399.496875 426.80779) scale(0.1 -0.1)">
<use href="#DejaVuSans-31"/>
<use href="#DejaVuSans-2e" transform="translate(63.623047 0)"/>
<use href="#DejaVuSans-32" transform="translate(95.410156 0)"/>
</g>
</g>
</g>
<g id="text_80">
<!-- Prophage score -->
<g transform="translate(393.417188 594.929375) rotate(-90) scale(0.1 -0.1)">
<use href="#DejaVuSans-50"/>
<use href="#DejaVuSans-72" transform="translate(58.552734 0)"/>
<use href="#DejaVuSans-6f" transform="translate(97.416016 0)"/>
<use href="#DejaVuSans-70" transform="translate(158.597656 0)"/>
<use href="#DejaVuSans-68" transform="translate(222.074219 0)"/>
<use href="#DejaVuSans-61" transform="translate(285.453125 0)"/>
<use href="#DejaVuSans-67" transform="translate(346.732422 0)"/>
<use href="#DejaVuSans-65" transform="translate(410.208984 0)"/>
<use href="#DejaVuSans-20" transform="translate(471.732422 0)"/>
<use href="#DejaVuSans-73" transform="translate(503.519531 0)"/>
<use href="#DejaVuSans-63" transform="translate(555.619141 0)"/>
<use href="#DejaVuSans-6f" transform="translate(610.599609 0)"/>
<use href="#DejaVuSans-72" transform="translate(671.78125 0)"/>
<use href="#DejaVuSans-65" transform="translate(710.644531 0)"/>
</g>
</g>
<g id="text_81">
<!-- 1e6 -->
<g transform="translate(422.4 410.28) scale(0.1 -0.1)">
<use href="#DejaVuSans-31"/>
<use href="#DejaVuSans-65" transform="translate(63.623047 0)"/>
<use href="#DejaVuSans-36" transform="translate(125.146484 0)"/>
</g>
</g>
</g>
<g id="patch_123">
<path d="M 422.4 699.36 L 422.4 413.28 " style="fill: none; stroke: #000000; stroke-width: 0.8; stroke-linejoin: miter; stroke-linecap: square"/>
</g>
<g id="patch_124">
<path d="M 708.48 699.36 L 708.48 413.28 " style="fill: none; stroke: #000000; stroke-width: 0.8; stroke-linejoin: miter; stroke-linecap: square"/>
</g>
<g id="patch_125">
<path d="M 422.4 699.36 L 708.48 699.36 " style="fill: none; stroke: #000000; stroke-width: 0.8; stroke-linejoin: miter; stroke-linecap: square"/>
</g>
<g id="patch_126">
<path d="M 422.4 413.28 L 708.48 413.28 " style="fill: none; stroke: #000000; stroke-width: 0.8; stroke-linejoin: miter; stroke-linecap: square"/>
</g>
<g id="text_82">
<!-- rho=0.352, p=2.1e-145 -->
<g transform="translate(493.898437 407.28) scale(0.12 -0.12)">
<use href="#DejaVuSans-72"/>
<use href="#DejaVuSans-68" transform="translate(39.363281 0)"/>
<use href="#DejaVuSans-6f" transform="translate(102.742188 0)"/>
<use href="#DejaVuSans-3d" transform="translate(163.923828 0)"/>
<use href="#DejaVuSans-30" transform="translate(247.712891 0)"/>
<use href="#DejaVuSans-2e" transform="translate(311.335938 0)"/>
<use href="#DejaVuSans-33" transform="translate(343.123047 0)"/>
<use href="#DejaVuSans-35" transform="translate(406.746094 0)"/>
<use href="#DejaVuSans-32" transform="translate(470.369141 0)"/>
<use href="#DejaVuSans-2c" transform="translate(533.992188 0)"/>
<use href="#DejaVuSans-20" transform="translate(565.779297 0)"/>
<use href="#DejaVuSans-70" transform="translate(597.566406 0)"/>
<use href="#DejaVuSans-3d" transform="translate(661.042969 0)"/>
<use href="#DejaVuSans-32" transform="translate(744.832031 0)"/>
<use href="#DejaVuSans-2e" transform="translate(808.455078 0)"/>
<use href="#DejaVuSans-31" transform="translate(840.242188 0)"/>
<use href="#DejaVuSans-65" transform="translate(903.865234 0)"/>
<use href="#DejaVuSans-2d" transform="translate(965.388672 0)"/>
<use href="#DejaVuSans-31" transform="translate(1001.472656 0)"/>
<use href="#DejaVuSans-34" transform="translate(1065.095703 0)"/>
<use href="#DejaVuSans-35" transform="translate(1128.71875 0)"/>
</g>
</g>
</g>
<g id="axes_6">
<g id="patch_127">
<path d="M 778.56 699.36 L 1065.12 699.36 L 1065.12 413.28 L 778.56 413.28 z
" style="fill: #ffffff"/>
</g>
<g id="scat12"><clipPath id="cl12"><rect x="1622.00" y="861.00" width="597.00" height="596.00"/></clipPath><g transform="scale(0.48)"><path clip-path="url(#cl12)" class="sc" d="M1652.7 1047.9 1654.5 1041.7 1654.2 986.6 1653.2 1006 1652.9 987 1654.2 999 1651.8 1044.1 1654.3 1013.8 1652.1 997.8 1655.6 1000.1 1651.2 1026.5 1651.7 1004.4 1656.2 1004.9 1651.2 996 1654.3 1007.9 1657.4 999.7 1651.6 1041.2 1652.1 1030.9 1651.5 999.1 1654.8 997.2 1655.6 1037.2 1653.2 1021.3 1651.4 1023.1 1652.3 1032.6 1652.7 995.7 1652.2 1042.5 1653.4 989.8 1653 988.5 1655.9 1040.2 1651.5 986.4 1656 989.4 1655.7 1015.1 1658.2 1048.3 1653.1 1029.1 1654.5 990.3 1659.4 1029.6 1659.3 1037.8 1657.5 1014.6 1657.6 1007.6 1654 987 1656.2 1045.5 1663.1 1016.9 1652.4 1041.6 1655.2 1027.4 1654.3 1026.1 1651.4 1011.8 1652.3 990.7 1657.4 1027.3 1655.2 1025.8 1655.6 1017.1 1654.4 1012.6 1655.9 1032 1658.1 1013.1 1659.9 1035 1659.2 1035 1653 1044.9 1652 1034.8 1653.6 1044 1656.3 1008.8 1652.5 994.5 1652.2 1130.5 1651.3 1130.8 1651.8 1124 1658 1133.5 1654.5 1109.4 1651.8 1131.9 1654.3 1126.3 1654.1 1068.4 1651.3 1144.4 1651.7 1073.1 1654.4 1133.8 1662.2 1112.9 1657.3 1085.6 1652.1 1158.7 1657 1137.5 1652.5 1106.1 1655.7 1064.7 1657.5 1156.8 1654.3 1133.7 1657.5 1128 1653.7 1087.4 1651.5 1133 1654.7 1125.9 1653 1144.9 1653.1 1122.5 1655.1 1112.3 1653.1 1086.8 1652.7 1116.7 1651.3 1050.6 1653.2 1125.6 1654.7 1143.3 1659.1 1058.8 1653.8 1131.6 1652.1 1111 1660.2 1074.3 1652.4 1143.6 1652.3 1112 1665.7 1150.6 1651.3 1127.4 1653.2 1086.5 1657.3 1083 1652.9 1056.8 1657 1051.9 1654.2 1075.1 1656.6 1081.4 1651.5 1125 1655.3 1091.7 1651.5 1056.4 1651.9 1109.3 1651.8 1085.7 1652.1 1071.3 1651.8 1119.8 1657.2 1116.2 1660.4 1084.7 1658.5 1087.9 1656.7 1137.6 1656.1 1091.2 1653 1156.3 1652.6 1105.6 1652.6 1152.2 1654.7 1132.5 1652.6 1130.9 1653.2 1118.8 1655.5 1076.7 1661.3 1153.8 1651.7 1100.7 1661.3 1110.9 1653.2 1084.5 1655.9 1136.5 1654 1068.5 1652.8 1150.2 1652.9 1128.1 1657.8 1148.9 1653.2 1158.2 1658.7 1062.3 1658.8 1140.9 1652.1 1151.7 1653.8 1121.8 1654.3 1068.5 1663.5 1082.7 1652.4 1158.9 1653.2 1104.8 1651.1 1123 1656.8 1087.8 1657.3 1128.6 1660.4 1128.1 1655 1102 1654.1 1058.2 1656.8 1055.2 1662.4 1070.3 1653.6 1094.7 1651.1 1055.4 1652.9 1088.9 1655.6 1086.6 1658.2 1076.5 1656.7 1065.1 1651.7 1050.5 1656 1095.5 1652.4 1081.4 1651.1 1060.4 1654.5 1062.7 1653.1 1130.8 1655.6 1068.7 1655.2 1080.1 1655.2 1096.3 1654.5 1153.4 1656.3 1052.4 1654.5 1159.7 1660 1068.2 1651.1 1099 1653.4 1114.9 1657.5 1115.1 1651.5 1097 1652.3 1129.9 1652.5 1142.7 1652 1082.5 1652.8 1058.7 1653.7 1075.1 1661 1112.8 1655.2 1075 1654.7 1106.6 1655.2 1102.2 1651.8 1050 1659.2 1145.8 1654.4 1054 1654.4 1137.6 1651.4 1055.9 1652.2 1129.7 1658.9 1068.5 1651.6 1131.9 1656.7 1095.5 1653.5 1150.2 1651.6 1069.9 1655.9 1079.5 1660.9 1054.2 1653 1143 1651.5 1050.2 1651.4 1094.5 1651.4 1135.5 1656.5 1158.1 1651.4 1056.1 1652.5 1110.2 1651.4 1126.4 1657 1157.6 1652.7 1084 1652 1120 1652.4 1101.8 1651.9 1133.1 1652.8 1093 1653.2 1158.4 1654.5 1145 1651.7 1084.2 1651.4 1141.4 1657.2 1121.5 1651.2 1105.7 1654.2 1093.3 1652.2 1094.6 1656.7 1052.1 1652.1 1133.7 1653.4 1091.2 1654.6 1086.8 1659.7 1061.3 1655.4 1078.2 1658.6 1118.1 1656.5 1066 1653.1 1076.3 1655.9 1150.8 1656.6 1121 1653.1 1073.2 1655.2 1056.7 1659.2 1179.3 1656.2 1273.4 1652.5 1222.2 1654.7 1184.2 1655.3 1235.2 1654.1 1219.2 1651.2 1240.2 1651.1 1160.6 1653.9 1256.9 1652 1161.1 1659.8 1236.6 1659.7 1218.5 1652.5 1231.4 1654.6 1250.1 1651.7 1268.7 1655.4 1240 1654.7 1213.1 1657.2 1209.2 1660.8 1202.2 1651.1 1176.3 1654.1 1236.8 1653.3 1247.3 1660.2 1256 1651.1 1235.9 1652.2 1235.3 1652.5 1192 1652 1260.6 1654.6 1266.2 1655.1 1232.8 1654.6 1261.1 1657.3 1191.2 1653.6 1175.3 1655.7 1264.2 1651.5 1243.8 1655.5 1230 1660.3 1231.8 1656.7 1196.5 1654.4 1252.9 1656.2 1266.2 1658.5 1248.8 1653.6 1202.4 1652.1 1226.1 1654.9 1236.3 1656.1 1254.8 1652.2 1266.2 1651.6 1267 1655.2 1272.7 1652.1 1252 1653.3 1204.7 1652.9 1230.9 1654.7 1264.5 1652.9 1264.9 1657.8 1175 1652.2 1205.3 1651.1 1165.6 1653.8 1168.9 1653.3 1264.2 1652.4 1194.2 1661.5 1237.1 1655.9 1253.6 1652.2 1260 1651.3 1207.9 1651.7 1248.6 1656.1 1256.6 1654.7 1237.6 1656 1169.6 1653.7 1208 1652.9 1171 1655 1274 1656.7 1170.9 1654.3 1232.3 1651.6 1244.6 1652.6 1273.6 1653.3 1269 1657.7 1171.9 1653 1269 1652 1192.5 1654.5 1238.7 1651.6 1237.7 1653 1219.7 1656.1 1226.6 1654.1 1199.6 1654.6 1215.6 1653.4 1257.8 1652.6 1183.4 1654.1 1234.1 1652.3 1233.3 1660.8 1229.3 1652.7 1231.2 1657.8 1264.1 1654.4 1198.6 1655.8 1167.4 1651.1 1233.4 1652.8 1239.9 1654.1 1201.5 1653.9 1187.8 1654.5 1236.9 1652.2 1237.3 1651.1 1272.8 1654.9 1227.4 1656.7 1254.6 1658 1227.1 1651.1 1250.9 1652.1 1207.8 1658.1 1220.2 1663.6 1200.9 1652.4 1193.3 1658.4 1218.1 1656 1259.9 1651.1 1268.7 1657.1 1194.5 1656.3 1222.2 1657.9 1168.7 1655.4 1182.6 1654.2 1243.8 1652.6 1255 1651.2 1197 1652.8 1242.1 1651 1244.9 1653.5 1229.4 1654.6 1241.1 1653.5 1271.3 1653.4 1258.6 1656.8 1257.6 1655.3 1195.9 1653.3 1264.5 1655.3 1262.7 1653 1173.9 1652.5 1222.1 1656.5 1254.3 1655.5 1255.8 1653 1230.9 1660.1 1211.3 1660.3 1192.9 1657.7 1269.1 1655.1 1199.8 1655.4 1216.5 1659.5 1242.9 1655.3 1269.1 1661.6 1237.5 1656.2 1205.4 1656.9 1229.1 1652.8 1168.2 1658 1180 1652.6 1201.9 1651.5 1201.4 1656.6 1242.5 1653.5 1182.2 1651.1 1210.5 1651.6 1261.6 1653.7 1209.8 1654 1247.2 1660.8 1209.2 1657.1 1193.6 1652.6 1184.6 1660 1248.8 1653.2 1175.4 1655.1 1181.2 1658 1269.9 1653.9 1242.8 1656.6 1268.2 1659.6 1164.3 1656.4 1179.7 1653.5 1164.7 1660.9 1262.5 1651.2 1214.3 1653.6 1229.9 1653.7 1243.5 1658.2 1232.2 1653.6 1230.2 1653.8 1204.7 1655.4 1220.6 1657.3 1240.5 1654.1 1215 1655.8 1166.9 1659.3 1244.2 1656.1 1225 1653.2 1207.3 1660.1 1220 1656.1 1165.1 1660.4 1235.5 1663.8 1194.2 1652.8 1273.1 1653.6 1199.3 1653 1197.7 1655.9 1172.8 1656.7 1237.5 1655.3 1237.7 1655.9 1234.3 1652.3 1229.6 1651 1243 1656.2 1229.6 1657.8 1204.5 1655.1 1272.3 1651.5 1254.8 1655.3 1247.7 1652.7 1224 1652.8 1160.7 1654.1 1231.8 1652.1 1241.7 1653.5 1210.6 1652.3 1174.4 1657.3 1271.1 1654.1 1190.9 1651.7 1161.7 1653.5 1242.9 1659.8 1268.3 1651.4 1260.1 1656.1 1222.2 1654.1 1232.3 1653.4 1166.9 1652.6 1191.7 1652.7 1204.7 1657.2 1196.7 1654.1 1218.6 1652.2 1177.7 1651.4 1270.5 1653.2 1196.9 1659.9 1165.8 1654.1 1204.4 1654.9 1198.9 1655.9 1214.7 1653.4 1227 1652.3 1196.6 1657.5 1270.3 1653.2 1257.3 1656.9 1269.2 1653.8 1213.4 1655.2 1171 1660.4 1207.2 1662.3 1185.6 1653.2 1216.6 1657 1233.9 1651.7 1208.4 1652.6 1163.4 1656.5 1181.3 1652.6 1229.4 1659.6 1185.5 1660.6 1231.2 1655.3 1196.7 1654.9 1189.9 1659 1191.8 1653.5 1171.6 1657.3 1182.5 1656.5 1218.1 1652 1170.7 1660.2 1244 1653.6 1169.9 1654.5 1172.2 1654.2 1228.1 1656.2 1271.3 1652.5 1263.4 1653.7 1180.8 1651.6 1264.8 1658.5 1189 1652.2 1200.4 1651.1 1272.5 1657.4 1209.8 1654.5 1251.9 1654.3 1198.2 1655.1 1167.8 1652 1215.1 1656.5 1205.9 1652.4 1224.8 1659.1 1210.7 1653.8 1172.4 1655.4 1242.2 1652.4 1263.2 1652.9 1261.8 1657 1202.7 1656 1206.8 1660.3 1269.8 1653.3 1238.1 1653.3 1202.2 1653.1 1164.1 1655.4 1265.5 1652 1259.4 1653.5 1240.2 1651.8 1253.1 1653 1232.2 1656.9 1221.5 1657 1252 1655 1171.8 1655.6 1172 1658.5 1180.8 1654.6 1221.2 1651.6 1248.6 1659.2 1238.2 1654.6 1255.4 1659 1172.5 1651.2 1186.2 1653 1226.4 1655.7 1235 1660.1 1239.1 1656.6 1231.8 1653.3 1220.8 1657.1 1176.4 1651.8 1264.6 1658.4 1204 1653.2 1261.4 1654.9 1183.4 1655.5 1219.9 1656 1172.2 1656.3 1266.7 1651.5 1240.5 1657.1 1208.8 1658.3 1171.6 1656.3 1264.6 1657.3 1202.9 1654 1169.7 1656 1191 1653 1218.8 1652.5 1179.9 1656.6 1195.8 1656 1255.7 1654.1 1224.6 1651.8 1201.6 1654.3 1211.2 1653.5 1241.3 1657.5 1245.4 1655.7 1269.3 1658.3 1241.4 1652.7 1272.5 1654.5 1259 1651.4 1251.4 1655.3 1269.3 1651.8 1274.9 1653.9 1191.8 1651.5 1174.7 1653.7 1246.3 1651.2 1361.5 1658 1338.7 1655.3 1334.9 1656.2 1305.9 1653.7 1357.6 1657.9 1304.2 1651.3 1371.4 1653.4 1372.9 1656.1 1365.5 1652 1344.2 1653.9 1337.6 1651.5 1351.9 1656.4 1335.6 1653.1 1368.5 1654.5 1342.7 1652.4 1333 1651.9 1317.9 1651.5 1303.8 1651.3 1345.7 1656.7 1303.4 1654.2 1330.7 1656.6 1292.7 1655 1360.6 1659 1314.2 1658.3 1347.3 1653 1328.1 1652.6 1316.6 1654.3 1322.2 1658.2 1353 1652.3 1324.8 1654.4 1347.6 1656.4 1285.5 1657.1 1316.8 1652.8 1319.2 1655 1319.6 1654.6 1349.1 1651.2 1357.1 1657.8 1309.4 1655.1 1323.8 1652.7 1285.3 1654 1349.8 1660.7 1371.7 1654.3 1367.5 1651.1 1324.4 1652.6 1365.9 1654.4 1284.9 1653.8 1364.6 1651.1 1316 1653.1 1317.3 1657.4 1316.8 1656.6 1318.1 1657.8 1307.9 1659.8 1331 1654.1 1285.8 1657.6 1343.3 1652.1 1371.9 1651.1 1324.8 1659 1332.8 1653.9 1298.5 1652.7 1364.7 1653.1 1320.3 1652.7 1322.9 1654.7 1355.4 1652.7 1310.6 1654.2 1311.4 1662.8 1296.4 1651.1 1361.4 1655.1 1327.6 1653.8 1304.4 1651.3 1314 1653.7 1308 1653 1356.5 1658 1359.6 1658.9 1281.7 1655.4 1339.3 1654.2 1281.6 1651.5 1310.9 1653.6 1300.8 1651.4 1363.6 1659.1 1319.9 1651.5 1296.2 1652.6 1289.3 1654.5 1359.1 1653 1280.2 1653.2 1312.3 1661.5 1341.7 1655.6 1305.2 1655.8 1338.7 1653.4 1275.3 1657.2 1364.8 1652.9 1279.4 1657.6 1320.9 1659.1 1365.3 1655.5 1310.1 1657.8 1299.9 1656.4 1292.1 1655.4 1312.2 1651.4 1366.6 1651.9 1292.2 1653 1371.1 1652.2 1350.9 1651 1347.5 1652.2 1300.8 1657.4 1288.7 1651.6 1371.4 1651.1 1316.3 1654.6 1313.9 1659.2 1367.6 1654 1352.5 1659 1290 1651.6 1327.5 1651.9 1365.7 1653.9 1307.8 1660.6 1290.5 1655.4 1344.1 1653 1282.1 1651.6 1301.6 1651.4 1364.1 1653.9 1315.7 1651.5 1276.9 1652.9 1320.7 1654.6 1278 1659.2 1312.4 1655 1309.4 1654.4 1282.4 1653.9 1339.6 1651.2 1353.5 1653.3 1339.1 1657.4 1302.7 1651.7 1331.1 1653.8 1364 1656.4 1313.1 1653.5 1299.8 1651.5 1316.1 1651.1 1332.6 1654.8 1285.4 1658.1 1367.6 1652 1311 1654.8 1332.5 1654.9 1317.1 1664.4 1318.8 1651.3 1358.2 1654.2 1293.3 1654.3 1275.4 1656 1350.9 1652 1352.4 1657.8 1345.5 1655.8 1328.2 1653.8 1365.2 1653.8 1362.4 1651.8 1353.5 1655.3 1276.4 1651.8 1311.4 1651.3 1359.5 1663.4 1322.5 1657.6 1336.4 1660 1370.9 1651 1355.1 1657.7 1349.1 1652.2 1316.6 1653.5 1355.9 1651.9 1339.3 1655.5 1369.5 1651.9 1352 1661.2 1286.7 1656 1295.6 1658.9 1338.9 1658.2 1318.3 1652.8 1353.8 1651.6 1327.2 1656.7 1334.7 1659 1281.8 1660.1 1365.2 1653 1350.9 1653.4 1298.4 1657.1 1341.2 1657.9 1352 1655.9 1282.6 1652.2 1289.4 1655.2 1342.3 1660.8 1339.3 1657.1 1330.3 1656 1343.2 1660.2 1328.7 1652.5 1291.5 1654.8 1311.5 1658.5 1331.6 1654.6 1293.7 1653.8 1305.4 1656.2 1292 1652.9 1340.8 1661.2 1344.2 1655.4 1364.4 1660.7 1359.2 1657.3 1357.3 1651.7 1315.9 1654.6 1292.7 1652 1335 1654.2 1338.7 1658.4 1309 1652.6 1369.9 1658.5 1322.5 1656.9 1348.8 1660.1 1354.8 1653.1 1285 1652.8 1328.3 1658.3 1366.5 1654.1 1357.6 1652.7 1358.9 1653.1 1332.6 1654.6 1296.2 1654.6 1305.3 1655 1365.7 1653.6 1289.9 1653.6 1275.6 1660.4 1352.2 1657.3 1344.2 1657.3 1301 1652.6 1360.5 1653.8 1325.7 1654.2 1310.3 1651.6 1304.7 1656.2 1320.3 1656.8 1348.8 1656.8 1291.5 1656.4 1301 1658.5 1329.4 1654.4 1326.3 1651.6 1289.7 1654.7 1322.7 1651.3 1335.5 1651.4 1307 1653.6 1364.7 1651.1 1320.2 1656.2 1331.3 1652.7 1343.9 1653.1 1302.9 1655.3 1350 1655.5 1280.9 1655.9 1334 1656.5 1284 1654.1 1299.7 1665.7 1315.1 1659.6 1292.2 1657.2 1302.7 1655.2 1350.6 1654.5 1324.2 1658.5 1319.6 1651 1307.1 1653.6 1302.8 1654.4 1343.7 1651.6 1336.5 1654.5 1356.3 1652.9 1298.2 1659.6 1332.8 1652.6 1317.8 1654.9 1333.8 1660 1337.2 1653.6 1292.2 1658.8 1280.9 1654.7 1331.2 1656.9 1285.5 1653.9 1349.1 1654.3 1297.5 1655.2 1372.1 1655 1340.5 1654.7 1299.3 1662.6 1353.2 1652.4 1330 1651.5 1275 1652 1356.4 1657.9 1285.7 1653.9 1312.9 1652.5 1342.3 1653.2 1351.7 1654.6 1335.6 1653.8 1303.1 1652.7 1309.6 1656.4 1284.6 1656.5 1280.5 1651.1 1335.1 1658 1296.4 1653.3 1316 1658.7 1280.8 1656.1 1328.6 1653.2 1356.9 1654.7 1299 1660.2 1357.8 1658.3 1316.6 1655.6 1340.3 1653.4 1308.9 1657.5 1307.1 1651.7 1340.2 1657.9 1290.1 1652.2 1347.4 1658.3 1321.7 1655.1 1328.8 1653.6 1284.6 1652.4 1302.3 1653.5 1288.6 1653.8 1291.2 1652.6 1338.4 1657 1324.5 1656.3 1319.1 1658.3 1315.9 1652.7 1297.3 1652 1358.1 1654.2 1342.1 1654.8 1317.6 1653.4 1307.6 1653.8 1342.2 1658.3 1357.3 1651.1 1318.7 1651.1 1336.3 1655 1348.2 1653.7 1367 1653.6 1334 1652.6 1319.7 1652.9 1288.7 1657.9 1330.2 1653.9 1287.6 1653.8 1312.3 1652.7 1316.4 1661.1 1284.9 1653.7 1346.8 1657.8 1367 1653.9 1349.5 1652.3 1293.4 1654.2 1314.6 1653.4 1306.8 1655.5 1321.3 1655.1 1329.8 1653.2 1347.3 1656.6 1359.8 1658.6 1353 1659.6 1298.4 1652.3 1305.2 1656.3 1333 1658.3 1315.9 1655.5 1295.7 1651.9 1288.7 1653.4 1285.1 1651.3 1320.6 1652.7 1285.1 1653.6 1290 1652 1370.9 1659.3 1310.2 1652.3 1326.2 1652.5 1370.4 1658.1 1315 1652.7 1350.5 1656 1295.3 1657.7 1342.7 1651.7 1356.3 1652 1358.3 1654.9 1335.8 1658.9 1356.8 1657.1 1352.5 1655.2 1342.2 1651.7 1292.8 1656 1315.3 1654.2 1339.6 1653.7 1276.4 1653.2 1307.2 1654 1354 1658 1332.7 1656.1 1287 1652.1 1372.3 1661 1298.7 1656.7 1303 1653.4 1298.7 1652.8 1335.4 1658.5 1320.2 1658.6 1327.4 1653.9 1315.7 1652.9 1360.9 1658.9 1286.6 1651.5 1333 1662.4 1290.8 1651.9 1302.6 1660.1 1303.5 1652.1 1345.2 1652.1 1291.1 1654.4 1346.3 1654.7 1331.6 1659 1372.4 1657.9 1278.4 1658.5 1293 1654 1278.7 1659.6 1348.2 1653.8 1348.5 1651.9 1292.2 1658.9 1292.2 1653.4 1320.9 1657.1 1321.5 1652.1 1363 1651.2 1298.9 1659.1 1295.9 1653.9 1308.1 1655.2 1299.4 1656.4 1276.3 1653.5 1331.5 1653 1299.3 1653.8 1319.5 1652.7 1354 1653.9 1337.5 1653 1281.1 1651.1 1365.1 1652.5 1316.4 1651.6 1326.7 1656.3 1305.7 1654.8 1308.6 1655 1291.2 1651 1343.3 1659.8 1331.6 1654.1 1307 1656 1307.8 1651.9 1314.9 1656.2 1370.8 1654.1 1292.9 1653.7 989.8 1656 989.8 1653.5 990.3 1653.7 990.5 1657.3 990 1654.6 989.3 1657.9 989.7 1658.9 1004.9 1654.7 1004.3 1651.5 1003.6 1654.3 1004.3 1654 1004.4 1652 1002.8 1651.8 1003.5 1652.2 1016.1 1659.3 1017 1651.1 1015.9 1656.8 1015.5 1653.4 1016.5 1653.3 1015.3 1654 1016.1 1652.7 1037.2 1656.8 1038.3 1656.8 1038.4 1652.3 1038.2 1651.4 1037.7 1657.4 1037.4 1651 1038.9 1657.8 1055.4 1653.4 1054.1 1651.7 1052.6 1652.3 1052.3 1655.2 1053 1657.4 1052.1 1656.3 1050.5 1651.9 1064.7 1652.1 1065 1654.1 1064.7 1652.9 1064.3 1655 1066.5 1651.7 1066.7 1652.5 1064.8 1652.8 1079.5 1653.4 1080.1 1651.1 1079.8 1658.6 1082.2 1651.5 1080.1 1653.9 1080.4 1662 1079.3 1651.1 1096.3 1656.2 1097.7 1656.2 1097.3 1656.3 1096.9 1657.7 1097.5 1652.8 1095.2 1653.9 1096.8 1651.5 1114.7 1652.6 1112.8 1651.2 1114.7 1653.6 1113.5 1652.1 1113.5 1656.1 1114.3 1652.1 1114.5 1651.9 1125.3 1652.6 1126.2 1652.1 1127.2 1654.6 1124.5 1652 1125.6 1656.5 1124.9 1652.5 1126 1658.9 1141.5 1656.2 1141.8 1658.1 1141.5 1654.2 1142.1 1651.8 1142.3 1657.6 1143.4 1653.3 1141.9 1656.4 1151 1652 1150.8 1653.9 1152.4 1651.3 1153 1652.4 1151.5 1657 1151.2 1654.7 1152.4 1652 1170.8 1651 1170 1654 1171 1652.8 1171.9 1658.1 1172 1651.5 1171.8 1655.3 1171.1 1651.7 1188.1 1652.7 1186.1 1656 1186.3 1654.8 1186.8 1653.7 1187.4 1652.3 1184.5 1656.2 1187.8 1654.8 1217.8 1653.5 1216.4 1656.7 1218.3 1651.6 1218.2 1652.1 1215.9 1651.8 1217 1651.2 1218.1 1652.2 1243 1654.6 1242.6 1655.8 1243.5 1655.5 1244.1 1654.4 1244.4 1654.3 1242.5 1654.2 1242.7 1652.1 1265.6 1652.6 1268.2 1652.8 1267 1656 1265.2 1660.6 1267.6 1652.3 1265.9 1655.2 1265.9 1659.3 1303.6 1655.1 1303.9 1651.7 1304.3 1652.5 1303.6 1652.9 1306.9 1653.9 1302.8 1657 1305.7 1653.8 1331.4 1659.1 1329.5 1651.5 1330.1 1656.5 1330 1654.2 1329.6 1656.6 1330.6 1655.1 1330 1653.6 1380.1 1651.3 1379.2 1657.1 1380.8 1654 1381.2 1655.8 1380.8 1656.9 1380.4 1652.5 1378.9 1651.2 1390.8 1653.9 1392.2 1658.9 1392.4 1655.4 1393.1 1653.2 1390.4 1661 1394.4 1660.1 1392.4 1657.5 1383.1 1652.3 1387.2 1651 1389.7 1651.5 1389.5 1654.3 1385.6 1652.6 1378.4 1654.3 1390.4 1652.9 1374.9 1654.2 1374.8 1652.8 1388 1657.6 1377 1651 1386.3 1651.8 1380.5 1651.4 1385.2 1657 1376.1 1651.7 1383.5 1653.6 1383.4 1651.1 1377.4 1653.2 1377.7 1651.6 1383.9 1681 1331.3 1681.3 1211.6 1661.5 1196.8 1664.4 1180.1 1665.9 1298.2 1678.4 1210.7 1664.6 1338.8 1666.6 1191.1 1678 1189.4 1660.2 1282.3 1679.9 1237 1663.9 1333.5 1665.3 1308 1665.9 1257.5 1672.2 1227.3 1660 1205.3 1666.4 1262.7 1664.6 1330.6 1666.4 1165.9 1667.4 1267.8 1670 1263.5 1664.2 1307.4 1670.2 1185.5 1671.5 1201.5 1678.5 1291.6 1672.9 1239.4 1660.8 1235.2 1661.7 1323.5 1667.4 1254 1688.6 1215.9 1674 1264.4 1660.8 1247.1 1664 1275.2 1674.8 1200.1 1665.5 1337.3 1675.9 1262 1676.4 1282 1675.3 1294.2 1662.2 1320.3 1670.6 1179.7 1681.4 1198.1 1685.4 1194.6 1666.3 1204.1 1660.6 1237.8 1677.3 1269.7 1671.2 1336.6 1660.9 1281.7 1660.9 1219.7 1673.2 1297.2 1662.4 1161.8 1690.8 1283.2 1672.7 1219.9 1662.8 1273.4 1675.2 1216.1 1660.6 1320.2 1664.2 1173 1666.7 1210.8 1662 1295.8 1661.9 1191.4 1665.3 1182.9 1679 1052.3 1674.8 1004.3 1666.3 1129.9 1690 1148.1 1668.2 1035.1 1676.4 1086.5 1669.3 1053.4 1661.3 1003.3 1660.2 1143 1671.5 1111.8 1662.6 1086.3 1661.9 1017 1662.9 1119.1 1684.5 1051.5 1670.2 1131.9 1666 1146.9 1661.4 1136.2 1662.4 1141.1 1660.3 985.6 1661.8 1093 1662.1 1068.1 1664.2 1077.9 1663.3 1042 1660.5 1010.3 1663.2 1145.9 1661 1082.4 1661 1068.4 1675.1 1039.3 1666.9 1027.4 1661.9 1025.5 1651.3 1430.5 1651.3 1430.5 1665 888.3 1668.9 888.3 1668.9 888.3 1656.2 901 1656.2 901 1656.2 901 1674.7 917.3 1674.7 917.3 1700.1 917.3 1664.4 927.4 1679.2 927.4 1697.2 927.4 1653.6 946.4 1653.6 946.4 1653.6 946.4 1658.1 955.1 1658.1 955.1 1655.2 958.3 1655.2 958.3 1776.3 972.3 1794.3 972.3 1666.5 979.2 1666.5 979.2 1666.5 979.2 1673.2 993.2 1707.9 1021.2 1698.2 1030.9 1771.4 1040.3 1787 1040.3 1687.4 1042.3 1664 1042.3 1667.9 1042.3 1747 1056.3 1773.4 1056.3 1775.3 1056.3 1663 1054.4 1666.9 1075.3 1662 1086.2 1666.9 1086.2 1673.2 1086.2 1667.9 1099.7 1677.7 1099.7 1672.4 1104.2 1672.4 1104.2 1710.3 1104.2 1750.9 1136.4 1708.9 1142.3 1713.4 1140.3 1680.6 1138.9 1672.4 1129.2 1677.7 1150.1 1665.9 1150.1 1688.4 1169.2 1729 1169.2 1816 1169.2 1694.3 1190.3 1693.3 1208.2 1730.4 1209.8 1729 1212.7 1756.4 1210.4 1804.2 1210.4 1691.3 1218.2 1712.2 1219.2 1717.3 1225.4 1727.5 1218.2 1736.3 1218.2 1688.4 1239.1 1694.7 1239.1 1699.1 1242 1715.4 1239.1 1743.1 1238.1 1743.1 1238.1 1674.7 1246 1684.5 1246.9 1679.6 1249.8 1691.3 1255.3 1723.2 1255.3 1715.4 1265.5 1683.5 1264.5 1683.5 1271.3 1687.4 1271.3 1692.3 1271.3 1692.3 1278.2 1674.3 1276.6 1668.5 1278.2 1668.5 1278.2 1704.4 1296.3 1684.1 1305.1 1670.8 1305.5 1675.7 1306.1 1670.8 1315.3 1670.8 1323.1 1671.4 1336.4 1664 1366 1661 1371 1677.7 1238.1 1680.6 1230.3 1682.2 1225.4 1676.7 1216.6 1676.7 1216.6 1674.3 1196.1 1674.3 1196.1 1675.7 1181.5 1675.7 1181.5 1667 1181.5 1889.4 972.3 1890.3 1021.3 2192.1 1021.3 1856.3 1040.3 1846.5 1238.1 1863.4 1237.1 1827.5 1254 1872.3 1265.3 2051.3 1265.3"/></g></g>
<g id="matplotlib.axis_11">
<g id="xtick_34">
<g id="line2d_67">
<g>
<use href="#m8da89e27fe" x="793.9104" y="699.36" style="stroke: #000000; stroke-width: 0.8"/>
</g>
</g>
<g id="text_83">
<!-- 0 -->
<g transform="translate(790.72915 713.958437) scale(0.1 -0.1)">
<use href="#DejaVuSans-30"/>
</g>
</g>
</g>
<g id="xtick_35">
<g id="line2d_68">
<g>
<use href="#m8da89e27fe" x="852.1104" y="699.36" style="stroke: #000000; stroke-width: 0.8"/>
</g>
</g>
<g id="text_84">
<!-- 2 -->
<g transform="translate(848.92915 713.958437) scale(0.1 -0.1)">
<use href="#DejaVuSans-32"/>
</g>
</g>
</g>
<g id="xtick_36">
<g id="line2d_69">
<g>
<use href="#m8da89e27fe" x="910.3104" y="699.36" style="stroke: #000000; stroke-width: 0.8"/>
</g>
</g>
<g id="text_85">
<!-- 4 -->
<g transform="translate(907.12915 713.958437) scale(0.1 -0.1)">
<use href="#DejaVuSans-34"/>
</g>
</g>
</g>
<g id="xtick_37">
<g id="line2d_70">
<g>
<use href="#m8da89e27fe" x="968.5104" y="699.36" style="stroke: #000000; stroke-width: 0.8"/>
</g>
</g>
<g id="text_86">
<!-- 6 -->
<g transform="translate(965.32915 713.958437) scale(0.1 -0.1)">
<use href="#DejaVuSans-36"/>
</g>
</g>
</g>
<g id="xtick_38">
<g id="line2d_71">
<g>
<use href="#m8da89e27fe" x="1026.7104" y="699.36" style="stroke: #000000; stroke-width: 0.8"/>
</g>
</g>
<g id="text_87">
<!-- 8 -->
<g transform="translate(1023.52915 713.958437) scale(0.1 -0.1)">
<use href="#DejaVuSans-38"/>
</g>
</g>
</g>
<g id="text_88">
<!-- tot_nitro_content -->
<g transform="translate(879.197031 727.636562) scale(0.1 -0.1)">
<use href="#DejaVuSans-74"/>
<use href="#DejaVuSans-6f" transform="translate(39.208984 0)"/>
<use href="#DejaVuSans-74" transform="translate(100.390625 0)"/>
<use href="#DejaVuSans-5f" transform="translate(139.599609 0)"/>
<use href="#DejaVuSans-6e" transform="translate(189.599609 0)"/>
<use href="#DejaVuSans-69" transform="translate(252.978516 0)"/>
<use href="#DejaVuSans-74" transform="translate(280.761719 0)"/>
<use href="#DejaVuSans-72" transform="translate(319.970703 0)"/>
<use href="#DejaVuSans-6f" transform="translate(358.833984 0)"/>
<use href="#DejaVuSans-5f" transform="translate(420.015625 0)"/>
<use href="#DejaVuSans-63" transform="translate(470.015625 0)"/>
<use href="#DejaVuSans-6f" transform="translate(524.996094 0)"/>
<use href="#DejaVuSans-6e" transform="translate(586.177734 0)"/>
<use href="#DejaVuSans-74" transform="translate(649.556641 0)"/>
<use href="#DejaVuSans-65" transform="translate(688.765625 0)"/>
<use href="#DejaVuSans-6e" transform="translate(750.289062 0)"/>
<use href="#DejaVuSans-74" transform="translate(813.667969 0)"/>
</g>
</g>
</g>
<g id="matplotlib.axis_12">
<g id="ytick_33">
<g id="line2d_72">
<g>
<use href="#mcd1c41be28" x="778.56" y="686.312" style="stroke: #000000; stroke-width: 0.8"/>
</g>
</g>
<g id="text_89">
<!-- 0 -->
<g transform="translate(765.1975 690.111219) scale(0.1 -0.1)">
<use href="#DejaVuSans-30"/>
</g>
</g>
</g>
<g id="ytick_34">
<g id="line2d_73">
<g>
<use href="#mcd1c41be28" x="778.56" y="649.740571" style="stroke: #000000; stroke-width: 0.8"/>
</g>
</g>
<g id="text_90">
<!-- 20000 -->
<g transform="translate(739.7475 653.53979) scale(0.1 -0.1)">
<use href="#DejaVuSans-32"/>
<use href="#DejaVuSans-30" transform="translate(63.623047 0)"/>
<use href="#DejaVuSans-30" transform="translate(127.246094 0)"/>
<use href="#DejaVuSans-30" transform="translate(190.869141 0)"/>
<use href="#DejaVuSans-30" transform="translate(254.492188 0)"/>
</g>
</g>
</g>
<g id="ytick_35">
<g id="line2d_74">
<g>
<use href="#mcd1c41be28" x="778.56" y="613.169143" style="stroke: #000000; stroke-width: 0.8"/>
</g>
</g>
<g id="text_91">
<!-- 40000 -->
<g transform="translate(739.7475 616.968362) scale(0.1 -0.1)">
<use href="#DejaVuSans-34"/>
<use href="#DejaVuSans-30" transform="translate(63.623047 0)"/>
<use href="#DejaVuSans-30" transform="translate(127.246094 0)"/>
<use href="#DejaVuSans-30" transform="translate(190.869141 0)"/>
<use href="#DejaVuSans-30" transform="translate(254.492188 0)"/>
</g>
</g>
</g>
<g id="ytick_36">
<g id="line2d_75">
<g>
<use href="#mcd1c41be28" x="778.56" y="576.597714" style="stroke: #000000; stroke-width: 0.8"/>
</g>
</g>
<g id="text_92">
<!-- 60000 -->
<g transform="translate(739.7475 580.396933) scale(0.1 -0.1)">
<use href="#DejaVuSans-36"/>
<use href="#DejaVuSans-30" transform="translate(63.623047 0)"/>
<use href="#DejaVuSans-30" transform="translate(127.246094 0)"/>
<use href="#DejaVuSans-30" transform="translate(190.869141 0)"/>
<use href="#DejaVuSans-30" transform="translate(254.492188 0)"/>
</g>
</g>
</g>
<g id="ytick_37">
<g id="line2d_76">
<g>
<use href="#mcd1c41be28" x="778.56" y="540.026286" style="stroke: #000000; stroke-width: 0.8"/>
</g>
</g>
<g id="text_93">
<!-- 80000 -->
<g transform="translate(739.7475 543.825504) scale(0.1 -0.1)">
<use href="#DejaVuSans-38"/>
<use href="#DejaVuSans-30" transform="translate(63.623047 0)"/>
<use href="#DejaVuSans-30" transform="translate(127.246094 0)"/>
<use href="#DejaVuSans-30" transform="translate(190.869141 0)"/>
<use href="#DejaVuSans-30" transform="translate(254.492188 0)"/>
</g>
</g>
</g>
<g id="ytick_38">
<g id="line2d_77">
<g>
<use href="#mcd1c41be28" x="778.56" y="503.454857" style="stroke: #000000; stroke-width: 0.8"/>
</g>
</g>
<g id="text_94">
<!-- 100000 -->
<g transform="translate(733.385 507.254076) scale(0.1 -0.1)">
<use href="#DejaVuSans-31"/>
<use href="#DejaVuSans-30" transform="translate(63.623047 0)"/>
<use href="#DejaVuSans-30" transform="translate(127.246094 0)"/>
<use href="#DejaVuSans-30" transform="translate(190.869141 0)"/>
<use href="#DejaVuSans-30" transform="translate(254.492188 0)"/>
<use href="#DejaVuSans-30" transform="translate(318.115234 0)"/>
</g>
</g>
</g>
<g id="ytick_39">
<g id="line2d_78">
<g>
<use href="#mcd1c41be28" x="778.56" y="466.883429" style="stroke: #000000; stroke-width: 0.8"/>
</g>
</g>
<g id="text_95">
<!-- 120000 -->
<g transform="translate(733.385 470.682647) scale(0.1 -0.1)">
<use href="#DejaVuSans-31"/>
<use href="#DejaVuSans-32" transform="translate(63.623047 0)"/>
<use href="#DejaVuSans-30" transform="translate(127.246094 0)"/>
<use href="#DejaVuSans-30" transform="translate(190.869141 0)"/>
<use href="#DejaVuSans-30" transform="translate(254.492188 0)"/>
<use href="#DejaVuSans-30" transform="translate(318.115234 0)"/>
</g>
</g>
</g>
<g id="ytick_40">
<g id="line2d_79">
<g>
<use href="#mcd1c41be28" x="778.56" y="430.312" style="stroke: #000000; stroke-width: 0.8"/>
</g>
</g>
<g id="text_96">
<!-- 140000 -->
<g transform="translate(733.385 434.111219) scale(0.1 -0.1)">
<use href="#DejaVuSans-31"/>
<use href="#DejaVuSans-34" transform="translate(63.623047 0)"/>
<use href="#DejaVuSans-30" transform="translate(127.246094 0)"/>
<use href="#DejaVuSans-30" transform="translate(190.869141 0)"/>
<use href="#DejaVuSans-30" transform="translate(254.492188 0)"/>
<use href="#DejaVuSans-30" transform="translate(318.115234 0)"/>
</g>
</g>
</g>
<g id="text_97">
<!-- Prophage score -->
<g transform="translate(727.305313 594.929375) rotate(-90) scale(0.1 -0.1)">
<use href="#DejaVuSans-50"/>
<use href="#DejaVuSans-72" transform="translate(58.552734 0)"/>
<use href="#DejaVuSans-6f" transform="translate(97.416016 0)"/>
<use href="#DejaVuSans-70" transform="translate(158.597656 0)"/>
<use href="#DejaVuSans-68" transform="translate(222.074219 0)"/>
<use href="#DejaVuSans-61" transform="translate(285.453125 0)"/>
<use href="#DejaVuSans-67" transform="translate(346.732422 0)"/>
<use href="#DejaVuSans-65" transform="translate(410.208984 0)"/>
<use href="#DejaVuSans-20" transform="translate(471.732422 0)"/>
<use href="#DejaVuSans-73" transform="translate(503.519531 0)"/>
<use href="#DejaVuSans-63" transform="translate(555.619141 0)"/>
<use href="#DejaVuSans-6f" transform="translate(610.599609 0)"/>
<use href="#DejaVuSans-72" transform="translate(671.78125 0)"/>
<use href="#DejaVuSans-65" transform="translate(710.644531 0)"/>
</g>
</g>
</g>
<g id="patch_128">
<path d="M 778.56 699.36 L 778.56 413.28 " style="fill: none; stroke: #000000; stroke-width: 0.8; stroke-linejoin: miter; stroke-linecap: square"/>
</g>
<g id="patch_129">
<path d="M 1065.12 699.36 L 1065.12 413.28 " style="fill: none; stroke: #000000; stroke-width: 0.8; stroke-linejoin: miter; stroke-linecap: square"/>
</g>
<g id="patch_130">
<path d="M 778.56 699.36 L 1065.12 699.36 " style="fill: none; stroke: #000000; stroke-width: 0.8; stroke-linejoin: miter; stroke-linecap: square"/>
</g>
<g id="patch_131">
<path d="M 778.56 413.28 L 1065.12 413.28 " style="fill: none; stroke: #000000; stroke-width: 0.8; stroke-linejoin: miter; stroke-linecap: square"/>
</g>
<g id="text_98">
<!-- rho=0.314, p=1.2e-29 -->
<g transform="translate(854.115937 407.28) scale(0.12 -0.12)">
<use href="#DejaVuSans-72"/>
<use href="#DejaVuSans-68" transform="translate(39.363281 0)"/>
<use href="#DejaVuSans-6f" transform="translate(102.742188 0)"/>
<use href="#DejaVuSans-3d" transform="translate(163.923828 0)"/>
<use href="#DejaVuSans-30" transform="translate(247.712891 0)"/>
<use href="#DejaVuSans-2e" transform="translate(311.335938 0)"/>
<use href="#DejaVuSans-33" transform="translate(343.123047 0)"/>
<use href="#DejaVuSans-31" transform="translate(406.746094 0)"/>
<use href="#DejaVuSans-34" transform="translate(470.369141 0)"/>
<use href="#DejaVuSans-2c" transform="translate(533.992188 0)"/>
<use href="#DejaVuSans-20" transform="translate(565.779297 0)"/>
<use href="#DejaVuSans-70" transform="translate(597.566406 0)"/>
<use href="#DejaVuSans-3d" transform="translate(661.042969 0)"/>
<use href="#DejaVuSans-31" transform="translate(744.832031 0)"/>
<use href="#DejaVuSans-2e" transform="translate(808.455078 0)"/>
<use href="#DejaVuSans-32" transform="translate(840.242188 0)"/>
<use href="#DejaVuSans-65" transform="translate(903.865234 0)"/>
<use href="#DejaVuSans-2d" transform="translate(965.388672 0)"/>
<use href="#DejaVuSans-32" transform="translate(1001.472656 0)"/>
<use href="#DejaVuSans-39" transform="translate(1065.095703 0)"/>
</g>
</g>
</g>
<g id="text_99">
<!-- NMDC: Prophage Burden vs Environmental Variables -->
<g transform="translate(365.112187 16.752) scale(0.13 -0.13)">
<defs>
<path id="DejaVuSans-3a" d="M 750 794 L 1409 794 L 1409 0 L 750 0 L 750 794 z
M 750 3309 L 1409 3309 L 1409 2516 L 750 2516 L 750 3309 z
" transform="scale(0.015625)"/>
<path id="DejaVuSans-42" d="M 1259 2228 L 1259 519 L 2272 519 Q 2781 519 3026 730 Q 3272 941 3272 1375 Q 3272 1813 3026 2020 Q 2781 2228 2272 2228 L 1259 2228 z
M 1259 4147 L 1259 2741 L 2194 2741 Q 2656 2741 2882 2914 Q 3109 3088 3109 3444 Q 3109 3797 2882 3972 Q 2656 4147 2194 4147 L 1259 4147 z
M 628 4666 L 2241 4666 Q 2963 4666 3353 4366 Q 3744 4066 3744 3513 Q 3744 3084 3544 2831 Q 3344 2578 2956 2516 Q 3422 2416 3680 2098 Q 3938 1781 3938 1306 Q 3938 681 3513 340 Q 3088 0 2303 0 L 628 0 L 628 4666 z
" transform="scale(0.015625)"/>
<path id="DejaVuSans-45" d="M 628 4666 L 3578 4666 L 3578 4134 L 1259 4134 L 1259 2753 L 3481 2753 L 3481 2222 L 1259 2222 L 1259 531 L 3634 531 L 3634 0 L 628 0 L 628 4666 z
" transform="scale(0.015625)"/>
<path id="DejaVuSans-56" d="M 1831 0 L 50 4666 L 709 4666 L 2188 738 L 3669 4666 L 4325 4666 L 2547 0 L 1831 0 z
" transform="scale(0.015625)"/>
</defs>
<use href="#DejaVuSans-4e"/>
<use href="#DejaVuSans-4d" transform="translate(74.804688 0)"/>
<use href="#DejaVuSans-44" transform="translate(161.083984 0)"/>
<use href="#DejaVuSans-43" transform="translate(238.085938 0)"/>
<use href="#DejaVuSans-3a" transform="translate(307.910156 0)"/>
<use href="#DejaVuSans-20" transform="translate(341.601562 0)"/>
<use href="#DejaVuSans-50" transform="translate(373.388672 0)"/>
<use href="#DejaVuSans-72" transform="translate(431.941406 0)"/>
<use href="#DejaVuSans-6f" transform="translate(470.804688 0)"/>
<use href="#DejaVuSans-70" transform="translate(531.986328 0)"/>
<use href="#DejaVuSans-68" transform="translate(595.462891 0)"/>
<use href="#DejaVuSans-61" transform="translate(658.841797 0)"/>
<use href="#DejaVuSans-67" transform="translate(720.121094 0)"/>
<use href="#DejaVuSans-65" transform="translate(783.597656 0)"/>
<use href="#DejaVuSans-20" transform="translate(845.121094 0)"/>
<use href="#DejaVuSans-42" transform="translate(876.908203 0)"/>
<use href="#DejaVuSans-75" transform="translate(945.511719 0)"/>
<use href="#DejaVuSans-72" transform="translate(1008.890625 0)"/>
<use href="#DejaVuSans-64" transform="translate(1048.253906 0)"/>
<use href="#DejaVuSans-65" transform="translate(1111.730469 0)"/>
<use href="#DejaVuSans-6e" transform="translate(1173.253906 0)"/>
<use href="#DejaVuSans-20" transform="translate(1236.632812 0)"/>
<use href="#DejaVuSans-76" transform="translate(1268.419922 0)"/>
<use href="#DejaVuSans-73" transform="translate(1327.599609 0)"/>
<use href="#DejaVuSans-20" transform="translate(1379.699219 0)"/>
<use href="#DejaVuSans-45" transform="translate(1411.486328 0)"/>
<use href="#DejaVuSans-6e" transform="translate(1474.669922 0)"/>
<use href="#DejaVuSans-76" transform="translate(1538.048828 0)"/>
<use href="#DejaVuSans-69" transform="translate(1597.228516 0)"/>
<use href="#DejaVuSans-72" transform="translate(1625.011719 0)"/>
<use href="#DejaVuSans-6f" transform="translate(1663.875 0)"/>
<use href="#DejaVuSans-6e" transform="translate(1725.056641 0)"/>
<use href="#DejaVuSans-6d" transform="translate(1788.435547 0)"/>
<use href="#DejaVuSans-65" transform="translate(1885.847656 0)"/>
<use href="#DejaVuSans-6e" transform="translate(1947.371094 0)"/>
<use href="#DejaVuSans-74" transform="translate(2010.75 0)"/>
<use href="#DejaVuSans-61" transform="translate(2049.958984 0)"/>
<use href="#DejaVuSans-6c" transform="translate(2111.238281 0)"/>
<use href="#DejaVuSans-20" transform="translate(2139.021484 0)"/>
<use href="#DejaVuSans-56" transform="translate(2170.808594 0)"/>
<use href="#DejaVuSans-61" transform="translate(2231.466797 0)"/>
<use href="#DejaVuSans-72" transform="translate(2292.746094 0)"/>
<use href="#DejaVuSans-69" transform="translate(2333.859375 0)"/>
<use href="#DejaVuSans-61" transform="translate(2361.642578 0)"/>
<use href="#DejaVuSans-62" transform="translate(2422.921875 0)"/>
<use href="#DejaVuSans-6c" transform="translate(2486.398438 0)"/>
<use href="#DejaVuSans-65" transform="translate(2514.181641 0)"/>
<use href="#DejaVuSans-73" transform="translate(2575.705078 0)"/>
</g>
</g>
</g>
<defs>
<clipPath id="p96f0b81eba">
<rect x="65.76" y="70.56" width="286.56" height="286.08"/>
</clipPath>
<clipPath id="p428608d2c8">
<rect x="422.4" y="70.56" width="286.08" height="286.08"/>
</clipPath>
<clipPath id="pd4f8763451">
<rect x="778.56" y="70.56" width="286.56" height="286.08"/>
</clipPath>
<clipPath id="p6eb110c72d">
<rect x="65.76" y="413.28" width="286.56" height="286.08"/>
</clipPath>
<clipPath id="pb0a0da80ba">
<rect x="422.4" y="413.28" width="286.08" height="286.08"/>
</clipPath>
<clipPath id="p0a7adbea87">
<rect x="778.56" y="413.28" width="286.56" height="286.08"/>
</clipPath>
</defs>
</svg>

</body></html>
